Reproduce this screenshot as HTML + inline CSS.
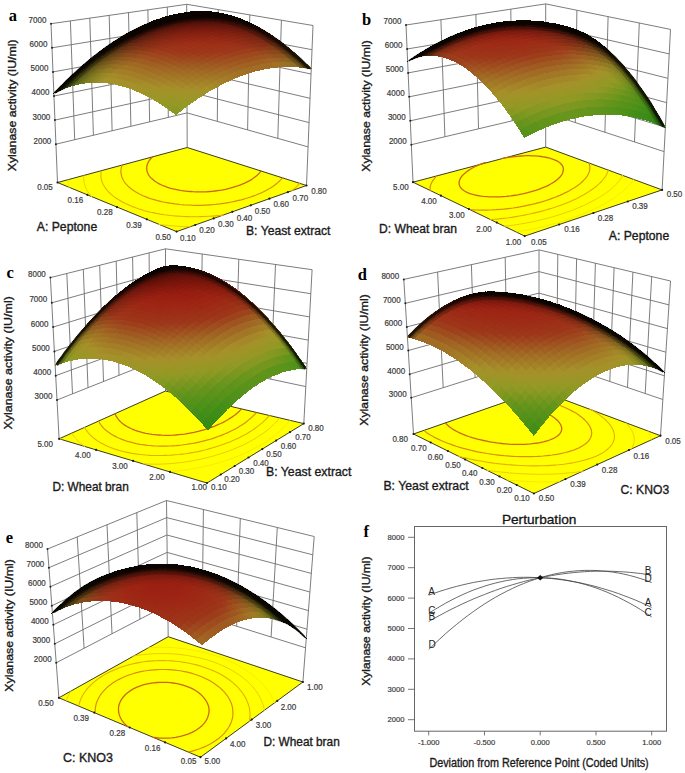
<!DOCTYPE html><html><head><meta charset="utf-8"><style>*{margin:0;padding:0}html,body{width:685px;height:773px;background:#fff;overflow:hidden}
svg{display:block}
text{font-family:"Liberation Sans",sans-serif}
.t{font-size:9.2px;fill:#3a3a3a;stroke:#3a3a3a;stroke-width:.22px}
.yt{font-size:11.2px;fill:#1a1a1a;stroke:#1a1a1a;stroke-width:.35px}
.at{font-size:12.2px;fill:#1a1a1a;stroke:#1a1a1a;stroke-width:.35px}
.pl{font-family:"Liberation Serif",serif;font-weight:bold;font-size:16.5px;fill:#000}
.tf{font-size:7.6px;fill:#3a3a3a;stroke:#3a3a3a;stroke-width:.18px}
.tl{font-size:10px;fill:#222}
.ti{font-size:12.6px;fill:#151515;stroke:#151515;stroke-width:.3px}</style></head><body><svg width="685" height="773" viewBox="0 0 685 773">
<line x1="187.2" y1="147.5" x2="186.7" y2="4.3" stroke="#6e6e6e" stroke-width="0.9"/>
<line x1="168.3" y1="117.4" x2="167.3" y2="7.1" stroke="#6e6e6e" stroke-width="0.9"/>
<line x1="149.6" y1="121.9" x2="147.9" y2="9.8" stroke="#6e6e6e" stroke-width="0.9"/>
<line x1="130.9" y1="126.3" x2="128.5" y2="12.6" stroke="#6e6e6e" stroke-width="0.9"/>
<line x1="112.1" y1="130.8" x2="109.2" y2="15.4" stroke="#6e6e6e" stroke-width="0.9"/>
<line x1="93.4" y1="135.2" x2="89.8" y2="18.2" stroke="#6e6e6e" stroke-width="0.9"/>
<line x1="74.7" y1="139.7" x2="70.4" y2="20.9" stroke="#6e6e6e" stroke-width="0.9"/>
<line x1="57.5" y1="182.5" x2="51" y2="23.7" stroke="#6e6e6e" stroke-width="0.9"/>
<line x1="217.3" y1="121.4" x2="218.3" y2="9.6" stroke="#6e6e6e" stroke-width="0.9"/>
<line x1="247.6" y1="129.9" x2="249.8" y2="14.9" stroke="#6e6e6e" stroke-width="0.9"/>
<line x1="277.8" y1="138.4" x2="281.4" y2="20.2" stroke="#6e6e6e" stroke-width="0.9"/>
<line x1="306.5" y1="185.5" x2="313" y2="25.5" stroke="#6e6e6e" stroke-width="0.9"/>
<line x1="55.9" y1="144.2" x2="187.1" y2="112.9" stroke="#6e6e6e" stroke-width="0.9"/>
<line x1="187.1" y1="112.9" x2="308.1" y2="146.9" stroke="#6e6e6e" stroke-width="0.9"/>
<line x1="54.9" y1="120.1" x2="187" y2="91.2" stroke="#6e6e6e" stroke-width="0.9"/>
<line x1="187" y1="91.2" x2="309.1" y2="122.6" stroke="#6e6e6e" stroke-width="0.9"/>
<line x1="54" y1="96" x2="186.9" y2="69.5" stroke="#6e6e6e" stroke-width="0.9"/>
<line x1="186.9" y1="69.5" x2="310" y2="98.3" stroke="#6e6e6e" stroke-width="0.9"/>
<line x1="53" y1="71.9" x2="186.9" y2="47.7" stroke="#6e6e6e" stroke-width="0.9"/>
<line x1="186.9" y1="47.7" x2="311" y2="74" stroke="#6e6e6e" stroke-width="0.9"/>
<line x1="52" y1="47.8" x2="186.8" y2="26" stroke="#6e6e6e" stroke-width="0.9"/>
<line x1="186.8" y1="26" x2="312" y2="49.7" stroke="#6e6e6e" stroke-width="0.9"/>
<line x1="51" y1="23.7" x2="186.7" y2="4.3" stroke="#6e6e6e" stroke-width="0.9"/>
<line x1="186.7" y1="4.3" x2="313" y2="25.5" stroke="#6e6e6e" stroke-width="0.9"/>
<path d="M187.2 147.5 L57.5 182.5 L176.6 231.6 L306.5 185.5 Z" fill="#ffff00" stroke="#3c3c1e" stroke-width="1"/>
<path d="M68.4 180l-0 1 0 1.2 .1 1.3 .1 .9 .1 .9 .2 .9 .3 1.4" fill="none" stroke="#f6e400" stroke-width="0.8" stroke-linecap="round"/>
<path d="M83.8 175.8l-.1 .9-0 .9 0 1.1 .1 1.2 .1 1.2 .1 .9 .2 .9 .2 .9 .4 1.4 .4 1.1 .3 .8 .4 1 .7 1.5 .5 .8 .5 .8 1.1 1.6 .6 .8 .9 1.1 1 1.3 .6 .7M159 224.4l3.3 .4 2.7 .3 3.6 .4 4.4 .4 3.8 .3 3.2 .2 3.3 .1 3.4 .1 3.5 .1" fill="none" stroke="#eecc00" stroke-width="1.0" stroke-linecap="round"/>
<path d="M291.8 190.7l1.1-.9 1.4-1.2 1.2-1 .9-.8 1.4-1.4 .7-.8 1.1-1.3 .2-.3M101.2 171l-.1 .9-.1 .9-.1 .9-0 1.1 0 1.2 .1 1.2 .1 .9 .2 .9 .2 .9 .3 1.2 .5 1.3 .3 .8 .4 .8 .7 1.3 .7 1.2 .5 .8 .9 1.3 .9 1.1 .7 .8 1.4 1.6 .8 .8 1.6 1.5 .9 .7 1.8 1.5 1 .7 2.1 1.4 2.2 1.4 1.2 .7 2.4 1.4 2.6 1.3 2.8 1.3 2.9 1.3 3.1 1.2 3.3 1.2 3.5 1.1 3.7 1.1 1.9 .5 4 1 3.4 .7 3.1 .6 3.2 .6 3.9 .6 2.5 .3 3.9 .5 4.1 .4 2.9 .2 2.9 .2 3.1 .2 3.5 .1 3.6 .1 3.4 0 3.3-0 3.4-.1 4-.1 4.2-.2 3.4-.2 2.7-.2 3.2-.3 4.6-.5 .7-.1" fill="none" stroke="#e4b000" stroke-width="1.1" stroke-linecap="round"/>
<path d="M122.1 165.2l-.3 .9-.3 .9-.2 .9-.2 .9-.1 .9-.1 .9-0 .9 0 .9 .1 .9 .2 1.2 .3 1.2 .3 1 .3 .8 .3 .8 .6 1.3 .6 1.1 .5 .8 .8 1.1 1 1.2 .7 .8 1.4 1.5 .8 .7 1.6 1.4 1 .8 2 1.4 1 .7 2.2 1.4 2.4 1.3 1.4 .7 2.6 1.2 2.9 1.2 3.1 1.2 3.3 1.1 1.7 .5 3.6 1 3.9 .9 2 .4 4.3 .8 2.3 .4 4.8 .7 2.5 .3 2.6 .3 3.7 .3 3.9 .2 3.7 .2 3.5 .1 3.3 0 3.1-0 3-.1 2.9-.1 3-.2 4.6-.4 3-.3 2.5-.3 4.7-.7 2.2-.4 4.3-.8 2.1-.4 4-.9 3.8-.9 2.3-.6 3-.9 3.3-1.1 3.2-1.1 3-1.1 2.9-1.2 1.4-.6 2.7-1.2 2.5-1.3 1.7-.9 1.8-1 2.2-1.3 1-.7 2-1.4 .9-.7 1.8-1.4 .8-.7 1.5-1.4 .8-.8 .8-.8 1.3-1.4 .6-.8" fill="none" stroke="#d8900a" stroke-width="1.2" stroke-linecap="round"/>
<path d="M152.6 156.8l-.8 .8-.7 .7-.6 .7-.8 1-.7 1-.6 1-.5 1-.4 .9-.3 .9-.2 .9-.2 1-.1 1 0 .9 .1 .9 .1 .9 .2 .8 .3 1 .5 1.3 .5 1 .5 .8 .7 1 1.1 1.3 .7 .7 1.5 1.3 1 .8 1.9 1.4 1.1 .7 2.3 1.3 2.5 1.2 2 .9 2.2 .8 1.6 .6 3.2 1 3.6 .9 3.5 .7 2.6 .5 3 .4 4 .5 2.6 .2 2.8 .2 2.9 .1 3.2 .1 3.4-0 3.7-.1 4-.3 2.5-.2 2.5-.3 4.4-.6 2.1-.3 4-.8 3.7-.9 1.8-.5 3.4-1 3.2-1 3-1.1 1.6-.6 2.5-1.1 2.5-1.2 2-1 1.4-.8 2-1.3 1-.7 1.7-1.3 1-.8 .9-.8 1.3-1.3 .7-.7 .7-.8 .9-1.3 .1-.2" fill="none" stroke="#c86a14" stroke-width="1.3" stroke-linecap="round"/>
<circle cx="57.5" cy="182.5" r="1.1" fill="#1a1a1a"/>
<circle cx="87.3" cy="194.8" r="1.1" fill="#1a1a1a"/>
<circle cx="117" cy="207.1" r="1.1" fill="#1a1a1a"/>
<circle cx="146.8" cy="219.3" r="1.1" fill="#1a1a1a"/>
<circle cx="176.6" cy="231.6" r="1.1" fill="#1a1a1a"/>
<circle cx="306.5" cy="185.5" r="1.1" fill="#1a1a1a"/>
<circle cx="287.9" cy="192.1" r="1.1" fill="#1a1a1a"/>
<circle cx="269.4" cy="198.7" r="1.1" fill="#1a1a1a"/>
<circle cx="250.8" cy="205.3" r="1.1" fill="#1a1a1a"/>
<circle cx="232.3" cy="211.8" r="1.1" fill="#1a1a1a"/>
<circle cx="213.7" cy="218.4" r="1.1" fill="#1a1a1a"/>
<circle cx="195.2" cy="225" r="1.1" fill="#1a1a1a"/>
<g shape-rendering="crispEdges">
<path d="M186.8 13l-5.4 .3 5-1.2 5.4-.2z" fill="#0f0302"/>
<path d="M190.4 11.5l-5.3 1.1 5.1-.1 5.3-1.1z" fill="#0f0302"/>
<path d="M182.7 12.6l-4.4 1.2 4.1-1.2 4.1-.6z" fill="#0f0302"/>
<path d="M194.2 11.1l-5.3 1 5.2 0 5.3-1z" fill="#0e0302"/>
<path d="M186.4 12l-5.3 1.3 5.1-.2 5.3-1.2z" fill="#0f0302"/>
<path d="M178.6 13.3l-5.3 1.5 5.1-.5 5.3-1.5z" fill="#0f0302"/>
<path d="M198 10.9l-5.3 1 5.2 .2 5.3-.9z" fill="#0e0302"/>
<path d="M190.2 11.6l-5.3 1.2 5.2-0 5.3-1.1z" fill="#0e0302"/>
<path d="M182.3 12.7l-5.3 1.4 5.2-.3 5.3-1.4z" fill="#0f0302"/>
<path d="M174.5 14.1l-5.3 1.7 5.1-.6 5.3-1.6z" fill="#0f0302"/>
<path d="M201.8 10.8l-5.4 .9 5.2 .4 5.4-.8z" fill="#0e0302"/>
<path d="M194 11.3l-5.4 1.1 5.2 .2 5.4-1.1z" fill="#0e0302"/>
<path d="M186.1 12.2l-5.4 1.4 5.2-.1 5.4-1.3z" fill="#0e0302"/>
<path d="M178.3 13.5l-5.4 1.6 5.2-.4 5.4-1.5z" fill="#0f0302"/>
<path d="M170.4 15.1l-5.3 1.9 5.1-.6 5.4-1.8z" fill="#0f0402"/>
<path d="M205.7 10.9l-5.4 .8 5.2 .6 5.4-.7z" fill="#0e0302"/>
<path d="M197.8 11.2l-5.4 1 5.2 .3 5.4-1z" fill="#0e0302"/>
<path d="M189.9 11.9l-5.4 1.3 5.2 .1 5.4-1.2z" fill="#0e0302"/>
<path d="M182 12.9l-5.4 1.5 5.2-.2 5.4-1.5z" fill="#0e0302"/>
<path d="M174.1 14.4l-5.4 1.8 5.2-.5 5.4-1.7z" fill="#0f0302"/>
<path d="M166.3 16.2l-5.4 2 5.1-.7 5.4-2z" fill="#0f0402"/>
<path d="M209.6 11.1l-5.4 .7 5.3 .8 5.4-.6z" fill="#0e0302"/>
<path d="M201.7 11.2l-5.4 1 5.2 .5 5.4-.9z" fill="#0e0302"/>
<path d="M193.7 11.7l-5.4 1.2 5.2 .3 5.4-1.1z" fill="#0e0302"/>
<path d="M185.8 12.5l-5.4 1.4 5.2-0 5.4-1.4z" fill="#0e0302"/>
<path d="M177.9 13.8l-5.4 1.7 5.2-.3 5.4-1.6z" fill="#0e0302"/>
<path d="M170 15.4l-5.4 1.9 5.1-.5 5.4-1.9z" fill="#0f0302"/>
<path d="M162.1 17.5l-5.4 2.2 5.1-.8 5.4-2.1z" fill="#0f0402"/>
<path d="M213.5 11.5l-5.4 .6 5.3 1 5.4-.6z" fill="#0e0302"/>
<path d="M205.5 11.4l-5.4 .9 5.3 .7 5.4-.8z" fill="#0e0302"/>
<path d="M197.6 11.7l-5.4 1.1 5.2 .5 5.4-1.1z" fill="#0e0302"/>
<path d="M189.6 12.3l-5.4 1.4 5.2 .2 5.4-1.3z" fill="#0e0302"/>
<path d="M181.7 13.4l-5.4 1.6 5.2-.1 5.4-1.6z" fill="#0e0302"/>
<path d="M173.7 14.8l-5.4 1.9 5.2-.3 5.4-1.8z" fill="#0f0302"/>
<path d="M165.8 16.6l-5.4 2.1 5.1-.6 5.4-2z" fill="#0f0302"/>
<path d="M157.9 18.8l-5.4 2.4 5.1-.9 5.4-2.3z" fill="#0f0402"/>
<path d="M217.5 12.1l-5.4 .5 5.3 1.2 5.4-.5z" fill="#0e0302"/>
<path d="M209.5 11.7l-5.4 .8 5.3 .9 5.4-.7z" fill="#0e0302"/>
<path d="M201.5 11.8l-5.4 1 5.3 .7 5.4-1z" fill="#0e0302"/>
<path d="M193.5 12.2l-5.4 1.3 5.3 .4 5.4-1.2z" fill="#0e0302"/>
<path d="M185.5 13.1l-5.4 1.5 5.2 .1 5.4-1.5z" fill="#0e0302"/>
<path d="M177.5 14.3l-5.4 1.8 5.2-.2 5.4-1.7z" fill="#0e0302"/>
<path d="M169.6 16l-5.4 2 5.2-.4 5.4-2z" fill="#0f0302"/>
<path d="M161.6 18l-5.4 2.3 5.1-.7 5.4-2.2z" fill="#0f0402"/>
<path d="M153.7 20.4l-5.4 2.5 5.1-.9 5.4-2.5z" fill="#0f0402"/>
<path d="M221.4 12.8l-5.4 .5 5.3 1.4 5.4-.4z" fill="#0e0302"/>
<path d="M213.4 12.2l-5.4 .7 5.3 1.1 5.4-.6z" fill="#0e0302"/>
<path d="M205.4 12.1l-5.4 1 5.3 .9 5.4-.9z" fill="#0e0301"/>
<path d="M197.4 12.3l-5.4 1.2 5.3 .6 5.5-1.1z" fill="#0e0302"/>
<path d="M189.4 13l-5.5 1.5 5.3 .3 5.5-1.4z" fill="#0e0302"/>
<path d="M181.3 14l-5.5 1.7 5.2 0 5.5-1.6z" fill="#0e0302"/>
<path d="M173.3 15.4l-5.4 2 5.2-.2 5.5-1.9z" fill="#0e0302"/>
<path d="M165.3 17.2l-5.4 2.2 5.2-.5 5.4-2.1z" fill="#0f0302"/>
<path d="M157.4 19.5l-5.4 2.4 5.1-.8 5.4-2.4z" fill="#0f0402"/>
<path d="M149.4 22.1l-5.4 2.7 5.1-1 5.4-2.6z" fill="#0f0402"/>
<path d="M225.5 13.7l-5.4 .4 5.3 1.6 5.4-.3z" fill="#0e0302"/>
<path d="M217.4 12.9l-5.4 .6 5.3 1.3 5.4-.6z" fill="#0e0302"/>
<path d="M209.4 12.5l-5.5 .9 5.3 1.1 5.5-.8z" fill="#0e0301"/>
<path d="M201.3 12.6l-5.5 1.1 5.3 .8 5.5-1.1z" fill="#0e0301"/>
<path d="M193.2 13l-5.5 1.4 5.3 .5 5.5-1.3z" fill="#0e0302"/>
<path d="M185.2 13.8l-5.5 1.6 5.3 .2 5.5-1.6z" fill="#0e0302"/>
<path d="M177.2 15.1l-5.5 1.9 5.2-0 5.5-1.8z" fill="#0e0302"/>
<path d="M169.1 16.7l-5.5 2.1 5.2-.3 5.5-2.1z" fill="#0f0302"/>
<path d="M161.1 18.7l-5.5 2.4 5.2-.6 5.5-2.3z" fill="#0f0402"/>
<path d="M153.1 21.1l-5.4 2.6 5.1-.8 5.5-2.6z" fill="#0f0402"/>
<path d="M145.1 23.9l-5.4 2.9 5.1-1.1 5.4-2.8z" fill="#0f0402"/>
<path d="M229.5 14.7l-5.4 .3 5.3 1.8 5.4-.2z" fill="#0e0302"/>
<path d="M221.4 13.7l-5.4 .6 5.3 1.5 5.4-.5z" fill="#0e0302"/>
<path d="M213.3 13.2l-5.5 .8 5.3 1.3 5.5-.7z" fill="#0e0301"/>
<path d="M205.3 13l-5.5 1 5.3 1 5.5-1z" fill="#0e0301"/>
<path d="M197.2 13.2l-5.5 1.3 5.3 .7 5.5-1.2z" fill="#0e0301"/>
<path d="M189.1 13.8l-5.5 1.6 5.3 .4 5.5-1.5z" fill="#0e0302"/>
<path d="M181 14.9l-5.5 1.8 5.3 .2 5.5-1.7z" fill="#0e0302"/>
<path d="M172.9 16.3l-5.5 2 5.2-.1 5.5-2z" fill="#0e0302"/>
<path d="M164.9 18.1l-5.5 2.3 5.2-.4 5.5-2.2z" fill="#0f0302"/>
<path d="M156.8 20.3l-5.5 2.5 5.2-.6 5.5-2.5z" fill="#0f0402"/>
<path d="M148.8 22.9l-5.5 2.8 5.1-.9 5.5-2.7z" fill="#0f0402"/>
<path d="M140.8 25.8l-5.4 3 5.1-1.2 5.4-3z" fill="#0f0502"/>
<path d="M233.6 15.9l-5.4 .2 5.4 2 5.4-.2z" fill="#0e0302"/>
<path d="M225.5 14.7l-5.5 .5 5.4 1.7 5.5-.4z" fill="#0e0302"/>
<path d="M217.4 13.9l-5.5 .7 5.3 1.5 5.5-.7z" fill="#0e0301"/>
<path d="M209.2 13.6l-5.5 1 5.3 1.2 5.5-.9z" fill="#0e0301"/>
<path d="M201.1 13.6l-5.5 1.2 5.3 .9 5.5-1.2z" fill="#0e0301"/>
<path d="M193 14l-5.5 1.5 5.3 .6 5.5-1.4z" fill="#0e0302"/>
<path d="M184.9 14.8l-5.5 1.7 5.3 .4 5.5-1.7z" fill="#0e0302"/>
<path d="M176.8 16l-5.5 2 5.3 .1 5.5-1.9z" fill="#0e0302"/>
<path d="M168.7 17.6l-5.5 2.2 5.2-.2 5.5-2.2z" fill="#0f0302"/>
<path d="M160.6 19.6l-5.5 2.5 5.2-.5 5.5-2.4z" fill="#0f0302"/>
<path d="M152.5 22l-5.5 2.7 5.2-.7 5.5-2.7z" fill="#0f0402"/>
<path d="M144.5 24.8l-5.5 3 5.1-1 5.5-2.9z" fill="#0f0402"/>
<path d="M136.4 28l-5.4 3.2 5.1-1.2 5.5-3.1z" fill="#0f0502"/>
<path d="M237.7 17.3l-5.4 .1 5.4 2.2 5.4-.1z" fill="#0e0302"/>
<path d="M229.5 15.9l-5.5 .4 5.4 1.9 5.5-.3z" fill="#0e0302"/>
<path d="M221.4 14.9l-5.5 .6 5.4 1.7 5.5-.6z" fill="#0e0302"/>
<path d="M213.3 14.3l-5.5 .9 5.4 1.4 5.5-.8z" fill="#0e0301"/>
<path d="M205.1 14.1l-5.5 1.1 5.4 1.1 5.5-1.1z" fill="#0e0301"/>
<path d="M196.9 14.3l-5.5 1.4 5.3 .8 5.5-1.3z" fill="#0e0301"/>
<path d="M188.8 14.9l-5.5 1.6 5.3 .6 5.5-1.6z" fill="#0e0302"/>
<path d="M180.6 15.9l-5.5 1.9 5.3 .3 5.5-1.8z" fill="#0e0302"/>
<path d="M172.5 17.3l-5.5 2.1 5.3 0 5.5-2.1z" fill="#0e0302"/>
<path d="M164.4 19.1l-5.5 2.4 5.2-.3 5.5-2.3z" fill="#0f0302"/>
<path d="M156.3 21.3l-5.5 2.6 5.2-.5 5.5-2.6z" fill="#0f0402"/>
<path d="M148.2 23.9l-5.5 2.9 5.2-.8 5.5-2.8z" fill="#0f0402"/>
<path d="M140.1 26.9l-5.5 3.1 5.1-1 5.5-3.1z" fill="#0f0502"/>
<path d="M132.1 30.2l-5.5 3.4 5.1-1.3 5.5-3.3z" fill="#0f0502"/>
<path d="M241.8 18.9l-5.4 .1 5.4 2.4 5.4-0z" fill="#0e0302"/>
<path d="M233.6 17.2l-5.5 .3 5.4 2.1 5.5-.3z" fill="#0e0302"/>
<path d="M225.5 16l-5.5 .6 5.4 1.9 5.5-.5z" fill="#0e0302"/>
<path d="M217.3 15.2l-5.5 .8 5.4 1.6 5.5-.8z" fill="#0e0301"/>
<path d="M209.1 14.8l-5.5 1.1 5.4 1.3 5.5-1z" fill="#0e0301"/>
<path d="M200.9 14.8l-5.5 1.3 5.4 1 5.5-1.3z" fill="#0e0301"/>
<path d="M192.7 15.2l-5.5 1.6 5.3 .8 5.5-1.5z" fill="#0e0302"/>
<path d="M184.6 16l-5.5 1.8 5.3 .5 5.6-1.8z" fill="#0e0302"/>
<path d="M176.4 17.2l-5.5 2.1 5.3 .2 5.6-2z" fill="#0e0302"/>
<path d="M168.2 18.8l-5.5 2.3 5.3-.1 5.5-2.3z" fill="#0e0302"/>
<path d="M160.1 20.7l-5.5 2.6 5.2-.3 5.5-2.5z" fill="#0f0302"/>
<path d="M151.9 23.1l-5.5 2.8 5.2-.6 5.5-2.8z" fill="#0f0402"/>
<path d="M143.8 25.9l-5.5 3.1 5.1-.9 5.5-3z" fill="#0f0402"/>
<path d="M135.7 29.1l-5.5 3.3 5.1-1.1 5.5-3.2z" fill="#0f0502"/>
<path d="M127.7 32.7l-5.5 3.5 5-1.4 5.5-3.5z" fill="#0f0603"/>
<path d="M246 20.6l-5.4-0 5.4 2.6 5.4 .1z" fill="#0f0302"/>
<path d="M237.8 18.7l-5.5 .2 5.4 2.3 5.5-.2z" fill="#0e0302"/>
<path d="M229.6 17.3l-5.5 .5 5.4 2.1 5.5-.4z" fill="#0e0302"/>
<path d="M221.4 16.3l-5.5 .7 5.4 1.8 5.5-.7z" fill="#0e0302"/>
<path d="M213.2 15.7l-5.5 1 5.4 1.5 5.5-.9z" fill="#0e0301"/>
<path d="M204.9 15.4l-5.6 1.2 5.4 1.2 5.6-1.2z" fill="#0e0301"/>
<path d="M196.7 15.6l-5.6 1.5 5.4 1 5.6-1.4z" fill="#0e0301"/>
<path d="M188.5 16.2l-5.6 1.7 5.3 .7 5.6-1.7z" fill="#0e0302"/>
<path d="M180.3 17.2l-5.6 2 5.3 .4 5.6-1.9z" fill="#0e0302"/>
<path d="M172.1 18.6l-5.6 2.2 5.3 .1 5.6-2.2z" fill="#0e0302"/>
<path d="M163.9 20.4l-5.6 2.5 5.3-.1 5.6-2.4z" fill="#0f0302"/>
<path d="M155.7 22.5l-5.5 2.7 5.2-.4 5.6-2.7z" fill="#0f0402"/>
<path d="M147.6 25.1l-5.5 3 5.2-.7 5.5-2.9z" fill="#0f0402"/>
<path d="M139.4 28.1l-5.5 3.2 5.1-.9 5.5-3.2z" fill="#0f0502"/>
<path d="M131.3 31.5l-5.5 3.5 5.1-1.2 5.5-3.4z" fill="#0f0502"/>
<path d="M123.2 35.2l-5.5 3.7 5-1.4 5.5-3.7z" fill="#0f0703"/>
<path d="M250.2 22.5l-5.4-.1 5.4 2.8 5.4 .1z" fill="#160503"/>
<path d="M241.9 20.4l-5.5 .2 5.4 2.5 5.5-.1z" fill="#160503"/>
<path d="M233.7 18.8l-5.5 .4 5.4 2.3 5.5-.4z" fill="#160502"/>
<path d="M225.5 17.5l-5.5 .7 5.4 2 5.5-.6z" fill="#140402"/>
<path d="M217.2 16.7l-5.5 .9 5.4 1.7 5.5-.8z" fill="#120302"/>
<path d="M209 16.3l-5.6 1.2 5.4 1.4 5.6-1.1z" fill="#0e0302"/>
<path d="M200.7 16.2l-5.6 1.4 5.4 1.2 5.6-1.4z" fill="#0e0301"/>
<path d="M192.5 16.6l-5.6 1.7 5.4 .9 5.6-1.6z" fill="#0e0302"/>
<path d="M184.2 17.4l-5.6 1.9 5.4 .6 5.6-1.9z" fill="#0e0302"/>
<path d="M176 18.5l-5.6 2.2 5.3 .3 5.6-2.1z" fill="#0e0302"/>
<path d="M167.8 20.1l-5.6 2.4 5.3 .1 5.6-2.4z" fill="#0e0302"/>
<path d="M159.6 22.1l-5.6 2.7 5.3-.2 5.6-2.6z" fill="#0f0302"/>
<path d="M151.4 24.5l-5.6 2.9 5.2-.5 5.6-2.9z" fill="#0f0402"/>
<path d="M143.2 27.3l-5.5 3.2 5.2-.7 5.6-3.1z" fill="#0f0402"/>
<path d="M135 30.4l-5.5 3.4 5.1-1 5.5-3.4z" fill="#0f0502"/>
<path d="M126.9 34l-5.5 3.6 5.1-1.2 5.5-3.6z" fill="#0f0603"/>
<path d="M118.8 38l-5.5 3.9 5-1.5 5.5-3.8z" fill="#0f0803"/>
<path d="M254.4 24.6l-5.4-.1 5.4 3 5.4 .2z" fill="#230905"/>
<path d="M246.1 22.3l-5.5 .1 5.4 2.7 5.5-0z" fill="#250804"/>
<path d="M237.9 20.4l-5.5 .3 5.4 2.5 5.5-.3z" fill="#240804"/>
<path d="M229.6 19l-5.5 .6 5.4 2.2 5.5-.5z" fill="#230704"/>
<path d="M221.3 17.9l-5.6 .8 5.4 1.9 5.5-.8z" fill="#210704"/>
<path d="M213.1 17.2l-5.6 1.1 5.4 1.6 5.6-1z" fill="#1f0603"/>
<path d="M204.8 17l-5.6 1.3 5.4 1.4 5.6-1.3z" fill="#1b0503"/>
<path d="M196.5 17.1l-5.6 1.6 5.4 1.1 5.6-1.5z" fill="#170402"/>
<path d="M188.2 17.7l-5.6 1.8 5.4 .8 5.6-1.8z" fill="#110302"/>
<path d="M179.9 18.7l-5.6 2.1 5.4 .5 5.6-2z" fill="#0e0302"/>
<path d="M171.7 20l-5.6 2.3 5.3 .3 5.6-2.3z" fill="#0e0302"/>
<path d="M163.4 21.8l-5.6 2.6 5.3-0 5.6-2.5z" fill="#0f0302"/>
<path d="M155.2 24l-5.6 2.8 5.3-.3 5.6-2.8z" fill="#0f0402"/>
<path d="M146.9 26.6l-5.6 3.1 5.2-.5 5.6-3z" fill="#0f0402"/>
<path d="M138.7 29.6l-5.6 3.3 5.2-.8 5.6-3.3z" fill="#0f0502"/>
<path d="M130.6 32.9l-5.5 3.6 5.1-1.1 5.6-3.5z" fill="#0f0502"/>
<path d="M122.4 36.7l-5.5 3.8 5.1-1.3 5.5-3.8z" fill="#0f0703"/>
<path d="M114.3 40.8l-5.5 4.1 5-1.6 5.5-4z" fill="#0f0903"/>
<path d="M258.6 26.8l-5.4-.2 5.4 3.2 5.4 .3z" fill="#2f0d06"/>
<path d="M250.4 24.3l-5.5 0 5.4 3 5.5 0z" fill="#310c06"/>
<path d="M242.1 22.2l-5.5 .3 5.4 2.7 5.5-.2z" fill="#320b06"/>
<path d="M233.8 20.6l-5.5 .5 5.4 2.4 5.5-.5z" fill="#310a06"/>
<path d="M225.5 19.3l-5.6 .8 5.4 2.1 5.6-.7z" fill="#2f0a05"/>
<path d="M217.2 18.4l-5.6 1 5.4 1.8 5.6-.9z" fill="#2d0905"/>
<path d="M208.9 17.9l-5.6 1.3 5.4 1.6 5.6-1.2z" fill="#2a0805"/>
<path d="M200.5 17.9l-5.6 1.5 5.4 1.3 5.6-1.5z" fill="#270804"/>
<path d="M192.2 18.2l-5.6 1.8 5.4 1 5.6-1.7z" fill="#220704"/>
<path d="M183.9 19l-5.6 2 5.4 .7 5.6-2z" fill="#1d0603"/>
<path d="M175.6 20.1l-5.6 2.3 5.4 .5 5.6-2.2z" fill="#160503"/>
<path d="M167.3 21.7l-5.6 2.5 5.3 .2 5.6-2.5z" fill="#0f0302"/>
<path d="M159 23.7l-5.6 2.8 5.3-.1 5.6-2.7z" fill="#0f0302"/>
<path d="M150.8 26l-5.6 3 5.3-.3 5.6-3z" fill="#0f0402"/>
<path d="M142.5 28.8l-5.6 3.3 5.2-.6 5.6-3.2z" fill="#0f0402"/>
<path d="M134.3 32l-5.6 3.5 5.2-.9 5.6-3.5z" fill="#0f0502"/>
<path d="M126.1 35.6l-5.6 3.8 5.1-1.1 5.6-3.7z" fill="#0f0603"/>
<path d="M117.9 39.5l-5.5 4 5.1-1.4 5.5-3.9z" fill="#0f0803"/>
<path d="M109.8 43.9l-5.5 4.2 5-1.6 5.5-4.2z" fill="#0f0a03"/>
<path d="M262.9 29.3l-5.4-.3 5.4 3.4 5.4 .3z" fill="#3a1108"/>
<path d="M254.6 26.6l-5.5-0 5.4 3.2 5.5 .1z" fill="#3c0f08"/>
<path d="M246.3 24.2l-5.5 .2 5.5 2.9 5.5-.1z" fill="#3d0e08"/>
<path d="M238 22.3l-5.5 .4 5.5 2.6 5.5-.4z" fill="#3d0d07"/>
<path d="M229.7 20.8l-5.6 .7 5.5 2.3 5.6-.6z" fill="#3c0d07"/>
<path d="M221.3 19.7l-5.6 .9 5.5 2.1 5.6-.9z" fill="#3a0c06"/>
<path d="M213 19l-5.6 1.2 5.5 1.8 5.6-1.1z" fill="#380b06"/>
<path d="M204.6 18.8l-5.6 1.4 5.4 1.5 5.6-1.4z" fill="#350b06"/>
<path d="M196.3 18.9l-5.6 1.7 5.4 1.2 5.6-1.6z" fill="#320a05"/>
<path d="M187.9 19.4l-5.6 1.9 5.4 .9 5.6-1.9z" fill="#2d0905"/>
<path d="M179.6 20.4l-5.6 2.2 5.4 .7 5.7-2.1z" fill="#280805"/>
<path d="M171.2 21.7l-5.6 2.4 5.4 .4 5.7-2.4z" fill="#210704"/>
<path d="M162.9 23.5l-5.6 2.7 5.3 .1 5.6-2.6z" fill="#190603"/>
<path d="M154.6 25.7l-5.6 2.9 5.3-.1 5.6-2.9z" fill="#0f0402"/>
<path d="M146.3 28.2l-5.6 3.2 5.2-.4 5.6-3.1z" fill="#0f0402"/>
<path d="M138 31.2l-5.6 3.4 5.2-.7 5.6-3.4z" fill="#0f0502"/>
<path d="M129.8 34.6l-5.6 3.7 5.2-.9 5.6-3.6z" fill="#0f0502"/>
<path d="M121.6 38.4l-5.6 3.9 5.1-1.2 5.6-3.9z" fill="#0f0703"/>
<path d="M113.4 42.5l-5.5 4.2 5-1.4 5.6-4.1z" fill="#0f0903"/>
<path d="M105.2 47.1l-5.5 4.4 5-1.7 5.5-4.4z" fill="#0f0b03"/>
<path d="M267.2 31.9l-5.4-.4 5.4 3.6 5.4 .4z" fill="#43150a"/>
<path d="M258.9 29l-5.5-.1 5.5 3.4 5.5 .2z" fill="#45130a"/>
<path d="M250.6 26.4l-5.5 .1 5.5 3.1 5.5-.1z" fill="#471209"/>
<path d="M242.2 24.3l-5.5 .4 5.5 2.8 5.5-.3z" fill="#481009"/>
<path d="M233.9 22.6l-5.6 .6 5.5 2.5 5.6-.6z" fill="#470f08"/>
<path d="M225.5 21.2l-5.6 .9 5.5 2.3 5.6-.8z" fill="#460f08"/>
<path d="M217.1 20.3l-5.6 1.1 5.5 2 5.6-1.1z" fill="#440e08"/>
<path d="M208.7 19.8l-5.6 1.4 5.5 1.7 5.6-1.3z" fill="#420d07"/>
<path d="M200.3 19.7l-5.6 1.6 5.4 1.4 5.7-1.6z" fill="#3f0d07"/>
<path d="M192 20.1l-5.7 1.9 5.4 1.2 5.7-1.8z" fill="#3b0c07"/>
<path d="M183.6 20.8l-5.7 2.1 5.4 .9 5.7-2.1z" fill="#370b06"/>
<path d="M175.2 22l-5.7 2.4 5.4 .6 5.7-2.3z" fill="#320b06"/>
<path d="M166.8 23.5l-5.7 2.6 5.4 .3 5.7-2.6z" fill="#2c0a05"/>
<path d="M158.5 25.5l-5.7 2.9 5.3 .1 5.7-2.8z" fill="#230905"/>
<path d="M150.2 27.8l-5.6 3.1 5.3-.2 5.7-3.1z" fill="#1a0704"/>
<path d="M141.8 30.6l-5.6 3.4 5.2-.5 5.6-3.3z" fill="#0f0402"/>
<path d="M133.5 33.8l-5.6 3.6 5.2-.7 5.6-3.6z" fill="#0f0502"/>
<path d="M125.3 37.4l-5.6 3.9 5.1-1 5.6-3.8z" fill="#0f0603"/>
<path d="M117.1 41.3l-5.6 4.1 5.1-1.3 5.6-4.1z" fill="#0f0803"/>
<path d="M108.9 45.7l-5.6 4.3 5-1.5 5.6-4.3z" fill="#0f0a03"/>
<path d="M100.7 50.4l-5.5 4.6 5-1.7 5.5-4.5z" fill="#0f0c04"/>
<path d="M271.5 34.7l-5.4-.4 5.5 3.8 5.4 .5z" fill="#4c190c"/>
<path d="M263.2 31.5l-5.5-.2 5.5 3.6 5.4 .2z" fill="#4e170b"/>
<path d="M254.8 28.8l-5.5 .1 5.5 3.3 5.5 0z" fill="#50150b"/>
<path d="M246.5 26.4l-5.5 .3 5.5 3 5.5-.2z" fill="#51140a"/>
<path d="M238.1 24.5l-5.6 .5 5.5 2.8 5.6-.5z" fill="#51120a"/>
<path d="M229.7 22.9l-5.6 .8 5.5 2.5 5.6-.7z" fill="#501109"/>
<path d="M221.3 21.8l-5.6 1 5.5 2.2 5.6-1z" fill="#4f1009"/>
<path d="M212.9 21.1l-5.6 1.3 5.5 1.9 5.6-1.2z" fill="#4d1009"/>
<path d="M204.5 20.8l-5.7 1.5 5.5 1.6 5.7-1.5z" fill="#4a0f08"/>
<path d="M196 20.9l-5.7 1.8 5.5 1.4 5.7-1.7z" fill="#480f08"/>
<path d="M187.6 21.4l-5.7 2 5.4 1.1 5.7-2z" fill="#440e08"/>
<path d="M179.2 22.3l-5.7 2.3 5.4 .8 5.7-2.2z" fill="#400e07"/>
<path d="M170.8 23.7l-5.7 2.6 5.4 .5 5.7-2.5z" fill="#3b0d07"/>
<path d="M162.4 25.4l-5.7 2.8 5.4 .3 5.7-2.7z" fill="#350c07"/>
<path d="M154 27.6l-5.7 3.1 5.3-0 5.7-3z" fill="#2c0c06"/>
<path d="M145.7 30.2l-5.7 3.3 5.3-.3 5.7-3.2z" fill="#230a05"/>
<path d="M137.3 33.1l-5.6 3.6 5.2-.5 5.7-3.5z" fill="#180804"/>
<path d="M129 36.5l-5.6 3.8 5.2-.8 5.6-3.7z" fill="#0f0502"/>
<path d="M120.7 40.3l-5.6 4 5.1-1.1 5.6-4z" fill="#0f0703"/>
<path d="M112.5 44.4l-5.6 4.3 5.1-1.3 5.6-4.2z" fill="#0f0903"/>
<path d="M104.3 49l-5.6 4.5 5-1.6 5.6-4.5z" fill="#0f0b03"/>
<path d="M96.1 54l-5.5 4.8 4.9-1.8 5.6-4.7z" fill="#0f0c04"/>
<path d="M275.9 37.7l-5.4-.5 5.5 4.1 5.4 .5z" fill="#531e0e"/>
<path d="M267.5 34.3l-5.5-.3 5.5 3.8 5.4 .3z" fill="#561b0d"/>
<path d="M259.1 31.3l-5.5-0 5.5 3.5 5.5 .1z" fill="#58190d"/>
<path d="M250.8 28.7l-5.5 .2 5.5 3.2 5.5-.2z" fill="#59170c"/>
<path d="M242.4 26.6l-5.6 .5 5.5 3 5.6-.4z" fill="#5a150b"/>
<path d="M233.9 24.8l-5.6 .7 5.5 2.7 5.6-.7z" fill="#5a140b"/>
<path d="M225.5 23.4l-5.6 1 5.5 2.4 5.6-.9z" fill="#59130a"/>
<path d="M217 22.5l-5.7 1.2 5.5 2.1 5.7-1.2z" fill="#57120a"/>
<path d="M208.6 22l-5.7 1.5 5.5 1.8 5.7-1.4z" fill="#55110a"/>
<path d="M200.1 21.9l-5.7 1.7 5.5 1.6 5.7-1.7z" fill="#521109"/>
<path d="M191.7 22.2l-5.7 2 5.5 1.3 5.7-1.9z" fill="#501109"/>
<path d="M183.2 22.9l-5.7 2.2 5.4 1 5.7-2.2z" fill="#4d1009"/>
<path d="M174.8 24l-5.7 2.5 5.4 .7 5.7-2.4z" fill="#491009"/>
<path d="M166.4 25.5l-5.7 2.7 5.4 .5 5.7-2.7z" fill="#431008"/>
<path d="M157.9 27.5l-5.7 3 5.4 .2 5.7-2.9z" fill="#3d0f08"/>
<path d="M149.5 29.9l-5.7 3.2 5.3-.1 5.7-3.2z" fill="#350f07"/>
<path d="M141.2 32.6l-5.7 3.5 5.3-.3 5.7-3.4z" fill="#2c0d07"/>
<path d="M132.8 35.8l-5.7 3.7 5.2-.6 5.7-3.7z" fill="#210b05"/>
<path d="M124.5 39.4l-5.6 4 5.2-.9 5.7-3.9z" fill="#150904"/>
<path d="M116.2 43.3l-5.6 4.2 5.1-1.1 5.6-4.2z" fill="#0f0803"/>
<path d="M107.9 47.7l-5.6 4.5 5.1-1.4 5.6-4.4z" fill="#0f0a03"/>
<path d="M99.7 52.5l-5.6 4.7 5-1.6 5.6-4.6z" fill="#0f0c04"/>
<path d="M91.5 57.6l-5.5 4.9 4.9-1.9 5.6-4.9z" fill="#0f0d04"/>
<path d="M280.2 40.9l-5.4-.6 5.5 4.3 5.4 .6z" fill="#5a2710"/>
<path d="M271.9 37.3l-5.4-.3 5.5 4 5.4 .4z" fill="#5c200f"/>
<path d="M263.5 34l-5.5-.1 5.5 3.7 5.5 .1z" fill="#5f1d0e"/>
<path d="M255.1 31.2l-5.5 .2 5.5 3.4 5.5-.1z" fill="#601b0e"/>
<path d="M246.6 28.8l-5.6 .4 5.5 3.2 5.6-.3z" fill="#61190d"/>
<path d="M238.2 26.8l-5.6 .6 5.5 2.9 5.6-.6z" fill="#62170c"/>
<path d="M229.7 25.3l-5.6 .9 5.5 2.6 5.6-.8z" fill="#62150c"/>
<path d="M221.3 24.1l-5.7 1.1 5.5 2.3 5.7-1.1z" fill="#60140b"/>
<path d="M212.8 23.3l-5.7 1.4 5.5 2.1 5.7-1.3z" fill="#5e140b"/>
<path d="M204.3 23l-5.7 1.6 5.5 1.8 5.7-1.6z" fill="#5c130b"/>
<path d="M195.8 23.1l-5.7 1.9 5.5 1.5 5.7-1.8z" fill="#5a130a"/>
<path d="M187.3 23.6l-5.7 2.2 5.5 1.2 5.7-2.1z" fill="#57120a"/>
<path d="M178.8 24.5l-5.7 2.4 5.4 .9 5.7-2.3z" fill="#54120a"/>
<path d="M170.4 25.8l-5.7 2.7 5.4 .7 5.7-2.6z" fill="#50120a"/>
<path d="M161.9 27.6l-5.7 2.9 5.4 .4 5.7-2.9z" fill="#4b120a"/>
<path d="M153.4 29.7l-5.7 3.2 5.3 .1 5.7-3.1z" fill="#441209"/>
<path d="M145 32.3l-5.7 3.4 5.3-.1 5.7-3.4z" fill="#3c1209"/>
<path d="M136.6 35.3l-5.7 3.7 5.3-.4 5.7-3.6z" fill="#331108"/>
<path d="M128.2 38.6l-5.7 3.9 5.2-.7 5.7-3.9z" fill="#291007"/>
<path d="M119.9 42.4l-5.7 4.2 5.2-.9 5.7-4.1z" fill="#1d0f06"/>
<path d="M111.6 46.6l-5.6 4.4 5.1-1.2 5.7-4.3z" fill="#100a03"/>
<path d="M103.3 51.2l-5.6 4.6 5-1.4 5.6-4.6z" fill="#0f0b04"/>
<path d="M95 56.1l-5.6 4.9 5-1.7 5.6-4.8z" fill="#0f0d04"/>
<path d="M86.8 61.5l-5.6 5.1 4.9-1.9 5.6-5.1z" fill="#0f0e04"/>
<path d="M284.6 44.2l-5.4-.6 5.5 4.5 5.4 .7z" fill="#613013"/>
<path d="M276.3 40.4l-5.4-.4 5.5 4.2 5.4 .4z" fill="#632711"/>
<path d="M267.8 36.9l-5.5-.1 5.5 3.9 5.5 .2z" fill="#652110"/>
<path d="M259.4 33.9l-5.5 .1 5.5 3.7 5.5-0z" fill="#671f0f"/>
<path d="M251 31.3l-5.6 .3 5.5 3.4 5.6-.3z" fill="#681c0e"/>
<path d="M242.5 29.1l-5.6 .6 5.5 3.1 5.6-.5z" fill="#691a0e"/>
<path d="M234 27.3l-5.6 .8 5.5 2.8 5.6-.8z" fill="#69180d"/>
<path d="M225.5 25.9l-5.7 1.1 5.5 2.6 5.7-1z" fill="#69170d"/>
<path d="M217 24.9l-5.7 1.3 5.5 2.3 5.7-1.3z" fill="#67160c"/>
<path d="M208.5 24.3l-5.7 1.6 5.5 2 5.7-1.5z" fill="#65150c"/>
<path d="M199.9 24.2l-5.7 1.8 5.5 1.7 5.7-1.8z" fill="#63150b"/>
<path d="M191.4 24.5l-5.7 2.1 5.5 1.4 5.7-2z" fill="#61150b"/>
<path d="M182.9 25.2l-5.7 2.3 5.5 1.2 5.7-2.3z" fill="#5f140b"/>
<path d="M174.4 26.3l-5.7 2.6 5.4 .9 5.8-2.5z" fill="#5c140b"/>
<path d="M165.9 27.8l-5.7 2.8 5.4 .6 5.8-2.8z" fill="#57150b"/>
<path d="M157.4 29.8l-5.7 3.1 5.4 .3 5.8-3z" fill="#51150b"/>
<path d="M148.9 32.1l-5.7 3.3 5.3 .1 5.7-3.3z" fill="#4b160b"/>
<path d="M140.5 34.9l-5.7 3.6 5.3-.2 5.7-3.5z" fill="#43150a"/>
<path d="M132 38.1l-5.7 3.8 5.3-.5 5.7-3.8z" fill="#3a150a"/>
<path d="M123.7 41.6l-5.7 4.1 5.2-.7 5.7-4z" fill="#311609"/>
<path d="M115.3 45.6l-5.7 4.3 5.1-1 5.7-4.3z" fill="#251508"/>
<path d="M106.9 50l-5.6 4.6 5.1-1.2 5.7-4.5z" fill="#181005"/>
<path d="M98.7 54.8l-5.6 4.8 5-1.5 5.6-4.8z" fill="#0f0c04"/>
<path d="M90.4 59.9l-5.6 5.1 5-1.7 5.6-5z" fill="#0f0e04"/>
<path d="M82.2 65.5l-5.6 5.3 4.9-2 5.6-5.2z" fill="#0e0e04"/>
<path d="M289.1 47.8l-5.4-.7 5.5 4.7 5.4 .7z" fill="#673b16"/>
<path d="M280.7 43.7l-5.4-.4 5.5 4.4 5.4 .5z" fill="#693114"/>
<path d="M272.2 40l-5.5-.2 5.5 4.1 5.5 .3z" fill="#6b2712"/>
<path d="M263.8 36.8l-5.5 0 5.5 3.9 5.5 0z" fill="#6d2311"/>
<path d="M255.3 33.9l-5.6 .3 5.5 3.6 5.6-.2z" fill="#6e2010"/>
<path d="M246.8 31.5l-5.6 .5 5.6 3.3 5.6-.5z" fill="#6f1e0f"/>
<path d="M238.3 29.4l-5.6 .8 5.6 3 5.6-.7z" fill="#701b0e"/>
<path d="M229.8 27.8l-5.7 1 5.6 2.8 5.7-.9z" fill="#701a0e"/>
<path d="M221.2 26.6l-5.7 1.3 5.6 2.5 5.7-1.2z" fill="#6f180d"/>
<path d="M212.7 25.9l-5.7 1.5 5.5 2.2 5.7-1.4z" fill="#6e180d"/>
<path d="M204.1 25.5l-5.7 1.8 5.5 1.9 5.7-1.7z" fill="#6c170d"/>
<path d="M195.5 25.6l-5.8 2 5.5 1.6 5.8-2z" fill="#6a170c"/>
<path d="M187 26l-5.8 2.3 5.5 1.4 5.8-2.2z" fill="#68170c"/>
<path d="M178.4 26.9l-5.8 2.5 5.5 1.1 5.8-2.5z" fill="#66170c"/>
<path d="M169.9 28.2l-5.8 2.8 5.4 .8 5.8-2.7z" fill="#62170c"/>
<path d="M161.4 30l-5.8 3 5.4 .5 5.8-3z" fill="#5d180c"/>
<path d="M152.9 32.1l-5.8 3.3 5.4 .3 5.8-3.2z" fill="#57180c"/>
<path d="M144.4 34.7l-5.8 3.5 5.3-0 5.8-3.5z" fill="#51190c"/>
<path d="M135.9 37.6l-5.7 3.8 5.3-.3 5.8-3.7z" fill="#49190c"/>
<path d="M127.4 41l-5.7 4 5.2-.5 5.7-4z" fill="#411b0c"/>
<path d="M119 44.8l-5.7 4.3 5.2-.8 5.7-4.2z" fill="#371d0b"/>
<path d="M110.6 49l-5.7 4.5 5.1-1.1 5.7-4.5z" fill="#2c1d0a"/>
<path d="M102.3 53.5l-5.7 4.8 5.1-1.3 5.7-4.7z" fill="#201807"/>
<path d="M94 58.5l-5.6 5 5-1.6 5.7-4.9z" fill="#100e04"/>
<path d="M85.7 63.9l-5.6 5.2 4.9-1.8 5.6-5.2z" fill="#0f0e04"/>
<path d="M77.5 69.6l-5.6 5.5 4.9-2 5.6-5.4z" fill="#0e0e03"/>
<path d="M293.5 51.5l-5.4-.7 5.5 4.9 5.4 .8z" fill="#6d4719"/>
<path d="M285.1 47.2l-5.4-.5 5.5 4.6 5.4 .6z" fill="#6f3c16"/>
<path d="M276.7 43.3l-5.5-.3 5.5 4.4 5.5 .3z" fill="#713114"/>
<path d="M268.2 39.8l-5.5-0 5.6 4.1 5.5 .1z" fill="#722713"/>
<path d="M259.7 36.8l-5.6 .2 5.6 3.8 5.6-.1z" fill="#742412"/>
<path d="M251.2 34.1l-5.6 .4 5.6 3.5 5.6-.4z" fill="#752111"/>
<path d="M242.6 31.8l-5.6 .7 5.6 3.3 5.6-.6z" fill="#761f10"/>
<path d="M234.1 30l-5.7 .9 5.6 3 5.7-.9z" fill="#761d0f"/>
<path d="M225.5 28.6l-5.7 1.2 5.6 2.7 5.7-1.1z" fill="#761b0f"/>
<path d="M216.9 27.6l-5.7 1.4 5.6 2.4 5.7-1.4z" fill="#761a0e"/>
<path d="M208.3 27l-5.7 1.7 5.6 2.1 5.7-1.6z" fill="#74190e"/>
<path d="M199.7 26.8l-5.8 1.9 5.5 1.9 5.8-1.9z" fill="#72190e"/>
<path d="M191.1 27.1l-5.8 2.2 5.5 1.6 5.8-2.1z" fill="#71180d"/>
<path d="M182.5 27.7l-5.8 2.4 5.5 1.3 5.8-2.4z" fill="#6e190d"/>
<path d="M174 28.8l-5.8 2.7 5.5 1 5.8-2.6z" fill="#6b190d"/>
<path d="M165.4 30.3l-5.8 3 5.4 .7 5.8-2.9z" fill="#671a0e"/>
<path d="M156.8 32.3l-5.8 3.2 5.4 .5 5.8-3.2z" fill="#621b0e"/>
<path d="M148.3 34.6l-5.8 3.5 5.4 .2 5.8-3.4z" fill="#5d1c0e"/>
<path d="M139.8 37.4l-5.8 3.7 5.3-.1 5.8-3.7z" fill="#561c0e"/>
<path d="M131.3 40.5l-5.8 4 5.3-.3 5.8-3.9z" fill="#4f1f0e"/>
<path d="M122.8 44.1l-5.7 4.2 5.2-.6 5.8-4.2z" fill="#47230e"/>
<path d="M114.4 48.1l-5.7 4.5 5.2-.9 5.7-4.4z" fill="#3e250d"/>
<path d="M106 52.5l-5.7 4.7 5.1-1.1 5.7-4.6z" fill="#33240c"/>
<path d="M97.6 57.3l-5.7 4.9 5.1-1.4 5.7-4.9z" fill="#271f09"/>
<path d="M89.3 62.4l-5.6 5.2 5-1.6 5.7-5.1z" fill="#181506"/>
<path d="M81 68l-5.6 5.4 4.9-1.8 5.6-5.4z" fill="#0e0e03"/>
<path d="M72.8 74l-5.6 5.6 4.9-2.1 5.6-5.6z" fill="#0c0e03"/>
<path d="M298 55.5l-5.4-.8 5.5 5.1 5.3 .8z" fill="#72521b"/>
<path d="M289.6 50.9l-5.4-.6 5.5 4.8 5.4 .6z" fill="#744819"/>
<path d="M281.1 46.8l-5.5-.3 5.5 4.6 5.5 .4z" fill="#763c17"/>
<path d="M272.6 43.1l-5.5-.1 5.6 4.3 5.5 .2z" fill="#773015"/>
<path d="M264.1 39.8l-5.6 .1 5.6 4 5.6-.1z" fill="#792913"/>
<path d="M255.5 36.9l-5.6 .4 5.6 3.7 5.6-.3z" fill="#7a2612"/>
<path d="M247 34.4l-5.6 .6 5.6 3.5 5.6-.6z" fill="#7b2311"/>
<path d="M238.4 32.3l-5.7 .9 5.6 3.2 5.7-.8z" fill="#7c2011"/>
<path d="M229.8 30.7l-5.7 1.1 5.6 2.9 5.7-1.1z" fill="#7c1e10"/>
<path d="M221.2 29.4l-5.7 1.4 5.6 2.6 5.7-1.3z" fill="#7c1d0f"/>
<path d="M212.6 28.6l-5.8 1.6 5.6 2.4 5.8-1.6z" fill="#7b1b0f"/>
<path d="M203.9 28.2l-5.8 1.9 5.6 2.1 5.8-1.8z" fill="#7a1b0f"/>
<path d="M195.3 28.3l-5.8 2.1 5.5 1.8 5.8-2.1z" fill="#781a0f"/>
<path d="M186.7 28.7l-5.8 2.4 5.5 1.5 5.8-2.3z" fill="#761b0f"/>
<path d="M178.1 29.6l-5.8 2.6 5.5 1.2 5.8-2.6z" fill="#731b0f"/>
<path d="M169.4 30.9l-5.8 2.9 5.5 1 5.8-2.8z" fill="#701c0f"/>
<path d="M160.8 32.6l-5.8 3.1 5.4 .7 5.8-3.1z" fill="#6c1d0f"/>
<path d="M152.3 34.7l-5.8 3.4 5.4 .4 5.8-3.3z" fill="#671e0f"/>
<path d="M143.7 37.3l-5.8 3.6 5.4 .1 5.8-3.6z" fill="#621f0f"/>
<path d="M135.2 40.2l-5.8 3.9 5.3-.1 5.8-3.8z" fill="#5b200f"/>
<path d="M126.6 43.6l-5.8 4.1 5.3-.4 5.8-4.1z" fill="#552610"/>
<path d="M118.2 47.4l-5.8 4.4 5.2-.7 5.8-4.3z" fill="#4d2b10"/>
<path d="M109.7 51.6l-5.7 4.6 5.2-.9 5.7-4.6z" fill="#442e0f"/>
<path d="M101.3 56.2l-5.7 4.9 5.1-1.2 5.7-4.8z" fill="#3a2c0e"/>
<path d="M92.9 61.2l-5.7 5.1 5-1.4 5.7-5.1z" fill="#2e270b"/>
<path d="M84.6 66.5l-5.7 5.4 5-1.7 5.7-5.3z" fill="#1d1c07"/>
<path d="M76.3 72.3l-5.6 5.6 4.9-1.9 5.6-5.5z" fill="#0d0e03"/>
<path d="M68 78.5l-5.6 5.8 4.8-2.1 5.6-5.8z" fill="#0b0e03"/>
<path d="M302.5 59.6l-5.3-.8 5.5 5.3 5.3 .9z" fill="#785e1d"/>
<path d="M294 54.9l-5.4-.6 5.5 5 5.4 .7z" fill="#79541c"/>
<path d="M285.6 50.5l-5.5-.4 5.6 4.8 5.4 .4z" fill="#7b481a"/>
<path d="M277.1 46.5l-5.5-.2 5.6 4.5 5.5 .2z" fill="#7c3c18"/>
<path d="M268.5 43l-5.6 .1 5.6 4.2 5.5-0z" fill="#7e3015"/>
<path d="M259.9 39.9l-5.6 .3 5.6 4 5.6-.3z" fill="#7f2a14"/>
<path d="M251.4 37.1l-5.6 .6 5.6 3.7 5.6-.5z" fill="#802713"/>
<path d="M242.7 34.8l-5.7 .8 5.6 3.4 5.7-.7z" fill="#812412"/>
<path d="M234.1 33l-5.7 1.1 5.6 3.1 5.7-1z" fill="#812211"/>
<path d="M225.5 31.5l-5.7 1.3 5.6 2.8 5.7-1.2z" fill="#812011"/>
<path d="M216.8 30.5l-5.7 1.5 5.6 2.6 5.7-1.5z" fill="#811e10"/>
<path d="M208.2 29.8l-5.8 1.8 5.6 2.3 5.8-1.7z" fill="#801d10"/>
<path d="M199.5 29.6l-5.8 2.1 5.6 2 5.8-2z" fill="#7f1d10"/>
<path d="M190.8 29.9l-5.8 2.3 5.6 1.7 5.8-2.3z" fill="#7d1d10"/>
<path d="M182.2 30.5l-5.8 2.6 5.5 1.5 5.8-2.5z" fill="#7b1d10"/>
<path d="M173.5 31.6l-5.8 2.8 5.5 1.2 5.8-2.8z" fill="#781e10"/>
<path d="M164.9 33.1l-5.8 3.1 5.5 .9 5.8-3z" fill="#751f10"/>
<path d="M156.3 35l-5.8 3.3 5.4 .6 5.8-3.3z" fill="#712010"/>
<path d="M147.7 37.4l-5.8 3.6 5.4 .3 5.8-3.5z" fill="#6c2210"/>
<path d="M139.1 40.1l-5.8 3.8 5.4 .1 5.8-3.8z" fill="#662311"/>
<path d="M130.5 43.3l-5.8 4.1 5.3-.2 5.8-4z" fill="#612911"/>
<path d="M122 46.9l-5.8 4.3 5.3-.5 5.8-4.3z" fill="#5a2f12"/>
<path d="M113.5 50.8l-5.8 4.6 5.2-.7 5.8-4.5z" fill="#523412"/>
<path d="M105 55.2l-5.7 4.8 5.1-1 5.8-4.8z" fill="#4a3611"/>
<path d="M96.6 60l-5.7 5.1 5.1-1.2 5.7-5z" fill="#403510"/>
<path d="M88.2 65.2l-5.7 5.3 5-1.5 5.7-5.3z" fill="#322e0c"/>
<path d="M79.8 70.8l-5.7 5.5 5-1.7 5.7-5.5z" fill="#212208"/>
<path d="M71.5 76.8l-5.6 5.8 4.9-1.9 5.7-5.7z" fill="#101304"/>
<path d="M63.3 83.1l-5.6 6 4.8-2.2 5.6-6z" fill="#0a0e03"/>
<path d="M307 63.9l-5.3-.9 5.5 5.5 5.3 .9z" fill="#7d6a1f"/>
<path d="M298.5 58.9l-5.4-.7 5.6 5.3 5.4 .7z" fill="#7e601e"/>
<path d="M290.1 54.4l-5.4-.5 5.6 5 5.4 .5z" fill="#80551d"/>
<path d="M281.5 50.2l-5.5-.2 5.6 4.7 5.5 .3z" fill="#81481b"/>
<path d="M273 46.4l-5.5 0 5.6 4.5 5.5 0z" fill="#823b18"/>
<path d="M264.4 43l-5.6 .3 5.6 4.2 5.6-.2z" fill="#833016"/>
<path d="M255.8 40.1l-5.6 .5 5.6 3.9 5.6-.4z" fill="#852b15"/>
<path d="M247.1 37.5l-5.6 .7 5.6 3.6 5.6-.7z" fill="#862814"/>
<path d="M238.5 35.4l-5.7 1 5.6 3.3 5.6-.9z" fill="#862513"/>
<path d="M229.8 33.7l-5.7 1.2 5.6 3.1 5.7-1.2z" fill="#862312"/>
<path d="M221.1 32.5l-5.7 1.5 5.5 2.8 5.7-1.4z" fill="#862111"/>
<path d="M212.4 31.6l-5.7 1.7 5.5 2.5 5.7-1.7z" fill="#862011"/>
<path d="M203.7 31.2l-5.8 2 5.5 2.2 5.8-1.9z" fill="#851f11"/>
<path d="M195 31.2l-5.8 2.2 5.5 1.9 5.8-2.2z" fill="#831f11"/>
<path d="M186.4 31.7l-5.8 2.5 5.5 1.7 5.8-2.4z" fill="#821f11"/>
<path d="M177.7 32.5l-5.8 2.7 5.5 1.4 5.8-2.7z" fill="#7f2011"/>
<path d="M169 33.8l-5.9 3 5.5 1.1 5.9-2.9z" fill="#7c2111"/>
<path d="M160.3 35.5l-5.9 3.3 5.5 .8 5.9-3.2z" fill="#792211"/>
<path d="M151.7 37.6l-5.8 3.5 5.4 .6 5.9-3.5z" fill="#752412"/>
<path d="M143 40.2l-5.8 3.8 5.4 .3 5.9-3.7z" fill="#702612"/>
<path d="M134.4 43.1l-5.8 4 5.4 0 5.8-4z" fill="#6b2a12"/>
<path d="M125.8 46.5l-5.8 4.3 5.3-.3 5.8-4.2z" fill="#653113"/>
<path d="M117.3 50.3l-5.8 4.5 5.3-.5 5.8-4.5z" fill="#5f3814"/>
<path d="M108.8 54.5l-5.8 4.8 5.2-.8 5.8-4.7z" fill="#583d14"/>
<path d="M100.3 59.1l-5.8 5 5.1-1 5.8-5z" fill="#4f3f13"/>
<path d="M91.8 64.1l-5.7 5.2 5.1-1.3 5.7-5.2z" fill="#453d11"/>
<path d="M83.4 69.4l-5.7 5.5 5-1.5 5.7-5.4z" fill="#35340d"/>
<path d="M75.1 75.2l-5.7 5.7 4.9-1.8 5.7-5.7z" fill="#242809"/>
<path d="M66.8 81.4l-5.6 5.9 4.9-2 5.7-5.9z" fill="#121805"/>
<path d="M58.5 88l-5.6 6.2 4.8-2.2 5.6-6.1z" fill="#090e02"/>
<path d="M303.1 63.2l-5.4-.7 5.6 5.5 5.4 .8z" fill="#836c20"/>
<path d="M294.6 58.4l-5.4-.5 5.6 5.2 5.4 .6z" fill="#85611f"/>
<path d="M286 54l-5.5-.3 5.6 4.9 5.5 .3z" fill="#86551e"/>
<path d="M277.5 50l-5.5-0 5.6 4.7 5.5 .1z" fill="#87471b"/>
<path d="M268.8 46.4l-5.6 .2 5.6 4.4 5.5-.2z" fill="#883b19"/>
<path d="M260.2 43.2l-5.6 .4 5.6 4.1 5.6-.4z" fill="#893016"/>
<path d="M251.6 40.4l-5.6 .7 5.6 3.8 5.6-.6z" fill="#8a2c15"/>
<path d="M242.9 38.1l-5.6 .9 5.6 3.5 5.6-.9z" fill="#8b2914"/>
<path d="M234.2 36.2l-5.6 1.2 5.5 3.3 5.6-1.1z" fill="#8b2713"/>
<path d="M225.5 34.7l-5.7 1.4 5.5 3 5.7-1.4z" fill="#8b2413"/>
<path d="M216.7 33.6l-5.7 1.7 5.5 2.7 5.7-1.6z" fill="#8b2312"/>
<path d="M208 33l-5.7 1.9 5.5 2.4 5.7-1.9z" fill="#8a2212"/>
<path d="M199.3 32.8l-5.7 2.2 5.5 2.2 5.7-2.1z" fill="#892112"/>
<path d="M190.6 33l-5.8 2.4 5.5 1.9 5.8-2.4z" fill="#882112"/>
<path d="M181.8 33.6l-5.8 2.7 5.5 1.6 5.8-2.6z" fill="#862212"/>
<path d="M173.1 34.6l-5.8 2.9 5.5 1.3 5.8-2.9z" fill="#832312"/>
<path d="M164.4 36.1l-5.9 3.2 5.5 1 5.9-3.1z" fill="#802412"/>
<path d="M155.7 38l-5.9 3.4 5.5 .8 5.9-3.4z" fill="#7d2613"/>
<path d="M147 40.4l-5.9 3.7 5.4 .5 5.9-3.6z" fill="#792813"/>
<path d="M138.4 43.1l-5.9 3.9 5.4 .2 5.9-3.9z" fill="#742b14"/>
<path d="M129.7 46.3l-5.8 4.2 5.3-0 5.9-4.1z" fill="#6f3315"/>
<path d="M121.1 49.9l-5.8 4.4 5.3-.3 5.8-4.4z" fill="#6a3b16"/>
<path d="M112.6 53.8l-5.8 4.7 5.2-.6 5.8-4.6z" fill="#644217"/>
<path d="M104 58.2l-5.8 4.9 5.2-.8 5.8-4.9z" fill="#5d4616"/>
<path d="M95.5 63l-5.8 5.2 5.1-1.1 5.8-5.1z" fill="#554815"/>
<path d="M87.1 68.2l-5.7 5.4 5.1-1.3 5.8-5.4z" fill="#474212"/>
<path d="M78.6 73.8l-5.7 5.7 5-1.6 5.7-5.6z" fill="#37390e"/>
<path d="M70.3 79.8l-5.7 5.9 4.9-1.8 5.7-5.9z" fill="#242c09"/>
<path d="M62 86.2l-5.6 6.1 4.8-2 5.7-6.1z" fill="#131d05"/>
<path d="M299.1 62.7l-5.4-.6 5.6 5.4 5.4 .6z" fill="#896d21"/>
<path d="M290.6 58l-5.5-.3 5.6 5.1 5.5 .4z" fill="#8a6220"/>
<path d="M282 53.8l-5.5-.1 5.6 4.9 5.5 .1z" fill="#8b551e"/>
<path d="M273.3 49.9l-5.5 .2 5.6 4.6 5.5-.1z" fill="#8c471b"/>
<path d="M264.7 46.5l-5.5 .4 5.6 4.3 5.5-.3z" fill="#8d3b19"/>
<path d="M256 43.5l-5.6 .6 5.5 4 5.6-.6z" fill="#8e3117"/>
<path d="M247.3 41l-5.6 .9 5.5 3.8 5.6-.8z" fill="#8f2d16"/>
<path d="M238.6 38.8l-5.6 1.1 5.5 3.5 5.6-1.1z" fill="#8f2a15"/>
<path d="M229.8 37.1l-5.6 1.4 5.5 3.2 5.6-1.3z" fill="#8f2814"/>
<path d="M221.1 35.8l-5.7 1.6 5.5 2.9 5.7-1.6z" fill="#8f2614"/>
<path d="M212.3 34.9l-5.7 1.9 5.5 2.7 5.7-1.8z" fill="#8f2513"/>
<path d="M203.6 34.5l-5.7 2.1 5.5 2.4 5.7-2.1z" fill="#8e2413"/>
<path d="M194.8 34.4l-5.7 2.4 5.5 2.1 5.7-2.3z" fill="#8d2413"/>
<path d="M186 34.9l-5.8 2.6 5.5 1.8 5.8-2.6z" fill="#8b2413"/>
<path d="M177.3 35.7l-5.8 2.9 5.5 1.5 5.8-2.8z" fill="#892513"/>
<path d="M168.5 36.9l-5.8 3.1 5.5 1.3 5.8-3.1z" fill="#872613"/>
<path d="M159.8 38.6l-5.9 3.4 5.5 1 5.9-3.3z" fill="#842814"/>
<path d="M151.1 40.7l-5.9 3.6 5.5 .7 5.9-3.6z" fill="#802a14"/>
<path d="M142.3 43.3l-5.9 3.9 5.4 .4 5.9-3.8z" fill="#7c2c14"/>
<path d="M133.7 46.2l-5.9 4.1 5.4 .2 5.9-4.1z" fill="#783416"/>
<path d="M125 49.6l-5.9 4.4 5.3-.1 5.9-4.3z" fill="#743d17"/>
<path d="M116.4 53.4l-5.8 4.6 5.3-.4 5.9-4.6z" fill="#6e4618"/>
<path d="M107.8 57.6l-5.8 4.9 5.2-.6 5.8-4.8z" fill="#684c18"/>
<path d="M99.3 62.2l-5.8 5.1 5.2-.9 5.8-5.1z" fill="#625018"/>
<path d="M90.7 67.2l-5.8 5.4 5.1-1.1 5.8-5.3z" fill="#574f16"/>
<path d="M82.3 72.6l-5.8 5.6 5-1.4 5.8-5.6z" fill="#484812"/>
<path d="M73.8 78.4l-5.7 5.8 5-1.6 5.7-5.8z" fill="#353d0e"/>
<path d="M65.5 84.6l-5.7 6.1 4.9-1.9 5.7-6z" fill="#233009"/>
<path d="M295.1 62.2l-5.4-.4 5.6 5.4 5.4 .4z" fill="#8f6e22"/>
<path d="M286.5 57.8l-5.5-.1 5.6 5.1 5.5 .2z" fill="#906221"/>
<path d="M277.9 53.7l-5.5 .1 5.6 4.8 5.5-.1z" fill="#90551f"/>
<path d="M269.2 50.1l-5.5 .3 5.6 4.5 5.5-.3z" fill="#91471c"/>
<path d="M260.5 46.8l-5.5 .6 5.5 4.2 5.5-.5z" fill="#923b19"/>
<path d="M251.7 44l-5.6 .8 5.5 4 5.6-.8z" fill="#923218"/>
<path d="M243 41.6l-5.6 1.1 5.5 3.7 5.6-1z" fill="#932f17"/>
<path d="M234.2 39.7l-5.6 1.3 5.5 3.4 5.6-1.3z" fill="#932c16"/>
<path d="M225.5 38.1l-5.6 1.6 5.5 3.1 5.6-1.5z" fill="#932a15"/>
<path d="M216.7 37l-5.7 1.8 5.5 2.9 5.7-1.7z" fill="#932814"/>
<path d="M207.9 36.4l-5.7 2 5.5 2.6 5.7-2z" fill="#932714"/>
<path d="M199.1 36.1l-5.7 2.3 5.5 2.3 5.7-2.2z" fill="#922614"/>
<path d="M190.3 36.3l-5.7 2.5 5.5 2 5.7-2.5z" fill="#902614"/>
<path d="M181.5 36.9l-5.8 2.8 5.5 1.8 5.8-2.7z" fill="#8f2714"/>
<path d="M172.7 37.9l-5.8 3 5.4 1.5 5.8-3z" fill="#8d2814"/>
<path d="M163.9 39.4l-5.8 3.3 5.4 1.2 5.8-3.2z" fill="#8a2a14"/>
<path d="M155.1 41.3l-5.9 3.5 5.4 .9 5.9-3.5z" fill="#872b15"/>
<path d="M146.4 43.6l-5.9 3.8 5.4 .7 5.9-3.8z" fill="#842e15"/>
<path d="M137.6 46.4l-5.9 4.1 5.4 .4 5.9-4z" fill="#803517"/>
<path d="M128.9 49.5l-5.9 4.3 5.4 .1 5.9-4.3z" fill="#7c3f18"/>
<path d="M120.3 53.1l-5.9 4.6 5.3-.2 5.9-4.5z" fill="#78481a"/>
<path d="M111.6 57.1l-5.9 4.8 5.3-.4 5.9-4.8z" fill="#73501a"/>
<path d="M103 61.5l-5.8 5.1 5.2-.7 5.9-5z" fill="#6d561a"/>
<path d="M94.5 66.3l-5.8 5.3 5.2-.9 5.8-5.3z" fill="#665a19"/>
<path d="M85.9 71.5l-5.8 5.5 5.1-1.2 5.8-5.5z" fill="#575416"/>
<path d="M77.4 77.1l-5.8 5.8 5-1.4 5.8-5.7z" fill="#474c12"/>
<path d="M69 83.1l-5.7 6 4.9-1.7 5.8-6z" fill="#32400d"/>
<path d="M291.1 62l-5.4-.2 5.6 5.3 5.4 .2z" fill="#946f23"/>
<path d="M282.4 57.7l-5.5 .1 5.6 5 5.5-0z" fill="#946322"/>
<path d="M273.7 53.8l-5.5 .3 5.5 4.7 5.5-.2z" fill="#95541f"/>
<path d="M265 50.3l-5.5 .5 5.5 4.4 5.5-.5z" fill="#96471c"/>
<path d="M256.2 47.3l-5.5 .8 5.5 4.2 5.5-.7z" fill="#963b1a"/>
<path d="M247.5 44.6l-5.6 1 5.5 3.9 5.6-1z" fill="#963318"/>
<path d="M238.7 42.5l-5.6 1.3 5.5 3.6 5.6-1.2z" fill="#973017"/>
<path d="M229.9 40.7l-5.6 1.5 5.5 3.4 5.6-1.4z" fill="#972e16"/>
<path d="M221 39.4l-5.6 1.7 5.5 3.1 5.6-1.7z" fill="#972b16"/>
<path d="M212.2 38.4l-5.7 2 5.5 2.8 5.7-1.9z" fill="#972a15"/>
<path d="M203.4 38l-5.7 2.2 5.5 2.5 5.7-2.2z" fill="#962915"/>
<path d="M194.5 37.9l-5.7 2.5 5.4 2.3 5.7-2.4z" fill="#952915"/>
<path d="M185.7 38.3l-5.7 2.7 5.4 2 5.7-2.7z" fill="#942915"/>
<path d="M176.9 39.1l-5.8 3 5.4 1.7 5.8-2.9z" fill="#922a15"/>
<path d="M168 40.4l-5.8 3.2 5.4 1.4 5.8-3.2z" fill="#902c15"/>
<path d="M159.2 42l-5.8 3.5 5.4 1.2 5.8-3.4z" fill="#8d2d16"/>
<path d="M150.4 44.1l-5.9 3.7 5.4 .9 5.9-3.7z" fill="#8a2f16"/>
<path d="M141.7 46.7l-5.9 4 5.4 .6 5.9-3.9z" fill="#873618"/>
<path d="M132.9 49.6l-5.9 4.3 5.4 .3 5.9-4.2z" fill="#844019"/>
<path d="M124.2 53l-5.9 4.5 5.4 0 5.9-4.5z" fill="#804a1b"/>
<path d="M115.5 56.8l-5.9 4.8 5.3-.2 5.9-4.7z" fill="#7c531c"/>
<path d="M106.8 61l-5.9 5 5.3-.5 5.9-5z" fill="#775a1c"/>
<path d="M98.2 65.6l-5.9 5.3 5.2-.7 5.9-5.2z" fill="#71601c"/>
<path d="M89.6 70.6l-5.8 5.5 5.1-1 5.8-5.4z" fill="#655f19"/>
<path d="M81.1 76l-5.8 5.7 5.1-1.2 5.8-5.7z" fill="#565915"/>
<path d="M72.6 81.8l-5.8 6 5-1.5 5.8-5.9z" fill="#424f11"/>
<path d="M287 61.8l-5.4 0 5.6 5.2 5.4 0z" fill="#996f24"/>
<path d="M278.3 57.7l-5.5 .2 5.5 4.9 5.5-.2z" fill="#996322"/>
<path d="M269.5 54l-5.5 .5 5.5 4.7 5.5-.4z" fill="#99541f"/>
<path d="M260.7 50.7l-5.5 .7 5.5 4.4 5.5-.7z" fill="#9a471d"/>
<path d="M251.9 47.9l-5.5 1 5.5 4.1 5.5-.9z" fill="#9a3c1b"/>
<path d="M243.1 45.4l-5.6 1.2 5.5 3.8 5.6-1.2z" fill="#9a3519"/>
<path d="M234.3 43.4l-5.6 1.4 5.5 3.6 5.6-1.4z" fill="#9b3218"/>
<path d="M225.4 41.9l-5.6 1.7 5.5 3.3 5.6-1.6z" fill="#9b2f17"/>
<path d="M216.6 40.7l-5.6 1.9 5.5 3 5.6-1.9z" fill="#9b2d17"/>
<path d="M207.7 40l-5.7 2.2 5.4 2.7 5.7-2.1z" fill="#9a2c16"/>
<path d="M198.8 39.7l-5.7 2.4 5.4 2.5 5.7-2.4z" fill="#992c16"/>
<path d="M190 39.9l-5.7 2.7 5.4 2.2 5.7-2.6z" fill="#982c16"/>
<path d="M181.1 40.5l-5.7 2.9 5.4 1.9 5.7-2.9z" fill="#972c16"/>
<path d="M172.2 41.5l-5.8 3.2 5.4 1.7 5.8-3.1z" fill="#952e16"/>
<path d="M163.4 43l-5.8 3.4 5.4 1.4 5.8-3.4z" fill="#932f17"/>
<path d="M154.5 44.8l-5.8 3.7 5.4 1.1 5.8-3.6z" fill="#903117"/>
<path d="M145.7 47.1l-5.9 3.9 5.4 .8 5.9-3.9z" fill="#8e3718"/>
<path d="M136.9 49.9l-5.9 4.2 5.4 .5 5.9-4.1z" fill="#8b411a"/>
<path d="M128.1 53l-5.9 4.4 5.4 .3 5.9-4.4z" fill="#874b1c"/>
<path d="M119.4 56.6l-5.9 4.7 5.4-0 5.9-4.6z" fill="#84561e"/>
<path d="M110.7 60.6l-5.9 4.9 5.3-.3 5.9-4.9z" fill="#805d1e"/>
<path d="M102 65l-5.9 5.2 5.2-.5 5.9-5.1z" fill="#7b651e"/>
<path d="M93.4 69.8l-5.9 5.4 5.2-.8 5.9-5.4z" fill="#72681d"/>
<path d="M84.8 75.1l-5.8 5.7 5.1-1 5.9-5.6z" fill="#646319"/>
<path d="M76.2 80.7l-5.8 5.9 5.1-1.3 5.8-5.9z" fill="#515c15"/>
<path d="M282.8 61.8l-5.4 .2 5.5 5.1 5.4-.2z" fill="#9d7024"/>
<path d="M274.1 57.9l-5.5 .4 5.5 4.9 5.5-.4z" fill="#9d6323"/>
<path d="M265.3 54.4l-5.5 .7 5.5 4.6 5.5-.6z" fill="#9d5520"/>
<path d="M256.5 51.3l-5.5 .9 5.5 4.3 5.5-.9z" fill="#9e481d"/>
<path d="M247.6 48.6l-5.5 1.2 5.5 4.1 5.5-1.1z" fill="#9d3d1b"/>
<path d="M238.8 46.4l-5.6 1.4 5.5 3.8 5.6-1.3z" fill="#9d3619"/>
<path d="M229.9 44.6l-5.6 1.6 5.5 3.5 5.6-1.6z" fill="#9d3318"/>
<path d="M221 43.2l-5.6 1.9 5.5 3.2 5.6-1.8z" fill="#9d3118"/>
<path d="M212.1 42.3l-5.6 2.1 5.4 3 5.6-2.1z" fill="#9d2f17"/>
<path d="M203.2 41.7l-5.7 2.4 5.4 2.7 5.7-2.3z" fill="#9d2f17"/>
<path d="M194.3 41.7l-5.7 2.6 5.4 2.4 5.7-2.6z" fill="#9c2f17"/>
<path d="M185.4 42l-5.7 2.8 5.4 2.1 5.7-2.8z" fill="#9b2f17"/>
<path d="M176.4 42.8l-5.7 3.1 5.4 1.9 5.7-3z" fill="#9a3017"/>
<path d="M167.6 44.1l-5.8 3.3 5.4 1.6 5.8-3.3z" fill="#983118"/>
<path d="M158.7 45.7l-5.8 3.6 5.4 1.3 5.8-3.5z" fill="#963318"/>
<path d="M149.8 47.8l-5.8 3.8 5.4 1.1 5.8-3.8z" fill="#933919"/>
<path d="M141 50.3l-5.9 4.1 5.4 .8 5.9-4.1z" fill="#91421b"/>
<path d="M132.1 53.3l-5.9 4.4 5.4 .5 5.9-4.3z" fill="#8e4c1d"/>
<path d="M123.3 56.6l-5.9 4.6 5.4 .2 5.9-4.6z" fill="#8b571f"/>
<path d="M114.6 60.4l-5.9 4.9 5.3-.1 6-4.8z" fill="#87601f"/>
<path d="M105.9 64.6l-5.9 5.1 5.3-.3 5.9-5.1z" fill="#846820"/>
<path d="M97.2 69.2l-5.9 5.4 5.2-.6 5.9-5.3z" fill="#7e6f20"/>
<path d="M88.5 74.3l-5.9 5.6 5.2-.8 5.9-5.6z" fill="#706c1c"/>
<path d="M79.9 79.7l-5.9 5.9 5.1-1.1 5.9-5.8z" fill="#606718"/>
<path d="M278.7 62l-5.4 .4 5.5 5.1 5.4-.3z" fill="#a17025"/>
<path d="M269.8 58.2l-5.5 .6 5.5 4.8 5.5-.6z" fill="#a06323"/>
<path d="M261 54.9l-5.5 .9 5.5 4.5 5.5-.8z" fill="#9f5420"/>
<path d="M252.1 52l-5.5 1.1 5.5 4.3 5.5-1.1z" fill="#9e481d"/>
<path d="M243.3 49.5l-5.5 1.3 5.5 4 5.5-1.3z" fill="#9d3d1b"/>
<path d="M234.3 47.5l-5.6 1.6 5.5 3.7 5.6-1.5z" fill="#9d361a"/>
<path d="M225.4 45.9l-5.6 1.8 5.5 3.4 5.6-1.8z" fill="#9d3419"/>
<path d="M216.5 44.7l-5.6 2.1 5.4 3.2 5.6-2z" fill="#9d3218"/>
<path d="M207.5 43.9l-5.6 2.3 5.4 2.9 5.6-2.3z" fill="#9d3118"/>
<path d="M198.6 43.6l-5.7 2.5 5.4 2.6 5.7-2.5z" fill="#9d3118"/>
<path d="M189.7 43.8l-5.7 2.8 5.4 2.4 5.7-2.7z" fill="#9d3118"/>
<path d="M180.7 44.3l-5.7 3 5.4 2.1 5.7-3z" fill="#9d3218"/>
<path d="M171.8 45.3l-5.7 3.3 5.4 1.8 5.8-3.2z" fill="#9c3319"/>
<path d="M162.9 46.8l-5.8 3.5 5.4 1.5 5.8-3.5z" fill="#9a3519"/>
<path d="M153.9 48.6l-5.8 3.8 5.4 1.3 5.8-3.7z" fill="#983b1a"/>
<path d="M145.1 50.9l-5.8 4 5.4 1 5.8-4z" fill="#96441c"/>
<path d="M136.2 53.7l-5.9 4.3 5.3 .7 5.9-4.2z" fill="#944e1e"/>
<path d="M127.3 56.8l-5.9 4.5 5.3 .4 5.9-4.5z" fill="#91581f"/>
<path d="M118.5 60.4l-5.9 4.8 5.3 .2 5.9-4.8z" fill="#8e6321"/>
<path d="M109.7 64.4l-6 5.1 5.3-.1 6-5z" fill="#8b6b21"/>
<path d="M101 68.8l-5.9 5.3 5.3-.4 6-5.3z" fill="#877422"/>
<path d="M92.3 73.6l-5.9 5.6 5.2-.6 5.9-5.5z" fill="#7c741f"/>
<path d="M83.6 78.9l-5.9 5.8 5.2-.9 5.9-5.8z" fill="#6e711b"/>
<path d="M274.4 62.2l-5.4 .6 5.5 5 5.4-.5z" fill="#a16f25"/>
<path d="M265.6 58.7l-5.5 .8 5.5 4.7 5.5-.8z" fill="#a06123"/>
<path d="M256.7 55.5l-5.5 1.1 5.5 4.5 5.5-1z" fill="#9f5420"/>
<path d="M247.8 52.8l-5.5 1.3 5.5 4.2 5.5-1.2z" fill="#9e481d"/>
<path d="M238.8 50.6l-5.6 1.5 5.5 3.9 5.6-1.5z" fill="#9d3f1b"/>
<path d="M229.9 48.7l-5.6 1.8 5.4 3.7 5.6-1.7z" fill="#9d371a"/>
<path d="M220.9 47.3l-5.6 2 5.4 3.4 5.6-2z" fill="#9d3519"/>
<path d="M212 46.3l-5.6 2.2 5.4 3.1 5.6-2.2z" fill="#9d3319"/>
<path d="M203 45.8l-5.7 2.5 5.4 2.9 5.7-2.4z" fill="#9d3318"/>
<path d="M194 45.7l-5.7 2.7 5.4 2.6 5.7-2.7z" fill="#9d3318"/>
<path d="M185 46l-5.7 3 5.4 2.3 5.7-2.9z" fill="#9d3319"/>
<path d="M176 46.8l-5.7 3.2 5.4 2 5.7-3.2z" fill="#9d3519"/>
<path d="M167.1 48l-5.8 3.5 5.4 1.8 5.8-3.4z" fill="#9d371a"/>
<path d="M158.1 49.7l-5.8 3.7 5.4 1.5 5.8-3.7z" fill="#9d3d1b"/>
<path d="M149.2 51.7l-5.8 4 5.3 1.2 5.8-3.9z" fill="#9c461d"/>
<path d="M140.3 54.2l-5.8 4.2 5.3 1 5.8-4.2z" fill="#994f1e"/>
<path d="M131.4 57.2l-5.9 4.5 5.3 .7 5.9-4.4z" fill="#975a20"/>
<path d="M122.5 60.5l-5.9 4.7 5.3 .4 5.9-4.7z" fill="#956522"/>
<path d="M113.7 64.3l-5.9 5 5.3 .1 5.9-4.9z" fill="#926e23"/>
<path d="M104.9 68.5l-6 5.3 5.3-.2 6-5.2z" fill="#8f7723"/>
<path d="M96.1 73.2l-6 5.5 5.3-.4 6-5.5z" fill="#867b21"/>
<path d="M87.4 78.2l-5.9 5.8 5.2-.7 6-5.7z" fill="#79791e"/>
<path d="M270.2 62.7l-5.5 .8 5.5 5 5.5-.7z" fill="#a16d25"/>
<path d="M261.3 59.3l-5.5 1 5.5 4.7 5.5-1z" fill="#a06022"/>
<path d="M252.3 56.4l-5.5 1.2 5.5 4.4 5.5-1.2z" fill="#9f5420"/>
<path d="M243.4 53.9l-5.5 1.5 5.5 4.1 5.5-1.4z" fill="#9e491e"/>
<path d="M234.4 51.8l-5.6 1.7 5.5 3.9 5.6-1.7z" fill="#9e401c"/>
<path d="M225.4 50.1l-5.6 2 5.4 3.6 5.6-1.9z" fill="#9d391a"/>
<path d="M216.4 48.9l-5.6 2.2 5.4 3.3 5.6-2.1z" fill="#9d361a"/>
<path d="M207.4 48.2l-5.6 2.4 5.4 3.1 5.6-2.4z" fill="#9d3519"/>
<path d="M198.4 47.8l-5.7 2.7 5.4 2.8 5.7-2.6z" fill="#9d3519"/>
<path d="M189.3 47.9l-5.7 2.9 5.4 2.5 5.7-2.9z" fill="#9d3519"/>
<path d="M180.3 48.5l-5.7 3.2 5.4 2.3 5.7-3.1z" fill="#9d3619"/>
<path d="M171.3 49.5l-5.7 3.4 5.4 2 5.7-3.4z" fill="#9d381a"/>
<path d="M162.3 50.9l-5.8 3.6 5.3 1.7 5.8-3.6z" fill="#9d3f1b"/>
<path d="M153.3 52.7l-5.8 3.9 5.3 1.4 5.8-3.9z" fill="#9e471d"/>
<path d="M144.4 55l-5.8 4.1 5.3 1.2 5.8-4.1z" fill="#9e511f"/>
<path d="M135.4 57.7l-5.8 4.4 5.3 .9 5.8-4.4z" fill="#9c5c21"/>
<path d="M126.5 60.9l-5.9 4.7 5.3 .6 5.9-4.6z" fill="#9a6723"/>
<path d="M117.6 64.4l-5.9 4.9 5.3 .4 5.9-4.9z" fill="#987024"/>
<path d="M108.8 68.4l-5.9 5.2 5.3 .1 5.9-5.1z" fill="#967a24"/>
<path d="M100 72.9l-6 5.4 5.3-.2 6-5.4z" fill="#908124"/>
<path d="M91.2 77.7l-6 5.7 5.2-.5 6-5.7z" fill="#837f20"/>
<path d="M265.9 63.3l-5.5 1 5.5 4.9 5.5-.9z" fill="#a16d25"/>
<path d="M256.9 60.1l-5.5 1.2 5.5 4.6 5.5-1.2z" fill="#a06022"/>
<path d="M247.9 57.4l-5.5 1.4 5.5 4.4 5.5-1.4z" fill="#9f5420"/>
<path d="M238.9 55l-5.5 1.7 5.5 4.1 5.5-1.6z" fill="#9e4b1e"/>
<path d="M229.9 53.2l-5.6 1.9 5.4 3.8 5.6-1.9z" fill="#9e431c"/>
<path d="M220.9 51.7l-5.6 2.1 5.4 3.6 5.6-2.1z" fill="#9d3d1b"/>
<path d="M211.8 50.7l-5.6 2.4 5.4 3.3 5.6-2.3z" fill="#9d391a"/>
<path d="M202.8 50.1l-5.7 2.6 5.4 3 5.7-2.6z" fill="#9d371a"/>
<path d="M193.7 50l-5.7 2.9 5.4 2.7 5.7-2.8z" fill="#9d371a"/>
<path d="M184.7 50.3l-5.7 3.1 5.4 2.5 5.7-3.1z" fill="#9d381a"/>
<path d="M175.6 51.1l-5.7 3.3 5.4 2.2 5.7-3.3z" fill="#9d3b1b"/>
<path d="M166.6 52.3l-5.7 3.6 5.3 1.9 5.8-3.5z" fill="#9e411c"/>
<path d="M157.5 53.9l-5.8 3.8 5.3 1.7 5.8-3.8z" fill="#9e481d"/>
<path d="M148.5 56l-5.8 4.1 5.3 1.4 5.8-4z" fill="#9f511f"/>
<path d="M139.5 58.5l-5.8 4.3 5.3 1.1 5.8-4.3z" fill="#9f5d22"/>
<path d="M130.6 61.4l-5.8 4.6 5.3 .9 5.9-4.5z" fill="#9f6924"/>
<path d="M121.6 64.7l-5.9 4.8 5.3 .6 5.9-4.8z" fill="#9e7225"/>
<path d="M112.7 68.5l-5.9 5.1 5.3 .3 5.9-5.1z" fill="#9b7c26"/>
<path d="M103.9 72.7l-5.9 5.4 5.3 0 5.9-5.3z" fill="#998626"/>
<path d="M95 77.4l-6 5.6 5.2-.3 6-5.6z" fill="#8c8523"/>
<path d="M261.5 64l-5.5 1.1 5.5 4.9 5.5-1.1z" fill="#a16c25"/>
<path d="M252.5 61.1l-5.5 1.4 5.5 4.6 5.5-1.3z" fill="#a06022"/>
<path d="M243.5 58.5l-5.5 1.6 5.5 4.3 5.5-1.6z" fill="#9f5620"/>
<path d="M234.4 56.4l-5.6 1.9 5.4 4 5.6-1.8z" fill="#9e4d1e"/>
<path d="M225.4 54.7l-5.6 2.1 5.4 3.8 5.6-2z" fill="#9e461d"/>
<path d="M216.3 53.5l-5.6 2.3 5.4 3.5 5.6-2.3z" fill="#9e411c"/>
<path d="M207.2 52.6l-5.6 2.6 5.4 3.2 5.6-2.5z" fill="#9d3e1b"/>
<path d="M198.1 52.3l-5.7 2.8 5.4 3 5.7-2.8z" fill="#9d3c1b"/>
<path d="M189 52.4l-5.7 3 5.4 2.7 5.7-3z" fill="#9d3d1b"/>
<path d="M179.9 52.9l-5.7 3.3 5.4 2.4 5.7-3.2z" fill="#9d3f1c"/>
<path d="M170.9 53.8l-5.7 3.5 5.3 2.2 5.7-3.5z" fill="#9e441c"/>
<path d="M161.8 55.2l-5.8 3.8 5.3 1.9 5.8-3.7z" fill="#9e4a1e"/>
<path d="M152.7 57.1l-5.8 4 5.3 1.6 5.8-4z" fill="#9f5220"/>
<path d="M143.7 59.4l-5.8 4.3 5.3 1.4 5.8-4.2z" fill="#9f5d22"/>
<path d="M134.7 62.1l-5.8 4.5 5.3 1.1 5.8-4.5z" fill="#a06924"/>
<path d="M125.7 65.2l-5.9 4.8 5.3 .8 5.9-4.7z" fill="#a27426"/>
<path d="M116.7 68.8l-5.9 5 5.3 .5 5.9-5z" fill="#a17e27"/>
<path d="M107.8 72.8l-5.9 5.3 5.2 .3 5.9-5.2z" fill="#9f8927"/>
<path d="M98.9 77.2l-5.9 5.5 5.2-0 5.9-5.5z" fill="#948a25"/>
<path d="M257.1 65l-5.5 1.3 5.5 4.8 5.5-1.3z" fill="#a16c25"/>
<path d="M248.1 62.2l-5.5 1.6 5.5 4.5 5.5-1.5z" fill="#a06123"/>
<path d="M239 59.8l-5.5 1.8 5.4 4.3 5.5-1.8z" fill="#9f5721"/>
<path d="M229.9 57.9l-5.6 2 5.4 4 5.6-2z" fill="#9f501f"/>
<path d="M220.8 56.4l-5.6 2.3 5.4 3.7 5.6-2.2z" fill="#9e491e"/>
<path d="M211.7 55.4l-5.6 2.5 5.4 3.5 5.6-2.5z" fill="#9e451d"/>
<path d="M202.6 54.8l-5.7 2.8 5.4 3.2 5.7-2.7z" fill="#9e431c"/>
<path d="M193.4 54.6l-5.7 3 5.4 2.9 5.7-3z" fill="#9e431c"/>
<path d="M184.3 54.9l-5.7 3.2 5.4 2.7 5.7-3.2z" fill="#9e441d"/>
<path d="M175.2 55.6l-5.7 3.5 5.3 2.4 5.7-3.4z" fill="#9e481d"/>
<path d="M166.1 56.8l-5.7 3.7 5.3 2.1 5.7-3.7z" fill="#9e4d1e"/>
<path d="M157 58.4l-5.8 4 5.3 1.8 5.8-3.9z" fill="#9f5420"/>
<path d="M147.9 60.5l-5.8 4.2 5.3 1.6 5.8-4.2z" fill="#a05d22"/>
<path d="M138.8 62.9l-5.8 4.5 5.3 1.3 5.8-4.4z" fill="#a06824"/>
<path d="M129.8 65.9l-5.8 4.7 5.3 1 5.8-4.7z" fill="#a27325"/>
<path d="M120.8 69.2l-5.9 5 5.2 .8 5.9-4.9z" fill="#a37e27"/>
<path d="M111.8 73l-5.9 5.2 5.2 .5 5.9-5.2z" fill="#a48b29"/>
<path d="M102.9 77.2l-5.9 5.5 5.2 .2 5.9-5.4z" fill="#9c8f27"/>
<path d="M252.7 66l-5.5 1.5 5.5 4.7 5.5-1.5z" fill="#a16d25"/>
<path d="M243.6 63.4l-5.5 1.8 5.5 4.5 5.5-1.7z" fill="#a06323"/>
<path d="M234.5 61.3l-5.6 2 5.4 4.2 5.6-2z" fill="#9f5a21"/>
<path d="M225.3 59.5l-5.6 2.2 5.4 3.9 5.6-2.2z" fill="#9f5320"/>
<path d="M216.2 58.3l-5.6 2.5 5.4 3.7 5.6-2.4z" fill="#9e4e1f"/>
<path d="M207 57.4l-5.6 2.7 5.4 3.4 5.6-2.7z" fill="#9e4b1e"/>
<path d="M197.9 57l-5.7 2.9 5.4 3.1 5.7-2.9z" fill="#9e491e"/>
<path d="M188.7 57.1l-5.7 3.2 5.4 2.9 5.7-3.1z" fill="#9e4a1e"/>
<path d="M179.5 57.6l-5.7 3.4 5.4 2.6 5.7-3.4z" fill="#9e4c1e"/>
<path d="M170.4 58.5l-5.7 3.7 5.3 2.3 5.7-3.6z" fill="#9f501f"/>
<path d="M161.2 59.9l-5.8 3.9 5.3 2.1 5.8-3.9z" fill="#9f5720"/>
<path d="M152.1 61.7l-5.8 4.2 5.3 1.8 5.8-4.1z" fill="#a05f22"/>
<path d="M143 64l-5.8 4.4 5.3 1.5 5.8-4.4z" fill="#a06924"/>
<path d="M133.9 66.7l-5.8 4.6 5.3 1.3 5.8-4.6z" fill="#a27225"/>
<path d="M124.9 69.8l-5.8 4.9 5.2 1 5.9-4.9z" fill="#a37d27"/>
<path d="M115.8 73.4l-5.9 5.2 5.2 .7 5.9-5.1z" fill="#a58a28"/>
<path d="M106.8 77.4l-5.9 5.4 5.2 .4 5.9-5.4z" fill="#a29228"/>
<path d="M248.2 67.3l-5.5 1.7 5.5 4.7 5.5-1.7z" fill="#a16e25"/>
<path d="M239.1 64.9l-5.5 2 5.4 4.4 5.5-1.9z" fill="#a06523"/>
<path d="M229.9 62.9l-5.6 2.2 5.4 4.2 5.6-2.1z" fill="#a05d22"/>
<path d="M220.7 61.4l-5.6 2.4 5.4 3.9 5.6-2.4z" fill="#9f5720"/>
<path d="M211.5 60.3l-5.6 2.7 5.4 3.6 5.6-2.6z" fill="#9f5320"/>
<path d="M202.3 59.7l-5.7 2.9 5.4 3.4 5.7-2.9z" fill="#9f501f"/>
<path d="M193.1 59.5l-5.7 3.1 5.4 3.1 5.7-3.1z" fill="#9f501f"/>
<path d="M183.9 59.8l-5.7 3.4 5.4 2.8 5.7-3.3z" fill="#9f511f"/>
<path d="M174.7 60.5l-5.7 3.6 5.3 2.6 5.7-3.6z" fill="#9f5520"/>
<path d="M165.6 61.6l-5.7 3.9 5.3 2.3 5.8-3.8z" fill="#9f5a21"/>
<path d="M156.4 63.2l-5.8 4.1 5.3 2 5.8-4.1z" fill="#a06123"/>
<path d="M147.2 65.2l-5.8 4.3 5.3 1.8 5.8-4.3z" fill="#a06a24"/>
<path d="M138.1 67.7l-5.8 4.6 5.3 1.5 5.8-4.5z" fill="#a27225"/>
<path d="M129 70.6l-5.8 4.8 5.2 1.2 5.8-4.8z" fill="#a37d27"/>
<path d="M119.9 74l-5.9 5.1 5.2 .9 5.9-5z" fill="#a48828"/>
<path d="M110.9 77.8l-5.9 5.3 5.2 .7 5.9-5.3z" fill="#a39229"/>
<path d="M243.7 68.7l-5.5 1.9 5.5 4.7 5.5-1.9z" fill="#a17025"/>
<path d="M234.5 66.5l-5.6 2.1 5.4 4.4 5.6-2.1z" fill="#a06824"/>
<path d="M225.3 64.7l-5.6 2.4 5.4 4.1 5.6-2.3z" fill="#a06123"/>
<path d="M216.1 63.4l-5.6 2.6 5.4 3.8 5.6-2.6z" fill="#9f5c21"/>
<path d="M206.9 62.5l-5.6 2.9 5.4 3.6 5.6-2.8z" fill="#9f5921"/>
<path d="M197.6 62.1l-5.7 3.1 5.4 3.3 5.7-3z" fill="#9f5720"/>
<path d="M188.4 62.1l-5.7 3.3 5.4 3 5.7-3.3z" fill="#9f5721"/>
<path d="M179.1 62.6l-5.7 3.6 5.3 2.8 5.7-3.5z" fill="#9f5a21"/>
<path d="M169.9 63.5l-5.7 3.8 5.3 2.5 5.7-3.8z" fill="#a05e22"/>
<path d="M160.7 64.9l-5.8 4.1 5.3 2.2 5.8-4z" fill="#a06423"/>
<path d="M151.5 66.7l-5.8 4.3 5.3 2 5.8-4.3z" fill="#a16b24"/>
<path d="M142.3 68.9l-5.8 4.5 5.3 1.7 5.8-4.5z" fill="#a27326"/>
<path d="M133.2 71.6l-5.8 4.8 5.2 1.4 5.8-4.7z" fill="#a37d27"/>
<path d="M124 74.7l-5.8 5 5.2 1.2 5.9-5z" fill="#a48728"/>
<path d="M114.9 78.3l-5.9 5.3 5.2 .9 5.9-5.2z" fill="#a49229"/>
<path d="M239.2 70.2l-5.6 2.1 5.5 4.6 5.6-2.1z" fill="#a17225"/>
<path d="M229.9 68.2l-5.6 2.3 5.4 4.3 5.6-2.3z" fill="#a16b24"/>
<path d="M220.7 66.7l-5.6 2.6 5.4 4.1 5.6-2.5z" fill="#a06623"/>
<path d="M211.4 65.6l-5.6 2.8 5.4 3.8 5.6-2.8z" fill="#a06123"/>
<path d="M202.1 64.9l-5.7 3 5.4 3.5 5.7-3z" fill="#a05f22"/>
<path d="M192.9 64.7l-5.7 3.3 5.4 3.3 5.7-3.2z" fill="#a05e22"/>
<path d="M183.6 64.9l-5.7 3.5 5.4 3 5.7-3.5z" fill="#a06022"/>
<path d="M174.3 65.6l-5.7 3.8 5.3 2.7 5.7-3.7z" fill="#a06323"/>
<path d="M165 66.7l-5.8 4 5.3 2.5 5.8-4z" fill="#a06824"/>
<path d="M155.8 68.3l-5.8 4.2 5.3 2.2 5.8-4.2z" fill="#a16e25"/>
<path d="M146.6 70.3l-5.8 4.5 5.3 1.9 5.8-4.4z" fill="#a27526"/>
<path d="M137.4 72.8l-5.8 4.7 5.3 1.7 5.8-4.7z" fill="#a37d27"/>
<path d="M128.2 75.7l-5.8 5 5.2 1.4 5.8-4.9z" fill="#a48728"/>
<path d="M119 79l-5.9 5.2 5.2 1.1 5.9-5.2z" fill="#a49129"/>
<path d="M234.6 72l-5.6 2.3 5.5 4.6 5.6-2.3z" fill="#a27526"/>
<path d="M225.3 70.2l-5.6 2.5 5.4 4.3 5.6-2.5z" fill="#a16f25"/>
<path d="M216 68.8l-5.6 2.8 5.4 4 5.6-2.7z" fill="#a16b24"/>
<path d="M206.7 67.9l-5.7 3 5.4 3.8 5.7-3z" fill="#a06724"/>
<path d="M197.4 67.5l-5.7 3.2 5.4 3.5 5.7-3.2z" fill="#a06624"/>
<path d="M188 67.4l-5.7 3.5 5.4 3.2 5.7-3.4z" fill="#a06624"/>
<path d="M178.7 67.9l-5.7 3.7 5.3 3 5.7-3.7z" fill="#a06824"/>
<path d="M169.4 68.8l-5.7 4 5.3 2.7 5.8-3.9z" fill="#a16c25"/>
<path d="M160.1 70.1l-5.8 4.2 5.3 2.4 5.8-4.2z" fill="#a17025"/>
<path d="M150.9 71.9l-5.8 4.4 5.3 2.2 5.8-4.4z" fill="#a27726"/>
<path d="M141.6 74.2l-5.8 4.7 5.3 1.9 5.8-4.6z" fill="#a37e27"/>
<path d="M132.4 76.8l-5.8 4.9 5.2 1.6 5.8-4.9z" fill="#a48828"/>
<path d="M123.2 80l-5.9 5.2 5.2 1.4 5.9-5.1z" fill="#a59129"/>
<path d="M229.9 73.9l-5.6 2.5 5.4 4.5 5.6-2.4z" fill="#a27826"/>
<path d="M220.6 72.3l-5.6 2.7 5.4 4.2 5.6-2.7z" fill="#a27325"/>
<path d="M211.3 71.1l-5.6 3 5.4 4 5.6-2.9z" fill="#a16f25"/>
<path d="M201.9 70.4l-5.7 3.2 5.4 3.7 5.7-3.2z" fill="#a16d25"/>
<path d="M192.6 70.2l-5.7 3.4 5.4 3.4 5.7-3.4z" fill="#a16d25"/>
<path d="M183.2 70.4l-5.7 3.7 5.4 3.2 5.7-3.6z" fill="#a16d25"/>
<path d="M173.9 71l-5.7 3.9 5.3 2.9 5.7-3.9z" fill="#a17025"/>
<path d="M164.5 72.2l-5.8 4.1 5.3 2.6 5.8-4.1z" fill="#a27426"/>
<path d="M155.2 73.7l-5.8 4.4 5.3 2.4 5.8-4.3z" fill="#a27926"/>
<path d="M145.9 75.7l-5.8 4.6 5.3 2.1 5.8-4.6z" fill="#a38027"/>
<path d="M136.6 78.2l-5.8 4.9 5.2 1.8 5.8-4.8z" fill="#a48928"/>
<path d="M127.4 81.1l-5.8 5.1 5.2 1.6 5.9-5.1z" fill="#a59129"/>
<path d="M225.3 75.9l-5.6 2.7 5.4 4.5 5.6-2.6z" fill="#a37c27"/>
<path d="M215.9 74.5l-5.6 2.9 5.4 4.2 5.6-2.9z" fill="#a27726"/>
<path d="M206.5 73.6l-5.7 3.1 5.4 3.9 5.7-3.1z" fill="#a27426"/>
<path d="M197.1 73.1l-5.7 3.4 5.4 3.7 5.7-3.3z" fill="#a27325"/>
<path d="M187.7 73.1l-5.7 3.6 5.4 3.4 5.7-3.6z" fill="#a27325"/>
<path d="M178.3 73.5l-5.7 3.9 5.4 3.1 5.7-3.8z" fill="#a27526"/>
<path d="M168.9 74.4l-5.8 4.1 5.3 2.9 5.8-4.1z" fill="#a27826"/>
<path d="M159.6 75.7l-5.8 4.3 5.3 2.6 5.8-4.3z" fill="#a37d27"/>
<path d="M150.2 77.5l-5.8 4.6 5.3 2.3 5.8-4.5z" fill="#a48328"/>
<path d="M140.9 79.7l-5.8 4.8 5.3 2.1 5.8-4.8z" fill="#a58a29"/>
<path d="M131.6 82.4l-5.8 5.1 5.2 1.8 5.9-5z" fill="#a49129"/>
<path d="M220.5 78.2l-5.6 2.9 5.4 4.4 5.6-2.8z" fill="#a38027"/>
<path d="M211.1 77l-5.7 3.1 5.4 4.2 5.7-3.1z" fill="#a37c27"/>
<path d="M201.7 76.3l-5.7 3.3 5.4 3.9 5.7-3.3z" fill="#a37a26"/>
<path d="M192.3 76l-5.7 3.6 5.4 3.6 5.7-3.5z" fill="#a27926"/>
<path d="M182.8 76.2l-5.7 3.8 5.4 3.4 5.7-3.8z" fill="#a37a26"/>
<path d="M173.4 76.8l-5.8 4.1 5.3 3.1 5.8-4z" fill="#a37c27"/>
<path d="M164 77.9l-5.8 4.3 5.3 2.8 5.8-4.3z" fill="#a38027"/>
<path d="M154.6 79.4l-5.8 4.5 5.3 2.6 5.8-4.5z" fill="#a48628"/>
<path d="M145.2 81.4l-5.8 4.8 5.3 2.3 5.8-4.7z" fill="#a58d29"/>
<path d="M135.9 83.9l-5.8 5 5.2 2 5.8-5z" fill="#a39229"/>
<path d="M215.8 80.6l-5.7 3.1 5.4 4.4 5.7-3z" fill="#a48528"/>
<path d="M206.3 79.6l-5.7 3.3 5.4 4.1 5.7-3.3z" fill="#a48227"/>
<path d="M196.8 79.1l-5.7 3.5 5.4 3.9 5.7-3.5z" fill="#a38027"/>
<path d="M187.4 79l-5.7 3.8 5.4 3.6 5.7-3.7z" fill="#a38027"/>
<path d="M177.9 79.4l-5.8 4 5.4 3.3 5.8-4z" fill="#a48227"/>
<path d="M168.5 80.3l-5.8 4.2 5.3 3.1 5.8-4.2z" fill="#a48528"/>
<path d="M159 81.6l-5.8 4.5 5.3 2.8 5.8-4.5z" fill="#a58928"/>
<path d="M149.6 83.4l-5.8 4.7 5.3 2.5 5.8-4.7z" fill="#a58f29"/>
<path d="M140.2 85.6l-5.8 5 5.3 2.3 5.8-4.9z" fill="#a29228"/>
<path d="M211 83.2l-5.7 3.3 5.4 4.4 5.7-3.2z" fill="#a58a28"/>
<path d="M201.5 82.4l-5.7 3.5 5.4 4.1 5.7-3.5z" fill="#a48828"/>
<path d="M191.9 82.1l-5.7 3.7 5.4 3.8 5.7-3.7z" fill="#a48728"/>
<path d="M182.4 82.3l-5.8 4 5.4 3.6 5.8-3.9z" fill="#a48828"/>
<path d="M172.9 82.9l-5.8 4.2 5.4 3.3 5.8-4.2z" fill="#a58a28"/>
<path d="M163.5 84l-5.8 4.4 5.3 3 5.8-4.4z" fill="#a58e29"/>
<path d="M154 85.5l-5.8 4.7 5.3 2.8 5.8-4.6z" fill="#a49129"/>
<path d="M144.5 87.4l-5.8 4.9 5.3 2.5 5.8-4.9z" fill="#a19328"/>
<path d="M206.1 85.9l-5.7 3.5 5.4 4.3 5.7-3.4z" fill="#a59029"/>
<path d="M196.6 85.4l-5.7 3.7 5.4 4 5.7-3.7z" fill="#a58e29"/>
<path d="M187 85.3l-5.8 3.9 5.4 3.8 5.8-3.9z" fill="#a58e29"/>
<path d="M177.5 85.7l-5.8 4.2 5.4 3.5 5.8-4.1z" fill="#a58f29"/>
<path d="M168 86.5l-5.8 4.4 5.3 3.2 5.8-4.4z" fill="#a59129"/>
<path d="M158.4 87.8l-5.8 4.6 5.3 3 5.8-4.6z" fill="#a29228"/>
<path d="M148.9 89.5l-5.8 4.9 5.3 2.7 5.8-4.8z" fill="#9f9428"/>
<path d="M201.2 88.9l-5.7 3.7 5.4 4.3 5.7-3.6z" fill="#a39229"/>
<path d="M191.6 88.6l-5.8 3.9 5.4 4 5.8-3.9z" fill="#a39229"/>
<path d="M182.1 88.7l-5.8 4.1 5.4 3.7 5.8-4.1z" fill="#a39229"/>
<path d="M172.5 89.3l-5.8 4.4 5.4 3.5 5.8-4.3z" fill="#a29328"/>
<path d="M162.9 90.3l-5.8 4.6 5.3 3.2 5.8-4.6z" fill="#a09328"/>
<path d="M153.4 91.8l-5.8 4.8 5.3 2.9 5.8-4.8z" fill="#9d9527"/>
<path d="M196.3 92l-5.8 3.9 5.4 4.2 5.8-3.8z" fill="#9f9428"/>
<path d="M186.7 91.9l-5.8 4.1 5.4 4 5.8-4.1z" fill="#9f9428"/>
<path d="M177.1 92.3l-5.8 4.3 5.4 3.7 5.8-4.3z" fill="#9e9427"/>
<path d="M167.4 93.1l-5.8 4.6 5.4 3.4 5.8-4.5z" fill="#9d9527"/>
<path d="M157.8 94.3l-5.8 4.8 5.3 3.2 5.8-4.8z" fill="#9b9626"/>
<path d="M191.3 95.4l-5.8 4.1 5.4 4.2 5.8-4z" fill="#9b9627"/>
<path d="M181.7 95.5l-5.8 4.3 5.4 3.9 5.8-4.3z" fill="#9b9626"/>
<path d="M172 96l-5.8 4.5 5.4 3.7 5.8-4.5z" fill="#9a9626"/>
<path d="M162.4 97l-5.8 4.8 5.3 3.4 5.8-4.7z" fill="#989726"/>
<path d="M186.3 98.9l-5.8 4.3 5.4 4.2 5.8-4.2z" fill="#979725"/>
<path d="M176.6 99.2l-5.8 4.5 5.4 3.9 5.8-4.5z" fill="#969825"/>
<path d="M166.9 100l-5.8 4.7 5.4 3.6 5.8-4.7z" fill="#959825"/>
<path d="M181.3 102.6l-5.8 4.5 5.4 4.1 5.8-4.4z" fill="#929924"/>
<path d="M171.5 103.1l-5.8 4.7 5.4 3.9 5.9-4.7z" fill="#909924"/>
<path d="M176.2 106.4l-5.8 4.7 5.4 4.1 5.9-4.6z" fill="#899822"/>
</g>
<clipPath id="cla"><path d="M54 92.1l2-2.3 2-1.7 2-2.3 2-1.9 2-2 2-2.2 2-1.8 2-1.9 2-2.1 2-1.7 2-1.8 2-2 2-1.6 2-1.7 2-1.9 2-1.6 2-1.6 2-1.8 2-1.7 2-1.5 2-1.5 2-1.6 2-1.6 2-1.4 2-1.4 2-1.5 2-1.5 2-1.4 2-1.2 2-1.4 2-1.2 2-1.3 2-1.3 2-1.3 2-1.2 2-1.2 2-1 2-1.1 2-1.1 2-.9 2-1 2-1 2-1 2-.9 2-.9 2-.9 2-.8 2-.8 2-.9 2-.7 2-.8 2-.7 2-.6 2-.6 2-.6 2-.6 2-.6 2-.6 2-.5 2-.4 2-.4 2-.4 2-.3 2-.3 2-.3 2-.3 2-.3 2-.2 2-.2 2-.2 2-.1 2-.1 2-.1 2-0 2 0 2 .1 2 .1 2 .1 2 .2 2 .2 2 .3 2 .3 2 .3 2 .4 2 .4 2 .4 2 .6 2 .5 2 .5 2 .6 2 .8 2 .7 2 .7 2 .7 2 .8 2 1 2 .9 2 .9 2 .9 2 1 2 1 2 1 2 1.1 2 1.1 2 1.2 2 1.2 2 1.5 2 1.3 2 1.3 2 1.1 2 1.4 2 1.4 2 1.5 2 1.5 2 1.6 2 1.6 2 1.6 2 1.7 2 1.7 2 1.8 2 1.8 2 1.4 2 1.9 2 1.9 2 2 2 2 2 2 2 1.6 1 3-2-.4-2-.3-2-.4-2-.3-2-.2-2-.2-2-.2-2-.1-2-.1-2-.1-2-0-2 0-2 .1-2 .1-2 .1-2 .2-2 .2-2 .2-2 .2-2 .3-2 .3-2 .3-2 .4-2 .4-2 .4-2 .5-2 .5-2 .6-2 .6-2 .5-2 .7-2 .7-2 .7-2 .8-2 .6-2 .8-2 .9-2 .9-2 .7-2 1-2 1-2 .8-2 1.1-2 1.1-2 .8-2 1.2-2 .9-2 1.2-2 .9-2 1.3-2 1.3-2 1-2 1.4-2 1.1-2 1.5-2 1.1-2 1.5-2 1.2-2 1.6-2 1.2-2 1.3-2 1.7-2 1.3-2 1.8-2 1.4-2 1.4-2 1.9-2 .5-2-1.7-2-1.6-2-1.2-2-1.5-2-1.5-2-1.4-2-1.1-2-1.4-2-1.3-2-1.3-2-1.2-2-1.2-2-.9-2-1.1-2-1.1-2-1-2-1-2-.9-2-.9-2-.8-2-.8-2-.8-2-.7-2-.7-2-.6-2-.6-2-.6-2-.6-2-.5-2-.4-2-.4-2-.3-2-.4-2-.3-2-.2-2-.2-2-.2-2-.1-2-0-2 0-2 .1-2 .1-2 .2-2 .2-2 .3-2 .3-2 .3-2 .4-2 .4-2 .5-2 .6-2 .6-2 .6-2 .7-2 .8-2 .8-2 .9-2 .9-2 1-2 1z"/></clipPath><g clip-path="url(#cla)">
<path d="M54 98.6l2-2.3 2-1.7 2-2.3 2-1.9 2-2 2-2.2 2-1.8 2-1.9 2-2.1 2-1.7 2-1.8 2-2 2-1.6 2-1.7 2-1.9 2-1.6 2-1.6 2-1.8 2-1.7 2-1.5 2-1.5 2-1.6 2-1.6 2-1.4 2-1.4 2-1.5 2-1.5 2-1.4 2-1.2 2-1.4 2-1.2 2-1.3 2-1.3 2-1.3 2-1.2 2-1.2 2-1 2-1.1 2-1.1 2-.9 2-1 2-1 2-1 2-.9 2-.9 2-.9 2-.8 2-.8 2-.9 2-.7 2-.8 2-.7 2-.6 2-.6 2-.6 2-.6 2-.6 2-.6 2-.5 2-.4 2-.4 2-.4 2-.3 2-.3 2-.3 2-.3 2-.3 2-.2 2-.2 2-.2 2-.1 2-.1 2-.1 2-0 2 0 2 .1 2 .1 2 .1 2 .2 2 .2 2 .3 2 .3 2 .3 2 .4 2 .4 2 .4 2 .6 2 .5 2 .5 2 .6 2 .8 2 .7 2 .7 2 .7 2 .8 2 1 2 .9 2 .9 2 .9 2 1 2 1 2 1 2 1.1 2 1.1 2 1.2 2 1.2 2 1.5 2 1.3 2 1.3 2 1.1 2 1.4 2 1.4 2 1.5 2 1.5 2 1.6 2 1.6 2 1.6 2 1.7 2 1.7 2 1.8 2 1.8 2 1.4 2 1.9 2 1.9 2 2 2 2 2 2 2 1.6" fill="none" stroke="#0a0602" stroke-opacity="0.22" stroke-width="7" stroke-linejoin="round"/>
<path d="M54 96.4l2-2.3 2-1.7 2-2.3 2-1.9 2-2 2-2.2 2-1.8 2-1.9 2-2.1 2-1.7 2-1.8 2-2 2-1.6 2-1.7 2-1.9 2-1.6 2-1.6 2-1.8 2-1.7 2-1.5 2-1.5 2-1.6 2-1.6 2-1.4 2-1.4 2-1.5 2-1.5 2-1.4 2-1.2 2-1.4 2-1.2 2-1.3 2-1.3 2-1.3 2-1.2 2-1.2 2-1 2-1.1 2-1.1 2-.9 2-1 2-1 2-1 2-.9 2-.9 2-.9 2-.8 2-.8 2-.9 2-.7 2-.8 2-.7 2-.6 2-.6 2-.6 2-.6 2-.6 2-.6 2-.5 2-.4 2-.4 2-.4 2-.3 2-.3 2-.3 2-.3 2-.3 2-.2 2-.2 2-.2 2-.1 2-.1 2-.1 2-0 2 0 2 .1 2 .1 2 .1 2 .2 2 .2 2 .3 2 .3 2 .3 2 .4 2 .4 2 .4 2 .6 2 .5 2 .5 2 .6 2 .8 2 .7 2 .7 2 .7 2 .8 2 1 2 .9 2 .9 2 .9 2 1 2 1 2 1 2 1.1 2 1.1 2 1.2 2 1.2 2 1.5 2 1.3 2 1.3 2 1.1 2 1.4 2 1.4 2 1.5 2 1.5 2 1.6 2 1.6 2 1.6 2 1.7 2 1.7 2 1.8 2 1.8 2 1.4 2 1.9 2 1.9 2 2 2 2 2 2 2 1.6" fill="none" stroke="#0a0602" stroke-opacity="0.35" stroke-width="4.5" stroke-linejoin="round"/>
<path d="M54 94.6l2-2.3 2-1.7 2-2.3 2-1.9 2-2 2-2.2 2-1.8 2-1.9 2-2.1 2-1.7 2-1.8 2-2 2-1.6 2-1.7 2-1.9 2-1.6 2-1.6 2-1.8 2-1.7 2-1.5 2-1.5 2-1.6 2-1.6 2-1.4 2-1.4 2-1.5 2-1.5 2-1.4 2-1.2 2-1.4 2-1.2 2-1.3 2-1.3 2-1.3 2-1.2 2-1.2 2-1 2-1.1 2-1.1 2-.9 2-1 2-1 2-1 2-.9 2-.9 2-.9 2-.8 2-.8 2-.9 2-.7 2-.8 2-.7 2-.6 2-.6 2-.6 2-.6 2-.6 2-.6 2-.5 2-.4 2-.4 2-.4 2-.3 2-.3 2-.3 2-.3 2-.3 2-.2 2-.2 2-.2 2-.1 2-.1 2-.1 2-0 2 0 2 .1 2 .1 2 .1 2 .2 2 .2 2 .3 2 .3 2 .3 2 .4 2 .4 2 .4 2 .6 2 .5 2 .5 2 .6 2 .8 2 .7 2 .7 2 .7 2 .8 2 1 2 .9 2 .9 2 .9 2 1 2 1 2 1 2 1.1 2 1.1 2 1.2 2 1.2 2 1.5 2 1.3 2 1.3 2 1.1 2 1.4 2 1.4 2 1.5 2 1.5 2 1.6 2 1.6 2 1.6 2 1.7 2 1.7 2 1.8 2 1.8 2 1.4 2 1.9 2 1.9 2 2 2 2 2 2 2 1.6" fill="none" stroke="#0a0602" stroke-opacity="0.7" stroke-width="3.6" stroke-linejoin="round"/>
</g>
<circle cx="55.9" cy="144.2" r="1" fill="#222"/>
<text x="51.3" y="143.6" class="t" text-anchor="end" textLength="17.8" lengthAdjust="spacingAndGlyphs">2000</text>
<circle cx="54.9" cy="120.1" r="1" fill="#222"/>
<text x="50.3" y="119.5" class="t" text-anchor="end" textLength="17.8" lengthAdjust="spacingAndGlyphs">3000</text>
<circle cx="54" cy="96" r="1" fill="#222"/>
<text x="49.4" y="95.4" class="t" text-anchor="end" textLength="17.8" lengthAdjust="spacingAndGlyphs">4000</text>
<circle cx="53" cy="71.9" r="1" fill="#222"/>
<text x="48.4" y="71.3" class="t" text-anchor="end" textLength="17.8" lengthAdjust="spacingAndGlyphs">5000</text>
<circle cx="52" cy="47.8" r="1" fill="#222"/>
<text x="47.4" y="47.2" class="t" text-anchor="end" textLength="17.8" lengthAdjust="spacingAndGlyphs">6000</text>
<circle cx="51" cy="23.7" r="1" fill="#222"/>
<text x="46.4" y="23.1" class="t" text-anchor="end" textLength="17.8" lengthAdjust="spacingAndGlyphs">7000</text>
<line x1="545.7" y1="147.1" x2="545.7" y2="3.9" stroke="#6e6e6e" stroke-width="0.9"/>
<line x1="512.1" y1="120.9" x2="510.8" y2="9.2" stroke="#6e6e6e" stroke-width="0.9"/>
<line x1="478.5" y1="128.8" x2="475.9" y2="14.4" stroke="#6e6e6e" stroke-width="0.9"/>
<line x1="444.9" y1="136.8" x2="440.9" y2="19.7" stroke="#6e6e6e" stroke-width="0.9"/>
<line x1="413" y1="182.2" x2="406" y2="25" stroke="#6e6e6e" stroke-width="0.9"/>
<line x1="575.3" y1="122.6" x2="576.9" y2="10.3" stroke="#6e6e6e" stroke-width="0.9"/>
<line x1="604.9" y1="132.3" x2="608.1" y2="16.7" stroke="#6e6e6e" stroke-width="0.9"/>
<line x1="634.5" y1="142" x2="639.3" y2="23" stroke="#6e6e6e" stroke-width="0.9"/>
<line x1="662.1" y1="189.9" x2="670.5" y2="29.4" stroke="#6e6e6e" stroke-width="0.9"/>
<line x1="411.3" y1="144.7" x2="545.7" y2="112.9" stroke="#6e6e6e" stroke-width="0.9"/>
<line x1="545.7" y1="112.9" x2="664.1" y2="151.6" stroke="#6e6e6e" stroke-width="0.9"/>
<line x1="410.3" y1="120.8" x2="545.7" y2="91.1" stroke="#6e6e6e" stroke-width="0.9"/>
<line x1="545.7" y1="91.1" x2="665.4" y2="127.2" stroke="#6e6e6e" stroke-width="0.9"/>
<line x1="409.2" y1="96.8" x2="545.7" y2="69.3" stroke="#6e6e6e" stroke-width="0.9"/>
<line x1="545.7" y1="69.3" x2="666.7" y2="102.7" stroke="#6e6e6e" stroke-width="0.9"/>
<line x1="408.1" y1="72.9" x2="545.7" y2="47.5" stroke="#6e6e6e" stroke-width="0.9"/>
<line x1="545.7" y1="47.5" x2="667.9" y2="78.3" stroke="#6e6e6e" stroke-width="0.9"/>
<line x1="407.1" y1="49" x2="545.7" y2="25.7" stroke="#6e6e6e" stroke-width="0.9"/>
<line x1="545.7" y1="25.7" x2="669.2" y2="53.9" stroke="#6e6e6e" stroke-width="0.9"/>
<line x1="406" y1="25" x2="545.7" y2="3.9" stroke="#6e6e6e" stroke-width="0.9"/>
<line x1="545.7" y1="3.9" x2="670.5" y2="29.4" stroke="#6e6e6e" stroke-width="0.9"/>
<path d="M545.7 147.1 L413 182.2 L524.7 236.1 L662.1 189.9 Z" fill="#ffff00" stroke="#3c3c1e" stroke-width="1"/>
<path d="M516.2 231.9l2.4-.4 4.8-.8 3.8-.7 3.2-.6 4.5-.9 3-.7 3.5-.8 4.2-1 4.1-1.1 4-1.1 2-.6 3.9-1.1 3.8-1.2 3.7-1.2 3.6-1.2 3.5-1.2 3.4-1.3 2.6-1 2.3-.9 3.2-1.3 3.1-1.3 3-1.3 1.5-.7 2.8-1.4 2.8-1.4 1.9-1 2.2-1.2 2.6-1.4 1.3-.7 2.5-1.5 1.5-.9 2.1-1.3 1.6-1.1 1.7-1.2 1.4-1 1.7-1.3 1-.8 1.9-1.6 .9-.8 1.6-1.4 1.1-1 .8-.8 1.6-1.6 .8-.8 .7-.8 1.2-1.5 .8-1 .6-.8 .7-1 .5-.7" fill="none" stroke="#f6e400" stroke-width="0.8" stroke-linecap="round"/>
<path d="M504.6 226.3l4.6-.6 3-.4 4.2-.6 3-.5 4.7-.8 2.3-.4 4.5-.9 4.4-.9 2.1-.5 4.2-1 4.1-1 4-1.1 3.9-1.1 1.9-.6 3.7-1.1 3.6-1.2 3.5-1.2 1.7-.6 3.4-1.2 3.3-1.3 3.2-1.3 3.1-1.3 2.6-1.2 1.8-.8 2.8-1.4 2.8-1.4 1.3-.7 2.6-1.4 1.6-.9 2.2-1.3 2.1-1.2 1.5-.9 2-1.3 1.3-.9 1.6-1.2 1.5-1.1 1.1-.8 1.8-1.5 .9-.8 1.4-1.3 1.1-1.1 .8-.8 1.2-1.3 1-1.2 .7-.8 .8-1 1-1.4 .7-1 .5-.9 .5-.9 .5-.9" fill="none" stroke="#eecc00" stroke-width="1.0" stroke-linecap="round"/>
<path d="M490.5 219.5l4.7-.3 3.5-.3 2.6-.3 5.1-.6 2.5-.3 4.1-.6 3.1-.5 4.6-.8 2.3-.4 4.4-.9 3.3-.7 3.1-.7 4.1-1 4-1 3.9-1.1 3.7-1.1 2.4-.7 3-1 1.7-.6 3.4-1.2 3.3-1.2 3.2-1.2 3.1-1.3 3-1.3 1.5-.7 2.8-1.3 2.7-1.4 1.3-.7 2.6-1.4 1.5-.9 2.1-1.3 1.7-1.1 1.7-1.1 1.5-1 1.7-1.2 1-.8 1.9-1.5 .9-.8 1.3-1.1 1.3-1.3 .8-.8 1-1.1 1.2-1.4 .7-.8 .6-.8 .8-1.1 .8-1.3 .6-1.1 .4-.9 .4-.9 .4-.9 .3-1 .2-.9" fill="none" stroke="#e4b000" stroke-width="1.1" stroke-linecap="round"/>
<path d="M469.7 209.5l3.5 .3 3.1 .2 3.3 .1 3.6 0 3.2-0 3-.1 2.9-.1 3.4-.2 4.8-.4 2.6-.2 3-.3 4.4-.5 2.4-.3 4.6-.7 2.5-.4 4-.8 4.2-.9 2.6-.6 3.4-.8 3.8-1 3.7-1 3.6-1.1 3.4-1.1 3.3-1.2 3.2-1.2 1.6-.6 2.9-1.2 2.9-1.3 2.4-1.2 1.7-.8 2.6-1.4 1.2-.7 2.4-1.4 1.2-.7 2.2-1.5 1.1-.7 2-1.5 1-.8 1-.9 1.6-1.5 .8-.8 .8-.8 1.1-1.3 .9-1.2 .6-.9 .5-.9 .5-.9 .6-1.2 .4-1.1 .3-1.1 .2-1.1 .1-1 0-1-0-1-.1-.9-.2-.9-.3-.9-.4-1.1M436.6 176l-1.1 1.2-1 1.2-.9 1.2-.8 1.1-.6 1-.6 1.1-.5 1.1-.4 1-.3 1-.2 1-.1 1-0 1 .1 1.5" fill="none" stroke="#d8900a" stroke-width="1.2" stroke-linecap="round"/>
<path d="M502.5 158.4l2.6-.5 3.8-.6 2-.3 4.1-.5 2.1-.2 3.7-.3 3.2-.2 2.5-.1 2.6-0 2.8 .1 3 .1 3.4 .3 2.8 .3 2.1 .3 3.8 .7 1.7 .4 3.1 .9 2.7 1 2.4 1.1 1.1 .6 1.8 1.3 .8 .7 1.3 1.5 .5 .8 .4 .8 .3 1 .2 1.1 0 1.1-.1 1-.2 1-.3 1-.4 .9-.5 .9-.9 1.3-1.1 1.3-.8 .8-.8 .8-1.8 1.5-1.1 .8-1.3 .9-2 1.2-1.3 .8-2.4 1.3-2.7 1.3-1.5 .6-2.9 1.2-3.1 1.2-3.3 1.1-3.5 1-3.6 1-3.8 .9-4 .8-2.1 .4-4.4 .7-2.7 .4-4.4 .5-2.5 .2-3.3 .2-4.1 .1-3.6 0-3.3-.1-3-.2-2.8-.2-2.6-.3-3.6-.6-3-.6-3.5-1-1.7-.6-2.8-1.2-2.4-1.3-1-.7-1.7-1.5-.7-.8-1-1.7-.3-.9-.2-.9-.1-1.3 .1-1.3 .3-1.2 .4-1.1 .5-1 .6-1 .7-1 .8-.9 .8-.9 1.3-1.2 1.5-1.2 1-.8 1.1-.8 2.2-1.4 1.2-.7 2.2-1.2 1.5-.8 2.6-1.2 1.4-.6 2.8-1.1 2.9-1.1" fill="none" stroke="#c86a14" stroke-width="1.3" stroke-linecap="round"/>
<circle cx="413" cy="182.2" r="1.1" fill="#1a1a1a"/>
<circle cx="440.9" cy="195.7" r="1.1" fill="#1a1a1a"/>
<circle cx="468.9" cy="209.1" r="1.1" fill="#1a1a1a"/>
<circle cx="496.8" cy="222.6" r="1.1" fill="#1a1a1a"/>
<circle cx="524.7" cy="236.1" r="1.1" fill="#1a1a1a"/>
<circle cx="662.1" cy="189.9" r="1.1" fill="#1a1a1a"/>
<circle cx="627.8" cy="201.5" r="1.1" fill="#1a1a1a"/>
<circle cx="593.4" cy="213" r="1.1" fill="#1a1a1a"/>
<circle cx="559.1" cy="224.5" r="1.1" fill="#1a1a1a"/>
<g shape-rendering="crispEdges">
<path d="M545.9 26.8l-5.5-1.5 5-.9 5.5 1.5z" fill="#0f0703"/>
<path d="M549.5 26.3l-5.5-1.6 5-.6 5.5 1.6z" fill="#0f0603"/>
<path d="M541.8 25.9l-5.5-1.3 5-1 5.5 1.4z" fill="#0f0603"/>
<path d="M553.1 26.1l-5.5-1.6 5.1-.3 5.5 1.7z" fill="#0f0603"/>
<path d="M545.4 25.3l-5.5-1.4 5-.7 5.5 1.5z" fill="#0f0502"/>
<path d="M537.6 25l-5.6-1.1 5-1.1 5.6 1.2z" fill="#0f0502"/>
<path d="M556.8 26.1l-5.4-1.7 5.1-0 5.4 1.8z" fill="#0f0502"/>
<path d="M549 25l-5.5-1.5 5.1-.4 5.5 1.5z" fill="#0f0502"/>
<path d="M541.2 24.5l-5.6-1.2 5-.8 5.6 1.3z" fill="#0f0502"/>
<path d="M533.3 24.4l-5.6-1 4.9-1.2 5.6 1z" fill="#0f0502"/>
<path d="M560.5 26.3l-5.4-1.8 5.2 .3 5.4 1.9z" fill="#0f0502"/>
<path d="M552.6 25l-5.5-1.6 5.1-.1 5.5 1.6z" fill="#0f0502"/>
<path d="M544.8 24.1l-5.6-1.3 5.1-.5 5.6 1.4z" fill="#0f0502"/>
<path d="M536.9 23.7l-5.6-1.1 5-.9 5.6 1.1z" fill="#0f0502"/>
<path d="M529.1 23.8l-5.7-.8 4.9-1.2 5.7 .9z" fill="#0f0502"/>
<path d="M564.2 26.8l-5.4-1.9 5.2 .6 5.4 2z" fill="#0f0502"/>
<path d="M556.3 25.2l-5.5-1.7 5.1 .2 5.5 1.7z" fill="#0f0502"/>
<path d="M548.4 24.1l-5.5-1.4 5.1-.2 5.5 1.5z" fill="#0f0502"/>
<path d="M540.5 23.4l-5.6-1.2 5-.6 5.6 1.2z" fill="#0f0502"/>
<path d="M532.7 23.1l-5.7-.9 5-.9 5.7 1z" fill="#0f0502"/>
<path d="M524.8 23.4l-5.7-.6 4.9-1.3 5.7 .7z" fill="#0f0502"/>
<path d="M568 27.6l-5.4-2 5.2 .9 5.4 2.1z" fill="#0f0502"/>
<path d="M560.1 25.7l-5.4-1.8 5.2 .5 5.4 1.8z" fill="#0f0502"/>
<path d="M552.1 24.2l-5.5-1.5 5.1 .1 5.5 1.6z" fill="#0f0502"/>
<path d="M544.2 23.2l-5.6-1.3 5.1-.2 5.6 1.3z" fill="#0f0402"/>
<path d="M536.3 22.7l-5.6-1 5-.6 5.7 1.1z" fill="#0f0402"/>
<path d="M528.4 22.7l-5.7-.7 5-1 5.7 .8z" fill="#0f0402"/>
<path d="M520.5 23.1l-5.8-.5 4.9-1.4 5.8 .5z" fill="#0f0402"/>
<path d="M572.1 27.7l-5.6-1.2 5 2.1 5.6 1.3z" fill="#0f0502"/>
<path d="M564.4 26.1l-6-1.5 5.2 .8 5.4 1.9z" fill="#0f0502"/>
<path d="M555.9 24.6l-5.5-1.6 5.2 .4 5.5 1.7z" fill="#0f0502"/>
<path d="M547.9 23.4l-5.6-1.3 5.1 .1 5.6 1.4z" fill="#0f0402"/>
<path d="M539.9 22.5l-5.6-1.1 5.1-.3 5.6 1.1z" fill="#0f0402"/>
<path d="M532 22.2l-5.7-.8 5-.7 5.7 .9z" fill="#0f0402"/>
<path d="M524 22.4l-5.7-.6 4.9-1.1 5.8 .6z" fill="#0f0402"/>
<path d="M516.1 23l-5.8-.3 4.9-1.4 5.8 .3z" fill="#0f0402"/>
<path d="M575.9 29l-5.6-1.3 5 2.4 5.6 1.4z" fill="#0f0502"/>
<path d="M567.9 26.5l-5.6-1.1 5 2 5.6 1.1z" fill="#0f0502"/>
<path d="M559.8 24.4l-5.7-.8 5 1.6 5.7 .9z" fill="#0f0502"/>
<path d="M551.6 23.7l-5.5-1.4 5.2 .4 5.5 1.5z" fill="#0f0402"/>
<path d="M543.6 22.6l-5.6-1.2 5.1-0 5.6 1.2z" fill="#0f0402"/>
<path d="M535.6 22l-5.7-.9 5.1-.4 5.7 1z" fill="#0f0402"/>
<path d="M527.6 21.9l-5.7-.7 5-.8 5.7 .7z" fill="#0f0402"/>
<path d="M519.7 22.2l-5.8-.4 4.9-1.1 5.8 .4z" fill="#0f0402"/>
<path d="M511.7 23l-5.8-.1 4.8-1.5 5.8 .2z" fill="#0f0402"/>
<path d="M579.8 30.6l-5.6-1.4 5 2.7 5.6 1.5z" fill="#0f0603"/>
<path d="M571.7 27.7l-5.7-1.2 5 2.3 5.6 1.2z" fill="#0f0502"/>
<path d="M563.6 25.4l-5.7-.9 5 1.9 5.7 1z" fill="#0f0502"/>
<path d="M555.5 23.5l-5.7-.6 5 1.6 5.7 .7z" fill="#0f0402"/>
<path d="M547.5 22.1l-4.8-.3 4.3 .2 4.3 .7z" fill="#0f0402"/>
<path d="M539.3 22l-5.7-1 5.1-.1 5.7 1.1z" fill="#0f0402"/>
<path d="M531.3 21.6l-5.7-.7 5-.5 5.7 .8z" fill="#0f0402"/>
<path d="M523.3 21.6l-5.8-.5 5-.8 5.8 .5z" fill="#0f0402"/>
<path d="M515.3 22.1l-5.8-.2 4.9-1.2 5.8 .3z" fill="#0f0402"/>
<path d="M507.3 23.1l-5.9 .1 4.8-1.6 5.9-0z" fill="#0f0402"/>
<path d="M583.7 32.4l-5.6-1.5 5 3 5.6 1.5z" fill="#0f0603"/>
<path d="M575.6 29.2l-5.7-1.2 5 2.6 5.6 1.3z" fill="#0f0502"/>
<path d="M567.5 26.6l-5.7-1 5 2.2 5.7 1z" fill="#0f0502"/>
<path d="M559.4 24.4l-5.7-.7 5 1.9 5.7 .8z" fill="#0f0402"/>
<path d="M551.2 22.7l-5.7-.5 5 1.5 5.7 .5z" fill="#0f0402"/>
<path d="M543.1 21.4l-5.8-.2 5 1.1 5.8 .3z" fill="#0f0402"/>
<path d="M534.9 21.6l-5.7-.8 5.1-.2 5.7 .9z" fill="#0f0402"/>
<path d="M526.9 21.3l-5.8-.6 5-.5 5.8 .6z" fill="#0f0402"/>
<path d="M518.9 21.5l-5.8-.3 5-.9 5.8 .4z" fill="#0f0402"/>
<path d="M510.8 22.2l-5.9-0 4.9-1.3 5.9 .1z" fill="#0f0402"/>
<path d="M502.8 23.4l-5.9 .2 4.8-1.7 5.9-.2z" fill="#0f0402"/>
<path d="M587.6 34.4l-5.6-1.6 5 3.3 5.6 1.6z" fill="#0f0703"/>
<path d="M579.5 31l-5.6-1.3 5 2.9 5.6 1.4z" fill="#0f0502"/>
<path d="M571.3 28l-5.7-1.1 5 2.5 5.7 1.1z" fill="#0f0502"/>
<path d="M563.2 25.5l-5.7-.8 5 2.2 5.7 .9z" fill="#0f0402"/>
<path d="M555 23.5l-5.8-.6 5 1.8 5.8 .6z" fill="#0f0402"/>
<path d="M546.9 22l-5.8-.3 5 1.4 5.8 .4z" fill="#0f0402"/>
<path d="M538.7 20.9l-5.8-0 5 1 5.8 .1z" fill="#0f0402"/>
<path d="M530.6 20.4l-5.8 .2 5 .7 5.8-.2z" fill="#0f0402"/>
<path d="M522.5 21.2l-5.8-.4 5-.6 5.8 .5z" fill="#0f0402"/>
<path d="M514.4 21.6l-5.9-.1 4.9-1 5.9 .2z" fill="#0f0402"/>
<path d="M506.4 22.5l-5.9 .1 4.9-1.4 5.9-.1z" fill="#0f0402"/>
<path d="M498.4 23.9l-5.9 .4 4.8-1.7 5.9-.4z" fill="#0f0402"/>
<path d="M591.5 36.8l-5.6-1.6 5 3.6 5.6 1.7z" fill="#0f0803"/>
<path d="M583.4 33l-5.6-1.4 5 3.2 5.6 1.4z" fill="#0f0603"/>
<path d="M575.2 29.7l-5.7-1.2 5 2.9 5.7 1.2z" fill="#0f0502"/>
<path d="M567.1 26.9l-5.7-.9 5 2.5 5.7 1z" fill="#0f0402"/>
<path d="M558.9 24.6l-5.8-.7 5 2.1 5.8 .7z" fill="#0f0402"/>
<path d="M550.7 22.8l-5.8-.4 5.1 1.7 5.8 .4z" fill="#0f0402"/>
<path d="M542.5 21.4l-5.8-.1 5.1 1.4 5.8 .2z" fill="#0f0402"/>
<path d="M534.3 20.6l-5.8 .1 5.1 1 5.8-.1z" fill="#0f0302"/>
<path d="M526.2 20.2l-5.8 .4 5 .6 5.8-.3z" fill="#0f0302"/>
<path d="M518 21.2l-5.9-.2 5-.7 5.9 .3z" fill="#0f0302"/>
<path d="M509.9 21.8l-5.9 0 4.9-1.1 5.9 0z" fill="#0f0402"/>
<path d="M501.9 22.9l-5.9 .3 4.8-1.4 6-.3z" fill="#0f0402"/>
<path d="M493.8 24.4l-6 .6 4.7-1.8 6-.5z" fill="#0f0402"/>
<path d="M595.5 39.4l-5.6-1.7 5 3.9 5.6 1.8z" fill="#0f0803"/>
<path d="M587.3 35.3l-5.6-1.5 5 3.5 5.6 1.5z" fill="#0f0703"/>
<path d="M579.2 31.7l-5.7-1.2 5 3.2 5.7 1.3z" fill="#0f0502"/>
<path d="M571 28.6l-5.7-1 5 2.8 5.7 1z" fill="#0f0502"/>
<path d="M562.8 26l-5.8-.7 5 2.4 5.8 .8z" fill="#0f0402"/>
<path d="M554.5 23.9l-5.8-.5 5.1 2.1 5.8 .5z" fill="#0f0402"/>
<path d="M546.3 22.2l-5.8-.2 5.1 1.7 5.8 .3z" fill="#0f0402"/>
<path d="M538.1 21.1l-5.8 0 5.1 1.3 5.8 0z" fill="#0f0302"/>
<path d="M529.9 20.4l-5.8 .3 5.1 .9 5.8-.3z" fill="#0f0302"/>
<path d="M521.7 20.2l-5.8 .6 5 .5 5.9-.5z" fill="#0f0302"/>
<path d="M513.5 20.5l-5.8 .9 5 .1 5.9-.8z" fill="#0f0302"/>
<path d="M505.4 22.2l-5.9 .2 4.9-1.1 5.9-.2z" fill="#0f0302"/>
<path d="M497.4 23.4l-6 .5 4.8-1.5 6-.4z" fill="#0f0402"/>
<path d="M489.3 25.2l-6 .8 4.7-1.9 6-.7z" fill="#0f0402"/>
<path d="M599.5 42.3l-5.6-1.8 5 4.2 5.6 1.8z" fill="#0f0903"/>
<path d="M591.3 37.9l-5.6-1.5 5 3.8 5.6 1.6z" fill="#0f0703"/>
<path d="M583.1 34l-5.7-1.3 5 3.5 5.7 1.4z" fill="#0f0603"/>
<path d="M574.9 30.6l-5.7-1.1 5 3.1 5.7 1.1z" fill="#0f0502"/>
<path d="M566.7 27.7l-5.8-.8 5.1 2.7 5.8 .9z" fill="#0f0402"/>
<path d="M558.4 25.2l-5.8-.6 5.1 2.4 5.8 .6z" fill="#0f0402"/>
<path d="M550.2 23.3l-5.8-.3 5.1 2 5.8 .4z" fill="#0f0402"/>
<path d="M541.9 21.8l-5.8-.1 5.1 1.6 5.9 .1z" fill="#0f0302"/>
<path d="M533.7 20.8l-5.9 .2 5.1 1.2 5.9-.2z" fill="#0f0302"/>
<path d="M525.4 20.3l-5.9 .5 5.1 .8 5.9-.4z" fill="#0f0302"/>
<path d="M517.2 20.3l-5.9 .8 5 .5 5.9-.7z" fill="#0f0302"/>
<path d="M509 20.8l-5.9 1 5 .1 5.9-1z" fill="#0f0302"/>
<path d="M500.9 22.7l-6 .4 4.9-1.2 6-.4z" fill="#0f0302"/>
<path d="M492.8 24.1l-6 .7 4.8-1.6 6-.6z" fill="#0f0402"/>
<path d="M484.7 26.1l-6 1 4.7-1.9 6.1-.9z" fill="#0f0402"/>
<path d="M603.5 45.5l-5.6-1.8 5 4.5 5.6 1.9z" fill="#0f0a03"/>
<path d="M595.3 40.8l-5.6-1.6 5 4.1 5.6 1.7z" fill="#0f0803"/>
<path d="M587.1 36.6l-5.7-1.4 5 3.8 5.7 1.4z" fill="#0f0603"/>
<path d="M578.8 32.8l-5.7-1.1 5 3.4 5.7 1.2z" fill="#0f0502"/>
<path d="M570.6 29.6l-5.8-.9 5.1 3 5.8 1z" fill="#0f0402"/>
<path d="M562.3 26.8l-5.8-.7 5.1 2.7 5.8 .7z" fill="#0f0402"/>
<path d="M554 24.6l-5.8-.4 5.1 2.3 5.8 .4z" fill="#0f0402"/>
<path d="M545.7 22.8l-5.9-.1 5.1 1.9 5.9 .2z" fill="#0f0302"/>
<path d="M537.4 21.5l-5.9 .1 5.1 1.5 5.9-.1z" fill="#0f0302"/>
<path d="M529.2 20.7l-5.9 .4 5.1 1.2 5.9-.3z" fill="#0e0302"/>
<path d="M520.9 20.4l-5.9 .7 5.1 .8 5.9-.6z" fill="#0e0302"/>
<path d="M512.6 20.6l-5.9 .9 5.1 .4 5.9-.9z" fill="#0f0302"/>
<path d="M504.4 21.3l-5.9 1.2 5 0 5.9-1.2z" fill="#0f0302"/>
<path d="M496.2 22.4l-5.9 1.5 5-.4 5.9-1.4z" fill="#0f0302"/>
<path d="M488.2 25l-6 .9 4.8-1.6 6.1-.8z" fill="#0f0402"/>
<path d="M480.1 27.1l-6.1 1.1 4.7-2 6.1-1.1z" fill="#0f0402"/>
<path d="M607.5 48.9l-5.6-1.9 5 4.8 5.5 1.9z" fill="#261c09"/>
<path d="M599.3 43.9l-5.6-1.7 5 4.4 5.6 1.7z" fill="#1f1307"/>
<path d="M591.1 39.4l-5.7-1.5 5 4.1 5.7 1.5z" fill="#160b04"/>
<path d="M582.8 35.3l-5.7-1.2 5 3.7 5.7 1.3z" fill="#0f0602"/>
<path d="M574.5 31.8l-5.8-1 5.1 3.4 5.8 1z" fill="#0f0502"/>
<path d="M566.2 28.7l-5.8-.7 5.1 3 5.8 .8z" fill="#0f0402"/>
<path d="M557.9 26.1l-5.8-.5 5.1 2.6 5.8 .5z" fill="#0f0402"/>
<path d="M549.6 24l-5.9-.2 5.1 2.2 5.9 .3z" fill="#0f0402"/>
<path d="M541.3 22.4l-5.9 0 5.1 1.9 5.9 0z" fill="#0f0302"/>
<path d="M533 21.3l-5.9 .3 5.1 1.5 5.9-.3z" fill="#0e0302"/>
<path d="M524.6 20.7l-5.9 .6 5.1 1.1 5.9-.5z" fill="#0e0302"/>
<path d="M516.4 20.6l-5.9 .8 5.1 .7 5.9-.8z" fill="#0e0302"/>
<path d="M508.1 21l-5.9 1.1 5.1 .3 5.9-1.1z" fill="#0e0302"/>
<path d="M499.8 21.9l-5.9 1.4 5-.1 5.9-1.3z" fill="#0f0302"/>
<path d="M491.6 23.3l-5.9 1.7 5-.4 5.9-1.6z" fill="#0f0302"/>
<path d="M483.6 26l-6.1 1.1 4.7-1.7 6.1-1z" fill="#0f0402"/>
<path d="M475.5 28.3l-6.1 1.3 4.6-2 6.1-1.3z" fill="#0f0402"/>
<path d="M611.6 52.7l-5.5-2 5 5.1 5.5 2z" fill="#3b2e0e"/>
<path d="M603.4 47.3l-5.6-1.7 5 4.7 5.6 1.8z" fill="#35240c"/>
<path d="M595.1 42.5l-5.7-1.5 5 4.4 5.7 1.6z" fill="#2e1a09"/>
<path d="M586.8 38.1l-5.7-1.3 5 4 5.7 1.3z" fill="#261007"/>
<path d="M578.5 34.3l-5.8-1.1 5.1 3.7 5.8 1.1z" fill="#1b0904"/>
<path d="M570.2 30.9l-5.8-.8 5.1 3.3 5.8 .9z" fill="#0f0502"/>
<path d="M561.8 28l-5.8-.6 5.1 2.9 5.8 .6z" fill="#0f0402"/>
<path d="M553.5 25.6l-5.9-.3 5.1 2.6 5.9 .4z" fill="#0f0402"/>
<path d="M545.1 23.7l-5.9-0 5.1 2.2 5.9 .1z" fill="#0f0302"/>
<path d="M536.8 22.3l-5.9 .2 5.1 1.8 5.9-.2z" fill="#0f0302"/>
<path d="M528.4 21.4l-5.9 .5 5.1 1.4 5.9-.4z" fill="#0e0302"/>
<path d="M520.1 20.9l-5.9 .8 5.1 1 6-.7z" fill="#0e0302"/>
<path d="M511.8 21l-5.9 1 5.1 .6 6-1z" fill="#0e0302"/>
<path d="M503.5 21.6l-5.9 1.3 5 .3 5.9-1.2z" fill="#0e0302"/>
<path d="M495.2 22.7l-5.9 1.6 5-.1 5.9-1.5z" fill="#0f0302"/>
<path d="M486.9 24.2l-5.9 1.8 5-.5 5.9-1.8z" fill="#0f0402"/>
<path d="M478.7 26.3l-5.9 2.1 4.9-.9 5.9-2.1z" fill="#0f0402"/>
<path d="M470.8 29.6l-6.1 1.5 4.6-2.1 6.1-1.5z" fill="#0f0402"/>
<path d="M615.7 56.7l-5.5-2 5 5.4 5.5 2z" fill="#4c4113"/>
<path d="M607.4 51l-5.6-1.8 5 5.1 5.6 1.8z" fill="#473511"/>
<path d="M599.2 45.9l-5.7-1.6 5 4.7 5.6 1.6z" fill="#41290e"/>
<path d="M590.8 41.2l-5.7-1.4 5 4.3 5.7 1.4z" fill="#3b1e0c"/>
<path d="M582.5 37l-5.8-1.1 5.1 4 5.8 1.2z" fill="#341409"/>
<path d="M574.2 33.3l-5.8-.9 5.1 3.6 5.8 .9z" fill="#2a0e07"/>
<path d="M565.8 30.1l-5.8-.6 5.1 3.2 5.8 .7z" fill="#1f0904"/>
<path d="M557.4 27.4l-5.9-.4 5.1 2.9 5.9 .4z" fill="#110402"/>
<path d="M549 25.2l-5.9-.1 5.1 2.5 5.9 .2z" fill="#0f0302"/>
<path d="M540.6 23.5l-5.9 .1 5.1 2.1 5.9-.1z" fill="#0f0302"/>
<path d="M532.3 22.2l-6 .4 5.1 1.7 6-.3z" fill="#0e0302"/>
<path d="M523.9 21.5l-6 .7 5.1 1.3 6-.6z" fill="#0e0302"/>
<path d="M515.5 21.3l-6 .9 5.1 1 6-.9z" fill="#0e0302"/>
<path d="M507.2 21.6l-6 1.2 5.1 .6 6-1.2z" fill="#0e0302"/>
<path d="M498.8 22.3l-6 1.5 5 .2 6-1.4z" fill="#0e0302"/>
<path d="M490.5 23.6l-5.9 1.8 5-.2 5.9-1.7z" fill="#0f0302"/>
<path d="M482.2 25.3l-5.9 2 5-.6 5.9-2z" fill="#0f0402"/>
<path d="M474 27.6l-5.9 2.3 4.9-1 5.9-2.2z" fill="#0f0402"/>
<path d="M466.1 31.2l-6.1 1.7 4.6-2.2 6.2-1.7z" fill="#0f0402"/>
<path d="M619.8 61l-5.5-2.1 5 5.7 5.5 2.1z" fill="#574f16"/>
<path d="M611.5 55l-5.6-1.9 5 5.4 5.6 1.9z" fill="#564515"/>
<path d="M603.2 49.5l-5.6-1.6 5 5 5.6 1.7z" fill="#523913"/>
<path d="M594.9 44.6l-5.7-1.4 5 4.7 5.7 1.5z" fill="#4d2c10"/>
<path d="M586.5 40.1l-5.8-1.2 5.1 4.3 5.7 1.2z" fill="#47200d"/>
<path d="M578.2 36l-5.8-1 5.1 3.9 5.8 1z" fill="#40160a"/>
<path d="M569.8 32.5l-5.8-.7 5.1 3.6 5.8 .8z" fill="#381108"/>
<path d="M561.4 29.5l-5.9-.5 5.1 3.2 5.9 .5z" fill="#2e0d06"/>
<path d="M553 26.9l-5.9-.2 5.1 2.8 5.9 .3z" fill="#210804"/>
<path d="M544.5 24.9l-5.9 0 5.1 2.4 5.9-0z" fill="#100402"/>
<path d="M536.1 23.4l-6 .3 5.1 2.1 6-.3z" fill="#0e0302"/>
<path d="M527.7 22.3l-6 .6 5.1 1.7 6-.5z" fill="#0e0302"/>
<path d="M519.3 21.8l-6 .8 5.1 1.3 6-.8z" fill="#0e0302"/>
<path d="M510.9 21.8l-6 1.1 5.1 .9 6-1.1z" fill="#0e0302"/>
<path d="M502.5 22.2l-6 1.4 5.1 .5 6-1.3z" fill="#0e0302"/>
<path d="M494.2 23.2l-6 1.7 5 .1 6-1.6z" fill="#0e0302"/>
<path d="M485.8 24.7l-6 1.9 5-.3 6-1.9z" fill="#0f0302"/>
<path d="M477.5 26.6l-5.9 2.2 5-.6 5.9-2.2z" fill="#0f0402"/>
<path d="M469.3 29l-5.9 2.5 4.9-1 5.9-2.4z" fill="#0f0402"/>
<path d="M461.1 32l-4.8 1.8 3.4-1.3 4.8-1.8z" fill="#0f0502"/>
<path d="M623.9 65.6l-5.5-2.1 4.9 6 5.5 2.1z" fill="#5e5c17"/>
<path d="M615.6 59.3l-5.6-1.9 5 5.7 5.6 1.9z" fill="#645719"/>
<path d="M607.3 53.5l-5.6-1.7 5 5.3 5.6 1.7z" fill="#604917"/>
<path d="M599 48.2l-5.7-1.5 5 5 5.7 1.5z" fill="#5c3b15"/>
<path d="M590.6 43.4l-5.7-1.2 5.1 4.6 5.7 1.3z" fill="#572d11"/>
<path d="M582.2 39l-5.8-1 5.1 4.2 5.8 1.1z" fill="#52200e"/>
<path d="M573.8 35.2l-5.8-.8 5.1 3.9 5.8 .8z" fill="#4b190c"/>
<path d="M565.4 31.8l-5.9-.5 5.1 3.5 5.9 .6z" fill="#44140a"/>
<path d="M556.9 29l-5.9-.3 5.1 3.1 5.9 .3z" fill="#3a0f08"/>
<path d="M548.5 26.6l-6-0 5.1 2.8 6 .1z" fill="#2f0b06"/>
<path d="M540 24.8l-6 .2 5.1 2.4 6-.2z" fill="#1f0704"/>
<path d="M531.5 23.5l-6 .5 5.1 2 6-.4z" fill="#0e0302"/>
<path d="M523.1 22.6l-6 .8 5.1 1.6 6-.7z" fill="#0e0302"/>
<path d="M514.7 22.3l-6 1 5.1 1.2 6-1z" fill="#0e0302"/>
<path d="M506.2 22.4l-6 1.3 5.1 .8 6-1.3z" fill="#0e0302"/>
<path d="M497.8 23.1l-6 1.6 5.1 .4 6-1.5z" fill="#0e0302"/>
<path d="M489.5 24.2l-6 1.8 5 .1 6-1.8z" fill="#0f0302"/>
<path d="M481.1 25.9l-6 2.1 5-.3 6-2.1z" fill="#0f0302"/>
<path d="M472.8 28l-5.9 2.4 4.9-.7 6-2.3z" fill="#0f0402"/>
<path d="M464.5 30.7l-5.9 2.7 4.9-1.1 5.9-2.6z" fill="#0f0402"/>
<path d="M456.3 33.8l-5.9 2.9 4.8-1.4 5.9-2.9z" fill="#0f0502"/>
<path d="M628 70.4l-5.5-2.2 4.9 6.3 5.5 2.2z" fill="#616718"/>
<path d="M619.7 63.9l-5.6-2 5 6 5.5 2z" fill="#6a621a"/>
<path d="M611.4 57.7l-5.6-1.7 5 5.6 5.6 1.8z" fill="#6c591a"/>
<path d="M603.1 52.1l-5.7-1.5 5 5.3 5.7 1.6z" fill="#684a18"/>
<path d="M594.7 47l-5.7-1.3 5.1 4.9 5.7 1.3z" fill="#643c15"/>
<path d="M586.3 42.3l-5.8-1.1 5.1 4.6 5.8 1.1z" fill="#602d12"/>
<path d="M577.8 38.2l-5.8-.8 5.1 4.2 5.8 .9z" fill="#5b200f"/>
<path d="M569.4 34.5l-5.9-.6 5.1 3.8 5.9 .6z" fill="#551b0d"/>
<path d="M560.9 31.3l-5.9-.4 5.1 3.5 5.9 .4z" fill="#4f160b"/>
<path d="M552.4 28.7l-6-.1 5.1 3.1 6 .2z" fill="#461209"/>
<path d="M543.9 26.5l-6 .1 5.1 2.7 6-.1z" fill="#3b0d07"/>
<path d="M535.4 24.8l-6 .4 5.1 2.3 6-.4z" fill="#2d0a05"/>
<path d="M526.9 23.7l-6 .7 5.1 1.9 6-.6z" fill="#1b0603"/>
<path d="M518.5 23l-6 .9 5.1 1.5 6-.9z" fill="#0e0302"/>
<path d="M510 22.9l-6 1.2 5.1 1.2 6.1-1.2z" fill="#0e0302"/>
<path d="M501.5 23.2l-6 1.5 5.1 .8 6-1.4z" fill="#0e0302"/>
<path d="M493.1 24.1l-6 1.8 5.1 .4 6-1.7z" fill="#0e0302"/>
<path d="M484.7 25.4l-6 2 5-0 6-2z" fill="#0f0302"/>
<path d="M476.4 27.3l-6 2.3 5-.4 6-2.3z" fill="#0f0402"/>
<path d="M468 29.6l-6 2.6 4.9-.8 6-2.5z" fill="#0f0402"/>
<path d="M459.8 32.5l-5.9 2.8 4.9-1.1 5.9-2.8z" fill="#0f0402"/>
<path d="M451.5 35.8l-5.9 3.1 4.8-1.5 5.9-3z" fill="#0f0502"/>
<path d="M632.1 75.6l-5.5-2.2 4.9 6.6 5.5 2.2z" fill="#5d6d18"/>
<path d="M623.9 68.7l-5.5-2 5 6.3 5.5 2z" fill="#6d6d1b"/>
<path d="M615.5 62.3l-5.6-1.8 5 5.9 5.6 1.8z" fill="#75681d"/>
<path d="M607.2 56.3l-5.7-1.6 5 5.6 5.7 1.6z" fill="#745a1c"/>
<path d="M598.8 50.9l-5.7-1.4 5.1 5.2 5.7 1.4z" fill="#704b19"/>
<path d="M590.3 45.9l-5.8-1.1 5.1 4.9 5.8 1.2z" fill="#6c3b16"/>
<path d="M581.9 41.4l-5.8-.9 5.1 4.5 5.8 .9z" fill="#682c13"/>
<path d="M573.4 37.4l-5.9-.7 5.1 4.1 5.9 .7z" fill="#642110"/>
<path d="M564.9 34l-5.9-.4 5.1 3.8 5.9 .5z" fill="#5f1c0e"/>
<path d="M556.4 31l-6-.2 5.1 3.4 6 .2z" fill="#58180c"/>
<path d="M547.9 28.5l-6 .1 5.1 3 6-0z" fill="#50130a"/>
<path d="M539.3 26.5l-6 .3 5.2 2.6 6-.3z" fill="#460f08"/>
<path d="M530.8 25l-6 .6 5.1 2.3 6-.5z" fill="#390c07"/>
<path d="M522.3 24.1l-6.1 .9 5.1 1.9 6.1-.8z" fill="#280805"/>
<path d="M513.8 23.6l-6.1 1.1 5.1 1.5 6.1-1.1z" fill="#140402"/>
<path d="M505.3 23.6l-6.1 1.4 5.1 1.1 6.1-1.4z" fill="#0e0302"/>
<path d="M496.8 24.2l-6.1 1.7 5.1 .7 6.1-1.6z" fill="#0e0302"/>
<path d="M488.4 25.2l-6 1.9 5.1 .3 6.1-1.9z" fill="#0e0302"/>
<path d="M480 26.8l-6 2.2 5-.1 6-2.2z" fill="#0f0302"/>
<path d="M471.6 28.8l-6 2.5 5-.5 6-2.4z" fill="#0f0402"/>
<path d="M463.2 31.4l-6 2.8 4.9-.8 6-2.7z" fill="#0f0402"/>
<path d="M454.9 34.4l-5.9 3 4.9-1.2 5.9-3z" fill="#0f0502"/>
<path d="M446.7 37.9l-5.9 3.3 4.8-1.6 5.9-3.2z" fill="#0f0502"/>
<path d="M636.3 81l-5.5-2.2 4.9 6.9 5.5 2.3z" fill="#557317"/>
<path d="M628 73.8l-5.5-2 5 6.6 5.5 2.1z" fill="#6b751b"/>
<path d="M619.7 67.1l-5.6-1.8 5 6.2 5.6 1.9z" fill="#77721e"/>
<path d="M611.3 60.8l-5.7-1.6 5 5.9 5.7 1.7z" fill="#7e6b1f"/>
<path d="M602.9 55.1l-5.7-1.4 5.1 5.5 5.7 1.4z" fill="#7a5a1d"/>
<path d="M594.4 49.8l-5.8-1.2 5.1 5.2 5.8 1.2z" fill="#774a1a"/>
<path d="M586 45l-5.8-1 5.1 4.8 5.8 1z" fill="#743916"/>
<path d="M577.5 40.7l-5.9-.7 5.1 4.5 5.9 .8z" fill="#702a13"/>
<path d="M568.9 36.9l-5.9-.5 5.1 4.1 5.9 .5z" fill="#6c2311"/>
<path d="M560.4 33.5l-6-.2 5.1 3.7 6 .3z" fill="#671d0f"/>
<path d="M551.8 30.7l-6 0 5.2 3.3 6 0z" fill="#61190d"/>
<path d="M543.3 28.4l-6 .3 5.2 3 6-.2z" fill="#59150b"/>
<path d="M534.7 26.7l-6.1 .5 5.2 2.6 6.1-.5z" fill="#50110a"/>
<path d="M526.2 25.4l-6.1 .8 5.2 2.2 6.1-.7z" fill="#430e08"/>
<path d="M517.6 24.6l-6.1 1 5.1 1.8 6.1-1z" fill="#340b06"/>
<path d="M509.1 24.3l-6.1 1.3 5.1 1.4 6.1-1.3z" fill="#210704"/>
<path d="M500.6 24.6l-6.1 1.6 5.1 1 6.1-1.5z" fill="#0e0302"/>
<path d="M492.1 25.3l-6.1 1.9 5.1 .6 6.1-1.8z" fill="#0e0302"/>
<path d="M483.6 26.6l-6.1 2.1 5.1 .3 6.1-2.1z" fill="#0f0302"/>
<path d="M475.2 28.3l-6 2.4 5-.1 6.1-2.4z" fill="#0f0302"/>
<path d="M466.8 30.6l-6 2.7 5-.5 6-2.6z" fill="#0f0402"/>
<path d="M458.4 33.3l-6 2.9 4.9-.9 6-2.9z" fill="#0f0402"/>
<path d="M450.1 36.5l-5.9 3.2 4.8-1.3 6-3.2z" fill="#0f0502"/>
<path d="M441.9 40.3l-5.9 3.5 4.8-1.6 5.9-3.4z" fill="#0f0603"/>
<path d="M640.5 86.8l-5.4-2.3 4.9 7.2 5.4 2.3z" fill="#4c7716"/>
<path d="M632.2 79.3l-5.5-2.1 5 6.9 5.5 2.1z" fill="#627a1a"/>
<path d="M623.8 72.2l-5.6-1.9 5 6.6 5.6 1.9z" fill="#787c1e"/>
<path d="M615.5 65.6l-5.6-1.7 5 6.2 5.6 1.7z" fill="#827720"/>
<path d="M607 59.5l-5.7-1.5 5.1 5.9 5.7 1.5z" fill="#846b20"/>
<path d="M598.6 53.9l-5.8-1.2 5.1 5.5 5.8 1.3z" fill="#815a1e"/>
<path d="M590.1 48.8l-5.8-1 5.1 5.1 5.8 1.1z" fill="#7e481a"/>
<path d="M581.5 44.2l-5.9-.8 5.1 4.8 5.9 .8z" fill="#7a3717"/>
<path d="M573 40.1l-5.9-.6 5.1 4.4 5.9 .6z" fill="#772913"/>
<path d="M564.4 36.4l-6-.3 5.1 4 6 .4z" fill="#732311"/>
<path d="M555.8 33.3l-6-.1 5.2 3.7 6 .1z" fill="#6e1e0f"/>
<path d="M547.3 30.7l-6 .2 5.2 3.3 6-.1z" fill="#691a0e"/>
<path d="M538.7 28.6l-6.1 .4 5.2 2.9 6.1-.4z" fill="#62160c"/>
<path d="M530.1 27l-6.1 .7 5.2 2.5 6.1-.7z" fill="#58130a"/>
<path d="M521.5 25.9l-6.1 1 5.2 2.1 6.1-.9z" fill="#4c1009"/>
<path d="M512.9 25.3l-6.1 1.2 5.2 1.8 6.1-1.2z" fill="#3e0d07"/>
<path d="M504.3 25.2l-6.1 1.5 5.1 1.4 6.1-1.5z" fill="#2d0905"/>
<path d="M495.8 25.7l-6.1 1.8 5.1 1 6.1-1.7z" fill="#170503"/>
<path d="M487.3 26.6l-6.1 2 5.1 .6 6.1-2z" fill="#0e0302"/>
<path d="M478.8 28l-6.1 2.3 5 .2 6.1-2.3z" fill="#0f0302"/>
<path d="M470.4 30l-6.1 2.6 5-.2 6.1-2.5z" fill="#0f0402"/>
<path d="M461.9 32.4l-6 2.9 5-.6 6-2.8z" fill="#0f0402"/>
<path d="M453.6 35.4l-6 3.1 4.9-1 6-3.1z" fill="#0f0502"/>
<path d="M445.3 38.8l-5.9 3.4 4.8-1.3 6-3.3z" fill="#0f0502"/>
<path d="M437 42.7l-5.9 3.6 4.8-1.7 5.9-3.6z" fill="#0f0703"/>
<path d="M644.7 92.8l-5.4-2.3 4.9 7.5 5.4 2.3z" fill="#467a16"/>
<path d="M636.4 85l-5.5-2.1 5 7.2 5.5 2.1z" fill="#577e18"/>
<path d="M628 77.6l-5.6-1.9 5 6.9 5.6 2z" fill="#6f811c"/>
<path d="M619.6 70.7l-5.6-1.7 5 6.5 5.6 1.7z" fill="#818020"/>
<path d="M611.2 64.3l-5.7-1.5 5.1 6.2 5.7 1.5z" fill="#8b7b23"/>
<path d="M602.7 58.4l-5.8-1.3 5.1 5.8 5.8 1.3z" fill="#896a21"/>
<path d="M594.2 52.9l-5.8-1.1 5.1 5.5 5.8 1.1z" fill="#86591e"/>
<path d="M585.6 48l-5.9-.8 5.1 5.1 5.9 .9z" fill="#83461a"/>
<path d="M577.1 43.5l-5.9-.6 5.1 4.7 5.9 .7z" fill="#803517"/>
<path d="M568.5 39.6l-6-.4 5.2 4.4 6 .4z" fill="#7d2a14"/>
<path d="M559.9 36.1l-6-.1 5.2 4 6 .2z" fill="#7a2412"/>
<path d="M551.3 33.2l-6 .1 5.2 3.6 6-.1z" fill="#751f10"/>
<path d="M542.6 30.8l-6.1 .4 5.2 3.2 6.1-.3z" fill="#701b0e"/>
<path d="M534 28.8l-6.1 .6 5.2 2.9 6.1-.6z" fill="#69170d"/>
<path d="M525.4 27.4l-6.1 .9 5.2 2.5 6.1-.8z" fill="#60150b"/>
<path d="M516.8 26.5l-6.1 1.2 5.2 2.1 6.1-1.1z" fill="#55120a"/>
<path d="M508.2 26.1l-6.1 1.4 5.2 1.7 6.1-1.4z" fill="#480f08"/>
<path d="M499.6 26.3l-6.1 1.7 5.1 1.3 6.1-1.6z" fill="#380c06"/>
<path d="M491 26.9l-6.1 2 5.1 .9 6.1-1.9z" fill="#240804"/>
<path d="M482.5 28l-6.1 2.2 5.1 .5 6.1-2.2z" fill="#0f0302"/>
<path d="M474 29.7l-6.1 2.5 5 .1 6.1-2.5z" fill="#0f0302"/>
<path d="M465.5 31.8l-6.1 2.8 5-.3 6.1-2.7z" fill="#0f0402"/>
<path d="M457.1 34.5l-6 3 4.9-.6 6.1-3z" fill="#0f0402"/>
<path d="M448.7 37.6l-6 3.3 4.9-1 6-3.3z" fill="#0f0502"/>
<path d="M440.4 41.3l-6 3.6 4.8-1.4 6-3.5z" fill="#0f0603"/>
<path d="M432.1 45.4l-5.9 3.8 4.7-1.7 5.9-3.8z" fill="#0f0703"/>
<path d="M648.9 99.2l-5.4-2.3 4.9 7.8 5.4 2.4z" fill="#3d7d16"/>
<path d="M640.6 91l-5.5-2.2 5 7.5 5.5 2.2z" fill="#4f8117"/>
<path d="M632.2 83.3l-5.6-2 5 7.2 5.5 2z" fill="#64841b"/>
<path d="M623.8 76.1l-5.6-1.8 5 6.8 5.6 1.8z" fill="#7d871f"/>
<path d="M615.4 69.4l-5.7-1.6 5.1 6.5 5.7 1.6z" fill="#8b8422"/>
<path d="M606.9 63.1l-5.8-1.3 5.1 6.1 5.7 1.4z" fill="#927b24"/>
<path d="M598.3 57.4l-5.8-1.1 5.1 5.8 5.8 1.2z" fill="#8f6821"/>
<path d="M589.8 52.1l-5.9-.9 5.1 5.4 5.9 .9z" fill="#8c561e"/>
<path d="M581.2 47.3l-5.9-.7 5.1 5.1 5.9 .7z" fill="#89431a"/>
<path d="M572.6 43l-6-.4 5.2 4.7 6 .5z" fill="#863217"/>
<path d="M563.9 39.3l-6-.2 5.2 4.3 6 .2z" fill="#832a14"/>
<path d="M555.3 36l-6 0 5.2 3.9 6-0z" fill="#802512"/>
<path d="M546.6 33.2l-6.1 .3 5.2 3.6 6.1-.3z" fill="#7c2011"/>
<path d="M538 31l-6.1 .6 5.2 3.2 6.1-.5z" fill="#761c0f"/>
<path d="M529.3 29.3l-6.1 .8 5.2 2.8 6.1-.8z" fill="#70190d"/>
<path d="M520.7 28l-6.2 1.1 5.2 2.4 6.2-1z" fill="#67160c"/>
<path d="M512 27.3l-6.2 1.3 5.2 2 6.2-1.3z" fill="#5d140b"/>
<path d="M503.4 27.2l-6.2 1.6 5.2 1.6 6.2-1.6z" fill="#501109"/>
<path d="M494.8 27.5l-6.2 1.9 5.1 1.2 6.2-1.8z" fill="#420e08"/>
<path d="M486.2 28.3l-6.2 2.2 5.1 .8 6.2-2.1z" fill="#2f0a06"/>
<path d="M477.6 29.7l-6.1 2.4 5.1 .5 6.2-2.4z" fill="#160503"/>
<path d="M469.1 31.5l-6.1 2.7 5 .1 6.1-2.7z" fill="#0f0402"/>
<path d="M460.6 33.9l-6.1 3 5-.3 6.1-2.9z" fill="#0f0402"/>
<path d="M452.2 36.7l-6 3.2 4.9-.7 6.1-3.2z" fill="#0f0402"/>
<path d="M443.8 40l-6 3.5 4.9-1.1 6-3.5z" fill="#0f0502"/>
<path d="M435.5 43.9l-6 3.8 4.8-1.4 6-3.7z" fill="#0f0603"/>
<path d="M427.2 48.2l-5.9 4 4.7-1.8 5.9-4z" fill="#0f0803"/>
<path d="M653.1 105.8l-5.4-2.4 4.9 8.1 5.4 2.4z" fill="#377e15"/>
<path d="M644.8 97.3l-5.5-2.2 5 7.8 5.5 2.2z" fill="#468317"/>
<path d="M636.4 89.3l-5.5-2 5 7.5 5.5 2z" fill="#578719"/>
<path d="M628 81.8l-5.6-1.8 5 7.1 5.6 1.8z" fill="#708a1d"/>
<path d="M619.6 74.8l-5.7-1.6 5.1 6.8 5.7 1.6z" fill="#888c22"/>
<path d="M611.1 68.2l-5.7-1.4 5.1 6.4 5.7 1.4z" fill="#948725"/>
<path d="M602.5 62.1l-5.8-1.2 5.1 6.1 5.8 1.2z" fill="#967924"/>
<path d="M593.9 56.5l-5.9-1 5.1 5.7 5.8 1z" fill="#936722"/>
<path d="M585.3 51.4l-5.9-.7 5.1 5.4 5.9 .8z" fill="#91531e"/>
<path d="M576.7 46.8l-5.9-.5 5.1 5 5.9 .5z" fill="#8e401a"/>
<path d="M568 42.7l-6-.2 5.2 4.6 6 .3z" fill="#8b3017"/>
<path d="M559.4 39.1l-6-0 5.2 4.3 6 0z" fill="#882a15"/>
<path d="M550.7 36l-6.1 .2 5.2 3.9 6.1-.2z" fill="#852513"/>
<path d="M542 33.5l-6.1 .5 5.2 3.5 6.1-.4z" fill="#812111"/>
<path d="M533.3 31.4l-6.1 .7 5.2 3.1 6.1-.7z" fill="#7c1d10"/>
<path d="M524.6 29.9l-6.2 1 5.2 2.7 6.2-1z" fill="#761a0e"/>
<path d="M515.9 28.8l-6.2 1.3 5.2 2.4 6.2-1.2z" fill="#6d170d"/>
<path d="M507.2 28.3l-6.2 1.5 5.2 2 6.2-1.5z" fill="#64150c"/>
<path d="M498.6 28.3l-6.2 1.8 5.2 1.6 6.2-1.8z" fill="#58130a"/>
<path d="M489.9 28.9l-6.2 2.1 5.1 1.2 6.2-2z" fill="#4b1009"/>
<path d="M481.3 29.9l-6.2 2.3 5.1 .8 6.2-2.3z" fill="#390d07"/>
<path d="M472.8 31.4l-6.2 2.6 5.1 .4 6.2-2.6z" fill="#220804"/>
<path d="M464.2 33.5l-6.1 2.9 5 0 6.1-2.8z" fill="#0f0402"/>
<path d="M455.7 36l-6.1 3.2 5-.4 6.1-3.1z" fill="#0f0402"/>
<path d="M447.3 39.1l-6.1 3.4 4.9-.8 6.1-3.4z" fill="#0f0502"/>
<path d="M438.9 42.6l-6 3.7 4.8-1.1 6-3.6z" fill="#0f0602"/>
<path d="M430.5 46.7l-6 3.9 4.8-1.5 6-3.9z" fill="#0f0703"/>
<path d="M422.2 51.2l-5.9 4.2 4.7-1.9 5.9-4.2z" fill="#0f0903"/>
<path d="M657.3 112.7l-5.4-2.4 4.9 8.4 5.4 2.4z" fill="#327e13"/>
<path d="M649 103.9l-5.5-2.2 5 8.1 5.4 2.2z" fill="#3c8416"/>
<path d="M640.6 95.6l-5.5-2 5 7.8 5.5 2.1z" fill="#4e8818"/>
<path d="M632.2 87.8l-5.6-1.8 5 7.5 5.6 1.9z" fill="#628c1b"/>
<path d="M623.8 80.4l-5.7-1.6 5.1 7.1 5.7 1.7z" fill="#7d9020"/>
<path d="M615.3 73.5l-5.7-1.4 5.1 6.8 5.7 1.5z" fill="#908f24"/>
<path d="M606.7 67.1l-5.8-1.2 5.1 6.4 5.8 1.2z" fill="#9c8a27"/>
<path d="M598.1 61.2l-5.8-1 5.1 6 5.8 1z" fill="#9a7725"/>
<path d="M589.5 55.8l-5.9-.8 5.1 5.7 5.9 .8z" fill="#976522"/>
<path d="M580.8 50.8l-5.9-.5 5.1 5.3 5.9 .6z" fill="#95501e"/>
<path d="M572.2 46.4l-5.9-.3 5.1 4.9 5.9 .3z" fill="#923e1a"/>
<path d="M563.5 42.5l-6-0 5.1 4.6 6 .1z" fill="#903117"/>
<path d="M554.7 39.1l-6 .2 5.1 4.2 6-.2z" fill="#8d2b15"/>
<path d="M546 36.2l-6.1 .4 5.2 3.8 6.1-.4z" fill="#8a2613"/>
<path d="M537.3 33.8l-6.1 .7 5.2 3.5 6.1-.6z" fill="#862112"/>
<path d="M528.6 31.9l-6.2 .9 5.2 3.1 6.2-.9z" fill="#821e10"/>
<path d="M519.8 30.6l-6.2 1.2 5.2 2.7 6.2-1.1z" fill="#7c1b0f"/>
<path d="M511.1 29.8l-6.2 1.5 5.2 2.3 6.2-1.4z" fill="#74190e"/>
<path d="M502.4 29.5l-6.2 1.7 5.2 1.9 6.2-1.7z" fill="#6a170d"/>
<path d="M493.7 29.7l-6.2 2 5.2 1.5 6.2-1.9z" fill="#60150b"/>
<path d="M485.1 30.4l-6.2 2.3 5.1 1.1 6.2-2.2z" fill="#53120a"/>
<path d="M476.4 31.6l-6.2 2.5 5.1 .7 6.2-2.5z" fill="#420f08"/>
<path d="M467.8 33.4l-6.2 2.8 5.1 .3 6.2-2.8z" fill="#2c0b06"/>
<path d="M459.3 35.6l-6.1 3.1 5-0 6.2-3z" fill="#100402"/>
<path d="M450.8 38.4l-6.1 3.3 5-.4 6.1-3.3z" fill="#0f0402"/>
<path d="M442.3 41.6l-6.1 3.6 4.9-.8 6.1-3.6z" fill="#0f0502"/>
<path d="M433.9 45.4l-6 3.9 4.8-1.2 6-3.8z" fill="#0f0603"/>
<path d="M425.6 49.6l-6 4.1 4.7-1.5 6-4.1z" fill="#0f0803"/>
<path d="M417.3 54.3l-5.9 4.4 4.7-1.9 5.9-4.3z" fill="#0f0a03"/>
<path d="M661.5 119.9l-5.4-2.4 4.9 8.7 5.3 2.4z" fill="#2d7d12"/>
<path d="M653.2 110.8l-5.4-2.2 4.9 8.4 5.4 2.3z" fill="#378415"/>
<path d="M644.9 102.2l-5.5-2.1 5 8.1 5.5 2.1z" fill="#448a18"/>
<path d="M636.4 94.1l-5.6-1.9 5 7.8 5.6 1.9z" fill="#578e1a"/>
<path d="M628 86.4l-5.6-1.7 5 7.4 5.6 1.7z" fill="#6e921d"/>
<path d="M619.5 79.2l-5.7-1.4 5 7.1 5.7 1.5z" fill="#899522"/>
<path d="M610.9 72.4l-5.7-1.2 5.1 6.7 5.7 1.3z" fill="#999226"/>
<path d="M602.3 66.2l-5.8-1 5.1 6.3 5.8 1z" fill="#a18928"/>
<path d="M593.7 60.4l-5.8-.8 5.1 6 5.8 .8z" fill="#9e7525"/>
<path d="M585 55.2l-5.9-.6 5.1 5.6 5.9 .6z" fill="#9c6222"/>
<path d="M576.3 50.4l-5.9-.3 5.1 5.2 5.9 .4z" fill="#994d1e"/>
<path d="M567.6 46.2l-5.9-.1 5.1 4.9 5.9 .1z" fill="#973b1a"/>
<path d="M558.8 42.5l-6 .2 5.1 4.5 6-.1z" fill="#943117"/>
<path d="M550.1 39.2l-6 .4 5.1 4.1 6-.4z" fill="#922b15"/>
<path d="M541.3 36.5l-6.1 .6 5.1 3.8 6.1-.6z" fill="#8f2614"/>
<path d="M532.5 34.3l-6.1 .9 5.1 3.4 6.1-.8z" fill="#8b2212"/>
<path d="M523.8 32.7l-6.2 1.1 5.2 3 6.2-1.1z" fill="#871f11"/>
<path d="M515 31.5l-6.2 1.4 5.2 2.6 6.2-1.3z" fill="#811c10"/>
<path d="M506.3 30.9l-6.2 1.6 5.2 2.2 6.2-1.6z" fill="#791a0e"/>
<path d="M497.6 30.8l-6.2 1.9 5.2 1.9 6.2-1.9z" fill="#71180d"/>
<path d="M488.8 31.2l-6.2 2.2 5.2 1.5 6.2-2.1z" fill="#67170c"/>
<path d="M480.2 32.1l-6.2 2.5 5.1 1.1 6.2-2.4z" fill="#5a150b"/>
<path d="M471.5 33.5l-6.2 2.7 5.1 .7 6.2-2.7z" fill="#4a120a"/>
<path d="M462.9 35.5l-6.2 3 5 .3 6.2-3z" fill="#350e07"/>
<path d="M454.3 37.9l-6.2 3.3 5-.1 6.2-3.2z" fill="#1a0804"/>
<path d="M445.8 40.9l-6.1 3.5 4.9-.5 6.1-3.5z" fill="#0f0502"/>
<path d="M437.3 44.3l-6.1 3.8 4.9-.9 6.1-3.8z" fill="#0f0602"/>
<path d="M428.9 48.3l-6 4.1 4.8-1.2 6.1-4z" fill="#0f0703"/>
<path d="M420.6 52.7l-6 4.3 4.7-1.6 6-4.3z" fill="#0f0903"/>
<path d="M412.3 57.6l-5.9 4.6 4.6-2 6-4.5z" fill="#0f0b04"/>
<path d="M657.4 118l-5.4-2.3 4.9 8.7 5.4 2.3z" fill="#328313"/>
<path d="M649.1 109.1l-5.5-2.1 5 8.4 5.5 2.1z" fill="#3c8a17"/>
<path d="M640.7 100.6l-5.6-1.9 5 8.1 5.5 1.9z" fill="#4c8f19"/>
<path d="M632.2 92.6l-5.6-1.7 5 7.7 5.6 1.7z" fill="#5f931b"/>
<path d="M623.7 85.1l-5.6-1.5 5 7.4 5.6 1.5z" fill="#799720"/>
<path d="M615.1 78.1l-5.7-1.2 5 7 5.7 1.3z" fill="#939924"/>
<path d="M606.5 71.5l-5.7-1 5 6.6 5.7 1.1z" fill="#a09328"/>
<path d="M597.9 65.4l-5.8-.8 5 6.3 5.8 .8z" fill="#a48628"/>
<path d="M589.2 59.8l-5.8-.6 5 5.9 5.8 .6z" fill="#a27325"/>
<path d="M580.5 54.8l-5.9-.4 5.1 5.5 5.9 .4z" fill="#9f5f22"/>
<path d="M571.7 50.2l-5.9-.1 5.1 5.2 5.9 .2z" fill="#9d4b1e"/>
<path d="M562.9 46.1l-5.9 .1 5.1 4.8 5.9-.1z" fill="#9b391a"/>
<path d="M554.2 42.6l-6 .3 5.1 4.4 6-.3z" fill="#993118"/>
<path d="M545.4 39.5l-6 .6 5.1 4.1 6-.6z" fill="#962c16"/>
<path d="M536.6 37l-6.1 .8 5.1 3.7 6.1-.8z" fill="#932714"/>
<path d="M527.8 35l-6.1 1.1 5.1 3.3 6.1-1z" fill="#902313"/>
<path d="M519 33.5l-6.1 1.3 5.1 3 6.1-1.3z" fill="#8b2011"/>
<path d="M510.2 32.6l-6.2 1.6 5.2 2.6 6.2-1.5z" fill="#861e10"/>
<path d="M501.4 32.1l-6.3 1.8 5.2 2.2 6.3-1.8z" fill="#7f1c0f"/>
<path d="M492.7 32.2l-6.3 2.1 5.2 1.8 6.3-2.1z" fill="#771a0e"/>
<path d="M483.9 32.8l-6.3 2.4 5.2 1.4 6.3-2.3z" fill="#6d190d"/>
<path d="M475.2 34l-6.2 2.6 5.1 1 6.3-2.6z" fill="#60170c"/>
<path d="M466.6 35.6l-6.2 2.9 5.1 .6 6.2-2.9z" fill="#51150b"/>
<path d="M457.9 37.7l-6.2 3.2 5 .2 6.2-3.1z" fill="#3d1109"/>
<path d="M449.4 40.4l-6.2 3.5 5-.2 6.2-3.4z" fill="#240b05"/>
<path d="M440.8 43.6l-6.1 3.7 4.9-.5 6.2-3.7z" fill="#0f0502"/>
<path d="M432.4 47.2l-6.1 4 4.9-.9 6.1-3.9z" fill="#0f0603"/>
<path d="M423.9 51.4l-6 4.2 4.8-1.3 6.1-4.2z" fill="#0f0803"/>
<path d="M415.6 56l-6 4.5 4.7-1.6 6-4.5z" fill="#0f0a03"/>
<path d="M653.3 116.3l-5.5-2.1 5 8.7 5.5 2.1z" fill="#368815"/>
<path d="M644.9 107.5l-5.5-1.9 5 8.4 5.5 1.9z" fill="#408e18"/>
<path d="M636.5 99.2l-5.6-1.7 5 8 5.6 1.7z" fill="#52911a"/>
<path d="M627.9 91.4l-5.6-1.5 5 7.7 5.6 1.5z" fill="#66951c"/>
<path d="M619.4 84l-5.7-1.3 5 7.3 5.6 1.3z" fill="#819821"/>
<path d="M610.8 77.1l-5.7-1.1 5 6.9 5.7 1.1z" fill="#979725"/>
<path d="M602.1 70.7l-5.7-.8 5 6.6 5.7 .9z" fill="#a39229"/>
<path d="M593.4 64.8l-5.8-.6 5 6.2 5.8 .6z" fill="#a38127"/>
<path d="M584.6 59.4l-5.8-.4 5 5.9 5.8 .4z" fill="#a16e25"/>
<path d="M575.9 54.5l-5.9-.2 5 5.5 5.9 .2z" fill="#9f5a21"/>
<path d="M567.1 50.1l-5.9 .1 5 5.1 5.9-0z" fill="#9e471d"/>
<path d="M558.3 46.2l-5.9 .3 5 4.8 5.9-.3z" fill="#9d371a"/>
<path d="M549.5 42.8l-6 .5 5 4.4 6-.5z" fill="#9c3118"/>
<path d="M540.6 40l-6 .8 5.1 4 6-.7z" fill="#9a2c16"/>
<path d="M531.8 37.7l-6.1 1 5.1 3.7 6.1-1z" fill="#972815"/>
<path d="M523 35.9l-6.1 1.3 5.1 3.3 6.1-1.2z" fill="#942413"/>
<path d="M514.1 34.6l-6.1 1.5 5.1 2.9 6.1-1.5z" fill="#8f2212"/>
<path d="M505.3 33.8l-6.2 1.8 5.1 2.5 6.2-1.7z" fill="#8a1f11"/>
<path d="M496.5 33.6l-6.2 2 5.1 2.1 6.2-2z" fill="#841e10"/>
<path d="M487.7 33.9l-6.3 2.3 5.2 1.7 6.3-2.3z" fill="#7c1c0f"/>
<path d="M479 34.7l-6.3 2.6 5.1 1.4 6.3-2.5z" fill="#721b0f"/>
<path d="M470.3 36l-6.3 2.8 5.1 1 6.3-2.8z" fill="#661a0e"/>
<path d="M461.6 37.8l-6.2 3.1 5.1 .6 6.3-3.1z" fill="#57180c"/>
<path d="M453 40.2l-6.2 3.4 5 .2 6.2-3.3z" fill="#45150a"/>
<path d="M444.4 43.1l-6.2 3.7 5-.2 6.2-3.6z" fill="#2d0f07"/>
<path d="M435.8 46.4l-6.1 3.9 4.9-.6 6.2-3.9z" fill="#0f0603"/>
<path d="M427.3 50.3l-6.1 4.2 4.8-1 6.1-4.1z" fill="#0f0703"/>
<path d="M418.9 54.6l-6 4.4 4.8-1.3 6.1-4.4z" fill="#0f0903"/>
<path d="M649.2 114.7l-5.5-1.9 5 8.6 5.5 1.9z" fill="#398a16"/>
<path d="M640.7 106.1l-5.5-1.7 5 8.3 5.5 1.7z" fill="#458f19"/>
<path d="M632.2 97.9l-5.6-1.5 5 7.9 5.6 1.5z" fill="#58921a"/>
<path d="M623.6 90.2l-5.6-1.3 5 7.6 5.6 1.3z" fill="#6e951e"/>
<path d="M615 83l-5.7-1.1 5 7.2 5.7 1.1z" fill="#899822"/>
<path d="M606.3 76.3l-5.7-.9 5 6.9 5.7 .9z" fill="#9a9626"/>
<path d="M597.6 70l-5.8-.6 5 6.5 5.7 .7z" fill="#a59029"/>
<path d="M588.9 64.3l-5.8-.4 5 6.2 5.8 .4z" fill="#a37c27"/>
<path d="M580.1 59.1l-5.8-.2 5 5.8 5.8 .2z" fill="#a06a24"/>
<path d="M571.3 54.3l-5.9 0 5 5.4 5.9-0z" fill="#9f5620"/>
<path d="M562.4 50.1l-5.9 .3 5 5.1 5.9-.2z" fill="#9e441c"/>
<path d="M553.6 46.4l-5.9 .5 5 4.7 5.9-.5z" fill="#9d3619"/>
<path d="M544.7 43.3l-6 .7 5 4.3 6-.7z" fill="#9d3118"/>
<path d="M535.9 40.6l-6 1 5 4 6-.9z" fill="#9d2d16"/>
<path d="M527 38.5l-6 1.2 5 3.6 6.1-1.2z" fill="#9b2915"/>
<path d="M518.1 36.9l-6.1 1.5 5 3.2 6.1-1.4z" fill="#972614"/>
<path d="M509.3 35.8l-6.1 1.7 5.1 2.9 6.1-1.7z" fill="#932313"/>
<path d="M500.4 35.2l-6.2 2 5.1 2.5 6.2-1.9z" fill="#8e2112"/>
<path d="M491.6 35.2l-6.2 2.2 5.1 2.1 6.2-2.2z" fill="#882011"/>
<path d="M482.8 35.7l-6.3 2.5 5.1 1.7 6.3-2.5z" fill="#801f10"/>
<path d="M474 36.7l-6.3 2.8 5.1 1.3 6.3-2.7z" fill="#771e10"/>
<path d="M465.3 38.2l-6.3 3 5.1 .9 6.3-3z" fill="#6b1d0f"/>
<path d="M456.6 40.3l-6.3 3.3 5.1 .5 6.3-3.3z" fill="#5d1b0d"/>
<path d="M447.9 42.8l-6.2 3.6 5 .1 6.2-3.5z" fill="#4c180c"/>
<path d="M439.3 45.9l-6.2 3.8 4.9-.3 6.2-3.8z" fill="#351309"/>
<path d="M430.8 49.4l-6.2 4.1 4.9-.6 6.2-4.1z" fill="#180b04"/>
<path d="M422.3 53.5l-6.1 4.4 4.8-1 6.1-4.3z" fill="#0f0803"/>
<path d="M645 113.2l-5.5-1.7 4.9 8.6 5.5 1.7z" fill="#3c8c17"/>
<path d="M636.5 104.7l-5.5-1.5 5 8.2 5.5 1.5z" fill="#4b9019"/>
<path d="M627.9 96.7l-5.6-1.3 5 7.9 5.6 1.3z" fill="#5d931b"/>
<path d="M619.3 89.2l-5.6-1.1 5 7.5 5.6 1.1z" fill="#75961f"/>
<path d="M610.6 82.2l-5.7-.9 5 7.2 5.7 .9z" fill="#909924"/>
<path d="M601.9 75.6l-5.7-.7 5 6.8 5.7 .7z" fill="#9d9427"/>
<path d="M593.1 69.5l-5.8-.4 5 6.5 5.8 .5z" fill="#a58b29"/>
<path d="M584.3 64l-5.8-.2 5 6.1 5.8 .2z" fill="#a27826"/>
<path d="M575.5 58.9l-5.8 0 5 5.8 5.8 0z" fill="#a06624"/>
<path d="M566.6 54.4l-5.9 .2 5 5.4 5.9-.2z" fill="#9f521f"/>
<path d="M557.7 50.3l-5.9 .5 5 5 5.9-.4z" fill="#9e411c"/>
<path d="M548.8 46.8l-5.9 .7 5 4.7 5.9-.7z" fill="#9d3519"/>
<path d="M539.9 43.9l-6 .9 5 4.3 6-.9z" fill="#9d3118"/>
<path d="M531 41.4l-6 1.2 5 3.9 6-1.1z" fill="#9d2d16"/>
<path d="M522.1 39.4l-6 1.4 5 3.6 6.1-1.4z" fill="#9d2a15"/>
<path d="M513.2 38l-6.1 1.7 5 3.2 6.1-1.6z" fill="#9b2714"/>
<path d="M504.4 37.2l-6.1 1.9 5 2.8 6.1-1.9z" fill="#972513"/>
<path d="M495.5 36.8l-6.2 2.2 5 2.4 6.2-2.1z" fill="#922313"/>
<path d="M486.6 37l-6.2 2.4 5.1 2 6.2-2.4z" fill="#8c2212"/>
<path d="M477.8 37.6l-6.3 2.7 5.1 1.6 6.3-2.6z" fill="#842111"/>
<path d="M469 38.9l-6.3 3 5.1 1.3 6.3-2.9z" fill="#7b2111"/>
<path d="M460.3 40.6l-6.3 3.2 5.1 .9 6.3-3.2z" fill="#702010"/>
<path d="M451.6 42.8l-6.3 3.5 5 .5 6.3-3.5z" fill="#631f0f"/>
<path d="M442.9 45.6l-6.2 3.8 5 .1 6.3-3.7z" fill="#521c0d"/>
<path d="M434.3 48.9l-6.2 4 4.9-.3 6.2-4z" fill="#3d190b"/>
<path d="M425.7 52.6l-6.2 4.3 4.9-.7 6.2-4.3z" fill="#211107"/>
<path d="M640.8 111.9l-5.5-1.5 4.9 8.5 5.5 1.5z" fill="#3f8d18"/>
<path d="M632.2 103.6l-5.6-1.3 5 8.2 5.6 1.3z" fill="#50911a"/>
<path d="M623.5 95.7l-5.6-1.1 5 7.8 5.6 1.1z" fill="#62941b"/>
<path d="M614.9 88.3l-5.7-.9 5 7.5 5.6 .9z" fill="#7c9720"/>
<path d="M606.1 81.5l-5.7-.7 5 7.1 5.7 .7z" fill="#949925"/>
<path d="M597.3 75.1l-5.7-.5 5 6.8 5.7 .5z" fill="#a09328"/>
<path d="M588.5 69.2l-5.8-.2 5 6.4 5.8 .3z" fill="#a48728"/>
<path d="M579.7 63.8l-5.8-0 5 6.1 5.8 0z" fill="#a27426"/>
<path d="M570.8 58.9l-5.9 .2 5 5.7 5.8-.2z" fill="#a06223"/>
<path d="M561.9 54.6l-5.9 .4 5 5.3 5.9-.4z" fill="#9f4f1f"/>
<path d="M553 50.7l-5.9 .7 5 5 5.9-.6z" fill="#9d3f1c"/>
<path d="M544.1 47.4l-6 .9 5 4.6 6-.9z" fill="#9d3519"/>
<path d="M535.1 44.6l-6 1.1 5 4.2 6-1.1z" fill="#9d3118"/>
<path d="M526.2 42.3l-6 1.4 5 3.9 6-1.3z" fill="#9d2d16"/>
<path d="M517.2 40.6l-6.1 1.6 5 3.5 6.1-1.6z" fill="#9d2a16"/>
<path d="M508.3 39.4l-6.1 1.9 5 3.1 6.1-1.8z" fill="#9d2915"/>
<path d="M499.4 38.7l-6.1 2.1 5 2.8 6.1-2.1z" fill="#9a2714"/>
<path d="M490.5 38.5l-6.2 2.4 5 2.4 6.2-2.3z" fill="#952614"/>
<path d="M481.6 38.9l-6.2 2.6 5 2 6.2-2.6z" fill="#8f2513"/>
<path d="M472.8 39.8l-6.3 2.9 5.1 1.6 6.3-2.8z" fill="#882413"/>
<path d="M464 41.2l-6.3 3.2 5.1 1.2 6.3-3.1z" fill="#7f2412"/>
<path d="M455.2 43.1l-6.3 3.4 5.1 .8 6.3-3.4z" fill="#752311"/>
<path d="M446.5 45.6l-6.3 3.7 5 .4 6.3-3.7z" fill="#682210"/>
<path d="M437.8 48.6l-6.3 4 5 0 6.3-3.9z" fill="#57210f"/>
<path d="M429.2 52l-6.2 4.2 4.9-.4 6.2-4.2z" fill="#43200d"/>
<path d="M636.5 110.7l-5.5-1.3 4.9 8.5 5.5 1.3z" fill="#428e18"/>
<path d="M627.8 102.5l-5.6-1.1 4.9 8.2 5.6 1.1z" fill="#55921a"/>
<path d="M619.1 94.8l-5.6-.9 5 7.8 5.6 .9z" fill="#68951c"/>
<path d="M610.4 87.6l-5.7-.7 5 7.4 5.7 .7z" fill="#839821"/>
<path d="M601.6 80.9l-5.7-.5 5 7.1 5.7 .5z" fill="#979725"/>
<path d="M592.8 74.7l-5.8-.3 5 6.7 5.7 .3z" fill="#a39229"/>
<path d="M583.9 69l-5.8-0 5 6.4 5.8 .1z" fill="#a48328"/>
<path d="M575 63.8l-5.8 .2 5 6 5.8-.2z" fill="#a17125"/>
<path d="M566.1 59.1l-5.9 .4 5 5.7 5.9-.4z" fill="#a05f22"/>
<path d="M557.2 54.9l-5.9 .6 5 5.3 5.9-.6z" fill="#9e4d1e"/>
<path d="M548.2 51.3l-5.9 .9 5 4.9 5.9-.8z" fill="#9d3e1b"/>
<path d="M539.2 48.1l-6 1.1 5 4.6 6-1.1z" fill="#9d3519"/>
<path d="M530.3 45.5l-6 1.3 5 4.2 6-1.3z" fill="#9d3118"/>
<path d="M521.3 43.4l-6 1.6 5 3.8 6-1.5z" fill="#9d2d17"/>
<path d="M512.3 41.9l-6.1 1.8 5 3.5 6.1-1.8z" fill="#9d2b16"/>
<path d="M503.4 40.9l-6.1 2.1 5 3.1 6.1-2z" fill="#9d2a15"/>
<path d="M494.4 40.4l-6.1 2.3 5 2.7 6.1-2.3z" fill="#9d2915"/>
<path d="M485.5 40.4l-6.2 2.6 5 2.3 6.2-2.5z" fill="#982815"/>
<path d="M476.6 41l-6.2 2.8 5 1.9 6.2-2.8z" fill="#932814"/>
<path d="M467.8 42.1l-6.2 3.1 5 1.6 6.3-3z" fill="#8c2714"/>
<path d="M458.9 43.7l-6.3 3.3 5.1 1.2 6.3-3.3z" fill="#832713"/>
<path d="M450.1 45.9l-6.3 3.6 5.1 .8 6.4-3.6z" fill="#792713"/>
<path d="M441.4 48.5l-6.3 3.9 5 .4 6.3-3.9z" fill="#6c2612"/>
<path d="M432.7 51.7l-6.3 4.2 5-0 6.3-4.1z" fill="#5d2911"/>
<path d="M632.1 109.7l-5.6-1.1 4.9 8.5 5.5 1.2z" fill="#478f19"/>
<path d="M623.4 101.6l-5.6-.9 4.9 8.1 5.6 .9z" fill="#59921b"/>
<path d="M614.7 94.1l-5.6-.7 4.9 7.8 5.6 .7z" fill="#6f961e"/>
<path d="M605.9 87.1l-5.7-.5 4.9 7.4 5.7 .5z" fill="#899822"/>
<path d="M597.1 80.5l-5.7-.3 5 7 5.7 .3z" fill="#9a9626"/>
<path d="M588.2 74.5l-5.8-.1 5 6.7 5.8 .1z" fill="#a59129"/>
<path d="M579.3 68.9l-5.8 .2 5 6.3 5.8-.1z" fill="#a37f27"/>
<path d="M570.3 63.9l-5.8 .4 5 6 5.8-.3z" fill="#a16e25"/>
<path d="M561.4 59.4l-5.9 .6 5 5.6 5.9-.6z" fill="#9f5c22"/>
<path d="M552.4 55.4l-5.9 .8 4.9 5.2 5.9-.8z" fill="#9e4c1e"/>
<path d="M543.4 52l-5.9 1.1 4.9 4.9 5.9-1z" fill="#9d3d1b"/>
<path d="M534.4 49l-6 1.3 4.9 4.5 6-1.3z" fill="#9d3519"/>
<path d="M525.4 46.6l-6 1.5 4.9 4.1 6-1.5z" fill="#9d3118"/>
<path d="M516.4 44.7l-6 1.8 4.9 3.8 6-1.7z" fill="#9d2e17"/>
<path d="M507.4 43.4l-6.1 2 4.9 3.4 6.1-2z" fill="#9d2c16"/>
<path d="M498.4 42.6l-6.1 2.3 4.9 3 6.1-2.2z" fill="#9d2b16"/>
<path d="M489.4 42.3l-6.1 2.5 4.9 2.7 6.1-2.5z" fill="#9d2b16"/>
<path d="M480.5 42.5l-6.2 2.7 5 2.3 6.2-2.7z" fill="#9b2b16"/>
<path d="M471.6 43.3l-6.2 3 5 1.9 6.2-3z" fill="#962b15"/>
<path d="M462.7 44.6l-6.2 3.3 5 1.5 6.2-3.2z" fill="#8f2b15"/>
<path d="M453.8 46.4l-6.3 3.5 5 1.1 6.3-3.5z" fill="#862b15"/>
<path d="M445 48.8l-6.4 3.8 5.1 .7 6.4-3.8z" fill="#7c2b14"/>
<path d="M436.3 51.6l-6.3 4.1 5 .3 6.3-4z" fill="#712f14"/>
<path d="M627.8 108.8l-5.6-.9 4.9 8.4 5.6 1z" fill="#4b9019"/>
<path d="M619 100.9l-5.6-.7 4.9 8.1 5.6 .8z" fill="#5d931b"/>
<path d="M610.2 93.5l-5.7-.5 4.9 7.7 5.7 .5z" fill="#75961f"/>
<path d="M601.4 86.7l-5.7-.3 4.9 7.4 5.7 .3z" fill="#8e9923"/>
<path d="M592.5 80.3l-5.7-.1 4.9 7 5.7 .1z" fill="#9c9527"/>
<path d="M583.5 74.4l-5.8 .1 4.9 6.7 5.8-.1z" fill="#a58f29"/>
<path d="M574.6 69.1l-5.8 .3 4.9 6.3 5.8-.3z" fill="#a37d27"/>
<path d="M565.6 64.2l-5.9 .6 4.9 5.9 5.9-.5z" fill="#a16c25"/>
<path d="M556.6 59.9l-5.9 .8 4.9 5.6 5.9-.8z" fill="#9f5b21"/>
<path d="M547.6 56.1l-5.9 1 4.9 5.2 5.9-1z" fill="#9e4b1e"/>
<path d="M538.5 52.8l-6 1.3 4.9 4.8 6-1.2z" fill="#9d3d1b"/>
<path d="M529.5 50.1l-6 1.5 4.9 4.5 6-1.5z" fill="#9d3519"/>
<path d="M520.4 47.9l-6 1.7 4.9 4.1 6-1.7z" fill="#9d3218"/>
<path d="M511.4 46.2l-6 2 4.9 3.7 6-1.9z" fill="#9d2f17"/>
<path d="M502.4 45l-6.1 2.2 4.9 3.4 6.1-2.2z" fill="#9d2e17"/>
<path d="M493.4 44.4l-6.1 2.4 4.9 3 6.1-2.4z" fill="#9d2d16"/>
<path d="M484.4 44.3l-6.1 2.7 4.9 2.6 6.1-2.7z" fill="#9d2d16"/>
<path d="M475.4 44.8l-6.2 2.9 4.9 2.2 6.2-2.9z" fill="#9d2e17"/>
<path d="M466.5 45.8l-6.2 3.2 4.9 1.9 6.2-3.2z" fill="#982e17"/>
<path d="M457.6 47.3l-6.2 3.5 5 1.5 6.2-3.4z" fill="#922e16"/>
<path d="M448.7 49.3l-6.3 3.7 5 1.1 6.3-3.7z" fill="#8a2f16"/>
<path d="M439.9 51.9l-6.3 4 5 .7 6.4-4z" fill="#803316"/>
<path d="M623.3 108l-5.6-.8 4.9 8.4 5.6 .8z" fill="#50911a"/>
<path d="M614.5 100.3l-5.6-.5 4.9 8 5.6 .6z" fill="#61941b"/>
<path d="M605.7 93.1l-5.7-.3 4.9 7.7 5.7 .4z" fill="#7a9720"/>
<path d="M596.8 86.4l-5.7-.1 4.9 7.3 5.7 .1z" fill="#939924"/>
<path d="M587.8 80.2l-5.8 .1 4.9 7 5.8-.1z" fill="#9e9427"/>
<path d="M578.8 74.5l-5.8 .3 4.9 6.6 5.8-.3z" fill="#a58c29"/>
<path d="M569.8 69.3l-5.8 .5 4.9 6.3 5.8-.5z" fill="#a37a26"/>
<path d="M560.8 64.7l-5.9 .8 4.9 5.9 5.9-.7z" fill="#a16b24"/>
<path d="M551.8 60.5l-5.9 1 4.9 5.5 5.9-1z" fill="#9f5a21"/>
<path d="M542.7 56.9l-5.9 1.2 4.9 5.2 5.9-1.2z" fill="#9e4b1e"/>
<path d="M533.6 53.8l-6 1.5 4.9 4.8 6-1.4z" fill="#9d3e1b"/>
<path d="M524.5 51.3l-6 1.7 4.9 4.4 6-1.7z" fill="#9d3619"/>
<path d="M515.5 49.3l-6 1.9 4.9 4.1 6-1.9z" fill="#9d3318"/>
<path d="M506.4 47.8l-6 2.2 4.9 3.7 6-2.1z" fill="#9d3018"/>
<path d="M497.3 46.9l-6.1 2.4 4.9 3.3 6.1-2.4z" fill="#9d2f17"/>
<path d="M488.3 46.4l-6.1 2.6 4.9 3 6.1-2.6z" fill="#9d2f17"/>
<path d="M479.3 46.6l-6.1 2.9 4.9 2.6 6.1-2.9z" fill="#9d2f17"/>
<path d="M470.3 47.2l-6.2 3.1 4.9 2.2 6.2-3.1z" fill="#9d3018"/>
<path d="M461.4 48.4l-6.2 3.4 4.9 1.8 6.2-3.4z" fill="#9b3218"/>
<path d="M452.4 50.1l-6.2 3.7 4.9 1.4 6.2-3.6z" fill="#943218"/>
<path d="M443.6 52.4l-6.3 3.9 4.9 1 6.3-3.9z" fill="#8d3618"/>
<path d="M618.9 107.4l-5.6-.6 4.9 8.3 5.6 .6z" fill="#53921a"/>
<path d="M610 99.9l-5.7-.4 4.9 8 5.7 .4z" fill="#65941c"/>
<path d="M601.1 92.8l-5.7-.1 4.9 7.6 5.7 .2z" fill="#7f9721"/>
<path d="M592.1 86.3l-5.7 .1 4.9 7.3 5.7-.1z" fill="#959825"/>
<path d="M583.1 80.3l-5.8 .3 4.9 6.9 5.8-.3z" fill="#a09428"/>
<path d="M574.1 74.8l-5.8 .5 4.9 6.6 5.8-.5z" fill="#a58928"/>
<path d="M565.1 69.8l-5.9 .7 4.9 6.2 5.9-.7z" fill="#a27926"/>
<path d="M556 65.3l-5.9 1 4.9 5.9 5.9-.9z" fill="#a06a24"/>
<path d="M546.9 61.3l-5.9 1.2 4.9 5.5 5.9-1.2z" fill="#9f5921"/>
<path d="M537.8 57.9l-5.9 1.4 4.9 5.1 6-1.4z" fill="#9e4b1e"/>
<path d="M528.7 55l-6 1.7 4.9 4.8 6-1.6z" fill="#9d3f1c"/>
<path d="M519.6 52.7l-6 1.9 4.9 4.4 6-1.9z" fill="#9d371a"/>
<path d="M510.5 50.9l-6 2.1 4.9 4 6-2.1z" fill="#9d3419"/>
<path d="M501.4 49.6l-6.1 2.4 4.9 3.7 6.1-2.3z" fill="#9d3218"/>
<path d="M492.3 48.8l-6.1 2.6 4.9 3.3 6.1-2.6z" fill="#9d3118"/>
<path d="M483.2 48.6l-6.1 2.8 4.9 2.9 6.1-2.8z" fill="#9d3118"/>
<path d="M474.2 49l-6.1 3.1 4.9 2.5 6.1-3.1z" fill="#9d3218"/>
<path d="M465.2 49.8l-6.2 3.3 4.9 2.2 6.2-3.3z" fill="#9d3318"/>
<path d="M456.2 51.2l-6.2 3.6 4.9 1.8 6.2-3.6z" fill="#9d3519"/>
<path d="M447.3 53.1l-6.2 3.8 4.9 1.4 6.2-3.8z" fill="#97391a"/>
<path d="M614.3 106.9l-5.6-.4 4.9 8.3 5.6 .4z" fill="#57921a"/>
<path d="M605.4 99.6l-5.7-.2 4.9 8 5.7 .2z" fill="#6a951d"/>
<path d="M596.5 92.7l-5.7 .1 4.9 7.6 5.7-0z" fill="#839821"/>
<path d="M587.5 86.4l-5.8 .3 4.9 7.3 5.8-.3z" fill="#969825"/>
<path d="M578.4 80.5l-5.8 .5 4.9 6.9 5.8-.5z" fill="#a19328"/>
<path d="M569.3 75.2l-5.8 .7 4.9 6.5 5.8-.7z" fill="#a48728"/>
<path d="M560.2 70.4l-5.9 .9 4.9 6.2 5.9-.9z" fill="#a27726"/>
<path d="M551.1 66.1l-5.9 1.2 4.9 5.8 5.9-1.1z" fill="#a06924"/>
<path d="M542 62.3l-5.9 1.4 4.9 5.5 5.9-1.4z" fill="#9f5a21"/>
<path d="M532.9 59.1l-6 1.6 4.9 5.1 6-1.6z" fill="#9e4c1e"/>
<path d="M523.7 56.4l-6 1.8 4.9 4.7 6-1.8z" fill="#9e411c"/>
<path d="M514.6 54.3l-6 2.1 4.9 4.4 6-2.1z" fill="#9d391a"/>
<path d="M505.4 52.6l-6 2.3 4.9 4 6-2.3z" fill="#9d3519"/>
<path d="M496.3 51.6l-6.1 2.6 4.9 3.6 6.1-2.5z" fill="#9d3419"/>
<path d="M487.2 51l-6.1 2.8 4.9 3.2 6.1-2.8z" fill="#9d3318"/>
<path d="M478.1 51l-6.1 3 4.9 2.9 6.1-3z" fill="#9d3319"/>
<path d="M469 51.6l-6.1 3.3 4.9 2.5 6.1-3.2z" fill="#9d3419"/>
<path d="M460 52.6l-6.2 3.5 4.8 2.1 6.2-3.5z" fill="#9d361a"/>
<path d="M451 54.2l-6.2 3.8 4.9 1.7 6.2-3.7z" fill="#9d3c1b"/>
<path d="M609.8 106.6l-5.7-.2 4.9 8.3 5.7 .2z" fill="#5a931b"/>
<path d="M600.8 99.4l-5.7 0 4.9 7.9 5.7-0z" fill="#6e961e"/>
<path d="M591.8 92.7l-5.8 .3 4.9 7.6 5.7-.2z" fill="#879822"/>
<path d="M582.7 86.6l-5.8 .5 4.9 7.2 5.8-.4z" fill="#989726"/>
<path d="M573.6 80.9l-5.8 .7 4.9 6.9 5.8-.7z" fill="#a29228"/>
<path d="M564.5 75.8l-5.9 .9 4.9 6.5 5.9-.9z" fill="#a48628"/>
<path d="M555.4 71.1l-5.9 1.1 4.9 6.1 5.9-1.1z" fill="#a27726"/>
<path d="M546.2 67l-5.9 1.4 4.9 5.8 5.9-1.3z" fill="#a06924"/>
<path d="M537.1 63.5l-6 1.6 4.9 5.4 6-1.6z" fill="#9f5b21"/>
<path d="M527.9 60.4l-6 1.8 4.9 5.1 6-1.8z" fill="#9e4e1f"/>
<path d="M518.7 57.9l-6 2 4.9 4.7 6-2z" fill="#9e441d"/>
<path d="M509.5 56l-6 2.3 4.9 4.3 6-2.3z" fill="#9d3c1b"/>
<path d="M500.3 54.6l-6 2.5 4.9 4 6.1-2.5z" fill="#9d371a"/>
<path d="M491.2 53.7l-6.1 2.8 4.8 3.6 6.1-2.7z" fill="#9d3619"/>
<path d="M482.1 53.4l-6.1 3 4.8 3.2 6.1-3z" fill="#9d3519"/>
<path d="M473 53.6l-6.1 3.2 4.8 2.8 6.1-3.2z" fill="#9d3619"/>
<path d="M463.9 54.3l-6.1 3.5 4.8 2.5 6.1-3.4z" fill="#9d381a"/>
<path d="M454.8 55.6l-6.2 3.7 4.8 2.1 6.2-3.7z" fill="#9d3d1b"/>
<path d="M605.2 106.5l-5.7 0 4.9 8.2 5.7-0z" fill="#5d931b"/>
<path d="M596.1 99.5l-5.7 .2 4.9 7.9 5.7-.2z" fill="#72961e"/>
<path d="M587.1 92.9l-5.8 .4 4.9 7.5 5.8-.4z" fill="#8a9823"/>
<path d="M578 86.9l-5.8 .7 4.9 7.2 5.8-.6z" fill="#999626"/>
<path d="M568.8 81.5l-5.8 .9 4.9 6.8 5.8-.9z" fill="#a39229"/>
<path d="M559.7 76.5l-5.9 1.1 4.9 6.5 5.9-1.1z" fill="#a48528"/>
<path d="M550.5 72.1l-5.9 1.3 4.9 6.1 5.9-1.3z" fill="#a27726"/>
<path d="M541.3 68.2l-5.9 1.6 4.9 5.7 5.9-1.5z" fill="#a06a24"/>
<path d="M532.1 64.8l-6 1.8 4.9 5.4 6-1.8z" fill="#9f5c22"/>
<path d="M522.9 62l-6 2 4.9 5 6-2z" fill="#9f511f"/>
<path d="M513.6 59.7l-6 2.2 4.9 4.7 6-2.2z" fill="#9e481d"/>
<path d="M504.4 57.9l-6 2.5 4.9 4.3 6-2.4z" fill="#9e411c"/>
<path d="M495.2 56.7l-6.1 2.7 4.8 3.9 6.1-2.7z" fill="#9d3c1b"/>
<path d="M486.1 56l-6.1 2.9 4.8 3.5 6.1-2.9z" fill="#9d3a1a"/>
<path d="M476.9 55.9l-6.1 3.2 4.8 3.2 6.1-3.2z" fill="#9d3a1a"/>
<path d="M467.8 56.3l-6.1 3.4 4.8 2.8 6.1-3.4z" fill="#9d3c1b"/>
<path d="M458.7 57.3l-6.1 3.7 4.8 2.4 6.2-3.6z" fill="#9e401c"/>
<path d="M600.5 106.5l-5.7 .2 4.9 8.2 5.7-.2z" fill="#5f941b"/>
<path d="M591.4 99.6l-5.8 .4 4.9 7.9 5.8-.4z" fill="#76961f"/>
<path d="M582.3 93.3l-5.8 .6 4.9 7.5 5.8-.6z" fill="#8c9923"/>
<path d="M573.2 87.5l-5.8 .9 4.9 7.2 5.8-.8z" fill="#9a9626"/>
<path d="M564 82.2l-5.9 1.1 4.9 6.8 5.9-1.1z" fill="#a39229"/>
<path d="M554.8 77.4l-5.9 1.3 4.9 6.4 5.9-1.3z" fill="#a48528"/>
<path d="M545.5 73.2l-5.9 1.5 4.9 6.1 5.9-1.5z" fill="#a27726"/>
<path d="M536.3 69.4l-6 1.8 4.9 5.7 6-1.7z" fill="#a16b24"/>
<path d="M527.1 66.3l-6 2 4.9 5.3 6-2z" fill="#a05f22"/>
<path d="M517.8 63.6l-6 2.2 4.9 5 6-2.2z" fill="#9f5420"/>
<path d="M508.6 61.5l-6 2.4 4.9 4.6 6-2.4z" fill="#9e4c1e"/>
<path d="M499.3 60l-6.1 2.7 4.8 4.3 6.1-2.6z" fill="#9e461d"/>
<path d="M490.1 59l-6.1 2.9 4.8 3.9 6.1-2.9z" fill="#9e421c"/>
<path d="M480.9 58.5l-6.1 3.1 4.8 3.5 6.1-3.1z" fill="#9e401c"/>
<path d="M471.7 58.6l-6.1 3.4 4.8 3.1 6.1-3.4z" fill="#9e411c"/>
<path d="M462.6 59.2l-6.1 3.6 4.8 2.8 6.1-3.6z" fill="#9e441d"/>
<path d="M595.8 106.7l-5.7 .4 4.9 8.2 5.7-.4z" fill="#61941b"/>
<path d="M586.7 100l-5.8 .6 4.9 7.8 5.8-.6z" fill="#78971f"/>
<path d="M577.5 93.8l-5.8 .8 4.9 7.5 5.8-.8z" fill="#8e9923"/>
<path d="M568.3 88.2l-5.9 1.1 4.9 7.1 5.9-1z" fill="#9a9626"/>
<path d="M559.1 83.1l-5.9 1.3 4.9 6.8 5.9-1.3z" fill="#a49229"/>
<path d="M549.8 78.5l-5.9 1.5 4.9 6.4 5.9-1.5z" fill="#a48628"/>
<path d="M540.6 74.4l-6 1.7 4.9 6 6-1.7z" fill="#a27826"/>
<path d="M531.3 70.9l-6 2 4.9 5.7 6-1.9z" fill="#a16d25"/>
<path d="M522 67.9l-6 2.2 4.9 5.3 6-2.2z" fill="#a06223"/>
<path d="M512.7 65.5l-6 2.4 4.9 5 6-2.4z" fill="#9f5821"/>
<path d="M503.4 63.6l-6 2.6 4.8 4.6 6.1-2.6z" fill="#9f511f"/>
<path d="M494.2 62.3l-6.1 2.9 4.8 4.2 6.1-2.8z" fill="#9e4b1e"/>
<path d="M484.9 61.5l-6.1 3.1 4.8 3.8 6.1-3.1z" fill="#9e491d"/>
<path d="M475.7 61.2l-6.1 3.3 4.8 3.5 6.1-3.3z" fill="#9e481d"/>
<path d="M466.5 61.5l-6.1 3.6 4.8 3.1 6.1-3.6z" fill="#9e4a1e"/>
<path d="M591.1 107l-5.8 .6 4.9 8.2 5.8-.6z" fill="#63941c"/>
<path d="M581.9 100.5l-5.8 .8 4.9 7.8 5.8-.8z" fill="#7a9720"/>
<path d="M572.7 94.5l-5.9 1 4.9 7.5 5.8-1z" fill="#909924"/>
<path d="M563.4 89.1l-5.9 1.3 4.9 7.1 5.9-1.2z" fill="#9b9626"/>
<path d="M554.1 84.1l-5.9 1.5 4.9 6.7 5.9-1.5z" fill="#a39229"/>
<path d="M544.8 79.7l-5.9 1.7 4.9 6.4 5.9-1.7z" fill="#a48628"/>
<path d="M535.5 75.9l-6 1.9 4.9 6 6-1.9z" fill="#a37a26"/>
<path d="M526.2 72.6l-6 2.2 4.9 5.7 6-2.1z" fill="#a16f25"/>
<path d="M516.9 69.8l-6 2.4 4.9 5.3 6-2.4z" fill="#a06623"/>
<path d="M507.6 67.6l-6 2.6 4.8 4.9 6.1-2.6z" fill="#9f5d22"/>
<path d="M498.3 65.9l-6.1 2.8 4.8 4.6 6.1-2.8z" fill="#9f5620"/>
<path d="M489 64.7l-6.1 3.1 4.8 4.2 6.1-3z" fill="#9f521f"/>
<path d="M479.7 64.1l-6.1 3.3 4.8 3.8 6.1-3.3z" fill="#9f501f"/>
<path d="M470.4 64.1l-6.1 3.5 4.8 3.4 6.1-3.5z" fill="#9f501f"/>
<path d="M586.3 107.5l-5.8 .8 4.9 8.1 5.8-.8z" fill="#65951c"/>
<path d="M577 101.2l-5.8 1 4.9 7.8 5.8-1z" fill="#7c9720"/>
<path d="M567.8 95.4l-5.9 1.2 4.9 7.4 5.9-1.2z" fill="#909924"/>
<path d="M558.5 90.1l-5.9 1.5 4.9 7.1 5.9-1.4z" fill="#9b9626"/>
<path d="M549.2 85.4l-5.9 1.7 4.9 6.7 5.9-1.7z" fill="#a39229"/>
<path d="M539.8 81.2l-6 1.9 4.9 6.3 6-1.9z" fill="#a48828"/>
<path d="M530.5 77.5l-6 2.1 4.9 6 6-2.1z" fill="#a37c27"/>
<path d="M521.1 74.4l-6 2.4 4.9 5.6 6-2.3z" fill="#a17225"/>
<path d="M511.8 71.8l-6 2.6 4.9 5.3 6-2.6z" fill="#a06a24"/>
<path d="M502.4 69.8l-6.1 2.8 4.8 4.9 6.1-2.8z" fill="#a06223"/>
<path d="M493.1 68.3l-6.1 3 4.8 4.5 6.1-3z" fill="#9f5c22"/>
<path d="M483.8 67.4l-6.1 3.3 4.8 4.2 6.1-3.2z" fill="#9f5921"/>
<path d="M474.5 67l-6.1 3.5 4.8 3.8 6.1-3.5z" fill="#9f5821"/>
<path d="M581.4 108.1l-5.8 1 4.9 8.1 5.8-1z" fill="#67951c"/>
<path d="M572.2 102l-5.9 1.2 4.9 7.8 5.9-1.2z" fill="#7d9720"/>
<path d="M562.8 96.4l-5.9 1.4 4.9 7.4 5.9-1.4z" fill="#909924"/>
<path d="M553.5 91.3l-5.9 1.7 4.9 7 5.9-1.6z" fill="#9a9626"/>
<path d="M544.1 86.8l-6 1.9 4.9 6.7 6-1.9z" fill="#a29229"/>
<path d="M534.8 82.8l-6 2.1 4.9 6.3 6-2.1z" fill="#a58a28"/>
<path d="M525.4 79.3l-6 2.3 4.9 6 6-2.3z" fill="#a37f27"/>
<path d="M516 76.4l-6 2.6 4.9 5.6 6-2.5z" fill="#a27526"/>
<path d="M506.6 74l-6.1 2.8 4.8 5.2 6.1-2.8z" fill="#a16e25"/>
<path d="M497.2 72.2l-6.1 3 4.8 4.9 6.1-3z" fill="#a06824"/>
<path d="M487.9 70.9l-6.1 3.2 4.8 4.5 6.1-3.2z" fill="#a06323"/>
<path d="M478.5 70.2l-6.1 3.5 4.8 4.1 6.1-3.5z" fill="#a06122"/>
<path d="M576.6 109l-5.9 1.2 4.9 8.1 5.8-1.2z" fill="#68951c"/>
<path d="M567.2 103l-5.9 1.4 4.9 7.7 5.9-1.4z" fill="#7d9720"/>
<path d="M557.9 97.6l-5.9 1.6 4.9 7.4 5.9-1.6z" fill="#909924"/>
<path d="M548.5 92.7l-6 1.9 4.9 7 6-1.8z" fill="#9a9626"/>
<path d="M539.1 88.4l-6 2.1 4.9 6.7 6-2.1z" fill="#a19328"/>
<path d="M529.7 84.5l-6 2.3 4.9 6.3 6-2.3z" fill="#a58c29"/>
<path d="M520.2 81.3l-6 2.5 4.9 5.9 6-2.5z" fill="#a48227"/>
<path d="M510.8 78.6l-6.1 2.8 4.9 5.6 6.1-2.7z" fill="#a27926"/>
<path d="M501.4 76.4l-6.1 3 4.8 5.2 6.1-3z" fill="#a27325"/>
<path d="M492 74.8l-6.1 3.2 4.8 4.8 6.1-3.2z" fill="#a16e25"/>
<path d="M482.6 73.7l-6.1 3.4 4.8 4.5 6.1-3.4z" fill="#a16b24"/>
<path d="M571.6 110l-5.9 1.4 4.9 8.1 5.9-1.4z" fill="#68951d"/>
<path d="M562.3 104.2l-5.9 1.6 4.9 7.7 5.9-1.6z" fill="#7d9720"/>
<path d="M552.8 99l-6 1.8 4.9 7.4 5.9-1.8z" fill="#8f9924"/>
<path d="M543.4 94.3l-6 2.1 4.9 7 6-2z" fill="#999726"/>
<path d="M534 90.1l-6 2.3 4.9 6.6 6-2.3z" fill="#a09328"/>
<path d="M524.5 86.5l-6 2.5 4.9 6.3 6-2.5z" fill="#a58f29"/>
<path d="M515.1 83.4l-6.1 2.7 4.9 5.9 6.1-2.7z" fill="#a48628"/>
<path d="M505.6 80.9l-6.1 3 4.8 5.5 6.1-2.9z" fill="#a37e27"/>
<path d="M496.2 78.9l-6.1 3.2 4.8 5.2 6.1-3.2z" fill="#a27826"/>
<path d="M486.7 77.5l-6.1 3.4 4.8 4.8 6.1-3.4z" fill="#a27426"/>
<path d="M566.7 111.1l-5.9 1.6 4.9 8 5.9-1.6z" fill="#68951d"/>
<path d="M557.2 105.5l-5.9 1.8 4.9 7.7 5.9-1.8z" fill="#7c9720"/>
<path d="M547.8 100.5l-6 2 4.9 7.3 6-2z" fill="#8d9923"/>
<path d="M538.3 96l-6 2.3 4.9 7 6-2.2z" fill="#989726"/>
<path d="M528.8 92l-6 2.5 4.9 6.6 6-2.5z" fill="#9f9427"/>
<path d="M519.3 88.6l-6.1 2.7 4.9 6.2 6.1-2.7z" fill="#a49129"/>
<path d="M509.8 85.8l-6.1 2.9 4.9 5.9 6.1-2.9z" fill="#a58a28"/>
<path d="M500.4 83.5l-6.1 3.2 4.8 5.5 6.1-3.1z" fill="#a48328"/>
<path d="M490.9 81.7l-6.1 3.4 4.8 5.1 6.1-3.4z" fill="#a37e27"/>
<path d="M561.7 112.5l-5.9 1.8 4.9 8 5.9-1.8z" fill="#68951c"/>
<path d="M552.2 107.1l-6 2 4.9 7.7 6-2z" fill="#7a9720"/>
<path d="M542.7 102.2l-6 2.2 4.9 7.3 6-2.2z" fill="#8b9923"/>
<path d="M533.2 97.9l-6 2.5 4.9 6.9 6-2.4z" fill="#969825"/>
<path d="M523.7 94.2l-6.1 2.7 4.9 6.6 6.1-2.7z" fill="#9d9527"/>
<path d="M514.1 91l-6.1 2.9 4.9 6.2 6.1-2.9z" fill="#a29228"/>
<path d="M504.6 88.3l-6.1 3.1 4.8 5.9 6.1-3.1z" fill="#a58f29"/>
<path d="M495.1 86.2l-6.1 3.4 4.8 5.5 6.1-3.3z" fill="#a48828"/>
<path d="M556.6 114l-6 2 4.9 8 6-2z" fill="#66951c"/>
<path d="M547.1 108.8l-6 2.2 4.9 7.6 6-2.2z" fill="#78971f"/>
<path d="M537.5 104.1l-6 2.4 4.9 7.3 6-2.4z" fill="#889822"/>
<path d="M528 100l-6.1 2.7 4.9 6.9 6.1-2.6z" fill="#949925"/>
<path d="M518.4 96.5l-6.1 2.9 4.9 6.6 6.1-2.9z" fill="#9a9626"/>
<path d="M508.9 93.5l-6.1 3.1 4.9 6.2 6.1-3.1z" fill="#a09428"/>
<path d="M499.3 91l-6.1 3.3 4.8 5.8 6.1-3.3z" fill="#a49229"/>
<path d="M551.5 115.7l-6 2.2 4.9 8 6-2.2z" fill="#64941c"/>
<path d="M541.9 110.7l-6 2.4 4.9 7.6 6-2.4z" fill="#76961f"/>
<path d="M532.4 106.2l-6.1 2.6 4.9 7.3 6.1-2.6z" fill="#859822"/>
<path d="M522.8 102.3l-6.1 2.9 4.9 6.9 6.1-2.8z" fill="#929924"/>
<path d="M513.2 98.9l-6.1 3.1 4.9 6.5 6.1-3.1z" fill="#989726"/>
<path d="M503.6 96.1l-6.1 3.3 4.9 6.2 6.1-3.3z" fill="#9d9527"/>
<path d="M546.4 117.5l-6 2.4 4.9 8 6-2.4z" fill="#62941c"/>
<path d="M536.8 112.7l-6.1 2.6 4.9 7.6 6.1-2.6z" fill="#72961e"/>
<path d="M527.1 108.5l-6.1 2.8 4.9 7.3 6.1-2.8z" fill="#819821"/>
<path d="M517.5 104.8l-6.1 3.1 4.9 6.9 6.1-3.1z" fill="#8d9923"/>
<path d="M507.9 101.6l-6.1 3.3 4.9 6.5 6.1-3.3z" fill="#959825"/>
<path d="M541.2 119.6l-6.1 2.6 4.9 8 6-2.6z" fill="#61941b"/>
<path d="M531.5 115l-6.1 2.8 4.9 7.6 6.1-2.8z" fill="#6f961e"/>
<path d="M521.9 110.9l-6.1 3 4.9 7.2 6.1-3z" fill="#7c9720"/>
<path d="M512.2 107.4l-6.1 3.3 4.9 6.9 6.1-3.3z" fill="#889822"/>
<path d="M536 121.8l-6.1 2.8 4.9 7.9 6.1-2.8z" fill="#5e931b"/>
<path d="M526.3 117.4l-6.1 3 4.9 7.6 6.1-3z" fill="#6a951d"/>
<path d="M516.6 113.6l-6.1 3.3 4.9 7.2 6.1-3.2z" fill="#77961f"/>
<path d="M530.7 124.3l-6.1 3 4.9 7.9 6.1-3z" fill="#5c931b"/>
<path d="M521 120l-6.1 3.2 4.9 7.6 6.1-3.2z" fill="#65941c"/>
<path d="M525.4 126.9l-6.1 3.2 4.9 7.9 6.1-3.2z" fill="#59921b"/>
</g>
<clipPath id="clb"><path d="M408 60.1l2-1.4 2-1.4 2-1.2 2-1.5 2-1.1 2-1.4 2-1.1 2-1.2 2-1.2 2-1.3 2-1 2-1.2 2-1 2-1.2 2-1 2-1.1 2-1 2-.9 2-1 2-.9 2-.9 2-.8 2-.9 2-.8 2-.8 2-.8 2-.7 2-.7 2-.7 2-.6 2-.7 2-.6 2-.6 2-.6 2-.6 2-.5 2-.5 2-.5 2-.5 2-.4 2-.4 2-.4 2-.4 2-.3 2-.3 2-.3 2-.2 2-.2 2-.2 2-.2 2-.2 2-.1 2-.1 2-.1 2-.1 2-0 2-0 2-0 2 0 2 0 2 .1 2 .1 2 .1 2 .1 2 .2 2 .2 2 .2 2 .2 2 .3 2 .3 2 .3 2 .3 2 .4 2 .4 2 .4 2 .4 2 .5 2 .5 2 .6 2 .5 2 .6 2 .6 2 .7 2 .6 2 .8 2 .7 2 1 2 .9 2 1.2 2 1 2 1.1 2 1.4 2 1.2 2 1.6 2 1.3 2 1.4 2 1.8 2 1.5 2 1.6 2 1.6 2 2.1 2 1.8 2 1.8 2 1.9 2 2.4 2 2 2 2.1 2 2.1 2 2.8 2 2.3 2 2.3 2 2.4 2 2.5 2 2.5 2 3.3 2 2.7 2 2.7 2 2.8 2 2.9 2 2.9 2 3 2 3.1 2 3.9 2 3.2 2 3.3 2 3.3 2 3.4 2 3.4 1 4.4-2-.9-2-.9-2-.8-2-1-2-.8-2-.7-2-.7-2-.7-2-.6-2-.8-2-.6-2-.5-2-.5-2-.5-2-.5-2-.4-2-.4-2-.3-2-.3-2-.3-2-.3-2-.2-2-.2-2-.2-2-.1-2-.1-2-.1-2-.1-2-0-2 0-2 .1-2 .1-2 .1-2 .2-2 .1-2 .2-2 .2-2 .2-2 .3-2 .3-2 .4-2 .4-2 .3-2 .5-2 .4-2 .5-2 .4-2 .4-2 .6-2 .5-2 .7-2 .5-2 .8-2 .6-2 .6-2 .9-2 .7-2 .7-2 1-2 .7-2 .8-2 1.1-2 .8-2 .8-2 1.2-2 .9-2 .9-2 .9-2 1.3-2 1-2-1.7-2-2.5-2-3.3-2-3.2-2-3.1-2-3-2-3-2-2.9-2-2.8-2-2.8-2-2.7-2-2.6-2-2.5-2-2.5-2-2.4-2-2.3-2-2.3-2-2.2-2-2.1-2-2.5-2-2-2-1.9-2-1.8-2-1.7-2-2.1-2-1.6-2-1.5-2-1.5-2-1.7-2-1.3-2-1.2-2-1.5-2-1.1-2-1.3-2-.9-2-1.1-2-.8-2-.9-2-.7-2-.7-2-.5-2-.6-2-.5-2-.3-2-.3-2-.2-2-.1-2 0-2 .1-2 .2-2 .3-2 .5-2 .5-2 .6-2 .7-2 .8-2 .9-2 1.1z"/></clipPath><g clip-path="url(#clb)">
<path d="M408 66.1l2-1.4 2-1.4 2-1.2 2-1.5 2-1.1 2-1.4 2-1.1 2-1.2 2-1.2 2-1.3 2-1 2-1.2 2-1 2-1.2 2-1 2-1.1 2-1 2-.9 2-1 2-.9 2-.9 2-.8 2-.9 2-.8 2-.8 2-.8 2-.7 2-.7 2-.7 2-.6 2-.7 2-.6 2-.6 2-.6 2-.6 2-.5 2-.5 2-.5 2-.5 2-.4 2-.4 2-.4 2-.4 2-.3 2-.3 2-.3 2-.2 2-.2 2-.2 2-.2 2-.2 2-.1 2-.1 2-.1 2-.1 2-0 2-0 2-0 2 0 2 0 2 .1 2 .1 2 .1 2 .1 2 .2 2 .2 2 .2 2 .2 2 .3 2 .3 2 .3 2 .3 2 .4 2 .4 2 .4 2 .4 2 .5 2 .5 2 .6 2 .5 2 .6 2 .6 2 .7 2 .6 2 .8 2 .7 2 1 2 .9 2 1.2 2 1 2 1.1 2 1.4 2 1.2 2 1.6 2 1.3 2 1.4 2 1.8 2 1.5 2 1.6 2 1.6 2 2.1 2 1.8 2 1.8 2 1.9 2 2.4 2 2 2 2.1 2 2.1 2 2.8 2 2.3 2 2.3 2 2.4 2 2.5 2 2.5 2 3.3 2 2.7 2 2.7 2 2.8 2 2.9 2 2.9 2 3 2 3.1 2 3.9 2 3.2 2 3.3 2 3.3 2 3.4 2 3.4" fill="none" stroke="#0a0602" stroke-opacity="0.22" stroke-width="6.5" stroke-linejoin="round"/>
<path d="M408 64.1l2-1.4 2-1.4 2-1.2 2-1.5 2-1.1 2-1.4 2-1.1 2-1.2 2-1.2 2-1.3 2-1 2-1.2 2-1 2-1.2 2-1 2-1.1 2-1 2-.9 2-1 2-.9 2-.9 2-.8 2-.9 2-.8 2-.8 2-.8 2-.7 2-.7 2-.7 2-.6 2-.7 2-.6 2-.6 2-.6 2-.6 2-.5 2-.5 2-.5 2-.5 2-.4 2-.4 2-.4 2-.4 2-.3 2-.3 2-.3 2-.2 2-.2 2-.2 2-.2 2-.2 2-.1 2-.1 2-.1 2-.1 2-0 2-0 2-0 2 0 2 0 2 .1 2 .1 2 .1 2 .1 2 .2 2 .2 2 .2 2 .2 2 .3 2 .3 2 .3 2 .3 2 .4 2 .4 2 .4 2 .4 2 .5 2 .5 2 .6 2 .5 2 .6 2 .6 2 .7 2 .6 2 .8 2 .7 2 1 2 .9 2 1.2 2 1 2 1.1 2 1.4 2 1.2 2 1.6 2 1.3 2 1.4 2 1.8 2 1.5 2 1.6 2 1.6 2 2.1 2 1.8 2 1.8 2 1.9 2 2.4 2 2 2 2.1 2 2.1 2 2.8 2 2.3 2 2.3 2 2.4 2 2.5 2 2.5 2 3.3 2 2.7 2 2.7 2 2.8 2 2.9 2 2.9 2 3 2 3.1 2 3.9 2 3.2 2 3.3 2 3.3 2 3.4 2 3.4" fill="none" stroke="#0a0602" stroke-opacity="0.35" stroke-width="4.2" stroke-linejoin="round"/>
<path d="M408 62.4l2-1.4 2-1.4 2-1.2 2-1.5 2-1.1 2-1.4 2-1.1 2-1.2 2-1.2 2-1.3 2-1 2-1.2 2-1 2-1.2 2-1 2-1.1 2-1 2-.9 2-1 2-.9 2-.9 2-.8 2-.9 2-.8 2-.8 2-.8 2-.7 2-.7 2-.7 2-.6 2-.7 2-.6 2-.6 2-.6 2-.6 2-.5 2-.5 2-.5 2-.5 2-.4 2-.4 2-.4 2-.4 2-.3 2-.3 2-.3 2-.2 2-.2 2-.2 2-.2 2-.2 2-.1 2-.1 2-.1 2-.1 2-0 2-0 2-0 2 0 2 0 2 .1 2 .1 2 .1 2 .1 2 .2 2 .2 2 .2 2 .2 2 .3 2 .3 2 .3 2 .3 2 .4 2 .4 2 .4 2 .4 2 .5 2 .5 2 .6 2 .5 2 .6 2 .6 2 .7 2 .6 2 .8 2 .7 2 1 2 .9 2 1.2 2 1 2 1.1 2 1.4 2 1.2 2 1.6 2 1.3 2 1.4 2 1.8 2 1.5 2 1.6 2 1.6 2 2.1 2 1.8 2 1.8 2 1.9 2 2.4 2 2 2 2.1 2 2.1 2 2.8 2 2.3 2 2.3 2 2.4 2 2.5 2 2.5 2 3.3 2 2.7 2 2.7 2 2.8 2 2.9 2 2.9 2 3 2 3.1 2 3.9 2 3.2 2 3.3 2 3.3 2 3.4 2 3.4" fill="none" stroke="#0a0602" stroke-opacity="0.7" stroke-width="3.4" stroke-linejoin="round"/>
</g>
<circle cx="411.3" cy="144.7" r="1" fill="#222"/>
<text x="406.7" y="144.1" class="t" text-anchor="end" textLength="17.8" lengthAdjust="spacingAndGlyphs">2000</text>
<circle cx="410.3" cy="120.8" r="1" fill="#222"/>
<text x="405.7" y="120.2" class="t" text-anchor="end" textLength="17.8" lengthAdjust="spacingAndGlyphs">3000</text>
<circle cx="409.2" cy="96.8" r="1" fill="#222"/>
<text x="404.6" y="96.2" class="t" text-anchor="end" textLength="17.8" lengthAdjust="spacingAndGlyphs">4000</text>
<circle cx="408.1" cy="72.9" r="1" fill="#222"/>
<text x="403.5" y="72.3" class="t" text-anchor="end" textLength="17.8" lengthAdjust="spacingAndGlyphs">5000</text>
<circle cx="407.1" cy="49" r="1" fill="#222"/>
<text x="402.5" y="48.4" class="t" text-anchor="end" textLength="17.8" lengthAdjust="spacingAndGlyphs">6000</text>
<circle cx="406" cy="25" r="1" fill="#222"/>
<text x="401.4" y="24.4" class="t" text-anchor="end" textLength="17.8" lengthAdjust="spacingAndGlyphs">7000</text>
<line x1="165.5" y1="391" x2="165.5" y2="248.8" stroke="#6e6e6e" stroke-width="0.9"/>
<line x1="150" y1="363" x2="149.1" y2="252.9" stroke="#6e6e6e" stroke-width="0.9"/>
<line x1="134.5" y1="369.1" x2="132.6" y2="257" stroke="#6e6e6e" stroke-width="0.9"/>
<line x1="119" y1="375.3" x2="116.2" y2="261.1" stroke="#6e6e6e" stroke-width="0.9"/>
<line x1="103.5" y1="381.5" x2="99.7" y2="265.3" stroke="#6e6e6e" stroke-width="0.9"/>
<line x1="88" y1="387.7" x2="83.3" y2="269.4" stroke="#6e6e6e" stroke-width="0.9"/>
<line x1="72.5" y1="393.8" x2="66.8" y2="273.5" stroke="#6e6e6e" stroke-width="0.9"/>
<line x1="59.1" y1="438.8" x2="50.4" y2="277.6" stroke="#6e6e6e" stroke-width="0.9"/>
<line x1="200.6" y1="364.2" x2="202.2" y2="254" stroke="#6e6e6e" stroke-width="0.9"/>
<line x1="235.6" y1="371.7" x2="238.8" y2="259.2" stroke="#6e6e6e" stroke-width="0.9"/>
<line x1="270.7" y1="379.1" x2="275.5" y2="264.5" stroke="#6e6e6e" stroke-width="0.9"/>
<line x1="303.8" y1="423.6" x2="312.1" y2="269.7" stroke="#6e6e6e" stroke-width="0.9"/>
<line x1="57" y1="400" x2="165.5" y2="356.8" stroke="#6e6e6e" stroke-width="0.9"/>
<line x1="165.5" y1="356.8" x2="305.8" y2="386.6" stroke="#6e6e6e" stroke-width="0.9"/>
<line x1="55.7" y1="375.7" x2="165.5" y2="335.3" stroke="#6e6e6e" stroke-width="0.9"/>
<line x1="165.5" y1="335.3" x2="307" y2="363.4" stroke="#6e6e6e" stroke-width="0.9"/>
<line x1="54.4" y1="351.4" x2="165.5" y2="313.9" stroke="#6e6e6e" stroke-width="0.9"/>
<line x1="165.5" y1="313.9" x2="308.3" y2="340.1" stroke="#6e6e6e" stroke-width="0.9"/>
<line x1="53.1" y1="327.1" x2="165.5" y2="292.4" stroke="#6e6e6e" stroke-width="0.9"/>
<line x1="165.5" y1="292.4" x2="309.6" y2="316.9" stroke="#6e6e6e" stroke-width="0.9"/>
<line x1="51.8" y1="302.8" x2="165.5" y2="271" stroke="#6e6e6e" stroke-width="0.9"/>
<line x1="165.5" y1="271" x2="310.8" y2="293.7" stroke="#6e6e6e" stroke-width="0.9"/>
<line x1="50.4" y1="277.6" x2="165.5" y2="248.8" stroke="#6e6e6e" stroke-width="0.9"/>
<line x1="165.5" y1="248.8" x2="312.1" y2="269.7" stroke="#6e6e6e" stroke-width="0.9"/>
<path d="M165.5 391 L59.1 438.8 L207 483 L303.8 423.6 Z" fill="#ffff00" stroke="#3c3c1e" stroke-width="1"/>
<path d="M169.6 471.7l3.3-.3 3.2-.3 3.1-.3 3.3-.4 4-.6 4.1-.6 2.6-.5 2.6-.5 3.7-.7 3.7-.8 2.3-.5 3.7-.9 3-.8 2.4-.6 3.9-1.1 2-.6 3.9-1.2 2.4-.8 3.2-1.1 3.5-1.3 1.7-.6 3.3-1.3 3.2-1.3 1.6-.7 3-1.4 2.9-1.4 2.8-1.4 2.7-1.4 2.6-1.4 2.5-1.4 2.4-1.4 2.3-1.4 2.2-1.4 2.1-1.4 2.1-1.5 2-1.5 1.9-1.5 1.8-1.5 .9-.7 1.7-1.5 1.6-1.5 1.6-1.5 .8-.7 1.5-1.5 1.4-1.5 .7-.7 1.3-1.5 1-1.3 .7-1M60.2 438.2l.6 1 .2 .3" fill="none" stroke="#f6e400" stroke-width="0.8" stroke-linecap="round"/>
<path d="M143 463.8l3 .2 2.8 .1 3.7 .1 4.2 0 3.9-.1 3.2-.1 3.3-.2 3.4-.2 3.5-.3 3.6-.4 3-.3 2.9-.4 2.8-.4 3-.5 4.2-.7 3.1-.6 2.4-.5 3.6-.8 3.3-.8 2.2-.5 4.2-1.1 2-.6 3.9-1.2 1.9-.6 3.7-1.2 1.8-.6 3.4-1.2 3.3-1.3 1.6-.6 3.1-1.3 3-1.3 2.9-1.3 2.8-1.3 1.3-.7 2.6-1.4 2.5-1.4 2.4-1.4 2.3-1.4 2.2-1.4 2.1-1.4 1-.7 2-1.4 1.9-1.4 1.8-1.4 1.7-1.4 .8-.7 1.6-1.5 1.5-1.5 1.1-1 1.1-1.1 1.4-1.5 .7-.8 1.2-1.4 .6-.7M71.9 433l.6 1 .7 1.1 1 1.4 1 1.3 .8 .9 .8 .9 1.4 1.5 1.2 1.2 1 .9 1.7 1.4 1.5 1.1 1.1 .8" fill="none" stroke="#eecc00" stroke-width="1.0" stroke-linecap="round"/>
<path d="M84.5 427.3l.6 1 .6 1 .6 .9 .9 1.2 1.1 1.4 1 1.1 .8 .9 1.1 1.1 1.7 1.5 1 .8 1.4 1.1 1.9 1.3 1.2 .8 2.5 1.5 1.3 .7 2.7 1.4 2.7 1.3 1.7 .7 3.2 1.2 3.4 1.2 3.6 1.1 3.8 1 4 .9 4.2 .8 2.2 .4 4.5 .6 2.4 .3 4.9 .5 2.6 .2 2.8 .2 4.6 .1 3.6 0 3-0 3.1-.1 3.2-.1 3.3-.2 3.4-.3 3.5-.3 3.7-.4 3.3-.4 2.6-.4 2.6-.4 3.5-.6 3.7-.7 2.3-.5 3.3-.8 3.1-.8 2.1-.6 3.9-1.1 1.9-.6 3.6-1.1 3.1-1.1 2.1-.7 3.3-1.2 3.1-1.2 1.5-.6 2.9-1.3 2.8-1.3 2.7-1.3 2.6-1.3 2.5-1.3 2.4-1.4 2.3-1.4 2.2-1.4 2.1-1.4 2-1.4 1.9-1.4 1-.8 1.7-1.4 1.7-1.4 1.6-1.4 .8-.7 1.4-1.4 1.4-1.4 .7-.7 1.2-1.5" fill="none" stroke="#e4b000" stroke-width="1.1" stroke-linecap="round"/>
<path d="M98.6 421l.5 1 .7 1.2 .8 1.3 .9 1.2 .7 .9 .8 .9 1.1 1.1 1.5 1.4 1 .8 1.2 .9 2 1.4 1.2 .8 2.5 1.5 1.3 .7 2.7 1.4 1.8 .8 2.7 1.1 3.2 1.2 3.5 1.1 3.7 1 3.9 .9 3.6 .7 2.7 .4 4.5 .6 2.4 .2 3.7 .3 3.9 .2 2.7 .1 2.8 0 3.5-0 3.5-.1 3.3-.2 3.1-.2 3-.3 2.8-.3 3.7-.5 3.9-.6 2.6-.4 2.3-.4 3.8-.8 2.7-.6 2.3-.5 3.7-1 1.9-.5 3.6-1.1 2.9-1 2.2-.8 3.2-1.2 3-1.2 1.5-.6 2.8-1.2 2.7-1.3 2.6-1.3 2.4-1.3 2.3-1.3 2.2-1.3 2.1-1.3 2-1.4 1.4-1 1.4-1.1 1.7-1.4 1.7-1.4 .8-.7 1.5-1.4 1.4-1.4 .7-.7 1.3-1.4" fill="none" stroke="#d8900a" stroke-width="1.2" stroke-linecap="round"/>
<path d="M115 413.6l.4 1 .5 1 .6 1.1 .8 1.2 .9 1.2 .8 1 .8 .9 .9 .9 1.7 1.5 1.2 .9 1.1 .8 2.3 1.4 1.2 .7 2.7 1.3 1.9 .8 2.5 1 3.2 1.1 3.5 1 3.8 .9 3.5 .6 2.7 .4 4.5 .5 2.4 .2 2.7 .2 4.3 .1 3.6-0 2.9-.1 3.1-.2 3.3-.3 3.2-.3 2.6-.3 2.5-.4 2.8-.5 4.1-.8 2.1-.5 3-.7 2.9-.8 2.7-.8 2.6-.8 3.3-1.1 1.6-.6 3-1.2 2.8-1.2 2.7-1.2 2.5-1.2 2.4-1.3 2.2-1.3 2.1-1.3 2-1.3 1.9-1.3 1.2-.9 1.4-1.1 1.6-1.4 1.2-1.1 .9-.9 1.3-1.4" fill="none" stroke="#c86a14" stroke-width="1.3" stroke-linecap="round"/>
<circle cx="59.1" cy="438.8" r="1.1" fill="#1a1a1a"/>
<circle cx="96.1" cy="449.9" r="1.1" fill="#1a1a1a"/>
<circle cx="133.1" cy="460.9" r="1.1" fill="#1a1a1a"/>
<circle cx="170" cy="471.9" r="1.1" fill="#1a1a1a"/>
<circle cx="207" cy="483" r="1.1" fill="#1a1a1a"/>
<circle cx="303.8" cy="423.6" r="1.1" fill="#1a1a1a"/>
<circle cx="290" cy="432.1" r="1.1" fill="#1a1a1a"/>
<circle cx="276.1" cy="440.6" r="1.1" fill="#1a1a1a"/>
<circle cx="262.3" cy="449.1" r="1.1" fill="#1a1a1a"/>
<circle cx="248.5" cy="457.5" r="1.1" fill="#1a1a1a"/>
<circle cx="234.7" cy="466" r="1.1" fill="#1a1a1a"/>
<circle cx="220.8" cy="474.5" r="1.1" fill="#1a1a1a"/>
<g shape-rendering="crispEdges">
<path d="M165.3 265.5l-4.5 1.9 5.8-.1 4.5-1.8z" fill="#0d0201"/>
<path d="M169.7 265.2l-4.5 1.8 5.9 .2 4.5-1.7z" fill="#0d0201"/>
<path d="M162 266.6l-4.5 2 5.9-.2 4.5-2z" fill="#0d0201"/>
<path d="M174.2 265.2l-4.6 1.7 5.9 .4 4.5-1.6z" fill="#0d0201"/>
<path d="M166.4 266.3l-4.6 1.9 5.9 .1 4.5-1.9z" fill="#0d0201"/>
<path d="M158.6 267.9l-4.5 2.2 5.9-.3 4.5-2.1z" fill="#0d0201"/>
<path d="M178.7 265.5l-4.6 1.6 5.9 .7 4.6-1.5z" fill="#0d0201"/>
<path d="M170.9 266.3l-4.6 1.8 5.9 .4 4.6-1.8z" fill="#0d0201"/>
<path d="M163.1 267.6l-4.6 2.1 5.9-0 4.6-2z" fill="#0d0201"/>
<path d="M155.3 269.3l-4.6 2.4 5.9-.4 4.6-2.3z" fill="#0d0201"/>
<path d="M183.2 265.9l-4.6 1.5 5.9 1 4.6-1.4z" fill="#0d0201"/>
<path d="M175.4 266.4l-4.6 1.7 5.9 .7 4.6-1.7z" fill="#0d0201"/>
<path d="M167.6 267.4l-4.6 2 5.9 .3 4.6-1.9z" fill="#0d0201"/>
<path d="M159.7 268.9l-4.6 2.3 5.9-.1 4.6-2.2z" fill="#0d0201"/>
<path d="M151.9 270.9l-4.6 2.5 5.9-.5 4.6-2.5z" fill="#0d0201"/>
<path d="M187.7 266.6l-4.6 1.4 5.9 1.3 4.6-1.3z" fill="#180402"/>
<path d="M179.9 266.8l-4.6 1.6 5.9 1 4.6-1.6z" fill="#140302"/>
<path d="M172.1 267.5l-4.6 1.9 5.9 .6 4.6-1.8z" fill="#0e0201"/>
<path d="M164.2 268.7l-4.6 2.2 5.9 .2 4.6-2.1z" fill="#0d0201"/>
<path d="M156.4 270.4l-4.6 2.4 5.9-.2 4.6-2.4z" fill="#0d0201"/>
<path d="M148.5 272.6l-4.6 2.7 5.9-.6 4.6-2.6z" fill="#0d0201"/>
<path d="M192.3 267.6l-4.6 1.3 6 1.6 4.6-1.2z" fill="#270704"/>
<path d="M184.5 267.5l-4.6 1.5 6 1.2 4.6-1.5z" fill="#250603"/>
<path d="M176.6 267.9l-4.6 1.8 6 .9 4.6-1.7z" fill="#210603"/>
<path d="M168.7 268.8l-4.6 2.1 6 .5 4.6-2z" fill="#1b0502"/>
<path d="M160.9 270.2l-4.6 2.3 5.9 .1 4.6-2.3z" fill="#140302"/>
<path d="M152.9 272.1l-4.6 2.6 5.9-.3 4.6-2.5z" fill="#0d0201"/>
<path d="M145 274.5l-4.6 2.9 5.9-.6 4.6-2.8z" fill="#0d0201"/>
<path d="M196.9 268.8l-4.6 1.2 6 1.9 4.6-1.1z" fill="#350905"/>
<path d="M189.1 268.4l-4.6 1.5 6 1.5 4.6-1.4z" fill="#330905"/>
<path d="M181.2 268.5l-4.6 1.7 6 1.2 4.6-1.6z" fill="#300804"/>
<path d="M173.3 269.1l-4.6 2 6 .8 4.6-1.9z" fill="#2c0704"/>
<path d="M165.4 270.2l-4.6 2.2 6 .4 4.6-2.2z" fill="#270704"/>
<path d="M157.5 271.8l-4.6 2.5 6 0 4.6-2.4z" fill="#200503"/>
<path d="M149.5 273.9l-4.6 2.8 5.9-.4 4.6-2.7z" fill="#180402"/>
<path d="M141.6 276.5l-4.6 3 5.9-.7 4.6-3z" fill="#0e0201"/>
<path d="M201.6 270.3l-4.6 1.1 6 2.2 4.6-1z" fill="#400b06"/>
<path d="M193.7 269.6l-4.6 1.4 6 1.8 4.6-1.3z" fill="#3f0b06"/>
<path d="M185.8 269.4l-4.6 1.6 6 1.5 4.6-1.6z" fill="#3d0a06"/>
<path d="M177.9 269.7l-4.6 1.9 6 1.1 4.6-1.8z" fill="#3a0a05"/>
<path d="M169.9 270.4l-4.6 2.2 6 .7 4.6-2.1z" fill="#360905"/>
<path d="M162 271.7l-4.6 2.4 6 .3 4.6-2.3z" fill="#310804"/>
<path d="M154 273.5l-4.6 2.7 6-.1 4.6-2.6z" fill="#2a0704"/>
<path d="M146 275.8l-4.6 2.9 5.9-.4 4.6-2.9z" fill="#220603"/>
<path d="M138.1 278.6l-4.6 3.2 5.9-.8 4.6-3.1z" fill="#190503"/>
<path d="M206.2 272l-4.6 1 6 2.5 4.6-.9z" fill="#490c07"/>
<path d="M198.3 271l-4.6 1.3 6 2.1 4.6-1.2z" fill="#490c07"/>
<path d="M190.4 270.5l-4.6 1.5 6 1.8 4.6-1.5z" fill="#480c07"/>
<path d="M182.5 270.5l-4.6 1.8 6 1.4 4.6-1.7z" fill="#460c06"/>
<path d="M174.5 270.9l-4.6 2.1 6 1 4.6-2z" fill="#430b06"/>
<path d="M166.6 271.9l-4.7 2.3 6 .6 4.6-2.3z" fill="#3f0b06"/>
<path d="M158.6 273.4l-4.6 2.6 6 .2 4.6-2.5z" fill="#3a0a05"/>
<path d="M150.6 275.4l-4.6 2.9 6-.1 4.6-2.8z" fill="#340905"/>
<path d="M142.6 277.9l-4.6 3.1 5.9-.5 4.6-3z" fill="#2d0804"/>
<path d="M134.5 280.9l-4.6 3.4 5.9-.9 4.6-3.3z" fill="#240704"/>
<path d="M210.9 274l-4.6 .9 6 2.8 4.6-.9z" fill="#510e07"/>
<path d="M203 272.7l-4.6 1.2 6 2.4 4.6-1.1z" fill="#520e07"/>
<path d="M195.1 271.9l-4.6 1.4 6 2.1 4.6-1.4z" fill="#520e07"/>
<path d="M187.1 271.5l-4.6 1.7 6 1.7 4.6-1.6z" fill="#500e07"/>
<path d="M179.2 271.7l-4.7 2 6 1.3 4.6-1.9z" fill="#4e0d07"/>
<path d="M171.2 272.4l-4.7 2.2 6 .9 4.7-2.2z" fill="#4b0d07"/>
<path d="M163.2 273.6l-4.7 2.5 6 .5 4.7-2.4z" fill="#470c06"/>
<path d="M155.1 275.2l-4.7 2.8 6 .2 4.7-2.7z" fill="#420b06"/>
<path d="M147.1 277.4l-4.7 3 6-.2 4.7-3z" fill="#3c0a06"/>
<path d="M139 280.1l-4.6 3.3 5.9-.6 4.6-3.2z" fill="#360a05"/>
<path d="M131 283.3l-4.6 3.5 5.9-1 4.6-3.5z" fill="#2e0905"/>
<path d="M215.6 276.2l-4.6 .8 6 3.1 4.6-.8z" fill="#591008"/>
<path d="M207.7 274.6l-4.6 1.1 6 2.7 4.6-1z" fill="#590f08"/>
<path d="M199.8 273.5l-4.6 1.4 6 2.4 4.6-1.3z" fill="#5a0f08"/>
<path d="M191.8 272.8l-4.6 1.6 6 2 4.6-1.5z" fill="#590f08"/>
<path d="M183.8 272.7l-4.7 1.9 6.1 1.6 4.7-1.8z" fill="#580f08"/>
<path d="M175.8 273.1l-4.7 2.1 6.1 1.2 4.7-2.1z" fill="#560f08"/>
<path d="M167.8 273.9l-4.7 2.4 6 .8 4.7-2.3z" fill="#530e08"/>
<path d="M159.7 275.3l-4.7 2.7 6 .5 4.7-2.6z" fill="#4f0d07"/>
<path d="M151.6 277.2l-4.7 2.9 6 .1 4.7-2.9z" fill="#4a0c07"/>
<path d="M143.6 279.6l-4.7 3.2 6-.3 4.7-3.1z" fill="#450c07"/>
<path d="M135.5 282.5l-4.7 3.5 5.9-.7 4.7-3.4z" fill="#3f0c07"/>
<path d="M127.4 285.9l-4.6 3.7 5.9-1.1 4.6-3.6z" fill="#370c06"/>
<path d="M220.3 278.7l-4.6 .8 6 3.4 4.5-.7z" fill="#61120a"/>
<path d="M212.4 276.8l-4.6 1 6 3 4.6-.9z" fill="#601109"/>
<path d="M204.5 275.4l-4.6 1.3 6 2.7 4.6-1.2z" fill="#611009"/>
<path d="M196.5 274.4l-4.6 1.5 6.1 2.3 4.6-1.5z" fill="#611009"/>
<path d="M188.5 274l-4.7 1.8 6.1 1.9 4.7-1.7z" fill="#601009"/>
<path d="M180.5 274l-4.7 2.1 6.1 1.5 4.7-2z" fill="#5e1009"/>
<path d="M172.4 274.6l-4.7 2.3 6.1 1.1 4.7-2.2z" fill="#5c1008"/>
<path d="M164.3 275.7l-4.7 2.6 6.1 .8 4.7-2.5z" fill="#590f08"/>
<path d="M156.2 277.2l-4.7 2.8 6 .4 4.7-2.8z" fill="#550e08"/>
<path d="M148.1 279.3l-4.7 3.1 6-0 4.7-3z" fill="#510e07"/>
<path d="M140 281.9l-4.7 3.4 6-.4 4.7-3.3z" fill="#4d0e08"/>
<path d="M131.9 285l-4.7 3.6 6-.8 4.7-3.6z" fill="#470e08"/>
<path d="M123.8 288.6l-4.6 3.9 5.9-1.1 4.6-3.8z" fill="#400e08"/>
<path d="M225 281.5l-4.5 .7 5.9 3.7 4.5-.6z" fill="#69150b"/>
<path d="M217.1 279.2l-4.5 .9 6 3.3 4.5-.9z" fill="#68130a"/>
<path d="M209.2 277.5l-4.6 1.2 6 3 4.5-1.1z" fill="#671209"/>
<path d="M201.2 276.2l-4.6 1.4 6 2.6 4.6-1.4z" fill="#671109"/>
<path d="M193.2 275.5l-4.6 1.7 6 2.2 4.6-1.6z" fill="#671109"/>
<path d="M185.2 275.2l-4.7 2 6.1 1.8 4.7-1.9z" fill="#661109"/>
<path d="M177.1 275.5l-4.7 2.2 6.1 1.4 4.7-2.2z" fill="#651109"/>
<path d="M169 276.2l-4.7 2.5 6.1 1.1 4.7-2.4z" fill="#621109"/>
<path d="M160.9 277.5l-4.7 2.8 6.1 .7 4.7-2.7z" fill="#5f1009"/>
<path d="M152.7 279.3l-4.7 3 6.1 .3 4.7-2.9z" fill="#5b0f08"/>
<path d="M144.6 281.6l-4.7 3.3 6-.1 4.7-3.2z" fill="#581009"/>
<path d="M136.5 284.4l-4.7 3.5 6-.5 4.7-3.5z" fill="#541009"/>
<path d="M128.3 287.7l-4.7 3.8 6-.8 4.7-3.7z" fill="#4f1109"/>
<path d="M120.2 291.5l-4.7 4.1 5.9-1.2 4.7-4z" fill="#481109"/>
<path d="M229.8 284.5l-4.4 .6 5.9 4 4.4-.5z" fill="#71180d"/>
<path d="M221.9 282l-4.5 .9 5.9 3.6 4.5-.8z" fill="#70160c"/>
<path d="M214 279.9l-4.5 1.1 5.9 3.3 4.5-1z" fill="#6e140b"/>
<path d="M206 278.3l-4.5 1.4 6 2.9 4.5-1.3z" fill="#6d130a"/>
<path d="M197.9 277.3l-4.6 1.6 6 2.5 4.6-1.6z" fill="#6d120a"/>
<path d="M189.9 276.7l-4.6 1.9 6 2.1 4.6-1.8z" fill="#6d120a"/>
<path d="M181.8 276.6l-4.6 2.1 6 1.8 4.6-2.1z" fill="#6c120a"/>
<path d="M173.7 277.1l-4.7 2.4 6.1 1.4 4.7-2.3z" fill="#6a120a"/>
<path d="M165.5 278.1l-4.7 2.7 6.1 1 4.7-2.6z" fill="#681209"/>
<path d="M157.4 279.5l-4.7 2.9 6.1 .6 4.7-2.9z" fill="#651109"/>
<path d="M149.2 281.5l-4.7 3.2 6.1 .2 4.7-3.1z" fill="#621109"/>
<path d="M141 284l-4.7 3.5 6-.2 4.7-3.4z" fill="#5f120a"/>
<path d="M132.9 287l-4.7 3.7 6-.5 4.7-3.6z" fill="#5c130a"/>
<path d="M124.7 290.5l-4.7 4 6-.9 4.7-3.9z" fill="#57130a"/>
<path d="M116.5 294.6l-4.7 4.2 5.9-1.3 4.7-4.2z" fill="#4f140b"/>
<path d="M234.5 287.8l-4.4 .5 5.8 4.3 4.4-.5z" fill="#781b0f"/>
<path d="M226.7 284.9l-4.4 .8 5.9 3.9 4.4-.7z" fill="#77190d"/>
<path d="M218.7 282.6l-4.5 1 5.9 3.5 4.4-1z" fill="#76170c"/>
<path d="M210.7 280.7l-4.5 1.3 5.9 3.2 4.5-1.2z" fill="#74150b"/>
<path d="M202.7 279.3l-4.5 1.5 5.9 2.8 4.5-1.5z" fill="#72140a"/>
<path d="M194.6 278.4l-4.6 1.8 6 2.4 4.5-1.7z" fill="#72130a"/>
<path d="M186.5 278.1l-4.6 2 6 2.1 4.6-2z" fill="#72130a"/>
<path d="M178.4 278.2l-4.6 2.3 6 1.7 4.6-2.2z" fill="#71130a"/>
<path d="M170.2 278.9l-4.7 2.6 6.1 1.3 4.7-2.5z" fill="#6f130a"/>
<path d="M162 280l-4.7 2.8 6.1 .9 4.7-2.8z" fill="#6d120a"/>
<path d="M153.8 281.7l-4.7 3.1 6.1 .5 4.7-3z" fill="#6a120a"/>
<path d="M145.6 283.9l-4.7 3.4 6.1 .1 4.7-3.3z" fill="#68130a"/>
<path d="M137.4 286.6l-4.7 3.6 6-.2 4.7-3.6z" fill="#66140b"/>
<path d="M129.2 289.8l-4.7 3.9 6-.6 4.7-3.8z" fill="#63150b"/>
<path d="M121 293.5l-4.7 4.1 6-1 4.7-4.1z" fill="#5d160c"/>
<path d="M112.8 297.8l-4.7 4.4 5.9-1.4 4.7-4.3z" fill="#55180c"/>
<path d="M239.3 291.3l-4.4 .5 5.8 4.6 4.3-.4z" fill="#7c2011"/>
<path d="M231.4 288.2l-4.4 .7 5.8 4.2 4.4-.7z" fill="#7e1c0f"/>
<path d="M223.5 285.5l-4.4 1 5.9 3.8 4.4-.9z" fill="#7d1a0e"/>
<path d="M215.5 283.3l-4.4 1.2 5.9 3.5 4.4-1.2z" fill="#7b180d"/>
<path d="M207.5 281.6l-4.5 1.5 5.9 3.1 4.5-1.4z" fill="#79160c"/>
<path d="M199.4 280.4l-4.5 1.7 5.9 2.7 4.5-1.6z" fill="#78150b"/>
<path d="M191.3 279.7l-4.5 2 6 2.4 4.5-1.9z" fill="#77140b"/>
<path d="M183.1 279.6l-4.6 2.2 6 2 4.6-2.2z" fill="#77140b"/>
<path d="M174.9 279.9l-4.6 2.5 6 1.6 4.6-2.4z" fill="#75140b"/>
<path d="M166.7 280.8l-4.7 2.7 6.1 1.2 4.7-2.7z" fill="#74140b"/>
<path d="M158.5 282.1l-4.7 3 6.1 .8 4.7-2.9z" fill="#72130a"/>
<path d="M150.3 284l-4.8 3.3 6.1 .4 4.7-3.2z" fill="#70140b"/>
<path d="M142.1 286.4l-4.7 3.5 6.1 .1 4.7-3.5z" fill="#6f150c"/>
<path d="M133.8 289.3l-4.7 3.8 6-.3 4.7-3.7z" fill="#6d160c"/>
<path d="M125.6 292.7l-4.7 4.1 6-.7 4.7-4z" fill="#6a170d"/>
<path d="M117.4 296.7l-4.7 4.3 6-1.1 4.7-4.3z" fill="#621a0d"/>
<path d="M109.1 301.1l-4.7 4.6 5.9-1.4 4.7-4.5z" fill="#5a1c0e"/>
<path d="M244.1 295.1l-4.3 .4 5.8 4.8 4.3-.4z" fill="#7f2613"/>
<path d="M236.2 291.7l-4.3 .7 5.8 4.5 4.3-.6z" fill="#822111"/>
<path d="M228.3 288.7l-4.4 .9 5.8 4.1 4.4-.8z" fill="#841d10"/>
<path d="M220.3 286.2l-4.4 1.1 5.9 3.8 4.4-1.1z" fill="#821a0e"/>
<path d="M212.3 284.2l-4.4 1.4 5.9 3.4 4.4-1.3z" fill="#80180d"/>
<path d="M204.2 282.7l-4.5 1.6 5.9 3 4.4-1.6z" fill="#7e170c"/>
<path d="M196.1 281.7l-4.5 1.9 5.9 2.7 4.5-1.8z" fill="#7d160c"/>
<path d="M187.9 281.2l-4.5 2.1 6 2.3 4.5-2.1z" fill="#7c150b"/>
<path d="M179.7 281.2l-4.6 2.4 6 1.9 4.6-2.3z" fill="#7b150b"/>
<path d="M171.5 281.8l-4.6 2.6 6 1.5 4.6-2.6z" fill="#7a150b"/>
<path d="M163.2 282.8l-4.7 2.9 6 1.2 4.6-2.8z" fill="#78150b"/>
<path d="M155 284.4l-4.7 3.2 6.1 .8 4.7-3.1z" fill="#77150b"/>
<path d="M146.7 286.5l-4.8 3.5 6.1 .4 4.7-3.4z" fill="#76160c"/>
<path d="M138.4 289.1l-4.8 3.7 6.1-0 4.8-3.7z" fill="#75170d"/>
<path d="M130.2 292.2l-4.7 4 6-.4 4.7-3.9z" fill="#73190e"/>
<path d="M121.9 295.8l-4.7 4.2 6-.8 4.7-4.2z" fill="#6e1b0e"/>
<path d="M113.6 300l-4.7 4.5 6-1.1 4.7-4.4z" fill="#671e0f"/>
<path d="M105.4 304.6l-4.7 4.7 5.9-1.5 4.7-4.7z" fill="#5f200f"/>
<path d="M248.9 299.2l-4.3 .4 5.7 5.1 4.3-.3z" fill="#822c15"/>
<path d="M241 295.4l-4.3 .6 5.8 4.8 4.3-.5z" fill="#852613"/>
<path d="M233.1 292.1l-4.3 .8 5.8 4.4 4.3-.8z" fill="#882112"/>
<path d="M225.1 289.3l-4.4 1.1 5.8 4 4.3-1z" fill="#891e10"/>
<path d="M217.1 287l-4.4 1.3 5.8 3.7 4.4-1.3z" fill="#871b0f"/>
<path d="M209 285.2l-4.4 1.6 5.9 3.3 4.4-1.5z" fill="#85190e"/>
<path d="M200.9 283.9l-4.5 1.8 5.9 3 4.4-1.7z" fill="#83180d"/>
<path d="M192.7 283.1l-4.5 2.1 5.9 2.6 4.5-2z" fill="#82170c"/>
<path d="M184.5 282.8l-4.5 2.3 5.9 2.2 4.5-2.2z" fill="#80160c"/>
<path d="M176.2 283l-4.6 2.6 6 1.8 4.6-2.5z" fill="#7f160c"/>
<path d="M168 283.8l-4.6 2.8 6 1.5 4.6-2.8z" fill="#7e160c"/>
<path d="M159.7 285l-4.6 3.1 6 1.1 4.6-3z" fill="#7e160c"/>
<path d="M151.4 286.8l-4.7 3.3 6.1 .7 4.7-3.3z" fill="#7d170d"/>
<path d="M143.1 289.1l-4.7 3.6 6.1 .3 4.7-3.6z" fill="#7c180d"/>
<path d="M134.8 291.9l-4.8 3.9 6.1-.1 4.8-3.8z" fill="#7b1a0e"/>
<path d="M126.5 295.2l-4.8 4.2 6-.5 4.8-4.1z" fill="#791c0f"/>
<path d="M118.2 299.1l-4.7 4.4 6-.8 4.7-4.4z" fill="#731f10"/>
<path d="M109.9 303.4l-4.7 4.7 5.9-1.2 4.7-4.6z" fill="#6c2210"/>
<path d="M101.7 308.3l-4.7 4.9 5.9-1.6 4.7-4.9z" fill="#642711"/>
<path d="M253.7 303.5l-4.2 .3 5.7 5.4 4.2-.3z" fill="#853818"/>
<path d="M245.9 299.4l-4.3 .5 5.7 5 4.2-.5z" fill="#882c15"/>
<path d="M238 295.8l-4.3 .8 5.8 4.7 4.3-.7z" fill="#8b2714"/>
<path d="M230 292.7l-4.3 1 5.8 4.3 4.3-1z" fill="#8d2212"/>
<path d="M221.9 290.1l-4.4 1.3 5.8 4 4.3-1.2z" fill="#8e1e11"/>
<path d="M213.8 288l-4.4 1.5 5.8 3.6 4.4-1.4z" fill="#8b1c0f"/>
<path d="M205.7 286.4l-4.4 1.7 5.9 3.3 4.4-1.7z" fill="#891a0e"/>
<path d="M197.5 285.2l-4.4 2 5.9 2.9 4.4-1.9z" fill="#88190d"/>
<path d="M189.3 284.6l-4.5 2.2 5.9 2.5 4.5-2.2z" fill="#86180d"/>
<path d="M181 284.5l-4.5 2.5 5.9 2.2 4.5-2.4z" fill="#85170d"/>
<path d="M172.8 285l-4.6 2.7 6 1.8 4.5-2.7z" fill="#84170d"/>
<path d="M164.5 285.9l-4.6 3 6 1.4 4.6-2.9z" fill="#84180d"/>
<path d="M156.1 287.4l-4.6 3.3 6 1 4.6-3.2z" fill="#83180d"/>
<path d="M147.8 289.4l-4.7 3.5 6 .6 4.7-3.5z" fill="#83190e"/>
<path d="M139.5 291.9l-4.7 3.8 6.1 .2 4.7-3.7z" fill="#821b0f"/>
<path d="M131.1 294.9l-4.8 4.1 6.1-.2 4.8-4z" fill="#811c10"/>
<path d="M122.8 298.4l-4.8 4.3 6-.5 4.8-4.3z" fill="#7d2010"/>
<path d="M114.5 302.5l-4.8 4.6 6-.9 4.8-4.5z" fill="#772311"/>
<path d="M106.2 307.1l-4.7 4.8 5.9-1.3 4.7-4.8z" fill="#702612"/>
<path d="M97.9 312.1l-4.7 5.1 5.9-1.6 4.7-5z" fill="#693114"/>
<path d="M258.5 308.1l-4.2 .3 5.7 5.7 4.2-.2z" fill="#89491c"/>
<path d="M250.7 303.7l-4.2 .5 5.7 5.3 4.2-.4z" fill="#8b3618"/>
<path d="M242.8 299.8l-4.3 .7 5.7 5 4.2-.7z" fill="#8d2d16"/>
<path d="M234.8 296.4l-4.3 1 5.8 4.6 4.3-.9z" fill="#902814"/>
<path d="M226.8 293.5l-4.3 1.2 5.8 4.3 4.3-1.1z" fill="#922313"/>
<path d="M218.7 291l-4.3 1.4 5.8 3.9 4.3-1.4z" fill="#921f11"/>
<path d="M210.5 289.1l-4.4 1.7 5.8 3.6 4.4-1.6z" fill="#901d10"/>
<path d="M202.4 287.7l-4.4 1.9 5.9 3.2 4.4-1.9z" fill="#8e1b0f"/>
<path d="M194.1 286.7l-4.4 2.2 5.9 2.8 4.4-2.1z" fill="#8c1a0e"/>
<path d="M185.9 286.3l-4.5 2.4 5.9 2.5 4.5-2.3z" fill="#8b190e"/>
<path d="M177.6 286.4l-4.5 2.7 5.9 2.1 4.5-2.6z" fill="#8a190d"/>
<path d="M169.2 287.1l-4.6 2.9 6 1.7 4.5-2.8z" fill="#89190e"/>
<path d="M160.9 288.2l-4.6 3.2 6 1.3 4.6-3.1z" fill="#891a0e"/>
<path d="M152.5 289.9l-4.6 3.4 6 .9 4.6-3.4z" fill="#891a0e"/>
<path d="M144.2 292.1l-4.7 3.7 6 .6 4.7-3.6z" fill="#881c0f"/>
<path d="M135.8 294.8l-4.7 4 6.1 .2 4.7-3.9z" fill="#881d10"/>
<path d="M127.4 298l-4.8 4.2 6.1-.2 4.8-4.2z" fill="#852011"/>
<path d="M119.1 301.8l-4.8 4.5 6.1-.6 4.8-4.4z" fill="#802412"/>
<path d="M110.7 306.1l-4.8 4.8 6-1 4.8-4.7z" fill="#7a2713"/>
<path d="M102.4 310.8l-4.7 5 5.9-1.4 4.7-5z" fill="#742f14"/>
<path d="M94.1 316.1l-4.7 5.3 5.9-1.7 4.7-5.2z" fill="#6e3c16"/>
<path d="M263.4 313l-4.2 .2 5.7 5.9 4.1-.2z" fill="#8c5b20"/>
<path d="M255.5 308.3l-4.2 .4 5.7 5.6 4.2-.4z" fill="#8e481c"/>
<path d="M247.6 304.1l-4.2 .7 5.7 5.3 4.2-.6z" fill="#903518"/>
<path d="M239.7 300.3l-4.2 .9 5.7 4.9 4.2-.9z" fill="#922e16"/>
<path d="M231.7 297.1l-4.3 1.1 5.8 4.6 4.3-1.1z" fill="#952815"/>
<path d="M223.6 294.4l-4.3 1.4 5.8 4.2 4.3-1.3z" fill="#972413"/>
<path d="M215.4 292.1l-4.3 1.6 5.8 3.8 4.3-1.6z" fill="#962012"/>
<path d="M207.2 290.4l-4.4 1.8 5.8 3.5 4.4-1.8z" fill="#941e10"/>
<path d="M199 289.1l-4.4 2.1 5.9 3.1 4.4-2z" fill="#921d10"/>
<path d="M190.7 288.4l-4.4 2.3 5.9 2.8 4.4-2.3z" fill="#911b0f"/>
<path d="M182.4 288.2l-4.5 2.6 5.9 2.4 4.5-2.5z" fill="#901b0e"/>
<path d="M174.1 288.5l-4.5 2.8 5.9 2 4.5-2.8z" fill="#8f1b0e"/>
<path d="M165.7 289.3l-4.6 3.1 6 1.6 4.5-3z" fill="#8e1b0f"/>
<path d="M157.3 290.7l-4.6 3.3 6 1.3 4.6-3.3z" fill="#8e1c0f"/>
<path d="M148.9 292.6l-4.6 3.6 6 .9 4.6-3.5z" fill="#8e1d10"/>
<path d="M140.5 295l-4.7 3.9 6 .5 4.7-3.8z" fill="#8e1e11"/>
<path d="M132.1 297.9l-4.7 4.1 6 .1 4.7-4.1z" fill="#8d2112"/>
<path d="M123.7 301.3l-4.8 4.4 6.1-.3 4.8-4.4z" fill="#892413"/>
<path d="M115.3 305.3l-4.8 4.7 6.1-.7 4.8-4.6z" fill="#842814"/>
<path d="M106.9 309.8l-4.8 4.9 6-1.1 4.8-4.9z" fill="#7e2c15"/>
<path d="M98.6 314.8l-4.8 5.2 5.9-1.4 4.8-5.1z" fill="#783a17"/>
<path d="M90.2 320.3l-4.7 5.5 5.9-1.8 4.7-5.4z" fill="#724819"/>
<path d="M268.2 318.1l-4.1 .2 5.6 6.2 4.1-.1z" fill="#906c22"/>
<path d="M260.4 313.1l-4.2 .4 5.7 5.9 4.1-.3z" fill="#915b20"/>
<path d="M252.5 308.6l-4.2 .6 5.7 5.5 4.2-.6z" fill="#93471c"/>
<path d="M244.6 304.6l-4.2 .8 5.7 5.2 4.2-.8z" fill="#953418"/>
<path d="M236.5 301l-4.2 1.1 5.7 4.8 4.2-1z" fill="#972e17"/>
<path d="M228.4 297.9l-4.3 1.3 5.8 4.5 4.3-1.3z" fill="#992915"/>
<path d="M220.3 295.4l-4.3 1.5 5.8 4.1 4.3-1.5z" fill="#9b2414"/>
<path d="M212.1 293.3l-4.3 1.8 5.8 3.8 4.3-1.7z" fill="#9a2112"/>
<path d="M203.9 291.8l-4.4 2 5.9 3.4 4.4-2z" fill="#981f11"/>
<path d="M195.6 290.7l-4.4 2.3 5.9 3.1 4.4-2.2z" fill="#961e10"/>
<path d="M187.3 290.2l-4.4 2.5 5.9 2.7 4.4-2.4z" fill="#951d10"/>
<path d="M178.9 290.2l-4.5 2.7 5.9 2.3 4.5-2.7z" fill="#941c0f"/>
<path d="M170.5 290.7l-4.5 3 5.9 2 4.5-2.9z" fill="#941c0f"/>
<path d="M162.1 291.7l-4.6 3.2 6 1.6 4.5-3.2z" fill="#931d10"/>
<path d="M153.7 293.3l-4.6 3.5 6 1.2 4.6-3.4z" fill="#931e10"/>
<path d="M145.3 295.4l-4.6 3.8 6 .8 4.6-3.7z" fill="#941f11"/>
<path d="M136.8 298l-4.7 4 6 .4 4.7-4z" fill="#932112"/>
<path d="M128.4 301.1l-4.7 4.3 6 0 4.7-4.2z" fill="#902513"/>
<path d="M119.9 304.8l-4.8 4.6 6.1-.4 4.8-4.5z" fill="#8c2914"/>
<path d="M111.5 309l-4.8 4.9 6-.8 4.8-4.8z" fill="#872d15"/>
<path d="M103.1 313.7l-4.8 5.1 6-1.1 4.8-5.1z" fill="#823817"/>
<path d="M94.7 318.9l-4.8 5.4 5.9-1.5 4.8-5.3z" fill="#7c471a"/>
<path d="M86.4 324.6l-4.7 5.6 5.9-1.8 4.7-5.6z" fill="#77531b"/>
<path d="M273 323.5l-4.1 .1 5.6 6.5 4.1-.1z" fill="#947d24"/>
<path d="M265.3 318.2l-4.1 .3 5.6 6.2 4.1-.3z" fill="#956c23"/>
<path d="M257.4 313.4l-4.1 .6 5.7 5.8 4.1-.5z" fill="#965a20"/>
<path d="M249.4 309l-4.2 .8 5.7 5.5 4.2-.7z" fill="#98461c"/>
<path d="M241.4 305.2l-4.2 1 5.7 5.1 4.2-1z" fill="#993519"/>
<path d="M233.4 301.8l-4.2 1.3 5.8 4.8 4.2-1.2z" fill="#9b2f17"/>
<path d="M225.2 298.9l-4.3 1.5 5.8 4.4 4.3-1.4z" fill="#9d2a15"/>
<path d="M217 296.6l-4.3 1.7 5.8 4.1 4.3-1.7z" fill="#9d2514"/>
<path d="M208.8 294.7l-4.3 2 5.8 3.7 4.3-1.9z" fill="#9c2212"/>
<path d="M200.5 293.3l-4.4 2.2 5.9 3.4 4.4-2.1z" fill="#992011"/>
<path d="M192.1 292.5l-4.4 2.4 5.9 3 4.4-2.4z" fill="#971e11"/>
<path d="M183.8 292.1l-4.4 2.7 5.9 2.6 4.4-2.6z" fill="#961e10"/>
<path d="M175.4 292.3l-4.5 2.9 5.9 2.3 4.5-2.9z" fill="#961e10"/>
<path d="M166.9 293.1l-4.5 3.2 5.9 1.9 4.5-3.1z" fill="#961e10"/>
<path d="M158.5 294.3l-4.6 3.4 6 1.5 4.5-3.4z" fill="#981f11"/>
<path d="M150 296.1l-4.6 3.7 6 1.1 4.6-3.6z" fill="#992012"/>
<path d="M141.6 298.4l-4.6 3.9 6 .7 4.6-3.9z" fill="#992213"/>
<path d="M133.1 301.2l-4.7 4.2 6 .4 4.7-4.1z" fill="#962514"/>
<path d="M124.6 304.6l-4.7 4.5 6-0 4.7-4.4z" fill="#932915"/>
<path d="M116.2 308.4l-4.8 4.8 6-.4 4.8-4.7z" fill="#8e2d16"/>
<path d="M107.7 312.8l-4.8 5.1 6-.8 4.8-5z" fill="#8a3518"/>
<path d="M99.3 317.7l-4.8 5.3 6-1.2 4.8-5.2z" fill="#86441a"/>
<path d="M90.9 323.2l-4.8 5.6 5.9-1.6 4.8-5.5z" fill="#80541d"/>
<path d="M82.5 329.1l-4.7 5.8 5.9-1.9 4.8-5.7z" fill="#7b5f1d"/>
<path d="M277.9 329.1l-4 .1 5.6 6.8 4-0z" fill="#908624"/>
<path d="M270.1 323.5l-4.1 .3 5.6 6.4 4.1-.3z" fill="#997d25"/>
<path d="M262.3 318.4l-4.1 .5 5.7 6.1 4.1-.5z" fill="#9a6c24"/>
<path d="M254.3 313.8l-4.1 .7 5.7 5.8 4.1-.7z" fill="#9b5920"/>
<path d="M246.3 309.6l-4.2 1 5.7 5.4 4.2-.9z" fill="#9c451d"/>
<path d="M238.3 305.9l-4.2 1.2 5.7 5.1 4.2-1.2z" fill="#9d3619"/>
<path d="M230.1 302.7l-4.3 1.4 5.8 4.7 4.2-1.4z" fill="#9d2f17"/>
<path d="M221.9 300.1l-4.3 1.7 5.8 4.4 4.3-1.6z" fill="#9d2a15"/>
<path d="M213.7 297.9l-4.3 1.9 5.8 4 4.3-1.8z" fill="#9d2514"/>
<path d="M205.4 296.2l-4.4 2.1 5.8 3.7 4.3-2.1z" fill="#9c2213"/>
<path d="M197.1 295l-4.4 2.4 5.9 3.3 4.4-2.3z" fill="#9a2012"/>
<path d="M188.7 294.4l-4.4 2.6 5.9 2.9 4.4-2.5z" fill="#981f11"/>
<path d="M180.3 294.3l-4.5 2.8 5.9 2.6 4.4-2.8z" fill="#981f11"/>
<path d="M171.8 294.7l-4.5 3.1 5.9 2.2 4.5-3z" fill="#981f11"/>
<path d="M163.3 295.6l-4.5 3.3 5.9 1.8 4.5-3.3z" fill="#992011"/>
<path d="M154.9 297l-4.6 3.6 6 1.5 4.6-3.5z" fill="#9a2112"/>
<path d="M146.4 299l-4.6 3.9 6 1.1 4.6-3.8z" fill="#9d2213"/>
<path d="M137.9 301.5l-4.6 4.1 6 .7 4.6-4.1z" fill="#9c2614"/>
<path d="M129.3 304.6l-4.7 4.4 6 .3 4.7-4.3z" fill="#992a15"/>
<path d="M120.8 308.1l-4.7 4.7 6-.1 4.7-4.6z" fill="#952e16"/>
<path d="M112.4 312.2l-4.8 4.9 6-.5 4.8-4.9z" fill="#913218"/>
<path d="M103.9 316.8l-4.8 5.2 6-.9 4.8-5.2z" fill="#8d411a"/>
<path d="M95.4 322l-4.8 5.5 6-1.3 4.8-5.4z" fill="#89521d"/>
<path d="M87 327.6l-4.8 5.7 5.9-1.6 4.8-5.7z" fill="#855f1f"/>
<path d="M78.6 333.8l-4.8 6 5.8-2 4.8-5.9z" fill="#7f6b1f"/>
<path d="M282.7 335l-4 0 5.6 7 4 0z" fill="#878c21"/>
<path d="M275 329.1l-4 .3 5.6 6.7 4-.2z" fill="#978a26"/>
<path d="M267.1 323.7l-4.1 .5 5.6 6.4 4.1-.4z" fill="#9d7e26"/>
<path d="M259.2 318.8l-4.1 .7 5.7 6 4.1-.7z" fill="#9e6d24"/>
<path d="M251.3 314.3l-4.2 .9 5.7 5.7 4.1-.9z" fill="#9f5921"/>
<path d="M243.2 310.3l-4.2 1.1 5.7 5.4 4.2-1.1z" fill="#9e441d"/>
<path d="M235.1 306.8l-4.2 1.4 5.7 5 4.2-1.3z" fill="#9d3519"/>
<path d="M226.9 303.8l-4.3 1.6 5.8 4.7 4.2-1.6z" fill="#9d2f17"/>
<path d="M218.6 301.3l-4.3 1.8 5.8 4.3 4.3-1.8z" fill="#9d2a16"/>
<path d="M210.3 299.3l-4.3 2.1 5.8 4 4.3-2z" fill="#9d2614"/>
<path d="M202 297.8l-4.4 2.3 5.8 3.6 4.3-2.2z" fill="#9d2313"/>
<path d="M193.6 296.9l-4.4 2.5 5.9 3.2 4.4-2.5z" fill="#9b2112"/>
<path d="M185.2 296.4l-4.4 2.8 5.9 2.9 4.4-2.7z" fill="#9a2012"/>
<path d="M176.7 296.5l-4.5 3 5.9 2.5 4.4-3z" fill="#9a2012"/>
<path d="M168.2 297.1l-4.5 3.3 5.9 2.1 4.5-3.2z" fill="#9a2012"/>
<path d="M159.7 298.3l-4.5 3.5 5.9 1.8 4.5-3.5z" fill="#9b2112"/>
<path d="M151.2 299.9l-4.6 3.8 6 1.4 4.6-3.7z" fill="#9d2313"/>
<path d="M142.7 302.1l-4.6 4 6 1 4.6-4z" fill="#9d2614"/>
<path d="M134.1 304.8l-4.6 4.3 6 .6 4.6-4.2z" fill="#9d2a15"/>
<path d="M125.6 308.1l-4.7 4.6 6 .2 4.7-4.5z" fill="#9b2e17"/>
<path d="M117 311.9l-4.7 4.8 6-.2 4.7-4.8z" fill="#983318"/>
<path d="M108.5 316.2l-4.8 5.1 6-.6 4.8-5.1z" fill="#943e1a"/>
<path d="M100 321l-4.8 5.4 6-1 4.8-5.3z" fill="#914f1d"/>
<path d="M91.5 326.4l-4.8 5.7 6-1.3 4.8-5.6z" fill="#8d5f20"/>
<path d="M83.1 332.2l-4.8 5.9 5.9-1.7 4.8-5.9z" fill="#896c21"/>
<path d="M74.7 338.6l-4.8 6.2 5.8-2 4.8-6.1z" fill="#807420"/>
<path d="M287.6 341.2l-4-0 5.5 7.3 4 0z" fill="#758b1e"/>
<path d="M279.8 335l-4 .2 5.6 7 4-.2z" fill="#8e8f23"/>
<path d="M272 329.3l-4 .4 5.6 6.6 4-.4z" fill="#9e8d27"/>
<path d="M264.1 324.1l-4.1 .7 5.6 6.3 4.1-.6z" fill="#a27e27"/>
<path d="M256.2 319.3l-4.1 .9 5.7 6 4.1-.8z" fill="#a16c25"/>
<path d="M248.1 315l-4.2 1.1 5.7 5.6 4.1-1.1z" fill="#9f5720"/>
<path d="M240 311.2l-4.2 1.3 5.7 5.3 4.2-1.3z" fill="#9e431c"/>
<path d="M231.8 307.9l-4.2 1.6 5.8 5 4.2-1.5z" fill="#9d3519"/>
<path d="M223.6 305.1l-4.3 1.8 5.8 4.6 4.2-1.7z" fill="#9d2f17"/>
<path d="M215.3 302.7l-4.3 2 5.8 4.3 4.3-2z" fill="#9d2b16"/>
<path d="M206.9 300.9l-4.3 2.2 5.8 3.9 4.3-2.2z" fill="#9d2714"/>
<path d="M198.5 299.7l-4.4 2.5 5.9 3.5 4.3-2.4z" fill="#9d2413"/>
<path d="M190.1 298.9l-4.4 2.7 5.9 3.2 4.4-2.7z" fill="#9d2213"/>
<path d="M181.6 298.7l-4.4 3 5.9 2.8 4.4-2.9z" fill="#9c2212"/>
<path d="M173.1 298.9l-4.5 3.2 5.9 2.5 4.5-3.1z" fill="#9c2212"/>
<path d="M164.6 299.8l-4.5 3.4 5.9 2.1 4.5-3.4z" fill="#9c2213"/>
<path d="M156 301.1l-4.5 3.7 5.9 1.7 4.5-3.6z" fill="#9d2313"/>
<path d="M147.5 303l-4.6 3.9 6 1.3 4.6-3.9z" fill="#9d2614"/>
<path d="M138.9 305.4l-4.6 4.2 6 .9 4.6-4.1z" fill="#9d2915"/>
<path d="M130.3 308.3l-4.7 4.5 6 .6 4.6-4.4z" fill="#9d2e17"/>
<path d="M121.8 311.8l-4.7 4.7 6 .2 4.7-4.7z" fill="#9d3318"/>
<path d="M113.2 315.8l-4.7 5 6-.2 4.7-4.9z" fill="#9a3c1b"/>
<path d="M104.7 320.3l-4.8 5.3 6-.6 4.8-5.2z" fill="#984c1e"/>
<path d="M96.1 325.4l-4.8 5.6 6-1 4.8-5.5z" fill="#945e21"/>
<path d="M87.6 330.9l-4.8 5.8 6-1.4 4.8-5.8z" fill="#916c22"/>
<path d="M79.2 337l-4.8 6.1 5.9-1.8 4.8-6z" fill="#8d7923"/>
<path d="M70.7 343.6l-4.8 6.3 5.8-2.1 4.8-6.3z" fill="#7d791f"/>
<path d="M292.4 347.6l-3.9-0 5.5 7.6 3.9 .1z" fill="#608a1a"/>
<path d="M284.7 341.2l-4 .2 5.5 7.2 4-.1z" fill="#7e9120"/>
<path d="M276.9 335.2l-4 .4 5.6 6.9 4-.4z" fill="#959325"/>
<path d="M269.1 329.6l-4.1 .6 5.6 6.6 4-.6z" fill="#a59129"/>
<path d="M261.1 324.6l-4.1 .8 5.7 6.3 4.1-.8z" fill="#a37d27"/>
<path d="M253.1 319.9l-4.1 1.1 5.7 5.9 4.1-1z" fill="#a06a24"/>
<path d="M245 315.8l-4.2 1.3 5.7 5.6 4.1-1.2z" fill="#9f5520"/>
<path d="M236.8 312.2l-4.2 1.5 5.7 5.2 4.2-1.5z" fill="#9e421c"/>
<path d="M228.6 309.1l-4.2 1.7 5.8 4.9 4.2-1.7z" fill="#9d3519"/>
<path d="M220.3 306.4l-4.3 2 5.8 4.6 4.3-1.9z" fill="#9d3017"/>
<path d="M211.9 304.3l-4.3 2.2 5.8 4.2 4.3-2.1z" fill="#9d2b16"/>
<path d="M203.5 302.7l-4.3 2.4 5.8 3.8 4.3-2.4z" fill="#9d2815"/>
<path d="M195.1 301.6l-4.4 2.7 5.9 3.5 4.4-2.6z" fill="#9d2614"/>
<path d="M186.6 301.1l-4.4 2.9 5.9 3.1 4.4-2.8z" fill="#9d2413"/>
<path d="M178.1 301l-4.4 3.1 5.9 2.8 4.4-3.1z" fill="#9d2313"/>
<path d="M169.5 301.5l-4.5 3.4 5.9 2.4 4.5-3.3z" fill="#9d2313"/>
<path d="M160.9 302.5l-4.5 3.6 5.9 2 4.5-3.6z" fill="#9d2414"/>
<path d="M152.4 304.1l-4.5 3.9 5.9 1.6 4.5-3.8z" fill="#9d2614"/>
<path d="M143.8 306.2l-4.6 4.1 6 1.3 4.6-4.1z" fill="#9d2915"/>
<path d="M135.1 308.8l-4.6 4.4 6 .9 4.6-4.3z" fill="#9d2d17"/>
<path d="M126.5 312l-4.7 4.6 6 .5 4.7-4.6z" fill="#9d3218"/>
<path d="M117.9 315.7l-4.7 4.9 6 .1 4.7-4.9z" fill="#9d381a"/>
<path d="M109.4 319.9l-4.7 5.2 6-.3 4.7-5.1z" fill="#9d491e"/>
<path d="M100.8 324.6l-4.8 5.5 6-.7 4.8-5.4z" fill="#9b5b21"/>
<path d="M92.2 329.9l-4.8 5.8 6-1.1 4.8-5.7z" fill="#986b23"/>
<path d="M83.7 335.7l-4.8 6 6-1.5 4.8-6z" fill="#957924"/>
<path d="M75.2 342l-4.8 6.3 5.9-1.8 4.8-6.2z" fill="#8b8023"/>
<path d="M66.8 348.8l-4.8 6.5 5.8-2.2 4.8-6.5z" fill="#797e1e"/>
<path d="M297.2 354.3l-3.9-.1 5.5 7.8 3.9 .1z" fill="#518819"/>
<path d="M289.6 347.6l-3.9 .1 5.5 7.5 3.9-.1z" fill="#698f1c"/>
<path d="M281.8 341.3l-4 .4 5.6 7.2 4-.3z" fill="#879622"/>
<path d="M274 335.4l-4 .6 5.6 6.9 4-.5z" fill="#9b9626"/>
<path d="M266 330.1l-4.1 .8 5.6 6.5 4-.7z" fill="#a58f29"/>
<path d="M258 325.2l-4.1 1 5.7 6.2 4.1-1z" fill="#a37a26"/>
<path d="M249.9 320.7l-4.1 1.2 5.7 5.9 4.1-1.2z" fill="#a06824"/>
<path d="M241.8 316.8l-4.2 1.4 5.7 5.5 4.2-1.4z" fill="#9f5420"/>
<path d="M233.6 313.4l-4.2 1.7 5.8 5.2 4.2-1.6z" fill="#9e421c"/>
<path d="M225.3 310.4l-4.2 1.9 5.8 4.8 4.2-1.9z" fill="#9d3519"/>
<path d="M216.9 308l-4.3 2.1 5.8 4.5 4.3-2.1z" fill="#9d3018"/>
<path d="M208.5 306l-4.3 2.4 5.8 4.1 4.3-2.3z" fill="#9d2c16"/>
<path d="M200.1 304.6l-4.3 2.6 5.9 3.8 4.3-2.5z" fill="#9d2915"/>
<path d="M191.6 303.7l-4.4 2.8 5.9 3.4 4.4-2.8z" fill="#9d2715"/>
<path d="M183 303.4l-4.4 3.1 5.9 3.1 4.4-3z" fill="#9d2614"/>
<path d="M174.5 303.6l-4.5 3.3 5.9 2.7 4.4-3.3z" fill="#9d2614"/>
<path d="M165.9 304.3l-4.5 3.6 5.9 2.3 4.5-3.5z" fill="#9d2614"/>
<path d="M157.3 305.5l-4.5 3.8 5.9 2 4.5-3.7z" fill="#9d2815"/>
<path d="M148.6 307.3l-4.6 4 5.9 1.6 4.5-4z" fill="#9d2a15"/>
<path d="M140 309.6l-4.6 4.3 6 1.2 4.6-4.2z" fill="#9d2d17"/>
<path d="M131.4 312.4l-4.6 4.6 6 .8 4.6-4.5z" fill="#9d3118"/>
<path d="M122.7 315.8l-4.7 4.8 6 .4 4.7-4.8z" fill="#9d361a"/>
<path d="M114.1 319.7l-4.7 5.1 6 0 4.7-5z" fill="#9e451d"/>
<path d="M105.5 324.1l-4.7 5.4 6-.3 4.7-5.3z" fill="#9f5721"/>
<path d="M96.9 329.1l-4.8 5.6 6-.7 4.8-5.6z" fill="#9e6a24"/>
<path d="M88.3 334.6l-4.8 5.9 6-1.1 4.8-5.9z" fill="#9b7825"/>
<path d="M79.8 340.6l-4.8 6.2 6-1.5 4.9-6.2z" fill="#978626"/>
<path d="M71.2 347.1l-4.8 6.5 5.9-1.9 4.8-6.4z" fill="#868521"/>
<path d="M62.8 354.1l-4.8 6.7 5.8-2.2 4.8-6.7z" fill="#6f7f1c"/>
<path d="M302.1 361.2l-3.9-.1 5.5 8.1 3.8 .1z" fill="#448617"/>
<path d="M294.4 354.2l-3.9 .1 5.5 7.8 3.9-.1z" fill="#588d1a"/>
<path d="M286.7 347.6l-4 .3 5.5 7.5 3.9-.3z" fill="#71941e"/>
<path d="M278.9 341.5l-4 .5 5.6 7.1 4-.5z" fill="#8e9923"/>
<path d="M271 335.8l-4 .7 5.6 6.8 4-.7z" fill="#9d9527"/>
<path d="M263 330.6l-4.1 1 5.6 6.5 4-.9z" fill="#a58c29"/>
<path d="M254.9 325.9l-4.1 1.2 5.7 6.2 4.1-1.1z" fill="#a27926"/>
<path d="M246.8 321.7l-4.1 1.4 5.7 5.8 4.1-1.4z" fill="#a06724"/>
<path d="M238.6 317.9l-4.2 1.6 5.7 5.5 4.2-1.6z" fill="#9f5320"/>
<path d="M230.3 314.6l-4.2 1.8 5.8 5.1 4.2-1.8z" fill="#9e421c"/>
<path d="M221.9 311.9l-4.3 2.1 5.8 4.8 4.2-2z" fill="#9d3619"/>
<path d="M213.5 309.6l-4.3 2.3 5.8 4.4 4.3-2.3z" fill="#9d3118"/>
<path d="M205.1 307.9l-4.3 2.5 5.8 4.1 4.3-2.5z" fill="#9d2e17"/>
<path d="M196.6 306.7l-4.4 2.8 5.9 3.7 4.3-2.7z" fill="#9d2b16"/>
<path d="M188 306l-4.4 3 5.9 3.4 4.4-3z" fill="#9d2915"/>
<path d="M179.4 305.9l-4.4 3.2 5.9 3 4.4-3.2z" fill="#9d2815"/>
<path d="M170.8 306.2l-4.5 3.5 5.9 2.6 4.4-3.4z" fill="#9d2815"/>
<path d="M162.2 307.2l-4.5 3.7 5.9 2.3 4.5-3.7z" fill="#9d2915"/>
<path d="M153.5 308.6l-4.5 4 5.9 1.9 4.5-3.9z" fill="#9d2b16"/>
<path d="M144.9 310.6l-4.6 4.2 6 1.5 4.6-4.2z" fill="#9d2e17"/>
<path d="M136.2 313.1l-4.6 4.5 6 1.1 4.6-4.4z" fill="#9d3118"/>
<path d="M127.5 316.2l-4.6 4.7 6 .8 4.6-4.7z" fill="#9d3619"/>
<path d="M118.9 319.8l-4.7 5 6 .4 4.7-4.9z" fill="#9e421c"/>
<path d="M110.2 323.9l-4.7 5.3 6-0 4.7-5.2z" fill="#9f5320"/>
<path d="M101.6 328.5l-4.8 5.5 6-.4 4.7-5.5z" fill="#a06624"/>
<path d="M92.9 333.7l-4.8 5.8 6-.8 4.8-5.8z" fill="#a17726"/>
<path d="M84.3 339.4l-4.8 6.1 6-1.2 4.8-6.1z" fill="#9f8627"/>
<path d="M75.8 345.6l-4.9 6.4 6-1.6 4.9-6.3z" fill="#938b24"/>
<path d="M67.3 352.4l-4.8 6.6 5.9-1.9 4.8-6.6z" fill="#808920"/>
<path d="M58.8 359.6l-4.8 6.9 5.8-2.3 4.8-6.8z" fill="#63801a"/>
<path d="M299.3 361.1l-3.9 .1 5.5 8 3.8-0z" fill="#498b18"/>
<path d="M291.6 354.3l-3.9 .3 5.5 7.7 3.9-.2z" fill="#5d921b"/>
<path d="M283.8 347.9l-4 .5 5.6 7.4 3.9-.5z" fill="#77961f"/>
<path d="M275.9 341.9l-4 .7 5.6 7.1 4-.7z" fill="#929924"/>
<path d="M268 336.4l-4 .9 5.6 6.8 4-.9z" fill="#9e9427"/>
<path d="M259.9 331.4l-4.1 1.1 5.7 6.4 4.1-1.1z" fill="#a58a28"/>
<path d="M251.8 326.8l-4.1 1.4 5.7 6.1 4.1-1.3z" fill="#a27726"/>
<path d="M243.6 322.7l-4.2 1.6 5.7 5.8 4.1-1.5z" fill="#a06624"/>
<path d="M235.3 319.2l-4.2 1.8 5.8 5.4 4.2-1.8z" fill="#9f5320"/>
<path d="M227 316.1l-4.2 2 5.8 5.1 4.2-2z" fill="#9e431c"/>
<path d="M218.6 313.5l-4.3 2.3 5.8 4.7 4.2-2.2z" fill="#9d371a"/>
<path d="M210.1 311.5l-4.3 2.5 5.8 4.4 4.3-2.4z" fill="#9d3218"/>
<path d="M201.6 309.9l-4.3 2.7 5.9 4 4.3-2.7z" fill="#9d2f17"/>
<path d="M193 308.9l-4.4 2.9 5.9 3.7 4.4-2.9z" fill="#9d2d16"/>
<path d="M184.4 308.5l-4.4 3.2 5.9 3.3 4.4-3.1z" fill="#9d2b16"/>
<path d="M175.8 308.5l-4.4 3.4 5.9 3 4.4-3.4z" fill="#9d2b16"/>
<path d="M167.2 309.1l-4.5 3.7 5.9 2.6 4.5-3.6z" fill="#9d2b16"/>
<path d="M158.5 310.2l-4.5 3.9 5.9 2.2 4.5-3.9z" fill="#9d2c16"/>
<path d="M149.8 311.9l-4.5 4.2 5.9 1.8 4.5-4.1z" fill="#9d2e17"/>
<path d="M141.1 314.1l-4.6 4.4 6 1.5 4.6-4.3z" fill="#9d3118"/>
<path d="M132.4 316.8l-4.6 4.7 6 1.1 4.6-4.6z" fill="#9d3519"/>
<path d="M123.7 320.1l-4.6 4.9 6 .7 4.6-4.9z" fill="#9d3f1c"/>
<path d="M115 323.9l-4.7 5.2 6 .3 4.7-5.1z" fill="#9f4f1f"/>
<path d="M106.3 328.3l-4.7 5.5 6-.1 4.7-5.4z" fill="#a06122"/>
<path d="M97.6 333.1l-4.8 5.7 6-.5 4.8-5.7z" fill="#a27225"/>
<path d="M89 338.5l-4.8 6 6-.9 4.8-5.9z" fill="#a48528"/>
<path d="M80.4 344.5l-4.8 6.3 6-1.3 4.8-6.2z" fill="#9e8f27"/>
<path d="M71.8 350.9l-4.9 6.6 5.9-1.6 4.9-6.5z" fill="#8d9023"/>
<path d="M63.2 357.8l-4.8 6.8 5.9-2 4.8-6.8z" fill="#73891e"/>
<path d="M296.5 361.2l-3.9 .2 5.5 8 3.9-.2z" fill="#4f9019"/>
<path d="M288.7 354.5l-3.9 .5 5.5 7.7 3.9-.4z" fill="#61941b"/>
<path d="M280.9 348.2l-4 .7 5.6 7.4 3.9-.6z" fill="#7c9720"/>
<path d="M272.9 342.4l-4 .9 5.6 7 4-.8z" fill="#949925"/>
<path d="M264.9 337.1l-4.1 1.1 5.6 6.7 4-1.1z" fill="#9f9428"/>
<path d="M256.8 332.2l-4.1 1.3 5.7 6.4 4.1-1.3z" fill="#a48828"/>
<path d="M248.6 327.8l-4.1 1.5 5.7 6.1 4.1-1.5z" fill="#a27726"/>
<path d="M240.3 324l-4.2 1.8 5.7 5.7 4.1-1.7z" fill="#a06624"/>
<path d="M232 320.6l-4.2 2 5.8 5.4 4.2-1.9z" fill="#9f5420"/>
<path d="M223.6 317.7l-4.2 2.2 5.8 5 4.2-2.2z" fill="#9e451d"/>
<path d="M215.1 315.3l-4.3 2.4 5.8 4.7 4.3-2.4z" fill="#9d381a"/>
<path d="M206.6 313.5l-4.3 2.7 5.8 4.3 4.3-2.6z" fill="#9d3419"/>
<path d="M198.1 312.1l-4.3 2.9 5.9 4 4.3-2.8z" fill="#9d3118"/>
<path d="M189.5 311.3l-4.4 3.1 5.9 3.6 4.4-3.1z" fill="#9d2f17"/>
<path d="M180.8 311.1l-4.4 3.4 5.9 3.3 4.4-3.3z" fill="#9d2e17"/>
<path d="M172.2 311.3l-4.5 3.6 5.9 2.9 4.4-3.5z" fill="#9d2d17"/>
<path d="M163.5 312.1l-4.5 3.8 5.9 2.5 4.5-3.8z" fill="#9d2e17"/>
<path d="M154.8 313.5l-4.5 4.1 5.9 2.2 4.5-4z" fill="#9d3017"/>
<path d="M146 315.3l-4.6 4.3 5.9 1.8 4.5-4.3z" fill="#9d3218"/>
<path d="M137.3 317.8l-4.6 4.6 6 1.4 4.6-4.5z" fill="#9d3519"/>
<path d="M128.5 320.7l-4.6 4.8 6 1 4.6-4.8z" fill="#9d3e1b"/>
<path d="M119.8 324.2l-4.7 5.1 6 .6 4.6-5z" fill="#9e4c1e"/>
<path d="M111.1 328.2l-4.7 5.4 6 .3 4.7-5.3z" fill="#9f5d22"/>
<path d="M102.4 332.8l-4.7 5.6 6-.1 4.7-5.6z" fill="#a16e25"/>
<path d="M93.7 337.9l-4.8 5.9 6-.5 4.8-5.8z" fill="#a37f27"/>
<path d="M85 343.5l-4.8 6.2 6-.9 4.8-6.1z" fill="#a59129"/>
<path d="M76.4 349.7l-4.8 6.5 6-1.3 4.8-6.4z" fill="#989426"/>
<path d="M67.8 356.3l-4.9 6.8 5.9-1.7 4.9-6.7z" fill="#839221"/>
<path d="M293.6 361.3l-3.9 .4 5.5 7.9 3.9-.4z" fill="#52911a"/>
<path d="M285.8 354.8l-3.9 .6 5.6 7.6 3.9-.6z" fill="#64941c"/>
<path d="M277.9 348.7l-4 .8 5.6 7.3 4-.8z" fill="#7f9721"/>
<path d="M269.9 343.1l-4 1.1 5.6 7 4-1z" fill="#959825"/>
<path d="M261.8 337.9l-4.1 1.3 5.7 6.7 4-1.2z" fill="#a09328"/>
<path d="M253.6 333.2l-4.1 1.5 5.7 6.3 4.1-1.4z" fill="#a48728"/>
<path d="M245.4 329l-4.1 1.7 5.7 6 4.1-1.7z" fill="#a27626"/>
<path d="M237 325.3l-4.2 1.9 5.8 5.7 4.2-1.9z" fill="#a06624"/>
<path d="M228.7 322.1l-4.2 2.2 5.8 5.3 4.2-2.1z" fill="#9f5620"/>
<path d="M220.2 319.4l-4.3 2.4 5.8 5 4.2-2.3z" fill="#9e471d"/>
<path d="M211.7 317.3l-4.3 2.6 5.8 4.6 4.3-2.6z" fill="#9d3c1b"/>
<path d="M203.1 315.6l-4.3 2.8 5.9 4.3 4.3-2.8z" fill="#9d3519"/>
<path d="M194.5 314.5l-4.4 3.1 5.9 3.9 4.3-3z" fill="#9d3318"/>
<path d="M185.9 313.9l-4.4 3.3 5.9 3.6 4.4-3.3z" fill="#9d3118"/>
<path d="M177.2 313.8l-4.4 3.5 5.9 3.2 4.4-3.5z" fill="#9d3018"/>
<path d="M168.5 314.3l-4.5 3.8 5.9 2.8 4.5-3.7z" fill="#9d3018"/>
<path d="M159.7 315.3l-4.5 4 5.9 2.5 4.5-4z" fill="#9d3118"/>
<path d="M151 316.9l-4.5 4.3 5.9 2.1 4.5-4.2z" fill="#9d3319"/>
<path d="M142.2 319l-4.6 4.5 6 1.7 4.6-4.5z" fill="#9d361a"/>
<path d="M133.4 321.6l-4.6 4.8 6 1.3 4.6-4.7z" fill="#9d3e1b"/>
<path d="M124.7 324.8l-4.6 5 6 1 4.6-5z" fill="#9e4b1e"/>
<path d="M115.9 328.5l-4.7 5.3 6 .6 4.7-5.2z" fill="#9f5a21"/>
<path d="M107.1 332.7l-4.7 5.5 6 .2 4.7-5.5z" fill="#a16b24"/>
<path d="M98.4 337.5l-4.7 5.8 6-.2 4.7-5.8z" fill="#a37a26"/>
<path d="M89.7 342.8l-4.8 6.1 6-.6 4.8-6z" fill="#a58c29"/>
<path d="M81 348.7l-4.8 6.4 6-1 4.8-6.3z" fill="#9e9427"/>
<path d="M72.3 355l-4.9 6.7 5.9-1.4 4.9-6.6z" fill="#929924"/>
<path d="M290.7 361.6l-3.9 .6 5.5 7.9 3.9-.6z" fill="#55921a"/>
<path d="M282.9 355.3l-3.9 .8 5.6 7.6 3.9-.8z" fill="#68951c"/>
<path d="M274.9 349.3l-4 1 5.6 7.3 4-1z" fill="#829821"/>
<path d="M266.8 343.9l-4 1.2 5.6 7 4-1.2z" fill="#969825"/>
<path d="M258.7 338.9l-4.1 1.4 5.7 6.6 4.1-1.4z" fill="#a19328"/>
<path d="M250.4 334.4l-4.1 1.7 5.7 6.3 4.1-1.6z" fill="#a48728"/>
<path d="M242.1 330.4l-4.2 1.9 5.7 6 4.1-1.8z" fill="#a27626"/>
<path d="M233.7 326.8l-4.2 2.1 5.8 5.6 4.2-2.1z" fill="#a06824"/>
<path d="M225.3 323.8l-4.2 2.3 5.8 5.3 4.2-2.3z" fill="#9f5821"/>
<path d="M216.8 321.3l-4.3 2.6 5.8 4.9 4.3-2.5z" fill="#9e4a1e"/>
<path d="M208.2 319.4l-4.3 2.8 5.9 4.6 4.3-2.7z" fill="#9d401c"/>
<path d="M199.6 317.9l-4.3 3 5.9 4.2 4.3-3z" fill="#9d371a"/>
<path d="M190.9 317l-4.4 3.2 5.9 3.9 4.4-3.2z" fill="#9d3519"/>
<path d="M182.3 316.6l-4.4 3.5 5.9 3.5 4.4-3.4z" fill="#9d3419"/>
<path d="M173.5 316.7l-4.4 3.7 5.9 3.2 4.4-3.7z" fill="#9d3318"/>
<path d="M164.8 317.4l-4.5 4 5.9 2.8 4.5-3.9z" fill="#9d3419"/>
<path d="M156 318.7l-4.5 4.2 5.9 2.4 4.5-4.1z" fill="#9d3519"/>
<path d="M147.2 320.4l-4.5 4.4 6 2 4.5-4.4z" fill="#9d371a"/>
<path d="M138.4 322.7l-4.6 4.7 6 1.7 4.6-4.6z" fill="#9d401c"/>
<path d="M129.6 325.6l-4.6 4.9 6 1.3 4.6-4.9z" fill="#9e4b1e"/>
<path d="M120.8 329l-4.6 5.2 6 .9 4.6-5.1z" fill="#9f5821"/>
<path d="M112 332.9l-4.7 5.5 6 .5 4.7-5.4z" fill="#a06824"/>
<path d="M103.2 337.4l-4.7 5.7 6 .1 4.7-5.7z" fill="#a27726"/>
<path d="M94.4 342.4l-4.7 6 6-.2 4.7-5.9z" fill="#a48728"/>
<path d="M85.7 347.9l-4.8 6.3 5.9-.6 4.8-6.2z" fill="#a19328"/>
<path d="M77 354l-4.8 6.6 5.9-1 4.8-6.5z" fill="#969825"/>
<path d="M287.8 362.1l-3.9 .8 5.5 7.9 3.9-.7z" fill="#58921a"/>
<path d="M279.9 355.9l-4 1 5.6 7.5 3.9-1z" fill="#6b951d"/>
<path d="M271.8 350.1l-4 1.2 5.6 7.2 4-1.2z" fill="#849822"/>
<path d="M263.7 344.8l-4 1.4 5.7 6.9 4-1.4z" fill="#979725"/>
<path d="M255.5 340l-4.1 1.6 5.7 6.6 4.1-1.6z" fill="#a29328"/>
<path d="M247.2 335.7l-4.1 1.8 5.7 6.3 4.1-1.8z" fill="#a48728"/>
<path d="M238.8 331.8l-4.2 2.1 5.8 5.9 4.1-2z" fill="#a27726"/>
<path d="M230.4 328.5l-4.2 2.3 5.8 5.6 4.2-2.2z" fill="#a06924"/>
<path d="M221.9 325.7l-4.2 2.5 5.8 5.2 4.2-2.5z" fill="#9f5b21"/>
<path d="M213.3 323.4l-4.3 2.7 5.8 4.9 4.3-2.7z" fill="#9e4e1f"/>
<path d="M204.7 321.6l-4.3 3 5.9 4.5 4.3-2.9z" fill="#9e441d"/>
<path d="M196 320.4l-4.4 3.2 5.9 4.2 4.3-3.1z" fill="#9d3d1b"/>
<path d="M187.3 319.7l-4.4 3.4 5.9 3.8 4.4-3.4z" fill="#9d371a"/>
<path d="M178.6 319.5l-4.4 3.7 5.9 3.5 4.4-3.6z" fill="#9d361a"/>
<path d="M169.8 319.8l-4.5 3.9 5.9 3.1 4.4-3.8z" fill="#9d361a"/>
<path d="M161 320.7l-4.5 4.1 5.9 2.7 4.5-4.1z" fill="#9d371a"/>
<path d="M152.2 322.2l-4.5 4.4 6 2.4 4.5-4.3z" fill="#9d3b1b"/>
<path d="M143.4 324.2l-4.6 4.6 6 2 4.5-4.6z" fill="#9e421c"/>
<path d="M134.5 326.7l-4.6 4.9 6 1.6 4.6-4.8z" fill="#9e4c1e"/>
<path d="M125.7 329.8l-4.6 5.1 6 1.2 4.6-5.1z" fill="#9f5721"/>
<path d="M116.8 333.4l-4.7 5.4 6 .9 4.6-5.3z" fill="#a06624"/>
<path d="M108 337.5l-4.7 5.6 6 .5 4.7-5.6z" fill="#a27426"/>
<path d="M99.2 342.2l-4.7 5.9 6 .1 4.7-5.9z" fill="#a48328"/>
<path d="M90.4 347.5l-4.8 6.2 5.9-.3 4.8-6.1z" fill="#a49229"/>
<path d="M81.6 353.2l-4.8 6.5 5.9-.7 4.8-6.4z" fill="#9a9626"/>
<path d="M284.9 362.6l-3.9 1 5.6 7.8 3.9-.9z" fill="#5a931b"/>
<path d="M276.8 356.6l-4 1.2 5.6 7.5 3.9-1.1z" fill="#6e951e"/>
<path d="M268.7 351l-4 1.4 5.7 7.2 4-1.3z" fill="#869822"/>
<path d="M260.5 345.9l-4.1 1.6 5.7 6.9 4-1.5z" fill="#989726"/>
<path d="M252.3 341.3l-4.1 1.8 5.7 6.5 4.1-1.8z" fill="#a29328"/>
<path d="M243.9 337.1l-4.1 2 5.8 6.2 4.1-2z" fill="#a48728"/>
<path d="M235.5 333.5l-4.2 2.2 5.8 5.9 4.2-2.2z" fill="#a27826"/>
<path d="M227 330.3l-4.2 2.5 5.8 5.5 4.2-2.4z" fill="#a16b24"/>
<path d="M218.4 327.7l-4.3 2.7 5.8 5.2 4.2-2.6z" fill="#a05e22"/>
<path d="M209.8 325.6l-4.3 2.9 5.9 4.8 4.3-2.9z" fill="#9f521f"/>
<path d="M201.2 324l-4.3 3.1 5.9 4.5 4.3-3.1z" fill="#9e491e"/>
<path d="M192.4 323l-4.4 3.4 5.9 4.1 4.4-3.3z" fill="#9e431c"/>
<path d="M183.7 322.5l-4.4 3.6 5.9 3.8 4.4-3.6z" fill="#9d3e1b"/>
<path d="M174.9 322.5l-4.4 3.8 5.9 3.4 4.4-3.8z" fill="#9d3d1b"/>
<path d="M166.1 323.1l-4.5 4.1 5.9 3 4.5-4z" fill="#9d3d1b"/>
<path d="M157.2 324.2l-4.5 4.3 6 2.7 4.5-4.3z" fill="#9e401c"/>
<path d="M148.4 325.9l-4.5 4.6 6 2.3 4.5-4.5z" fill="#9e461d"/>
<path d="M139.5 328.1l-4.6 4.8 6 1.9 4.6-4.8z" fill="#9e4e1f"/>
<path d="M130.6 330.8l-4.6 5.1 6 1.6 4.6-5z" fill="#9f5821"/>
<path d="M121.7 334.1l-4.6 5.3 6 1.2 4.6-5.3z" fill="#a06523"/>
<path d="M112.9 338l-4.7 5.6 6 .8 4.7-5.5z" fill="#a17225"/>
<path d="M104 342.3l-4.7 5.8 6 .4 4.7-5.8z" fill="#a38027"/>
<path d="M95.2 347.3l-4.7 6.1 5.9 0 4.7-6z" fill="#a59029"/>
<path d="M86.4 352.7l-4.8 6.4 5.9-.4 4.8-6.3z" fill="#9c9527"/>
<path d="M281.9 363.4l-3.9 1.1 5.6 7.8 3.9-1.1z" fill="#5c931b"/>
<path d="M273.8 357.5l-4 1.3 5.6 7.5 4-1.3z" fill="#70961e"/>
<path d="M265.6 352.1l-4 1.5 5.7 7.2 4-1.5z" fill="#889822"/>
<path d="M257.4 347.1l-4.1 1.8 5.7 6.8 4.1-1.7z" fill="#989726"/>
<path d="M249 342.7l-4.1 2 5.7 6.5 4.1-1.9z" fill="#a29328"/>
<path d="M240.6 338.7l-4.2 2.2 5.8 6.2 4.1-2.2z" fill="#a48828"/>
<path d="M232.1 335.3l-4.2 2.4 5.8 5.8 4.2-2.4z" fill="#a37a26"/>
<path d="M223.6 332.3l-4.2 2.6 5.8 5.5 4.2-2.6z" fill="#a16e25"/>
<path d="M215 329.9l-4.3 2.9 5.9 5.1 4.3-2.8z" fill="#a06223"/>
<path d="M206.3 328l-4.3 3.1 5.9 4.8 4.3-3z" fill="#9f5721"/>
<path d="M197.6 326.6l-4.4 3.3 5.9 4.4 4.3-3.3z" fill="#9f4f1f"/>
<path d="M188.8 325.8l-4.4 3.6 5.9 4.1 4.4-3.5z" fill="#9e491e"/>
<path d="M180 325.5l-4.4 3.8 5.9 3.7 4.4-3.7z" fill="#9e461d"/>
<path d="M171.2 325.7l-4.5 4 5.9 3.4 4.4-4z" fill="#9e451d"/>
<path d="M162.3 326.5l-4.5 4.3 6 3 4.5-4.2z" fill="#9e471d"/>
<path d="M153.4 327.9l-4.5 4.5 6 2.6 4.5-4.4z" fill="#9e4b1e"/>
<path d="M144.5 329.7l-4.6 4.7 6 2.2 4.5-4.7z" fill="#9f511f"/>
<path d="M135.6 332.2l-4.6 5 6 1.9 4.6-4.9z" fill="#9f5a21"/>
<path d="M126.7 335.1l-4.6 5.2 6 1.5 4.6-5.2z" fill="#a06523"/>
<path d="M117.8 338.7l-4.6 5.5 6 1.1 4.6-5.4z" fill="#a17125"/>
<path d="M108.9 342.7l-4.7 5.8 6 .7 4.7-5.7z" fill="#a37e27"/>
<path d="M100 347.3l-4.7 6 6 .4 4.7-6z" fill="#a58d29"/>
<path d="M91.1 352.5l-4.7 6.3 5.9-0 4.7-6.2z" fill="#9f9428"/>
<path d="M278.8 364.2l-4 1.3 5.6 7.7 3.9-1.3z" fill="#5d931b"/>
<path d="M270.7 358.5l-4 1.5 5.7 7.4 4-1.5z" fill="#72961e"/>
<path d="M262.5 353.3l-4.1 1.7 5.7 7.1 4-1.7z" fill="#899822"/>
<path d="M254.1 348.5l-4.1 1.9 5.7 6.8 4.1-1.9z" fill="#989726"/>
<path d="M245.7 344.2l-4.1 2.2 5.8 6.5 4.1-2.1z" fill="#a19328"/>
<path d="M237.3 340.5l-4.2 2.4 5.8 6.1 4.2-2.3z" fill="#a58a28"/>
<path d="M228.7 337.2l-4.2 2.6 5.8 5.8 4.2-2.6z" fill="#a37c27"/>
<path d="M220.1 334.5l-4.3 2.8 5.9 5.4 4.2-2.8z" fill="#a17125"/>
<path d="M211.4 332.2l-4.3 3 5.9 5.1 4.3-3z" fill="#a06624"/>
<path d="M202.7 330.5l-4.3 3.3 5.9 4.7 4.3-3.2z" fill="#9f5d22"/>
<path d="M194 329.4l-4.4 3.5 5.9 4.4 4.4-3.5z" fill="#9f5620"/>
<path d="M185.1 328.8l-4.4 3.7 5.9 4 4.4-3.7z" fill="#9f511f"/>
<path d="M176.3 328.7l-4.4 4 5.9 3.7 4.4-3.9z" fill="#9e4e1f"/>
<path d="M167.4 329.1l-4.5 4.2 6 3.3 4.5-4.2z" fill="#9e4f1f"/>
<path d="M158.5 330.1l-4.5 4.4 6 2.9 4.5-4.4z" fill="#9f511f"/>
<path d="M149.6 331.7l-4.5 4.7 6 2.6 4.5-4.6z" fill="#9f5620"/>
<path d="M140.6 333.8l-4.6 4.9 6 2.2 4.6-4.9z" fill="#a05d22"/>
<path d="M131.7 336.4l-4.6 5.2 6 1.8 4.6-5.1z" fill="#a06724"/>
<path d="M122.7 339.6l-4.6 5.4 6 1.4 4.6-5.4z" fill="#a17125"/>
<path d="M113.8 343.4l-4.7 5.7 6 1.1 4.7-5.6z" fill="#a37d27"/>
<path d="M104.9 347.6l-4.7 5.9 6 .7 4.7-5.9z" fill="#a58a29"/>
<path d="M96 352.5l-4.7 6.2 6 .3 4.7-6.1z" fill="#a19328"/>
<path d="M275.8 365.2l-4 1.5 5.6 7.7 4-1.5z" fill="#5e931b"/>
<path d="M267.5 359.7l-4 1.7 5.7 7.4 4-1.7z" fill="#73961e"/>
<path d="M259.3 354.6l-4.1 1.9 5.7 7.1 4-1.9z" fill="#899822"/>
<path d="M250.9 350l-4.1 2.1 5.8 6.7 4.1-2.1z" fill="#989726"/>
<path d="M242.4 346l-4.2 2.3 5.8 6.4 4.1-2.3z" fill="#a19328"/>
<path d="M233.9 342.4l-4.2 2.6 5.8 6.1 4.2-2.5z" fill="#a58b29"/>
<path d="M225.3 339.3l-4.2 2.8 5.8 5.7 4.2-2.7z" fill="#a37f27"/>
<path d="M216.6 336.8l-4.3 3 5.9 5.4 4.3-3z" fill="#a27426"/>
<path d="M207.9 334.7l-4.3 3.2 5.9 5 4.3-3.2z" fill="#a16b24"/>
<path d="M199.1 333.3l-4.4 3.5 5.9 4.7 4.3-3.4z" fill="#a06323"/>
<path d="M190.3 332.3l-4.4 3.7 5.9 4.3 4.4-3.6z" fill="#9f5d22"/>
<path d="M181.4 331.9l-4.4 3.9 5.9 4 4.4-3.9z" fill="#9f5921"/>
<path d="M172.5 332l-4.5 4.2 6 3.6 4.4-4.1z" fill="#9f5721"/>
<path d="M163.6 332.7l-4.5 4.4 6 3.3 4.5-4.3z" fill="#9f5821"/>
<path d="M154.7 333.9l-4.5 4.6 6 2.9 4.5-4.6z" fill="#9f5c21"/>
<path d="M145.7 335.7l-4.6 4.9 6 2.5 4.5-4.8z" fill="#a06223"/>
<path d="M136.7 338l-4.6 5.1 6 2.1 4.6-5.1z" fill="#a06a24"/>
<path d="M127.7 340.9l-4.6 5.4 6 1.8 4.6-5.3z" fill="#a27225"/>
<path d="M118.8 344.3l-4.6 5.6 6 1.4 4.6-5.6z" fill="#a37d27"/>
<path d="M109.8 348.2l-4.7 5.9 6 1 4.7-5.8z" fill="#a48928"/>
<path d="M100.8 352.7l-4.7 6.1 6 .6 4.7-6.1z" fill="#a29228"/>
<path d="M272.6 366.4l-4 1.7 5.7 7.7 4-1.6z" fill="#5f941b"/>
<path d="M264.4 361l-4 1.9 5.7 7.4 4-1.8z" fill="#73961f"/>
<path d="M256 356.1l-4.1 2.1 5.7 7 4.1-2z" fill="#899822"/>
<path d="M247.6 351.7l-4.1 2.3 5.8 6.7 4.1-2.3z" fill="#979725"/>
<path d="M239.1 347.8l-4.2 2.5 5.8 6.4 4.2-2.5z" fill="#a09328"/>
<path d="M230.5 344.4l-4.2 2.7 5.8 6 4.2-2.7z" fill="#a58e29"/>
<path d="M221.8 341.6l-4.3 3 5.9 5.7 4.2-2.9z" fill="#a48227"/>
<path d="M213.1 339.2l-4.3 3.2 5.9 5.4 4.3-3.1z" fill="#a27826"/>
<path d="M204.3 337.4l-4.3 3.4 5.9 5 4.3-3.4z" fill="#a17025"/>
<path d="M195.5 336.1l-4.4 3.6 5.9 4.6 4.4-3.6z" fill="#a06a24"/>
<path d="M186.6 335.4l-4.4 3.9 6 4.3 4.4-3.8z" fill="#a06423"/>
<path d="M177.7 335.2l-4.4 4.1 6 3.9 4.4-4.1z" fill="#a06123"/>
<path d="M168.8 335.5l-4.5 4.3 6 3.6 4.5-4.3z" fill="#a06123"/>
<path d="M159.8 336.4l-4.5 4.6 6 3.2 4.5-4.5z" fill="#a06323"/>
<path d="M150.8 337.8l-4.5 4.8 6 2.8 4.5-4.8z" fill="#a06724"/>
<path d="M141.8 339.8l-4.6 5.1 6 2.5 4.6-5z" fill="#a16d25"/>
<path d="M132.8 342.4l-4.6 5.3 6 2.1 4.6-5.2z" fill="#a27426"/>
<path d="M123.8 345.5l-4.6 5.5 6 1.7 4.6-5.5z" fill="#a37e27"/>
<path d="M114.8 349.1l-4.7 5.8 6 1.3 4.7-5.7z" fill="#a48928"/>
<path d="M105.8 353.3l-4.7 6.1 6 1 4.7-6z" fill="#a39229"/>
<path d="M269.5 367.6l-4 1.8 5.7 7.6 4-1.8z" fill="#5f941b"/>
<path d="M261.2 362.5l-4.1 2 5.7 7.3 4-2z" fill="#73961f"/>
<path d="M252.7 357.8l-4.1 2.3 5.8 7 4.1-2.2z" fill="#889822"/>
<path d="M244.2 353.6l-4.2 2.5 5.8 6.7 4.1-2.4z" fill="#969825"/>
<path d="M235.7 349.9l-4.2 2.7 5.8 6.3 4.2-2.7z" fill="#9e9427"/>
<path d="M227 346.7l-4.2 2.9 5.9 6 4.2-2.9z" fill="#a59129"/>
<path d="M218.3 344l-4.3 3.1 5.9 5.7 4.3-3.1z" fill="#a48628"/>
<path d="M209.5 341.9l-4.3 3.4 5.9 5.3 4.3-3.3z" fill="#a37c27"/>
<path d="M200.7 340.2l-4.4 3.6 5.9 5 4.3-3.5z" fill="#a27526"/>
<path d="M191.8 339.2l-4.4 3.8 6 4.6 4.4-3.8z" fill="#a16f25"/>
<path d="M182.9 338.6l-4.4 4.1 6 4.2 4.4-4z" fill="#a16c25"/>
<path d="M173.9 338.6l-4.5 4.3 6 3.9 4.4-4.2z" fill="#a06a24"/>
<path d="M164.9 339.2l-4.5 4.5 6 3.5 4.5-4.5z" fill="#a16b24"/>
<path d="M155.9 340.3l-4.5 4.8 6 3.2 4.5-4.7z" fill="#a16d25"/>
<path d="M146.9 342l-4.6 5 6 2.8 4.5-4.9z" fill="#a17125"/>
<path d="M137.9 344.2l-4.6 5.2 6 2.4 4.6-5.2z" fill="#a27726"/>
<path d="M128.8 346.9l-4.6 5.5 6 2 4.6-5.4z" fill="#a37f27"/>
<path d="M119.8 350.3l-4.6 5.7 6 1.7 4.6-5.7z" fill="#a58928"/>
<path d="M110.7 354.1l-4.7 6 6 1.3 4.7-5.9z" fill="#a39229"/>
<path d="M266.3 369.1l-4 2 5.7 7.6 4-2z" fill="#60941b"/>
<path d="M257.9 364.1l-4.1 2.2 5.8 7.3 4.1-2.2z" fill="#73961e"/>
<path d="M249.4 359.6l-4.1 2.4 5.8 7 4.1-2.4z" fill="#869822"/>
<path d="M240.9 355.6l-4.2 2.7 5.8 6.6 4.2-2.6z" fill="#959825"/>
<path d="M232.2 352l-4.2 2.9 5.9 6.3 4.2-2.8z" fill="#9d9527"/>
<path d="M223.5 349.1l-4.3 3.1 5.9 6 4.2-3.1z" fill="#a49229"/>
<path d="M214.7 346.6l-4.3 3.3 5.9 5.6 4.3-3.3z" fill="#a58a28"/>
<path d="M205.9 344.6l-4.3 3.5 5.9 5.3 4.3-3.5z" fill="#a38127"/>
<path d="M197 343.2l-4.4 3.8 6 4.9 4.4-3.7z" fill="#a37b26"/>
<path d="M188.1 342.4l-4.4 4 6 4.6 4.4-4z" fill="#a27626"/>
<path d="M179.1 342.1l-4.4 4.2 6 4.2 4.4-4.2z" fill="#a27325"/>
<path d="M170.1 342.3l-4.5 4.5 6 3.8 4.5-4.4z" fill="#a27225"/>
<path d="M161.1 343.1l-4.5 4.7 6 3.5 4.5-4.7z" fill="#a27326"/>
<path d="M152.1 344.4l-4.5 4.9 6 3.1 4.5-4.9z" fill="#a27626"/>
<path d="M143 346.3l-4.6 5.2 6 2.7 4.6-5.1z" fill="#a37b27"/>
<path d="M133.9 348.7l-4.6 5.4 6 2.4 4.6-5.4z" fill="#a48227"/>
<path d="M124.8 351.7l-4.6 5.7 6 2 4.6-5.6z" fill="#a58b29"/>
<path d="M115.7 355.2l-4.7 5.9 6 1.6 4.7-5.9z" fill="#a39229"/>
<path d="M263.1 370.7l-4.1 2.2 5.7 7.6 4-2.2z" fill="#5f941b"/>
<path d="M254.6 365.9l-4.1 2.4 5.8 7.3 4.1-2.4z" fill="#72961e"/>
<path d="M246.1 361.5l-4.2 2.6 5.8 6.9 4.1-2.6z" fill="#859822"/>
<path d="M237.4 357.7l-4.2 2.8 5.8 6.6 4.2-2.8z" fill="#949925"/>
<path d="M228.7 354.4l-4.2 3.1 5.9 6.3 4.2-3z" fill="#9b9527"/>
<path d="M220 351.6l-4.3 3.3 5.9 5.9 4.3-3.2z" fill="#a29328"/>
<path d="M211.2 349.3l-4.3 3.5 5.9 5.6 4.3-3.5z" fill="#a58e29"/>
<path d="M202.3 347.6l-4.4 3.7 6 5.2 4.3-3.7z" fill="#a48728"/>
<path d="M193.3 346.4l-4.4 4 6 4.9 4.4-3.9z" fill="#a38127"/>
<path d="M184.4 345.8l-4.4 4.2 6 4.5 4.4-4.1z" fill="#a37d27"/>
<path d="M175.4 345.7l-4.5 4.4 6 4.1 4.5-4.4z" fill="#a37b26"/>
<path d="M166.3 346.1l-4.5 4.7 6 3.8 4.5-4.6z" fill="#a37b26"/>
<path d="M157.2 347.1l-4.5 4.9 6 3.4 4.5-4.8z" fill="#a37c27"/>
<path d="M148.1 348.6l-4.6 5.1 6 3.1 4.6-5.1z" fill="#a38027"/>
<path d="M139 350.7l-4.6 5.4 6 2.7 4.6-5.3z" fill="#a48628"/>
<path d="M129.9 353.4l-4.6 5.6 6 2.3 4.6-5.6z" fill="#a58d29"/>
<path d="M120.8 356.6l-4.6 5.9 6 1.9 4.6-5.8z" fill="#a29228"/>
<path d="M259.8 372.4l-4.1 2.4 5.8 7.5 4.1-2.3z" fill="#5f941b"/>
<path d="M251.3 367.8l-4.1 2.6 5.8 7.2 4.1-2.5z" fill="#70961e"/>
<path d="M242.7 363.7l-4.2 2.8 5.8 6.9 4.1-2.8z" fill="#829821"/>
<path d="M234 360l-4.2 3 5.9 6.6 4.2-3z" fill="#929924"/>
<path d="M225.2 356.9l-4.3 3.2 5.9 6.2 4.2-3.2z" fill="#999626"/>
<path d="M216.4 354.3l-4.3 3.5 5.9 5.9 4.3-3.4z" fill="#9f9428"/>
<path d="M207.5 352.3l-4.3 3.7 6 5.5 4.3-3.6z" fill="#a49229"/>
<path d="M198.6 350.7l-4.4 3.9 6 5.2 4.4-3.9z" fill="#a58d29"/>
<path d="M189.6 349.8l-4.4 4.1 6 4.8 4.4-4.1z" fill="#a48728"/>
<path d="M180.6 349.3l-4.5 4.4 6 4.5 4.4-4.3z" fill="#a48428"/>
<path d="M171.5 349.4l-4.5 4.6 6 4.1 4.5-4.6z" fill="#a48328"/>
<path d="M162.4 350.1l-4.5 4.8 6 3.7 4.5-4.8z" fill="#a48328"/>
<path d="M153.3 351.3l-4.6 5.1 6 3.4 4.5-5z" fill="#a48628"/>
<path d="M144.2 353.1l-4.6 5.3 6 3 4.6-5.3z" fill="#a58a29"/>
<path d="M135 355.4l-4.6 5.6 6 2.6 4.6-5.5z" fill="#a59129"/>
<path d="M125.9 358.3l-4.6 5.8 6 2.3 4.6-5.8z" fill="#a19328"/>
<path d="M256.5 374.3l-4.1 2.5 5.8 7.5 4.1-2.5z" fill="#5e931b"/>
<path d="M247.9 369.9l-4.1 2.8 5.8 7.2 4.1-2.7z" fill="#6e951e"/>
<path d="M239.2 365.9l-4.2 3 5.9 6.9 4.2-2.9z" fill="#7f9721"/>
<path d="M230.5 362.5l-4.2 3.2 5.9 6.5 4.2-3.2z" fill="#8e9923"/>
<path d="M221.7 359.6l-4.3 3.4 5.9 6.2 4.3-3.4z" fill="#979725"/>
<path d="M212.8 357.2l-4.3 3.6 5.9 5.8 4.3-3.6z" fill="#9c9527"/>
<path d="M203.9 355.4l-4.4 3.9 6 5.5 4.3-3.8z" fill="#a19328"/>
<path d="M194.9 354l-4.4 4.1 6 5.1 4.4-4.1z" fill="#a49129"/>
<path d="M185.9 353.3l-4.4 4.3 6 4.8 4.4-4.3z" fill="#a58f29"/>
<path d="M176.8 353l-4.5 4.6 6 4.4 4.5-4.5z" fill="#a58c29"/>
<path d="M167.7 353.4l-4.5 4.8 6 4.1 4.5-4.7z" fill="#a58b29"/>
<path d="M158.5 354.3l-4.5 5 6 3.7 4.5-5z" fill="#a58d29"/>
<path d="M149.4 355.7l-4.6 5.3 6 3.3 4.6-5.2z" fill="#a59029"/>
<path d="M140.2 357.7l-4.6 5.5 6 3 4.6-5.5z" fill="#a39229"/>
<path d="M131 360.2l-4.6 5.8 6 2.6 4.6-5.7z" fill="#9f9428"/>
<path d="M253.2 376.4l-4.1 2.7 5.8 7.5 4.1-2.7z" fill="#5d931b"/>
<path d="M244.5 372.1l-4.2 2.9 5.9 7.2 4.1-2.9z" fill="#6b951d"/>
<path d="M235.8 368.4l-4.2 3.2 5.9 6.8 4.2-3.1z" fill="#7c9720"/>
<path d="M227 365.2l-4.3 3.4 5.9 6.5 4.2-3.3z" fill="#8a9923"/>
<path d="M218.1 362.4l-4.3 3.6 5.9 6.1 4.3-3.6z" fill="#949925"/>
<path d="M209.2 360.3l-4.3 3.8 6 5.8 4.3-3.8z" fill="#9a9626"/>
<path d="M200.2 358.6l-4.4 4.1 6 5.4 4.4-4z" fill="#9e9427"/>
<path d="M191.1 357.5l-4.4 4.3 6 5.1 4.4-4.2z" fill="#a19328"/>
<path d="M182.1 357l-4.5 4.5 6 4.7 4.4-4.5z" fill="#a39229"/>
<path d="M172.9 357l-4.5 4.7 6 4.4 4.5-4.7z" fill="#a49229"/>
<path d="M163.8 357.5l-4.5 5 6 4 4.5-4.9z" fill="#a39229"/>
<path d="M154.6 358.6l-4.6 5.2 6 3.6 4.5-5.2z" fill="#a29229"/>
<path d="M145.4 360.3l-4.6 5.5 6 3.3 4.6-5.4z" fill="#a09328"/>
<path d="M136.2 362.5l-4.6 5.7 6 2.9 4.6-5.7z" fill="#9d9527"/>
<path d="M249.8 378.6l-4.1 2.9 5.8 7.4 4.1-2.9z" fill="#5b931b"/>
<path d="M241.1 374.6l-4.2 3.1 5.9 7.1 4.2-3.1z" fill="#68951c"/>
<path d="M232.3 371l-4.2 3.3 5.9 6.8 4.2-3.3z" fill="#78971f"/>
<path d="M223.4 368l-4.3 3.6 5.9 6.4 4.3-3.5z" fill="#859822"/>
<path d="M214.5 365.5l-4.3 3.8 6 6.1 4.3-3.7z" fill="#919924"/>
<path d="M205.5 363.5l-4.4 4 6 5.8 4.3-4z" fill="#969825"/>
<path d="M196.5 362.1l-4.4 4.2 6 5.4 4.4-4.2z" fill="#9a9626"/>
<path d="M187.4 361.2l-4.4 4.5 6 5 4.4-4.4z" fill="#9d9527"/>
<path d="M178.2 360.8l-4.5 4.7 6 4.7 4.5-4.7z" fill="#9e9427"/>
<path d="M169.1 361l-4.5 4.9 6 4.3 4.5-4.9z" fill="#9f9428"/>
<path d="M159.9 361.8l-4.5 5.2 6.1 4 4.5-5.1z" fill="#9e9427"/>
<path d="M150.6 363.1l-4.6 5.4 6.1 3.6 4.6-5.4z" fill="#9d9527"/>
<path d="M141.4 365l-4.6 5.7 6.1 3.2 4.6-5.6z" fill="#9a9626"/>
<path d="M246.4 381l-4.2 3.1 5.9 7.4 4.1-3.1z" fill="#5a931b"/>
<path d="M237.6 377.1l-4.2 3.3 5.9 7.1 4.2-3.3z" fill="#64941c"/>
<path d="M228.7 373.8l-4.3 3.5 5.9 6.8 4.2-3.5z" fill="#73961f"/>
<path d="M219.8 370.9l-4.3 3.8 6 6.4 4.3-3.7z" fill="#809721"/>
<path d="M210.8 368.6l-4.4 4 6 6.1 4.3-3.9z" fill="#8b9923"/>
<path d="M201.8 366.9l-4.4 4.2 6 5.7 4.4-4.2z" fill="#939924"/>
<path d="M192.7 365.7l-4.4 4.4 6 5.4 4.4-4.4z" fill="#969825"/>
<path d="M183.6 365l-4.5 4.7 6 5 4.4-4.6z" fill="#989726"/>
<path d="M174.4 364.9l-4.5 4.9 6.1 4.6 4.5-4.8z" fill="#9a9626"/>
<path d="M165.2 365.3l-4.5 5.1 6.1 4.3 4.5-5.1z" fill="#9a9626"/>
<path d="M155.9 366.3l-4.6 5.4 6.1 3.9 4.6-5.3z" fill="#999726"/>
<path d="M146.7 367.9l-4.6 5.6 6.1 3.5 4.6-5.6z" fill="#979725"/>
<path d="M242.9 383.6l-4.2 3.3 5.9 7.4 4.2-3.2z" fill="#58921a"/>
<path d="M234.1 379.9l-4.2 3.5 5.9 7.1 4.2-3.5z" fill="#61941b"/>
<path d="M225.2 376.7l-4.3 3.7 6 6.7 4.3-3.7z" fill="#6e951e"/>
<path d="M216.2 374.1l-4.3 3.9 6 6.4 4.3-3.9z" fill="#7a9720"/>
<path d="M207.1 372l-4.4 4.2 6 6 4.4-4.1z" fill="#849822"/>
<path d="M198 370.5l-4.4 4.4 6 5.7 4.4-4.3z" fill="#8c9923"/>
<path d="M188.9 369.5l-4.5 4.6 6 5.3 4.4-4.6z" fill="#929924"/>
<path d="M179.7 369l-4.5 4.9 6.1 5 4.5-4.8z" fill="#949925"/>
<path d="M170.5 369.1l-4.5 5.1 6.1 4.6 4.5-5z" fill="#959825"/>
<path d="M161.2 369.8l-4.6 5.3 6.1 4.2 4.5-5.3z" fill="#949925"/>
<path d="M151.9 371l-4.6 5.6 6.1 3.9 4.6-5.5z" fill="#939924"/>
<path d="M239.4 386.3l-4.2 3.5 5.9 7.4 4.2-3.4z" fill="#55921a"/>
<path d="M230.5 382.8l-4.3 3.7 6 7 4.2-3.6z" fill="#5e931b"/>
<path d="M221.5 379.8l-4.3 3.9 6 6.7 4.3-3.9z" fill="#68951d"/>
<path d="M212.5 377.4l-4.4 4.1 6 6.3 4.3-4.1z" fill="#74961f"/>
<path d="M203.4 375.5l-4.4 4.4 6 6 4.4-4.3z" fill="#7d9720"/>
<path d="M194.3 374.2l-4.4 4.6 6.1 5.6 4.4-4.5z" fill="#849822"/>
<path d="M185.1 373.4l-4.5 4.8 6.1 5.3 4.5-4.8z" fill="#899822"/>
<path d="M175.8 373.2l-4.5 5 6.1 4.9 4.5-5z" fill="#8c9923"/>
<path d="M166.6 373.5l-4.5 5.3 6.1 4.6 4.5-5.2z" fill="#8c9923"/>
<path d="M157.2 374.4l-4.6 5.5 6.1 4.2 4.6-5.5z" fill="#8b9923"/>
<path d="M235.9 389.2l-4.2 3.6 6 7.3 4.2-3.6z" fill="#52911a"/>
<path d="M226.9 385.9l-4.3 3.9 6 7 4.3-3.8z" fill="#5b931b"/>
<path d="M217.9 383.1l-4.3 4.1 6 6.6 4.3-4.1z" fill="#63941c"/>
<path d="M208.8 380.9l-4.4 4.3 6 6.3 4.4-4.3z" fill="#6d951d"/>
<path d="M199.7 379.3l-4.4 4.5 6.1 5.9 4.4-4.5z" fill="#75961f"/>
<path d="M190.5 378.1l-4.5 4.8 6.1 5.6 4.4-4.7z" fill="#7b9720"/>
<path d="M181.2 377.6l-4.5 5 6.1 5.2 4.5-5z" fill="#7f9721"/>
<path d="M171.9 377.6l-4.5 5.2 6.1 4.9 4.5-5.2z" fill="#819821"/>
<path d="M162.6 378.1l-4.6 5.5 6.1 4.5 4.6-5.4z" fill="#829821"/>
<path d="M232.3 392.2l-4.3 3.8 6 7.3 4.2-3.8z" fill="#4f911a"/>
<path d="M223.3 389.1l-4.3 4.1 6 7 4.3-4z" fill="#57921a"/>
<path d="M214.2 386.6l-4.4 4.3 6 6.6 4.3-4.2z" fill="#5f931b"/>
<path d="M205.1 384.6l-4.4 4.5 6.1 6.3 4.4-4.5z" fill="#65941c"/>
<path d="M195.9 383.2l-4.4 4.7 6.1 5.9 4.4-4.7z" fill="#6d951d"/>
<path d="M186.6 382.2l-4.5 5 6.1 5.6 4.5-4.9z" fill="#72961e"/>
<path d="M177.3 381.9l-4.5 5.2 6.1 5.2 4.5-5.2z" fill="#76961f"/>
<path d="M168 382.1l-4.6 5.4 6.1 4.8 4.5-5.4z" fill="#77961f"/>
<path d="M228.7 395.4l-4.3 4 6 7.3 4.3-4z" fill="#4c9019"/>
<path d="M219.6 392.6l-4.3 4.2 6 6.9 4.3-4.2z" fill="#54921a"/>
<path d="M210.5 390.2l-4.4 4.5 6.1 6.6 4.4-4.4z" fill="#5a931b"/>
<path d="M201.3 388.5l-4.4 4.7 6.1 6.2 4.4-4.7z" fill="#60941b"/>
<path d="M192 387.2l-4.5 4.9 6.1 5.9 4.5-4.9z" fill="#64941c"/>
<path d="M182.7 386.5l-4.5 5.2 6.1 5.5 4.5-5.1z" fill="#69951d"/>
<path d="M173.4 386.4l-4.5 5.4 6.1 5.2 4.5-5.3z" fill="#6b951d"/>
<path d="M225.1 398.8l-4.3 4.2 6 7.2 4.3-4.2z" fill="#489019"/>
<path d="M215.9 396.2l-4.4 4.4 6.1 6.9 4.3-4.4z" fill="#4f911a"/>
<path d="M206.7 394.1l-4.4 4.7 6.1 6.5 4.4-4.6z" fill="#55921a"/>
<path d="M197.5 392.5l-4.5 4.9 6.1 6.2 4.4-4.9z" fill="#5a931b"/>
<path d="M188.1 391.5l-4.5 5.1 6.1 5.8 4.5-5.1z" fill="#5e931b"/>
<path d="M178.8 391l-4.5 5.4 6.1 5.5 4.5-5.3z" fill="#60941b"/>
<path d="M221.4 402.4l-4.4 4.4 6.1 7.2 4.3-4.4z" fill="#448f18"/>
<path d="M212.2 400l-4.4 4.6 6.1 6.8 4.4-4.6z" fill="#4b9019"/>
<path d="M202.9 398.1l-4.4 4.9 6.1 6.5 4.4-4.8z" fill="#50911a"/>
<path d="M193.6 396.7l-4.5 5.1 6.1 6.1 4.5-5z" fill="#55921a"/>
<path d="M184.2 395.9l-4.5 5.3 6.1 5.8 4.5-5.3z" fill="#58921a"/>
<path d="M217.6 406.2l-4.4 4.6 6.1 7.2 4.4-4.6z" fill="#408e18"/>
<path d="M208.4 403.9l-4.4 4.8 6.1 6.8 4.4-4.8z" fill="#468f19"/>
<path d="M199.1 402.3l-4.5 5 6.1 6.5 4.4-5z" fill="#4b9019"/>
<path d="M189.7 401.1l-4.5 5.3 6.1 6.1 4.5-5.2z" fill="#4f911a"/>
<path d="M213.9 410.1l-4.4 4.8 6.1 7.1 4.4-4.8z" fill="#3e8d17"/>
<path d="M204.6 408.1l-4.4 5 6.1 6.8 4.4-5z" fill="#418e18"/>
<path d="M195.2 406.6l-4.5 5.2 6.1 6.4 4.5-5.2z" fill="#458f19"/>
<path d="M210.1 414.2l-4.4 5 6.1 7.1 4.4-4.9z" fill="#3c8b16"/>
<path d="M200.7 412.4l-4.5 5.2 6.2 6.7 4.5-5.2z" fill="#3e8d17"/>
<path d="M206.3 418.5l-4.5 5.2 6.2 7.1 4.4-5.1z" fill="#398a16"/>
</g>
<clipPath id="clc"><path d="M56 363.1l2-3.3 2-2.6 2-2.5 2-3.1 2-2.5 2-2.4 2-3 2-2.3 2-2.3 2-2.8 2-2.2 2-2.7 2-2.1 2-2.1 2-2.6 2-2 2-2.5 2-1.9 2-2.4 2-1.9 2-2.3 2-2.2 2-1.7 2-2.1 2-1.7 2-2 2-2 2-1.5 2-1.9 2-1.8 2-1.4 2-1.7 2-1.7 2-1.6 2-1.6 2-1.2 2-1.5 2-1.4 2-1.4 2-1.3 2-1.3 2-1.2 2-1.2 2-1.1 2-1.1 2-1 2-1 2-1 2-.9 2-.9 2-.8 2-.9 2-.7 2-.7 2-.3 2-.1 2-.1 2-0 2 0 2 .1 2 .1 2 .1 2 .2 2 .3 2 .3 2 .4 2 .3 2 .5 2 .5 2 .6 2 .5 2 .7 2 .7 2 .8 2 .6 2 .9 2 .9 2 1 2 .8 2 1.1 2 1.1 2 .9 2 1.2 2 1.3 2 1 2 1.4 2 1.4 2 1.1 2 1.5 2 1.2 2 1.6 2 1.7 2 1.3 2 1.8 2 1.4 2 1.9 2 1.9 2 1.5 2 2 2 1.6 2 2.1 2 2.2 2 1.7 2 2.3 2 1.8 2 2.4 2 2.4 2 1.9 2 2.5 2 1.9 2 2.6 2 2 2 2.7 2 2.8 2 2.1 2 2.9 2 2.2 2 3 2 2.3 2 3.1 2 3.1 2 2.4 2 3.2 2 2.5 2 3.3-1 2.5-2-.1-2 .1-2 .1-2 .2-2 .3-2 .3-2 .4-2 .5-2 .4-2 .6-2 .6-2 .6-2 .8-2 .8-2 .8-2 1-2 .9-2 1.1-2 1-2 1-2 1.1-2 1.4-2 1.2-2 1.3-2 1.3-2 1.4-2 1.4-2 1.5-2 1.5-2 1.6-2 1.6-2 1.7-2 1.8-2 1.8-2 1.9-2 1.9-2 1.6-2 2-2 2.1-2 1.7-2 2.2-2 2.3-2 1.9-2 2.4-2 1.9-2 2.5-2 2-2 2.6-2-.2-2-2.2-2-2.2-2-2.2-2-2.1-2-2.1-2-2.1-2-2.7-2-2-2-1.9-2-1.9-2-1.9-2-1.8-2-1.8-2-2.3-2-1.7-2-1.7-2-1.6-2-1.6-2-1.6-2-2-2-1.5-2-1.4-2-1.4-2-1.4-2-1.8-2-1.3-2-1.2-2-1.2-2-1.6-2-1.1-2-1.1-2-1.1-2-1.4-2-1-2-.9-2-1.2-2-.9-2-.8-2-1-2-.7-2-.7-2-.9-2-.6-2-.6-2-.7-2-.5-2-.6-2-.4-2-.4-2-.5-2-.3-2-.4-2-.2-2-.3-2-.2-2-.2-2-.1-2-.1-2-0-2 .1-2 .1-2 .1-2 .2-2 .3-2 .2-2 .4-2 .4-2 .5-2 .4-2 .6-2 .6-2 .7-2 .7-2 .6-2 .8z"/></clipPath><g clip-path="url(#clc)">
<path d="M56 367.9l2-3.3 2-2.6 2-2.5 2-3.1 2-2.5 2-2.4 2-3 2-2.3 2-2.3 2-2.8 2-2.2 2-2.7 2-2.1 2-2.1 2-2.6 2-2 2-2.5 2-1.9 2-2.4 2-1.9 2-2.3 2-2.2 2-1.7 2-2.1 2-1.7 2-2 2-2 2-1.5 2-1.9 2-1.8 2-1.4 2-1.7 2-1.7 2-1.6 2-1.6 2-1.2 2-1.5 2-1.4 2-1.4 2-1.3 2-1.3 2-1.2 2-1.2 2-1.1 2-1.1 2-1 2-1 2-1 2-.9 2-.9 2-.8 2-.9 2-.7 2-.7 2-.3 2-.1 2-.1 2-0 2 0 2 .1 2 .1 2 .1 2 .2 2 .3 2 .3 2 .4 2 .3 2 .5 2 .5 2 .6 2 .5 2 .7 2 .7 2 .8 2 .6 2 .9 2 .9 2 1 2 .8 2 1.1 2 1.1 2 .9 2 1.2 2 1.3 2 1 2 1.4 2 1.4 2 1.1 2 1.5 2 1.2 2 1.6 2 1.7 2 1.3 2 1.8 2 1.4 2 1.9 2 1.9 2 1.5 2 2 2 1.6 2 2.1 2 2.2 2 1.7 2 2.3 2 1.8 2 2.4 2 2.4 2 1.9 2 2.5 2 1.9 2 2.6 2 2 2 2.7 2 2.8 2 2.1 2 2.9 2 2.2 2 3 2 2.3 2 3.1 2 3.1 2 2.4 2 3.2 2 2.5 2 3.3" fill="none" stroke="#0a0602" stroke-opacity="0.22" stroke-width="5" stroke-linejoin="round"/>
<path d="M56 366.3l2-3.3 2-2.6 2-2.5 2-3.1 2-2.5 2-2.4 2-3 2-2.3 2-2.3 2-2.8 2-2.2 2-2.7 2-2.1 2-2.1 2-2.6 2-2 2-2.5 2-1.9 2-2.4 2-1.9 2-2.3 2-2.2 2-1.7 2-2.1 2-1.7 2-2 2-2 2-1.5 2-1.9 2-1.8 2-1.4 2-1.7 2-1.7 2-1.6 2-1.6 2-1.2 2-1.5 2-1.4 2-1.4 2-1.3 2-1.3 2-1.2 2-1.2 2-1.1 2-1.1 2-1 2-1 2-1 2-.9 2-.9 2-.8 2-.9 2-.7 2-.7 2-.3 2-.1 2-.1 2-0 2 0 2 .1 2 .1 2 .1 2 .2 2 .3 2 .3 2 .4 2 .3 2 .5 2 .5 2 .6 2 .5 2 .7 2 .7 2 .8 2 .6 2 .9 2 .9 2 1 2 .8 2 1.1 2 1.1 2 .9 2 1.2 2 1.3 2 1 2 1.4 2 1.4 2 1.1 2 1.5 2 1.2 2 1.6 2 1.7 2 1.3 2 1.8 2 1.4 2 1.9 2 1.9 2 1.5 2 2 2 1.6 2 2.1 2 2.2 2 1.7 2 2.3 2 1.8 2 2.4 2 2.4 2 1.9 2 2.5 2 1.9 2 2.6 2 2 2 2.7 2 2.8 2 2.1 2 2.9 2 2.2 2 3 2 2.3 2 3.1 2 3.1 2 2.4 2 3.2 2 2.5 2 3.3" fill="none" stroke="#0a0602" stroke-opacity="0.35" stroke-width="3.2" stroke-linejoin="round"/>
<path d="M56 365l2-3.3 2-2.6 2-2.5 2-3.1 2-2.5 2-2.4 2-3 2-2.3 2-2.3 2-2.8 2-2.2 2-2.7 2-2.1 2-2.1 2-2.6 2-2 2-2.5 2-1.9 2-2.4 2-1.9 2-2.3 2-2.2 2-1.7 2-2.1 2-1.7 2-2 2-2 2-1.5 2-1.9 2-1.8 2-1.4 2-1.7 2-1.7 2-1.6 2-1.6 2-1.2 2-1.5 2-1.4 2-1.4 2-1.3 2-1.3 2-1.2 2-1.2 2-1.1 2-1.1 2-1 2-1 2-1 2-.9 2-.9 2-.8 2-.9 2-.7 2-.7 2-.3 2-.1 2-.1 2-0 2 0 2 .1 2 .1 2 .1 2 .2 2 .3 2 .3 2 .4 2 .3 2 .5 2 .5 2 .6 2 .5 2 .7 2 .7 2 .8 2 .6 2 .9 2 .9 2 1 2 .8 2 1.1 2 1.1 2 .9 2 1.2 2 1.3 2 1 2 1.4 2 1.4 2 1.1 2 1.5 2 1.2 2 1.6 2 1.7 2 1.3 2 1.8 2 1.4 2 1.9 2 1.9 2 1.5 2 2 2 1.6 2 2.1 2 2.2 2 1.7 2 2.3 2 1.8 2 2.4 2 2.4 2 1.9 2 2.5 2 1.9 2 2.6 2 2 2 2.7 2 2.8 2 2.1 2 2.9 2 2.2 2 3 2 2.3 2 3.1 2 3.1 2 2.4 2 3.2 2 2.5 2 3.3" fill="none" stroke="#0a0602" stroke-opacity="0.7" stroke-width="2.6" stroke-linejoin="round"/>
</g>
<circle cx="57" cy="400" r="1" fill="#222"/>
<text x="52.4" y="399.4" class="t" text-anchor="end" textLength="17.8" lengthAdjust="spacingAndGlyphs">3000</text>
<circle cx="55.7" cy="375.7" r="1" fill="#222"/>
<text x="51.1" y="375.1" class="t" text-anchor="end" textLength="17.8" lengthAdjust="spacingAndGlyphs">4000</text>
<circle cx="54.4" cy="351.4" r="1" fill="#222"/>
<text x="49.8" y="350.8" class="t" text-anchor="end" textLength="17.8" lengthAdjust="spacingAndGlyphs">5000</text>
<circle cx="53.1" cy="327.1" r="1" fill="#222"/>
<text x="48.5" y="326.5" class="t" text-anchor="end" textLength="17.8" lengthAdjust="spacingAndGlyphs">6000</text>
<circle cx="51.8" cy="302.8" r="1" fill="#222"/>
<text x="47.2" y="302.2" class="t" text-anchor="end" textLength="17.8" lengthAdjust="spacingAndGlyphs">7000</text>
<circle cx="50.4" cy="277.6" r="1" fill="#222"/>
<text x="45.8" y="277" class="t" text-anchor="end" textLength="17.8" lengthAdjust="spacingAndGlyphs">8000</text>
<line x1="539" y1="390.3" x2="539" y2="249.9" stroke="#6e6e6e" stroke-width="0.9"/>
<line x1="507.1" y1="367.5" x2="505.2" y2="257.3" stroke="#6e6e6e" stroke-width="0.9"/>
<line x1="475.1" y1="377.6" x2="471.4" y2="264.6" stroke="#6e6e6e" stroke-width="0.9"/>
<line x1="443.2" y1="387.7" x2="437.6" y2="272" stroke="#6e6e6e" stroke-width="0.9"/>
<line x1="413.5" y1="434" x2="403.8" y2="279.4" stroke="#6e6e6e" stroke-width="0.9"/>
<line x1="556.7" y1="363.4" x2="557.8" y2="254.3" stroke="#6e6e6e" stroke-width="0.9"/>
<line x1="574.4" y1="369.4" x2="576.6" y2="258.8" stroke="#6e6e6e" stroke-width="0.9"/>
<line x1="592.1" y1="375.4" x2="595.4" y2="263.2" stroke="#6e6e6e" stroke-width="0.9"/>
<line x1="609.8" y1="381.4" x2="614.1" y2="267.7" stroke="#6e6e6e" stroke-width="0.9"/>
<line x1="627.5" y1="387.5" x2="632.9" y2="272.1" stroke="#6e6e6e" stroke-width="0.9"/>
<line x1="645.2" y1="393.5" x2="651.7" y2="276.6" stroke="#6e6e6e" stroke-width="0.9"/>
<line x1="660.5" y1="435.7" x2="670.5" y2="281" stroke="#6e6e6e" stroke-width="0.9"/>
<line x1="411.2" y1="397.8" x2="539" y2="357.4" stroke="#6e6e6e" stroke-width="0.9"/>
<line x1="539" y1="357.4" x2="662.8" y2="399.5" stroke="#6e6e6e" stroke-width="0.9"/>
<line x1="409.7" y1="374.2" x2="539" y2="336" stroke="#6e6e6e" stroke-width="0.9"/>
<line x1="539" y1="336" x2="664.4" y2="375.8" stroke="#6e6e6e" stroke-width="0.9"/>
<line x1="408.3" y1="350.5" x2="539" y2="314.5" stroke="#6e6e6e" stroke-width="0.9"/>
<line x1="539" y1="314.5" x2="665.9" y2="352.2" stroke="#6e6e6e" stroke-width="0.9"/>
<line x1="406.8" y1="326.9" x2="539" y2="293.1" stroke="#6e6e6e" stroke-width="0.9"/>
<line x1="539" y1="293.1" x2="667.4" y2="328.6" stroke="#6e6e6e" stroke-width="0.9"/>
<line x1="405.3" y1="303.3" x2="539" y2="271.6" stroke="#6e6e6e" stroke-width="0.9"/>
<line x1="539" y1="271.6" x2="669" y2="304.9" stroke="#6e6e6e" stroke-width="0.9"/>
<line x1="403.8" y1="279.4" x2="539" y2="249.9" stroke="#6e6e6e" stroke-width="0.9"/>
<line x1="539" y1="249.9" x2="670.5" y2="281" stroke="#6e6e6e" stroke-width="0.9"/>
<path d="M539 390.3 L413.5 434 L533.9 493.5 L660.5 435.7 Z" fill="#ffff00" stroke="#3c3c1e" stroke-width="1"/>
<path d="M651.2 440.3l-.2-1.3-.3-1.3-.4-1.3-.5-1.2-.5-1.2-.6-1.2-.8-1.5M506.7 479.9l3.2 .3 2.9 .3 3 .2 3.3 .2 4 .3 3.9 .2 3.8 .2 3.7 .1 3.6 .1 3.4 .1 3.5 0 3.6-0 3.4-0 3.3-.1 3.2-.1 1.3-0" fill="none" stroke="#f6e400" stroke-width="0.8" stroke-linecap="round"/>
<path d="M631.2 449.3l.7-1.2 .6-1 .7-1.6 .5-1.7 .2-1.1 .2-1.2 .1-1.2-0-1.2-.1-1.3-.2-1.3-.3-1.3-.4-1.4-.5-1.4-.7-1.4-.8-1.5-.7-1.1-.7-1-.7-1-1.3-1.6-1.1-1.3-.4-.5M486.9 470.2l3.6 .5 2.6 .4 3.2 .4 4.5 .5 3.1 .3 2.8 .3 2.8 .3 3.9 .3 4 .3 3.9 .2 3.3 .2 3.2 .1 3.2 .1 3.3 .1 3.4 .1 3.5 0 3.5-0 3.6-.1 3.7-.1 3.4-.1 3-.2 2.9-.2 2.9-.2 4.1-.4 4.2-.4 2.6-.3 2.6-.3 5-.8 .2-0" fill="none" stroke="#eecc00" stroke-width="1.0" stroke-linecap="round"/>
<path d="M535.9 391l1.8 .4 3.5 .8 2.1 .5 3.1 .7 3.4 .9 1.6 .4M458.6 456.3l3.9 1 2.7 .6 3.6 .8 2.4 .5 4.2 .9 2.3 .4 4.4 .8 2.7 .5 2.4 .4 4.6 .7 2.9 .4 2.6 .3 3.5 .4 4.2 .4 3.1 .3 2.8 .2 2.9 .2 3 .2 3.7 .2 3.6 .2 3.5 .1 3.4 .1 3.3 0 3.3-0 3.2-.1 3.1-.1 3-.1 3.8-.2 4.1-.3 3.5-.3 2.7-.3 2.8-.3 4.8-.7 2.4-.4 3.5-.6 3.3-.7 3.3-.8 2.9-.8 3.9-1.1 3.4-1.1 2-.7 3.3-1.4 3-1.4 1.6-.9 2.5-1.5 2.4-1.7 1.4-1.1 1.7-1.6 1-1.1 1.4-1.8 .7-1 .7-1.3 .7-1.7 .4-1.3 .2-1.1 .1-1.2 0-1.2-.1-1.2-.2-1.3-.3-1.3-.4-1.4-.6-1.4-.8-1.5-.6-1.1-.7-1-.8-1.1-1.4-1.7-1-1.1-.9-.9-1.8-1.7-1-.9-1.4-1.2-1.7-1.3-1.3-1-2-1.3-1.9-1.3-1.5-.9-2.4-1.4-1.5-.8" fill="none" stroke="#e4b000" stroke-width="1.1" stroke-linecap="round"/>
<path d="M523.5 395.4l3.7 .7 1.8 .4 3.6 .8 1.8 .4 3.5 .8 3.4 .9 1.7 .5 3.3 .9 3.2 1 3.1 1 3 1.1 1.5 .5 2.9 1.1 2 .8 2.3 1 2.7 1.2 2.6 1.3 2.6 1.3 1.7 .9 1.9 1.1 2.3 1.5 1.1 .8 2.1 1.6 1 .8 1.9 1.7 .9 .9 1.3 1.3 1.2 1.4 .7 1 .8 1.1 .9 1.5 .7 1.5 .4 1.1 .3 1.2 .2 1.2 .1 1.3-.1 1.4-.3 1.4-.4 1.1-.5 1.1-.6 1.2-1.3 1.8-.8 .9-1.8 1.6-1.3 1-2.4 1.6-2.7 1.5-1.5 .7-3.2 1.3-1.7 .6-3.6 1.2-3.9 1.1-2.2 .5-4.2 .9-2.3 .4-4.8 .7-2.5 .3-2.6 .3-4 .4-4 .3-3.2 .2-3 .1-3.1 .1-3.2 0-3.3-0-3.4-.1-3.5-.1-3.7-.2-2.9-.2-2.8-.2-2.7-.2-3.5-.4-4.3-.5-2.5-.3-2.5-.3-4.4-.7-2.7-.5-2.5-.4-4.2-.8-2.1-.5-4.2-.9-2-.5-3.9-1-2.2-.6-3.5-1-3.6-1.1-1.7-.6-3.4-1.2-3.3-1.2-3.1-1.2-3-1.3-2.9-1.3-2.7-1.3-2.6-1.4-2.5-1.4-2.3-1.4-2.2-1.5-1-.8-1-.8" fill="none" stroke="#d8900a" stroke-width="1.2" stroke-linecap="round"/>
<path d="M505.4 401.8l3.9 .5 2.4 .4 2.2 .4 3.7 .7 1.9 .4 3.7 .8 2.7 .7 2.5 .7 3.3 1 3.2 1 3 1 1.6 .6 2.9 1.2 1.4 .6 2.7 1.3 2.5 1.3 2.4 1.4 1.1 .7 2.1 1.5 1.2 .9 1.7 1.5 .8 .9 1.2 1.5 .9 1.4 .5 1 .4 1.1 .3 1.1 .1 1.2-.1 1.3-.4 1.4-.8 1.6-.7 1-1 1.1-1.9 1.5-2.5 1.5-1.4 .7-3.2 1.3-1.7 .6-3.8 1.1-4.2 .9-2.2 .4-3.2 .4-4.2 .5-2.7 .2-2.8 .2-2.9 .1-3.1 0-3.2-0-3.4-.1-3.6-.2-3.8-.3-3.1-.3-2.5-.3-2.7-.3-4.5-.7-2.2-.4-3.1-.6-3.3-.7-2.6-.6-3.3-.8-3.7-1-1.8-.5-3.4-1.1-3.2-1.2-3-1.2-2.9-1.3-2.7-1.3-2.5-1.4-2.3-1.4-2-1.4-1.1-.9-1.8-1.6-.8-.8-.7-.8" fill="none" stroke="#c86a14" stroke-width="1.3" stroke-linecap="round"/>
<circle cx="413.5" cy="434" r="1.1" fill="#1a1a1a"/>
<circle cx="430.7" cy="442.5" r="1.1" fill="#1a1a1a"/>
<circle cx="447.9" cy="451" r="1.1" fill="#1a1a1a"/>
<circle cx="465.1" cy="459.5" r="1.1" fill="#1a1a1a"/>
<circle cx="482.3" cy="468" r="1.1" fill="#1a1a1a"/>
<circle cx="499.5" cy="476.5" r="1.1" fill="#1a1a1a"/>
<circle cx="516.7" cy="485" r="1.1" fill="#1a1a1a"/>
<circle cx="533.9" cy="493.5" r="1.1" fill="#1a1a1a"/>
<circle cx="660.5" cy="435.7" r="1.1" fill="#1a1a1a"/>
<circle cx="628.9" cy="450.1" r="1.1" fill="#1a1a1a"/>
<circle cx="597.2" cy="464.6" r="1.1" fill="#1a1a1a"/>
<circle cx="565.5" cy="479.1" r="1.1" fill="#1a1a1a"/>
<g shape-rendering="crispEdges">
<path d="M538.9 308.2l-5-3.4 5.2 0 5 3.4z" fill="#544414"/>
<path d="M542.7 308.3l-5-3.4 5.2 .2 5 3.4z" fill="#493a12"/>
<path d="M535 305.6l-5.1-3.2 5.2 0 5.1 3.2z" fill="#42300f"/>
<path d="M546.5 308.5l-5-3.4 5.3 .4 5 3.4z" fill="#3d2f0e"/>
<path d="M538.8 305.7l-5.1-3.2 5.2 .2 5.1 3.2z" fill="#35250c"/>
<path d="M531.1 303.3l-5.2-2.9 5.2 0 5.2 2.9z" fill="#2c1d0a"/>
<path d="M550.3 308.8l-5-3.4 5.3 .5 5 3.4z" fill="#2e230b"/>
<path d="M542.6 305.9l-5.1-3.2 5.3 .3 5.1 3.2z" fill="#251908"/>
<path d="M534.9 303.4l-5.2-3 5.2 .2 5.1 2.9z" fill="#1b1106"/>
<path d="M527.1 301.1l-5.2-2.7 5.2-0 5.2 2.7z" fill="#100903"/>
<path d="M554.1 309.3l-5-3.5 5.3 .7 5 3.4z" fill="#1e1607"/>
<path d="M546.4 306.3l-5.1-3.2 5.3 .5 5.1 3.2z" fill="#130d04"/>
<path d="M538.7 303.6l-5.1-3 5.3 .3 5.1 2.9z" fill="#0f0903"/>
<path d="M530.9 301.2l-5.2-2.7 5.2 .2 5.2 2.7z" fill="#0f0803"/>
<path d="M523.1 299.2l-5.3-2.4 5.2-0 5.3 2.4z" fill="#0f0703"/>
<path d="M558 309.9l-5-3.5 5.4 .8 4.9 3.4z" fill="#0f0b04"/>
<path d="M550.3 306.8l-5-3.2 5.3 .7 5 3.2z" fill="#0f0a03"/>
<path d="M542.5 304l-5.1-3 5.3 .5 5.1 2.9z" fill="#0f0903"/>
<path d="M534.7 301.5l-5.2-2.7 5.3 .3 5.2 2.7z" fill="#0f0703"/>
<path d="M526.9 299.3l-5.3-2.4 5.2 .1 5.3 2.4z" fill="#0f0603"/>
<path d="M519.1 297.5l-5.3-2.2 5.2-0 5.3 2.2z" fill="#0f0603"/>
<path d="M562 310.7l-4.9-3.5 5.4 1 4.9 3.4z" fill="#0f0b04"/>
<path d="M554.2 307.4l-5-3.2 5.4 .8 5 3.2z" fill="#0f0a03"/>
<path d="M546.4 304.4l-5.1-3 5.3 .6 5.1 3z" fill="#0f0803"/>
<path d="M538.5 301.8l-5.2-2.7 5.3 .5 5.2 2.7z" fill="#0f0703"/>
<path d="M530.7 299.6l-5.3-2.5 5.3 .3 5.3 2.4z" fill="#0f0603"/>
<path d="M522.8 297.6l-5.3-2.2 5.2 .1 5.3 2.2z" fill="#0f0502"/>
<path d="M515 296l-5.4-1.9 5.2-.1 5.4 1.9z" fill="#0f0502"/>
<path d="M565.9 311.5l-4.9-3.5 5.4 1.2 4.9 3.4z" fill="#0f0b03"/>
<path d="M558.1 308.1l-5-3.2 5.4 1 5 3.2z" fill="#0f0a03"/>
<path d="M550.3 305.1l-5.1-3 5.4 .8 5.1 3z" fill="#0f0803"/>
<path d="M542.4 302.3l-5.2-2.7 5.3 .6 5.2 2.7z" fill="#0f0703"/>
<path d="M534.5 299.9l-5.2-2.5 5.3 .5 5.2 2.4z" fill="#0f0603"/>
<path d="M526.7 297.9l-5.3-2.2 5.3 .3 5.3 2.2z" fill="#0f0502"/>
<path d="M518.8 296.2l-5.4-1.9 5.2 .1 5.4 1.9z" fill="#0f0502"/>
<path d="M510.9 294.8l-5.5-1.7 5.2-.1 5.5 1.6z" fill="#0f0502"/>
<path d="M569.9 312.6l-4.9-3.5 5.4 1.3 4.9 3.4z" fill="#0f0b03"/>
<path d="M562.1 309l-5-3.2 5.4 1.1 5 3.2z" fill="#0f0903"/>
<path d="M554.2 305.8l-5.1-3 5.4 1 5.1 3z" fill="#0f0803"/>
<path d="M546.3 303l-5.1-2.7 5.4 .8 5.1 2.7z" fill="#0f0703"/>
<path d="M538.4 300.5l-5.2-2.5 5.3 .6 5.2 2.4z" fill="#0f0602"/>
<path d="M530.5 298.3l-5.3-2.2 5.3 .4 5.3 2.2z" fill="#0f0502"/>
<path d="M522.6 296.4l-5.4-1.9 5.3 .3 5.4 1.9z" fill="#0f0502"/>
<path d="M514.6 294.9l-5.4-1.7 5.2 .1 5.4 1.6z" fill="#0f0402"/>
<path d="M506.7 293.8l-5.5-1.4 5.2-.1 5.5 1.4z" fill="#0f0402"/>
<path d="M573.9 313.7l-4.9-3.5 5.5 1.5 4.9 3.4z" fill="#0f0b03"/>
<path d="M566 310.1l-5-3.2 5.4 1.3 5 3.2z" fill="#0f0903"/>
<path d="M558.2 306.8l-5-3 5.4 1.1 5 3z" fill="#0f0803"/>
<path d="M550.2 303.8l-5.1-2.7 5.4 1 5.1 2.7z" fill="#0f0703"/>
<path d="M542.3 301.1l-5.2-2.5 5.4 .8 5.2 2.4z" fill="#0f0502"/>
<path d="M534.4 298.8l-5.3-2.2 5.3 .6 5.3 2.2z" fill="#0f0502"/>
<path d="M526.4 296.8l-5.4-1.9 5.3 .4 5.4 1.9z" fill="#0f0502"/>
<path d="M518.4 295.2l-5.4-1.7 5.3 .2 5.4 1.6z" fill="#0f0402"/>
<path d="M510.5 293.9l-5.5-1.4 5.2 .1 5.5 1.4z" fill="#0f0402"/>
<path d="M502.5 293l-5.6-1.1 5.2-.1 5.6 1.1z" fill="#0f0402"/>
<path d="M577.9 315l-4.9-3.5 5.5 1.7 4.8 3.4z" fill="#0f0b04"/>
<path d="M570.1 311.2l-4.9-3.2 5.5 1.5 4.9 3.2z" fill="#0f0903"/>
<path d="M562.1 307.8l-5-3 5.5 1.3 5 2.9z" fill="#0f0803"/>
<path d="M554.2 304.7l-5.1-2.7 5.4 1.1 5.1 2.7z" fill="#0f0703"/>
<path d="M546.3 301.9l-5.2-2.5 5.4 .9 5.2 2.4z" fill="#0f0502"/>
<path d="M538.3 299.5l-5.3-2.2 5.4 .8 5.3 2.2z" fill="#0f0502"/>
<path d="M530.3 297.4l-5.4-1.9 5.3 .6 5.4 1.9z" fill="#0f0402"/>
<path d="M522.3 295.6l-5.4-1.7 5.3 .4 5.4 1.6z" fill="#0f0402"/>
<path d="M514.3 294.2l-5.5-1.4 5.3 .2 5.5 1.4z" fill="#0f0402"/>
<path d="M506.2 293.2l-5.6-1.1 5.2 0 5.6 1.1z" fill="#0f0402"/>
<path d="M498.2 292.4l-5.6-.8 5.2-.1 5.6 .8z" fill="#0f0402"/>
<path d="M582 316.5l-4.8-3.4 5.5 1.8 4.8 3.4z" fill="#0f0b04"/>
<path d="M574.1 312.6l-4.9-3.2 5.5 1.6 4.9 3.2z" fill="#0f0a03"/>
<path d="M566.2 309l-5-3 5.5 1.5 5 2.9z" fill="#0f0803"/>
<path d="M558.2 305.8l-5.1-2.7 5.5 1.3 5.1 2.7z" fill="#0f0703"/>
<path d="M550.2 302.9l-5.2-2.5 5.4 1.1 5.2 2.4z" fill="#0f0502"/>
<path d="M542.2 300.3l-5.3-2.2 5.4 .9 5.3 2.2z" fill="#0f0502"/>
<path d="M534.2 298.1l-5.3-1.9 5.4 .7 5.3 1.9z" fill="#0f0402"/>
<path d="M526.2 296.2l-5.4-1.7 5.3 .6 5.4 1.6z" fill="#0f0402"/>
<path d="M518.1 294.7l-5.5-1.4 5.3 .4 5.5 1.4z" fill="#0f0402"/>
<path d="M510.2 292.6l-5.7-.2 5.1 1.1 5.7 .2z" fill="#0f0402"/>
<path d="M502.1 291.8l-5.7 .1 5.1 .9 5.7-.1z" fill="#0f0402"/>
<path d="M494 291.3l-5.7 .4 5.1 .7 5.7-.4z" fill="#0f0302"/>
<path d="M586.1 318l-4.8-3.4 5.5 2 4.8 3.4z" fill="#0f0b04"/>
<path d="M578.2 314l-4.9-3.2 5.5 1.8 4.9 3.2z" fill="#0f0a03"/>
<path d="M570.2 310.3l-5-3 5.5 1.6 5 2.9z" fill="#0f0803"/>
<path d="M562.2 307l-5.1-2.7 5.5 1.5 5.1 2.7z" fill="#0f0703"/>
<path d="M554.2 304l-5.2-2.5 5.5 1.3 5.2 2.4z" fill="#0f0502"/>
<path d="M546.2 301.3l-5.2-2.2 5.4 1.1 5.2 2.2z" fill="#0f0502"/>
<path d="M538.1 298.9l-5.3-1.9 5.4 .9 5.3 1.9z" fill="#0f0402"/>
<path d="M530.1 296.9l-4.5-1.5 4.3 1.4 4.7 .6z" fill="#0f0402"/>
<path d="M522.1 294.4l-5.6-.5 5.2 1.4 5.6 .5z" fill="#0f0402"/>
<path d="M514 293.1l-5.7-.2 5.2 1.3 5.7 .2z" fill="#0f0402"/>
<path d="M505.9 292.1l-5.7 .1 5.2 1.1 5.7-.1z" fill="#0f0302"/>
<path d="M497.8 291.5l-5.7 .4 5.1 .9 5.7-.4z" fill="#0f0302"/>
<path d="M489.6 291.2l-5.7 .7 5.1 .7 5.7-.7z" fill="#0f0302"/>
<path d="M590.2 319.8l-4.8-3.4 5.6 2.2 4.8 3.4z" fill="#0f0b04"/>
<path d="M582.3 315.6l-4.9-3.2 5.6 2 4.9 3.2z" fill="#0f0a03"/>
<path d="M574.3 311.8l-5-3 5.5 1.8 5 2.9z" fill="#0f0803"/>
<path d="M566.3 308.3l-5.1-2.7 5.5 1.6 5.1 2.7z" fill="#0f0703"/>
<path d="M558.3 305.2l-5.1-2.5 5.5 1.4 5.1 2.4z" fill="#0f0502"/>
<path d="M550.2 302.4l-5.2-2.2 5.5 1.3 5.2 2.2z" fill="#0f0502"/>
<path d="M542.4 299l-5.6-1.1 5.2 1.9 5.5 1z" fill="#0f0402"/>
<path d="M534.2 296.9l-5.6-.8 5.2 1.8 5.6 .8z" fill="#0f0402"/>
<path d="M526.1 295.1l-5.6-.5 5.2 1.6 5.6 .5z" fill="#0f0402"/>
<path d="M517.9 293.7l-5.7-.2 5.2 1.4 5.7 .2z" fill="#0f0302"/>
<path d="M509.7 292.6l-5.7 .1 5.2 1.2 5.7-.1z" fill="#0f0302"/>
<path d="M501.6 291.9l-5.7 .4 5.2 1.1 5.7-.4z" fill="#0f0302"/>
<path d="M493.4 291.5l-5.7 .7 5.1 .9 5.7-.7z" fill="#0f0302"/>
<path d="M485.3 291.4l-5.7 .9 5.1 .7 5.7-1z" fill="#0f0302"/>
<path d="M594.4 321.7l-4.8-3.4 5.6 2.3 4.8 3.4z" fill="#0f0c04"/>
<path d="M586.4 317.4l-4.9-3.2 5.6 2.1 4.9 3.2z" fill="#0f0a03"/>
<path d="M578.4 313.4l-5-2.9 5.6 2 4.9 2.9z" fill="#0f0803"/>
<path d="M570.4 309.8l-5-2.7 5.6 1.8 5 2.7z" fill="#0f0703"/>
<path d="M562.3 306.6l-5.1-2.4 5.5 1.6 5.1 2.4z" fill="#0f0502"/>
<path d="M554.5 302.8l-5.5-1.3 5.2 2.3 5.5 1.3z" fill="#0f0502"/>
<path d="M546.4 300.2l-5.5-1.1 5.2 2.1 5.5 1z" fill="#0f0402"/>
<path d="M538.2 297.9l-5.6-.8 5.2 1.9 5.6 .7z" fill="#0f0402"/>
<path d="M530 296l-5.6-.5 5.2 1.8 5.6 .5z" fill="#0f0402"/>
<path d="M521.8 294.4l-5.7-.2 5.2 1.6 5.7 .2z" fill="#0f0302"/>
<path d="M513.6 293.2l-5.7 .1 5.2 1.4 5.7-.1z" fill="#0f0302"/>
<path d="M505.4 292.4l-5.7 .4 5.2 1.2 5.7-.4z" fill="#0e0302"/>
<path d="M497.2 291.9l-5.7 .7 5.2 1.1 5.7-.7z" fill="#0e0302"/>
<path d="M489.1 291.7l-5.7 1 5.2 .9 5.7-1z" fill="#0e0302"/>
<path d="M480.9 291.9l-5.8 1.2 5.1 .7 5.8-1.3z" fill="#0e0302"/>
<path d="M598.6 323.7l-4.7-3.4 5.6 2.5 4.7 3.4z" fill="#0f0c04"/>
<path d="M590.6 319.3l-4.8-3.2 5.6 2.3 4.8 3.1z" fill="#0f0a03"/>
<path d="M582.6 315.2l-4.9-2.9 5.6 2.1 4.9 2.9z" fill="#0f0903"/>
<path d="M574.5 311.5l-4.2-2.3 4.4 2.4 4 1.7z" fill="#0f0703"/>
<path d="M566.8 307.2l-5.4-1.6 5.2 2.6 5.4 1.6z" fill="#0f0603"/>
<path d="M558.6 304.2l-5.5-1.3 5.2 2.4 5.5 1.3z" fill="#0f0502"/>
<path d="M550.4 301.4l-5.5-1.1 5.2 2.3 5.5 1z" fill="#0f0402"/>
<path d="M542.2 299l-5.6-.8 5.2 2.1 5.6 .7z" fill="#0f0402"/>
<path d="M534 297l-5.6-.5 5.2 1.9 5.6 .5z" fill="#0f0402"/>
<path d="M525.8 295.3l-5.7-.2 5.2 1.8 5.7 .2z" fill="#0f0302"/>
<path d="M517.6 294l-5.7 .1 5.2 1.6 5.7-.1z" fill="#0f0302"/>
<path d="M509.3 293l-5.7 .4 5.2 1.4 5.7-.4z" fill="#0e0302"/>
<path d="M501.1 292.4l-5.7 .7 5.2 1.2 5.7-.7z" fill="#0e0302"/>
<path d="M492.9 292.1l-5.8 1 5.2 1.1 5.8-1z" fill="#0e0302"/>
<path d="M484.6 292.2l-5.8 1.2 5.2 .9 5.8-1.3z" fill="#0e0302"/>
<path d="M476.4 292.6l-5.8 1.5 5.1 .7 5.8-1.6z" fill="#0e0302"/>
<path d="M602.8 325.9l-4.7-3.4 5.6 2.7 4.7 3.4z" fill="#0f0c04"/>
<path d="M594.8 321.3l-4.8-3.2 5.6 2.5 4.8 3.1z" fill="#0f0b03"/>
<path d="M587.1 316.3l-5.3-2.1 5.2 3.1 5.3 2.1z" fill="#0f0903"/>
<path d="M579 312.5l-5.4-1.9 5.2 2.9 5.4 1.8z" fill="#0f0703"/>
<path d="M570.9 308.9l-5.4-1.6 5.3 2.8 5.4 1.6z" fill="#0f0603"/>
<path d="M562.7 305.7l-5.5-1.3 5.3 2.6 5.5 1.3z" fill="#0f0502"/>
<path d="M554.5 302.9l-5.5-1 5.3 2.4 5.5 1z" fill="#0f0402"/>
<path d="M546.3 300.3l-5.6-.8 5.3 2.3 5.6 .7z" fill="#0f0402"/>
<path d="M538.1 298.2l-5.6-.5 5.3 2.1 5.6 .5z" fill="#0f0402"/>
<path d="M529.8 296.4l-5.7-.2 5.3 1.9 5.7 .2z" fill="#0f0302"/>
<path d="M521.5 294.9l-5.7 .1 5.3 1.7 5.7-.1z" fill="#0f0302"/>
<path d="M513.3 293.8l-5.7 .4 5.3 1.6 5.7-.4z" fill="#0e0302"/>
<path d="M505 293.1l-5.7 .7 5.2 1.4 5.7-.7z" fill="#0e0302"/>
<path d="M496.7 292.7l-5.8 1 5.2 1.2 5.8-1z" fill="#0e0302"/>
<path d="M488.5 292.6l-5.8 1.3 5.2 1 5.8-1.3z" fill="#0e0302"/>
<path d="M480.2 293l-5.8 1.5 5.2 .9 5.8-1.6z" fill="#0e0302"/>
<path d="M472 293.6l-5.8 1.8 5.1 .7 5.8-1.9z" fill="#0e0302"/>
<path d="M607 328.2l-4.7-3.4 5.7 2.8 4.7 3.4z" fill="#0f0d04"/>
<path d="M599.4 322.8l-5.2-2.4 5.2 3.4 5.2 2.3z" fill="#0f0b04"/>
<path d="M591.4 318.4l-5.3-2.1 5.2 3.3 5.3 2.1z" fill="#0f0a03"/>
<path d="M583.2 314.4l-5.4-1.8 5.3 3.1 5.4 1.8z" fill="#0f0803"/>
<path d="M575.1 310.7l-5.4-1.6 5.3 2.9 5.4 1.6z" fill="#0f0603"/>
<path d="M566.9 307.4l-5.5-1.3 5.3 2.8 5.5 1.3z" fill="#0f0502"/>
<path d="M558.6 304.4l-5.5-1 5.3 2.6 5.5 1z" fill="#0f0502"/>
<path d="M550.4 301.8l-5.6-.8 5.3 2.4 5.6 .7z" fill="#0f0402"/>
<path d="M542.1 299.5l-5.6-.5 5.3 2.3 5.6 .4z" fill="#0f0402"/>
<path d="M533.8 297.6l-5.7-.2 5.3 2.1 5.7 .2z" fill="#0f0302"/>
<path d="M525.5 296l-5.7 .1 5.3 1.9 5.7-.1z" fill="#0f0302"/>
<path d="M517.2 294.8l-5.7 .4 5.3 1.7 5.7-.4z" fill="#0e0302"/>
<path d="M508.9 293.9l-5.8 .7 5.3 1.6 5.8-.7z" fill="#0e0302"/>
<path d="M500.6 293.4l-5.8 1 5.2 1.4 5.8-1z" fill="#0e0302"/>
<path d="M492.3 293.2l-5.8 1.3 5.2 1.2 5.8-1.3z" fill="#0e0302"/>
<path d="M484 293.4l-5.8 1.6 5.2 1 5.8-1.6z" fill="#0e0302"/>
<path d="M475.7 294l-5.8 1.8 5.2 .9 5.8-1.9z" fill="#160503"/>
<path d="M467.5 294.9l-5.8 2.1 5.1 .7 5.8-2.2z" fill="#200704"/>
<path d="M611.8 329.9l-5.2-2.6 5.2 3.8 5.1 2.6z" fill="#0f0d04"/>
<path d="M603.7 325.1l-5.2-2.4 5.2 3.6 5.2 2.3z" fill="#0f0c04"/>
<path d="M595.6 320.7l-5.3-2.1 5.3 3.4 5.3 2.1z" fill="#0f0a03"/>
<path d="M587.4 316.5l-5.4-1.8 5.3 3.3 5.4 1.8z" fill="#0f0803"/>
<path d="M579.3 312.7l-5.4-1.6 5.3 3.1 5.4 1.5z" fill="#0f0703"/>
<path d="M571 309.3l-5.5-1.3 5.3 2.9 5.5 1.3z" fill="#0f0502"/>
<path d="M562.8 306.1l-5.5-1 5.3 2.8 5.5 1z" fill="#0f0502"/>
<path d="M554.5 303.4l-5.6-.8 5.3 2.6 5.6 .7z" fill="#0f0402"/>
<path d="M546.2 301l-5.6-.5 5.3 2.4 5.6 .4z" fill="#0f0402"/>
<path d="M537.9 298.9l-5.7-.2 5.3 2.3 5.7 .2z" fill="#0f0302"/>
<path d="M529.6 297.2l-5.7 .1 5.3 2.1 5.7-.1z" fill="#0f0302"/>
<path d="M521.2 295.8l-5.7 .4 5.3 1.9 5.7-.4z" fill="#0e0302"/>
<path d="M512.9 294.9l-5.8 .7 5.3 1.7 5.8-.7z" fill="#0e0302"/>
<path d="M504.5 294.2l-5.8 1 5.3 1.6 5.8-1z" fill="#0e0302"/>
<path d="M496.2 293.9l-5.8 1.3 5.3 1.4 5.8-1.3z" fill="#160503"/>
<path d="M487.9 294l-5.8 1.6 5.2 1.2 5.8-1.6z" fill="#220704"/>
<path d="M479.5 294.5l-5.8 1.9 5.2 1 5.8-1.9z" fill="#2c0905"/>
<path d="M471.2 295.3l-5.8 2.1 5.2 .9 5.8-2.2z" fill="#350b06"/>
<path d="M463 296.4l-5.8 2.4 5.1 .7 5.8-2.5z" fill="#3d0d07"/>
<path d="M616.1 332.6l-5.1-2.6 5.2 3.9 5.1 2.6z" fill="#0f0e04"/>
<path d="M608 327.6l-5.2-2.3 5.3 3.8 5.2 2.3z" fill="#0f0c04"/>
<path d="M599.9 323l-5.3-2.1 5.3 3.6 5.3 2.1z" fill="#0f0a03"/>
<path d="M591.7 318.8l-5.3-1.8 5.3 3.4 5.3 1.8z" fill="#0f0903"/>
<path d="M583.5 314.9l-5.4-1.6 5.3 3.3 5.4 1.5z" fill="#0f0703"/>
<path d="M575.2 311.3l-5.5-1.3 5.3 3.1 5.5 1.3z" fill="#0f0502"/>
<path d="M567 308l-5.5-1 5.3 2.9 5.5 1z" fill="#0f0502"/>
<path d="M558.7 305.1l-5.6-.7 5.3 2.8 5.6 .7z" fill="#0f0402"/>
<path d="M550.3 302.6l-5.6-.5 5.3 2.6 5.6 .4z" fill="#0f0402"/>
<path d="M542 300.4l-5.7-.2 5.3 2.4 5.7 .1z" fill="#0f0402"/>
<path d="M533.6 298.6l-5.7 .1 5.3 2.2 5.7-.1z" fill="#0f0302"/>
<path d="M525.3 297.1l-5.7 .4 5.3 2.1 5.7-.4z" fill="#0e0302"/>
<path d="M516.9 296l-5.8 .7 5.3 1.9 5.8-.7z" fill="#130402"/>
<path d="M508.5 295.2l-5.8 1 5.3 1.7 5.8-1z" fill="#210704"/>
<path d="M500.1 294.8l-5.8 1.3 5.3 1.6 5.8-1.3z" fill="#2c0905"/>
<path d="M491.8 294.8l-5.8 1.6 5.3 1.4 5.8-1.6z" fill="#360b06"/>
<path d="M483.4 295.1l-5.8 1.9 5.2 1.2 5.8-1.9z" fill="#3f0d07"/>
<path d="M475 295.8l-5.8 2.2 5.2 1 5.8-2.2z" fill="#470f08"/>
<path d="M466.7 296.8l-5.8 2.5 5.2 .9 5.8-2.5z" fill="#4e1109"/>
<path d="M458.4 298.2l-5.8 2.7 5.1 .7 5.8-2.8z" fill="#53130a"/>
<path d="M620.4 335.4l-5.1-2.6 5.3 4.1 5.1 2.5z" fill="#0f0e04"/>
<path d="M612.3 330.3l-5.2-2.3 5.3 3.9 5.2 2.3z" fill="#0f0d04"/>
<path d="M604.2 325.6l-5.3-2.1 5.3 3.8 5.3 2z" fill="#0f0b04"/>
<path d="M596 321.2l-5.3-1.8 5.3 3.6 5.3 1.8z" fill="#0f0903"/>
<path d="M587.7 317.1l-5.4-1.5 5.3 3.4 5.4 1.5z" fill="#0f0803"/>
<path d="M579.5 313.4l-5.5-1.3 5.3 3.3 5.5 1.2z" fill="#0f0603"/>
<path d="M571.2 310.1l-5.5-1 5.4 3.1 5.5 1z" fill="#0f0502"/>
<path d="M562.9 307l-5.6-.7 5.4 2.9 5.6 .7z" fill="#0f0402"/>
<path d="M554.5 304.4l-5.6-.4 5.4 2.8 5.6 .4z" fill="#0f0402"/>
<path d="M546.1 302l-5.7-.2 5.4 2.6 5.7 .1z" fill="#0f0402"/>
<path d="M537.7 300.1l-5.7 .1 5.4 2.4 5.7-.2z" fill="#0f0302"/>
<path d="M529.3 298.5l-5.7 .4 5.4 2.2 5.7-.5z" fill="#1b0603"/>
<path d="M520.9 297.2l-5.8 .7 5.3 2.1 5.8-.7z" fill="#290905"/>
<path d="M512.5 296.4l-5.8 1 5.3 1.9 5.8-1z" fill="#350b06"/>
<path d="M504.1 295.8l-5.8 1.3 5.3 1.7 5.8-1.3z" fill="#3f0d07"/>
<path d="M495.7 295.7l-5.8 1.6 5.3 1.6 5.8-1.6z" fill="#470f08"/>
<path d="M487.3 295.9l-5.8 1.9 5.3 1.4 5.8-1.9z" fill="#4f1009"/>
<path d="M478.9 296.4l-5.8 2.2 5.2 1.2 5.8-2.2z" fill="#55120a"/>
<path d="M470.5 297.4l-5.8 2.5 5.2 1.1 5.8-2.5z" fill="#5c140b"/>
<path d="M462.2 298.7l-5.8 2.8 5.2 .9 5.8-2.8z" fill="#61160c"/>
<path d="M453.9 300.3l-5.8 3 5.1 .7 5.8-3.1z" fill="#65180d"/>
<path d="M624.7 338.3l-5.1-2.6 5.3 4.3 5.1 2.5z" fill="#0f0e04"/>
<path d="M616.6 333.2l-5.2-2.3 5.3 4.1 5.2 2.3z" fill="#0f0d04"/>
<path d="M608.5 328.3l-5.3-2.1 5.3 3.9 5.3 2z" fill="#0f0b04"/>
<path d="M600.3 323.8l-5.3-1.8 5.3 3.8 5.3 1.8z" fill="#0f0a03"/>
<path d="M592 319.6l-5.4-1.5 5.3 3.6 5.4 1.5z" fill="#0f0803"/>
<path d="M583.7 315.7l-5.5-1.3 5.4 3.4 5.5 1.2z" fill="#0f0603"/>
<path d="M575.4 312.2l-5.5-1 5.4 3.3 5.5 1z" fill="#0f0502"/>
<path d="M567.1 309.1l-5.6-.7 5.4 3.1 5.6 .7z" fill="#0f0502"/>
<path d="M558.7 306.3l-5.6-.4 5.4 2.9 5.6 .4z" fill="#0f0402"/>
<path d="M550.3 303.8l-5.7-.1 5.4 2.8 5.7 .1z" fill="#0f0402"/>
<path d="M541.9 301.7l-5.7 .1 5.4 2.6 5.7-.2z" fill="#210804"/>
<path d="M533.4 300l-5.7 .4 5.4 2.4 5.7-.5z" fill="#300a06"/>
<path d="M525 298.7l-5.8 .7 5.4 2.2 5.8-.8z" fill="#3c0d07"/>
<path d="M516.5 297.6l-5.8 1 5.4 2.1 5.8-1.1z" fill="#460e08"/>
<path d="M508.1 297l-5.8 1.3 5.3 1.9 5.8-1.3z" fill="#4e1009"/>
<path d="M499.6 296.7l-5.8 1.6 5.3 1.7 5.8-1.6z" fill="#55110a"/>
<path d="M491.2 296.8l-5.8 1.9 5.3 1.6 5.8-1.9z" fill="#5c130a"/>
<path d="M482.8 297.3l-5.9 2.2 5.3 1.4 5.9-2.2z" fill="#62140b"/>
<path d="M474.4 298.1l-5.9 2.5 5.2 1.2 5.9-2.5z" fill="#67160c"/>
<path d="M466 299.2l-5.9 2.8 5.2 1.1 5.9-2.8z" fill="#6d180d"/>
<path d="M457.6 300.8l-5.8 3.1 5.2 .9 5.9-3.1z" fill="#701a0e"/>
<path d="M449.3 302.7l-5.8 3.4 5.1 .7 5.8-3.4z" fill="#731e0f"/>
<path d="M629.1 341.4l-5.1-2.5 5.3 4.4 5.1 2.5z" fill="#0e0e04"/>
<path d="M621 336.1l-5.2-2.3 5.3 4.3 5.2 2.2z" fill="#0f0e04"/>
<path d="M612.8 331.2l-5.2-2 5.3 4.1 5.2 2z" fill="#0f0c04"/>
<path d="M604.6 326.5l-5.3-1.8 5.3 3.9 5.3 1.7z" fill="#0f0a03"/>
<path d="M596.3 322.2l-5.4-1.5 5.4 3.8 5.4 1.5z" fill="#0f0903"/>
<path d="M588 318.2l-5.4-1.2 5.4 3.6 5.4 1.2z" fill="#0f0703"/>
<path d="M579.7 314.6l-5.5-1 5.4 3.4 5.5 .9z" fill="#0f0502"/>
<path d="M571.3 311.3l-5.6-.7 5.4 3.3 5.6 .7z" fill="#0f0502"/>
<path d="M562.9 308.4l-5.6-.4 5.4 3.1 5.6 .4z" fill="#130603"/>
<path d="M554.5 305.8l-5.7-.1 5.4 2.9 5.7 .1z" fill="#260a05"/>
<path d="M546 303.6l-5.7 .2 5.4 2.8 5.7-.2z" fill="#350d07"/>
<path d="M537.6 301.7l-5.7 .4 5.4 2.6 5.7-.5z" fill="#420f08"/>
<path d="M529.1 300.2l-5.8 .7 5.4 2.4 5.8-.8z" fill="#4c1009"/>
<path d="M520.6 299.1l-5.8 1 5.4 2.2 5.8-1.1z" fill="#54120a"/>
<path d="M512.1 298.3l-5.8 1.3 5.4 2.1 5.8-1.4z" fill="#5b130a"/>
<path d="M503.6 297.9l-5.8 1.6 5.4 1.9 5.8-1.7z" fill="#62140b"/>
<path d="M495.1 297.9l-5.9 1.9 5.3 1.7 5.9-2z" fill="#67150c"/>
<path d="M486.7 298.2l-5.9 2.2 5.3 1.6 5.9-2.2z" fill="#6d160c"/>
<path d="M478.2 298.9l-5.9 2.5 5.3 1.4 5.9-2.5z" fill="#72180d"/>
<path d="M469.8 300l-5.9 2.8 5.3 1.2 5.9-2.8z" fill="#761a0e"/>
<path d="M461.4 301.4l-5.8 3.1 5.2 1.1 5.9-3.1z" fill="#7a1c0f"/>
<path d="M453 303.2l-5.8 3.4 5.1 .9 5.8-3.4z" fill="#7c1f10"/>
<path d="M444.7 305.3l-5.8 3.6 5.1 .8 5.8-3.7z" fill="#7e2312"/>
<path d="M633.5 344.7l-5.1-2.5 5.3 4.6 5.1 2.5z" fill="#0e0e03"/>
<path d="M625.4 339.3l-5.2-2.3 5.3 4.4 5.1 2.2z" fill="#0f0e04"/>
<path d="M617.2 334.2l-5.2-2 5.3 4.3 5.2 2z" fill="#0f0d04"/>
<path d="M609 329.4l-5.3-1.8 5.4 4.1 5.3 1.7z" fill="#0f0b04"/>
<path d="M600.7 324.9l-5.4-1.5 5.4 4 5.4 1.5z" fill="#0f0903"/>
<path d="M592.4 320.8l-5.4-1.2 5.4 3.8 5.4 1.2z" fill="#0f0803"/>
<path d="M584 317.1l-5.5-1 5.4 3.6 5.5 .9z" fill="#0f0603"/>
<path d="M575.6 313.7l-5.6-.7 5.4 3.4 5.6 .6z" fill="#150703"/>
<path d="M567.2 310.6l-5.6-.4 5.4 3.3 5.6 .4z" fill="#280c06"/>
<path d="M558.7 307.9l-5.7-.1 5.4 3.1 5.7 .1z" fill="#380f08"/>
<path d="M550.2 305.6l-5.7 .2 5.4 2.9 5.7-.2z" fill="#451109"/>
<path d="M541.7 303.6l-5.7 .5 5.4 2.8 5.7-.5z" fill="#51130a"/>
<path d="M533.2 302l-5.8 .8 5.4 2.6 5.8-.8z" fill="#5a130b"/>
<path d="M524.7 300.7l-5.8 1 5.4 2.4 5.8-1.1z" fill="#61140b"/>
<path d="M516.2 299.8l-5.8 1.3 5.4 2.2 5.8-1.4z" fill="#67150c"/>
<path d="M507.7 299.3l-5.8 1.6 5.4 2.1 5.8-1.7z" fill="#6c160c"/>
<path d="M499.1 299.1l-5.9 1.9 5.4 1.9 5.9-2z" fill="#71170d"/>
<path d="M490.6 299.3l-5.9 2.2 5.3 1.7 5.9-2.3z" fill="#76180d"/>
<path d="M482.1 299.9l-5.8 2.5 5.3 1.6 5.9-2.6z" fill="#7a1a0e"/>
<path d="M473.7 300.8l-5.8 2.8 5.2 1.4 5.8-2.8z" fill="#7f1b0f"/>
<path d="M465.2 302.1l-5.8 3.1 5.2 1.3 5.8-3.1z" fill="#831d10"/>
<path d="M456.8 303.8l-5.8 3.4 5.1 1.1 5.8-3.4z" fill="#852111"/>
<path d="M448.4 305.8l-5.7 3.7 5 1 5.8-3.7z" fill="#862412"/>
<path d="M440 308.2l-5.7 3.9 5 .8 5.7-4z" fill="#882814"/>
<path d="M637.9 348.1l-5.1-2.5 5.3 4.8 5.1 2.4z" fill="#0d0e03"/>
<path d="M629.8 342.6l-5.1-2.2 5.3 4.6 5.1 2.2z" fill="#0e0e04"/>
<path d="M621.6 337.3l-5.2-2 5.4 4.4 5.2 2z" fill="#0f0d04"/>
<path d="M613.3 332.4l-5.3-1.7 5.4 4.3 5.3 1.7z" fill="#0f0c04"/>
<path d="M605 327.9l-5.4-1.5 5.4 4.1 5.4 1.4z" fill="#0f0a03"/>
<path d="M596.7 323.6l-5.4-1.2 5.4 4 5.4 1.2z" fill="#0f0803"/>
<path d="M588.3 319.7l-5.5-.9 5.4 3.8 5.5 .9z" fill="#160a04"/>
<path d="M579.9 316.2l-5.6-.7 5.4 3.6 5.5 .6z" fill="#2a0f07"/>
<path d="M571.5 313l-5.6-.4 5.5 3.5 5.6 .3z" fill="#3a1209"/>
<path d="M563 310.2l-5.7-.1 5.5 3.3 5.7 .1z" fill="#48150a"/>
<path d="M554.5 307.7l-5.7 .2 5.5 3.1 5.7-.2z" fill="#53160b"/>
<path d="M545.9 305.6l-5.7 .5 5.5 2.9 5.7-.5z" fill="#5d160c"/>
<path d="M537.4 303.8l-5.8 .8 5.5 2.8 5.8-.8z" fill="#66170c"/>
<path d="M528.8 302.5l-5.8 1.1 5.4 2.6 5.8-1.1z" fill="#6c170d"/>
<path d="M520.3 301.4l-5.8 1.4 5.4 2.4 5.8-1.4z" fill="#71180d"/>
<path d="M511.7 300.8l-5.9 1.7 5.4 2.3 5.9-1.7z" fill="#76180d"/>
<path d="M503.2 300.5l-5.8 1.9 5.4 2.1 5.9-2z" fill="#7a190e"/>
<path d="M494.6 300.6l-5.8 2.2 5.3 1.9 5.8-2.3z" fill="#7e1a0e"/>
<path d="M486.1 301l-5.8 2.5 5.3 1.8 5.8-2.6z" fill="#831b0f"/>
<path d="M477.6 301.8l-5.8 2.8 5.2 1.6 5.8-2.9z" fill="#871d10"/>
<path d="M469.1 303l-5.7 3.1 5.1 1.4 5.8-3.1z" fill="#8a1f11"/>
<path d="M460.6 304.6l-5.7 3.4 5.1 1.3 5.7-3.4z" fill="#8c2212"/>
<path d="M452.1 306.5l-5.7 3.7 5 1.1 5.7-3.7z" fill="#8e2513"/>
<path d="M443.7 308.8l-5.7 3.9 5 1 5.7-4z" fill="#8f2915"/>
<path d="M435.4 311.4l-5.6 4.2 4.9 .9 5.7-4.3z" fill="#902e16"/>
<path d="M642.3 351.7l-5-2.5 5.3 4.9 5 2.4z" fill="#0c0e03"/>
<path d="M634.2 346l-5.1-2.2 5.3 4.8 5.1 2.2z" fill="#0e0e03"/>
<path d="M626 340.7l-5.2-2 5.4 4.6 5.2 1.9z" fill="#0f0e04"/>
<path d="M617.7 335.6l-5.3-1.7 5.4 4.5 5.3 1.7z" fill="#0f0c04"/>
<path d="M609.4 330.9l-5.4-1.5 5.4 4.3 5.3 1.4z" fill="#0f0b03"/>
<path d="M601.1 326.6l-5.4-1.2 5.4 4.1 5.4 1.1z" fill="#160d05"/>
<path d="M592.7 322.6l-5.5-.9 5.5 4 5.5 .9z" fill="#2a1508"/>
<path d="M584.2 318.9l-5.5-.6 5.5 3.8 5.5 .6z" fill="#3b170a"/>
<path d="M575.8 315.6l-5.6-.4 5.5 3.6 5.6 .3z" fill="#49180c"/>
<path d="M567.3 312.6l-5.7-.1 5.5 3.5 5.6 0z" fill="#551a0d"/>
<path d="M558.7 310l-5.7 .2 5.5 3.3 5.7-.3z" fill="#5f1a0d"/>
<path d="M550.2 307.8l-5.7 .5 5.5 3.1 5.7-.5z" fill="#681a0e"/>
<path d="M541.6 305.9l-5.8 .8 5.5 2.9 5.8-.8z" fill="#701a0e"/>
<path d="M533 304.4l-5.8 1.1 5.5 2.8 5.8-1.1z" fill="#761a0e"/>
<path d="M524.4 303.2l-5.8 1.4 5.5 2.6 5.8-1.4z" fill="#7b1a0e"/>
<path d="M515.8 302.4l-5.8 1.7 5.4 2.4 5.8-1.7z" fill="#7f1b0f"/>
<path d="M507.2 302l-5.8 2 5.3 2.3 5.8-2z" fill="#831b0f"/>
<path d="M498.7 302l-5.8 2.3 5.3 2.1 5.8-2.3z" fill="#861c0f"/>
<path d="M490.1 302.3l-5.7 2.6 5.2 1.9 5.8-2.6z" fill="#8a1d10"/>
<path d="M481.5 303l-5.7 2.8 5.2 1.8 5.7-2.9z" fill="#8d1e11"/>
<path d="M473 304.1l-5.7 3.1 5.1 1.6 5.7-3.2z" fill="#912012"/>
<path d="M464.5 305.5l-5.7 3.4 5.1 1.5 5.7-3.4z" fill="#932313"/>
<path d="M456 307.3l-5.7 3.7 5 1.3 5.7-3.7z" fill="#942714"/>
<path d="M447.5 309.5l-5.6 4 5 1.2 5.7-4z" fill="#952b15"/>
<path d="M439.1 312l-5.6 4.2 4.9 1 5.6-4.3z" fill="#962f17"/>
<path d="M430.7 314.9l-5.6 4.5 4.9 .9 5.6-4.6z" fill="#973419"/>
<path d="M646.8 355.5l-5-2.4 5.3 5.1 5 2.4z" fill="#0b0e03"/>
<path d="M638.7 349.7l-5.1-2.2 5.4 4.9 5.1 2.1z" fill="#0e0e03"/>
<path d="M630.4 344.2l-5.2-1.9 5.4 4.8 5.2 1.9z" fill="#0f0e04"/>
<path d="M622.2 339l-5.3-1.7 5.4 4.6 5.3 1.6z" fill="#0f0d04"/>
<path d="M613.9 334.2l-5.3-1.4 5.4 4.5 5.3 1.4z" fill="#140f05"/>
<path d="M605.5 329.7l-5.4-1.2 5.5 4.3 5.4 1.1z" fill="#291b09"/>
<path d="M597.1 325.5l-5.5-.9 5.5 4.1 5.5 .8z" fill="#3b200c"/>
<path d="M588.6 321.7l-5.5-.6 5.5 4 5.5 .6z" fill="#49210d"/>
<path d="M580.1 318.3l-5.6-.3 5.5 3.8 5.6 .3z" fill="#561e0e"/>
<path d="M571.6 315.2l-5.6-0 5.5 3.6 5.6 0z" fill="#601f0f"/>
<path d="M563 312.5l-5.7 .2 5.5 3.5 5.7-.3z" fill="#6a1f0f"/>
<path d="M554.4 310.1l-5.7 .5 5.5 3.3 5.7-.6z" fill="#721e0f"/>
<path d="M545.8 308.1l-5.8 .8 5.5 3.1 5.8-.9z" fill="#791d10"/>
<path d="M537.2 306.4l-5.8 1.1 5.5 2.9 5.8-1.2z" fill="#7f1d10"/>
<path d="M528.6 305.2l-5.8 1.4 5.4 2.8 5.8-1.5z" fill="#831d10"/>
<path d="M520 304.3l-5.8 1.7 5.4 2.6 5.8-1.8z" fill="#871d10"/>
<path d="M511.3 303.7l-5.7 2 5.3 2.4 5.7-2z" fill="#8a1d10"/>
<path d="M502.7 303.6l-5.7 2.3 5.3 2.3 5.7-2.3z" fill="#8d1e10"/>
<path d="M494.1 303.8l-5.7 2.6 5.2 2.1 5.7-2.6z" fill="#911f11"/>
<path d="M485.5 304.3l-5.7 2.9 5.2 2 5.7-2.9z" fill="#942012"/>
<path d="M476.9 305.3l-5.7 3.1 5.1 1.8 5.7-3.2z" fill="#972212"/>
<path d="M468.3 306.6l-5.6 3.4 5.1 1.7 5.7-3.5z" fill="#992413"/>
<path d="M459.8 308.3l-5.6 3.7 5 1.5 5.6-3.8z" fill="#9a2815"/>
<path d="M451.3 310.3l-5.6 4 5 1.4 5.6-4z" fill="#9b2c16"/>
<path d="M442.8 312.7l-5.6 4.3 4.9 1.2 5.6-4.3z" fill="#9c3017"/>
<path d="M434.4 315.5l-5.6 4.5 4.9 1.1 5.6-4.6z" fill="#9c3519"/>
<path d="M426 318.6l-5.5 4.8 4.8 .9 5.6-4.8z" fill="#9d421c"/>
<path d="M651.3 359.4l-5-2.4 5.3 5.3 5 2.4z" fill="#0a0e03"/>
<path d="M643.1 353.5l-5.1-2.2 5.4 5.1 5.1 2.1z" fill="#0d0e03"/>
<path d="M634.9 347.8l-5.2-1.9 5.4 5 5.2 1.9z" fill="#0e0e04"/>
<path d="M626.6 342.5l-5.3-1.7 5.4 4.8 5.2 1.6z" fill="#100e04"/>
<path d="M618.3 337.6l-5.3-1.4 5.5 4.6 5.3 1.4z" fill="#271f09"/>
<path d="M609.9 333l-5.4-1.1 5.5 4.5 5.4 1.1z" fill="#3a290d"/>
<path d="M601.5 328.7l-5.5-.9 5.5 4.3 5.5 .8z" fill="#492c10"/>
<path d="M593 324.7l-5.5-.6 5.5 4.1 5.5 .5z" fill="#562b11"/>
<path d="M584.5 321.2l-5.6-.3 5.5 4 5.6 .3z" fill="#612711"/>
<path d="M575.9 317.9l-5.6-0 5.5 3.8 5.6-0z" fill="#6b2411"/>
<path d="M567.3 315.1l-5.7 .3 5.5 3.6 5.7-.3z" fill="#732311"/>
<path d="M558.7 312.6l-5.7 .6 5.5 3.5 5.7-.6z" fill="#7a2211"/>
<path d="M550.1 310.4l-5.8 .8 5.5 3.3 5.8-.9z" fill="#812111"/>
<path d="M541.5 308.7l-5.7 1.1 5.5 3.1 5.7-1.2z" fill="#862011"/>
<path d="M532.8 307.3l-5.7 1.4 5.4 2.9 5.7-1.5z" fill="#8b1f11"/>
<path d="M524.1 306.2l-5.7 1.7 5.3 2.8 5.7-1.8z" fill="#8e1f11"/>
<path d="M515.5 305.6l-5.7 2 5.3 2.6 5.7-2.1z" fill="#911f11"/>
<path d="M506.8 305.3l-5.7 2.3 5.2 2.4 5.7-2.4z" fill="#942011"/>
<path d="M498.2 305.4l-5.7 2.6 5.2 2.3 5.7-2.6z" fill="#972012"/>
<path d="M489.5 305.8l-5.7 2.9 5.1 2.1 5.7-2.9z" fill="#9a2112"/>
<path d="M480.9 306.7l-5.6 3.2 5.1 2 5.6-3.2z" fill="#9c2313"/>
<path d="M472.3 307.9l-5.6 3.4 5 1.8 5.6-3.5z" fill="#9d2614"/>
<path d="M463.7 309.4l-5.6 3.7 5 1.7 5.6-3.8z" fill="#9d2815"/>
<path d="M455.1 311.3l-5.6 4 4.9 1.5 5.6-4.1z" fill="#9d2c16"/>
<path d="M446.6 313.6l-5.6 4.3 4.9 1.4 5.6-4.3z" fill="#9d3018"/>
<path d="M438.2 316.3l-5.6 4.5 4.8 1.3 5.6-4.6z" fill="#9d3519"/>
<path d="M429.7 319.3l-5.5 4.8 4.8 1.1 5.5-4.9z" fill="#9d401c"/>
<path d="M421.3 322.7l-5.5 5.1 4.7 1 5.5-5.1z" fill="#9f501f"/>
<path d="M655.8 363.5l-5-2.4 5.4 5.4 5 2.3z" fill="#090e03"/>
<path d="M647.6 357.4l-5.1-2.1 5.4 5.3 5.1 2.1z" fill="#0c0e03"/>
<path d="M639.4 351.7l-5.2-1.9 5.4 5.1 5.2 1.8z" fill="#0e0e03"/>
<path d="M631.1 346.2l-5.2-1.6 5.4 5 5.2 1.6z" fill="#222008"/>
<path d="M622.8 341.1l-5.3-1.4 5.5 4.8 5.3 1.3z" fill="#38300e"/>
<path d="M614.4 336.4l-5.4-1.1 5.5 4.6 5.4 1.1z" fill="#493711"/>
<path d="M605.9 332l-5.5-.8 5.5 4.5 5.5 .8z" fill="#563913"/>
<path d="M597.4 327.9l-5.5-.6 5.5 4.3 5.5 .5z" fill="#613614"/>
<path d="M588.9 324.2l-5.6-.3 5.5 4.2 5.6 .2z" fill="#6b3014"/>
<path d="M580.3 320.9l-5.6 0 5.6 4 5.6-0z" fill="#732913"/>
<path d="M571.7 317.9l-5.7 .3 5.6 3.8 5.7-.3z" fill="#7b2813"/>
<path d="M563.1 315.2l-5.7 .6 5.6 3.6 5.7-.6z" fill="#822613"/>
<path d="M554.4 313l-5.7 .9 5.5 3.5 5.7-.9z" fill="#882513"/>
<path d="M545.7 311.1l-5.7 1.2 5.4 3.3 5.7-1.2z" fill="#8d2313"/>
<path d="M537.1 309.5l-5.7 1.5 5.4 3.1 5.7-1.5z" fill="#912212"/>
<path d="M528.4 308.4l-5.7 1.8 5.3 2.9 5.7-1.8z" fill="#952112"/>
<path d="M519.7 307.6l-5.7 2.1 5.3 2.8 5.7-2.1z" fill="#982112"/>
<path d="M511 307.2l-5.6 2.3 5.2 2.6 5.6-2.4z" fill="#9a2212"/>
<path d="M502.3 307.1l-5.6 2.6 5.2 2.5 5.6-2.7z" fill="#9c2213"/>
<path d="M493.6 307.5l-5.6 2.9 5.1 2.3 5.6-3z" fill="#9d2313"/>
<path d="M484.9 308.2l-5.6 3.2 5.1 2.2 5.6-3.2z" fill="#9d2413"/>
<path d="M476.3 309.2l-5.6 3.5 5 2 5.6-3.5z" fill="#9d2614"/>
<path d="M467.6 310.7l-5.6 3.8 5 1.9 5.6-3.8z" fill="#9d2915"/>
<path d="M459 312.5l-5.6 4 4.9 1.7 5.6-4.1z" fill="#9d2c16"/>
<path d="M450.5 314.7l-5.6 4.3 4.9 1.6 5.6-4.4z" fill="#9d3017"/>
<path d="M441.9 317.2l-5.5 4.6 4.9 1.4 5.5-4.6z" fill="#9d3419"/>
<path d="M433.5 320.1l-5.5 4.8 4.8 1.3 5.5-4.9z" fill="#9d3e1b"/>
<path d="M425 323.4l-5.5 5.1 4.8 1.2 5.5-5.2z" fill="#9e4e1f"/>
<path d="M416.6 327l-5.5 5.4 4.7 1 5.5-5.4z" fill="#a05f22"/>
<path d="M660.3 367.7l-5-2.3 5.4 5.6 5 2.3z" fill="#090e03"/>
<path d="M652.1 361.5l-5.1-2.1 5.4 5.5 5.1 2.1z" fill="#0b0e03"/>
<path d="M643.9 355.6l-5.2-1.9 5.4 5.3 5.1 1.8z" fill="#191c06"/>
<path d="M635.6 350.1l-5.2-1.6 5.5 5.1 5.2 1.6z" fill="#30300c"/>
<path d="M627.2 344.9l-5.3-1.3 5.5 5 5.3 1.3z" fill="#463e11"/>
<path d="M618.8 340l-5.4-1.1 5.5 4.8 5.4 1z" fill="#564415"/>
<path d="M610.4 335.5l-5.5-.8 5.5 4.7 5.4 .8z" fill="#614517"/>
<path d="M601.9 331.3l-5.5-.5 5.5 4.5 5.5 .5z" fill="#6c4217"/>
<path d="M593.3 327.4l-5.6-.3 5.6 4.3 5.6 .2z" fill="#743b17"/>
<path d="M584.7 323.9l-5.6 0 5.6 4.2 5.6-.1z" fill="#7c3316"/>
<path d="M576.1 320.8l-5.7 .3 5.6 4 5.7-.4z" fill="#822c15"/>
<path d="M567.4 318.1l-5.7 .6 5.5 3.8 5.7-.7z" fill="#882b15"/>
<path d="M558.7 315.7l-5.7 .9 5.5 3.6 5.7-1z" fill="#8e2914"/>
<path d="M550 313.6l-5.6 1.2 5.4 3.5 5.6-1.3z" fill="#922714"/>
<path d="M541.3 312l-5.6 1.5 5.4 3.3 5.6-1.6z" fill="#972614"/>
<path d="M532.6 310.7l-5.6 1.8 5.3 3.1 5.6-1.8z" fill="#9a2514"/>
<path d="M523.9 309.8l-5.6 2.1 5.3 3 5.6-2.1z" fill="#9d2413"/>
<path d="M515.1 309.2l-5.6 2.4 5.2 2.8 5.6-2.4z" fill="#9d2313"/>
<path d="M506.4 309.1l-5.6 2.7 5.2 2.6 5.6-2.7z" fill="#9d2313"/>
<path d="M497.7 309.3l-5.6 2.9 5.1 2.5 5.6-3z" fill="#9d2413"/>
<path d="M489 309.9l-5.6 3.2 5.1 2.3 5.6-3.3z" fill="#9d2514"/>
<path d="M480.3 310.8l-5.6 3.5 5 2.2 5.6-3.6z" fill="#9d2714"/>
<path d="M471.6 312.1l-5.6 3.8 5 2.1 5.6-3.8z" fill="#9d2915"/>
<path d="M463 313.8l-5.5 4.1 4.9 1.9 5.6-4.1z" fill="#9d2c16"/>
<path d="M454.3 315.9l-5.5 4.3 4.9 1.8 5.5-4.4z" fill="#9d3017"/>
<path d="M445.8 318.3l-5.5 4.6 4.9 1.6 5.5-4.7z" fill="#9d3419"/>
<path d="M437.2 321.1l-5.5 4.9 4.8 1.5 5.5-4.9z" fill="#9d3d1b"/>
<path d="M428.7 324.2l-5.5 5.1 4.8 1.4 5.5-5.2z" fill="#9e4c1e"/>
<path d="M420.3 327.8l-5.5 5.4 4.7 1.2 5.5-5.5z" fill="#9f5d22"/>
<path d="M411.9 331.6l-5.4 5.7 4.7 1.1 5.5-5.7z" fill="#a16e25"/>
<path d="M656.7 365.8l-5.1-2.1 5.4 5.6 5 2z" fill="#0f1504"/>
<path d="M648.4 359.8l-5.1-1.8 5.4 5.5 5.1 1.8z" fill="#242b09"/>
<path d="M640.1 354.1l-5.2-1.6 5.5 5.3 5.2 1.5z" fill="#3c3e0f"/>
<path d="M631.8 348.8l-5.3-1.3 5.5 5.2 5.3 1.3z" fill="#504b14"/>
<path d="M623.3 343.8l-5.4-1 5.5 5 5.4 1z" fill="#615318"/>
<path d="M614.9 339.1l-5.4-.8 5.5 4.8 5.4 .7z" fill="#6c521a"/>
<path d="M606.3 334.8l-5.5-.5 5.6 4.7 5.5 .5z" fill="#754e1b"/>
<path d="M597.8 330.8l-5.6-.2 5.6 4.5 5.6 .2z" fill="#7c471a"/>
<path d="M589.1 327.2l-5.6 .1 5.6 4.3 5.6-.1z" fill="#833d19"/>
<path d="M580.5 323.9l-5.6 .4 5.6 4.2 5.6-.4z" fill="#893417"/>
<path d="M571.8 321l-5.6 .7 5.5 4 5.6-.7z" fill="#8e2f17"/>
<path d="M563.1 318.5l-5.6 1 5.4 3.8 5.6-1z" fill="#932d16"/>
<path d="M554.4 316.4l-5.6 1.3 5.4 3.6 5.6-1.3z" fill="#982b16"/>
<path d="M545.6 314.6l-5.6 1.5 5.4 3.5 5.6-1.6z" fill="#9b2915"/>
<path d="M536.9 313.2l-5.6 1.8 5.3 3.3 5.6-1.9z" fill="#9d2715"/>
<path d="M528.1 312.1l-5.6 2.1 5.3 3.1 5.6-2.2z" fill="#9d2614"/>
<path d="M519.3 311.4l-5.6 2.4 5.2 3 5.6-2.5z" fill="#9d2514"/>
<path d="M510.6 311.2l-5.6 2.7 5.2 2.8 5.6-2.7z" fill="#9d2514"/>
<path d="M501.8 311.2l-5.6 3 5.1 2.7 5.6-3z" fill="#9d2514"/>
<path d="M493.1 311.7l-5.6 3.3 5.1 2.5 5.6-3.3z" fill="#9d2614"/>
<path d="M484.3 312.5l-5.6 3.5 5 2.4 5.6-3.6z" fill="#9d2715"/>
<path d="M475.6 313.7l-5.5 3.8 5 2.2 5.6-3.9z" fill="#9d2a15"/>
<path d="M466.9 315.3l-5.5 4.1 5 2.1 5.5-4.1z" fill="#9d2d16"/>
<path d="M458.3 317.2l-5.5 4.4 4.9 1.9 5.5-4.4z" fill="#9d3018"/>
<path d="M449.6 319.6l-5.5 4.6 4.9 1.8 5.5-4.7z" fill="#9d3419"/>
<path d="M441.1 322.2l-5.5 4.9 4.8 1.7 5.5-5z" fill="#9d3c1b"/>
<path d="M432.5 325.3l-5.5 5.2 4.8 1.5 5.5-5.2z" fill="#9e4b1e"/>
<path d="M424 328.7l-5.5 5.4 4.7 1.4 5.5-5.5z" fill="#9f5b21"/>
<path d="M415.6 332.4l-5.4 5.7 4.7 1.3 5.4-5.7z" fill="#a16c25"/>
<path d="M653 364.1l-5.1-1.8 5.5 5.6 5.1 1.7z" fill="#2b380b"/>
<path d="M644.7 358.3l-5.2-1.5 5.5 5.5 5.2 1.5z" fill="#424911"/>
<path d="M636.3 352.8l-5.3-1.3 5.5 5.3 5.3 1.2z" fill="#575616"/>
<path d="M627.9 347.7l-5.4-1 5.5 5.2 5.4 1z" fill="#6a5f1a"/>
<path d="M619.4 342.9l-5.4-.7 5.6 5 5.4 .7z" fill="#755f1c"/>
<path d="M610.8 338.4l-5.5-.5 5.6 4.8 5.5 .4z" fill="#7d5a1d"/>
<path d="M602.2 334.4l-5.6-.2 5.6 4.7 5.6 .1z" fill="#84531d"/>
<path d="M593.6 330.6l-5.6 .1 5.6 4.5 5.6-.2z" fill="#8a491c"/>
<path d="M584.9 327.2l-5.6 .4 5.5 4.3 5.6-.5z" fill="#8f3f1a"/>
<path d="M576.2 324.2l-5.6 .7 5.5 4.1 5.6-.8z" fill="#943418"/>
<path d="M567.5 321.5l-5.6 1 5.4 4 5.6-1.1z" fill="#983118"/>
<path d="M558.7 319.3l-5.6 1.3 5.4 3.8 5.6-1.3z" fill="#9c2f17"/>
<path d="M550 317.3l-5.6 1.6 5.3 3.6 5.6-1.6z" fill="#9d2c16"/>
<path d="M541.2 315.8l-5.6 1.9 5.3 3.5 5.6-1.9z" fill="#9d2a15"/>
<path d="M532.4 314.6l-5.6 2.2 5.3 3.3 5.6-2.2z" fill="#9d2815"/>
<path d="M523.6 313.8l-5.6 2.4 5.2 3.2 5.6-2.5z" fill="#9d2714"/>
<path d="M514.8 313.4l-5.6 2.7 5.2 3 5.6-2.8z" fill="#9d2614"/>
<path d="M506 313.4l-5.5 3 5.1 2.9 5.6-3.1z" fill="#9d2614"/>
<path d="M497.2 313.7l-5.5 3.3 5.1 2.7 5.5-3.3z" fill="#9d2715"/>
<path d="M488.4 314.4l-5.5 3.6 5 2.6 5.5-3.6z" fill="#9d2915"/>
<path d="M479.7 315.5l-5.5 3.8 5 2.4 5.5-3.9z" fill="#9d2b16"/>
<path d="M470.9 316.9l-5.5 4.1 5 2.3 5.5-4.2z" fill="#9d2d17"/>
<path d="M462.2 318.8l-5.5 4.4 4.9 2.1 5.5-4.4z" fill="#9d3118"/>
<path d="M453.5 321l-5.5 4.7 4.9 2 5.5-4.7z" fill="#9d3519"/>
<path d="M444.9 323.5l-5.5 4.9 4.8 1.9 5.5-5z" fill="#9d3d1b"/>
<path d="M436.3 326.4l-5.5 5.2 4.8 1.7 5.5-5.3z" fill="#9e4b1e"/>
<path d="M427.8 329.7l-5.4 5.5 4.7 1.6 5.5-5.5z" fill="#9f5a21"/>
<path d="M419.3 333.4l-5.4 5.7 4.7 1.5 5.4-5.8z" fill="#a16b24"/>
<path d="M649.2 362.7l-5.2-1.5 5.5 5.7 5.2 1.4z" fill="#445312"/>
<path d="M640.8 357.1l-5.3-1.2 5.5 5.5 5.3 1.2z" fill="#5c6017"/>
<path d="M632.4 351.8l-5.3-1 5.6 5.3 5.3 .9z" fill="#6e681b"/>
<path d="M623.9 346.9l-5.4-.7 5.6 5.2 5.4 .7z" fill="#7e6c1f"/>
<path d="M615.3 342.3l-5.5-.4 5.6 5 5.5 .4z" fill="#856720"/>
<path d="M606.7 338.1l-5.5-.1 5.6 4.9 5.5 .1z" fill="#8b5f20"/>
<path d="M598.1 334.2l-5.5 .2 5.6 4.7 5.5-.2z" fill="#90561f"/>
<path d="M589.4 330.7l-5.5 .5 5.5 4.5 5.5-.5z" fill="#954a1d"/>
<path d="M580.7 327.5l-5.5 .8 5.5 4.3 5.5-.8z" fill="#993f1b"/>
<path d="M571.9 324.7l-5.5 1 5.4 4.1 5.5-1.1z" fill="#9d361a"/>
<path d="M563.1 322.3l-5.5 1.3 5.4 4 5.5-1.4z" fill="#9d3218"/>
<path d="M554.3 320.3l-5.5 1.6 5.3 3.8 5.5-1.7z" fill="#9d2f17"/>
<path d="M545.5 318.6l-5.5 1.9 5.3 3.6 5.5-2z" fill="#9d2c16"/>
<path d="M536.7 317.3l-5.5 2.2 5.3 3.5 5.5-2.2z" fill="#9d2a16"/>
<path d="M527.9 316.4l-5.5 2.5 5.2 3.3 5.5-2.5z" fill="#9d2915"/>
<path d="M519 315.8l-5.5 2.8 5.2 3.2 5.5-2.8z" fill="#9d2815"/>
<path d="M510.2 315.6l-5.5 3 5.1 3 5.5-3.1z" fill="#9d2815"/>
<path d="M501.4 315.9l-5.5 3.3 5.1 2.9 5.5-3.4z" fill="#9d2915"/>
<path d="M492.5 316.4l-5.5 3.6 5.1 2.7 5.5-3.7z" fill="#9d2a15"/>
<path d="M483.7 317.4l-5.5 3.9 5 2.6 5.5-3.9z" fill="#9d2c16"/>
<path d="M475 318.7l-5.5 4.2 5 2.5 5.5-4.2z" fill="#9d2e17"/>
<path d="M466.2 320.4l-5.5 4.4 4.9 2.3 5.5-4.5z" fill="#9d3118"/>
<path d="M457.5 322.5l-5.5 4.7 4.9 2.2 5.5-4.8z" fill="#9d3519"/>
<path d="M448.8 325l-5.5 5 4.8 2 5.5-5z" fill="#9d3d1b"/>
<path d="M440.2 327.8l-5.5 5.2 4.8 1.9 5.5-5.3z" fill="#9e4b1e"/>
<path d="M431.6 330.9l-5.4 5.5 4.8 1.8 5.5-5.6z" fill="#9f5a21"/>
<path d="M423 334.5l-5.4 5.8 4.7 1.6 5.4-5.8z" fill="#a16b24"/>
<path d="M645.4 361.4l-5.3-1.2 5.5 5.7 5.2 1.1z" fill="#5c6817"/>
<path d="M637 356.1l-5.3-.9 5.6 5.5 5.3 .9z" fill="#71711c"/>
<path d="M628.4 351l-5.4-.7 5.6 5.4 5.4 .6z" fill="#827620"/>
<path d="M619.9 346.3l-5.5-.4 5.6 5.2 5.5 .3z" fill="#8c7422"/>
<path d="M611.3 341.9l-5.5-.1 5.6 5 5.5 0z" fill="#926c22"/>
<path d="M602.6 337.9l-5.5 .2 5.5 4.8 5.5-.3z" fill="#966322"/>
<path d="M593.9 334.3l-5.5 .5 5.5 4.7 5.5-.6z" fill="#9a5720"/>
<path d="M585.2 331l-5.5 .8 5.4 4.5 5.5-.9z" fill="#9e4b1e"/>
<path d="M576.4 328.1l-5.5 1.1 5.4 4.3 5.5-1.1z" fill="#9d3e1b"/>
<path d="M567.6 325.5l-5.5 1.4 5.4 4.1 5.5-1.4z" fill="#9d3619"/>
<path d="M558.7 323.4l-5.5 1.7 5.3 4 5.5-1.7z" fill="#9d3218"/>
<path d="M549.9 321.6l-5.5 2 5.3 3.8 5.5-2z" fill="#9d2f17"/>
<path d="M541 320.1l-5.5 2.2 5.3 3.7 5.5-2.3z" fill="#9d2d17"/>
<path d="M532.2 319.1l-5.5 2.5 5.2 3.5 5.5-2.6z" fill="#9d2c16"/>
<path d="M523.3 318.4l-5.5 2.8 5.2 3.4 5.5-2.9z" fill="#9d2b16"/>
<path d="M514.4 318.1l-5.5 3.1 5.1 3.2 5.5-3.1z" fill="#9d2a16"/>
<path d="M505.6 318.2l-5.5 3.4 5.1 3.1 5.5-3.4z" fill="#9d2b16"/>
<path d="M496.7 318.6l-5.5 3.6 5.1 2.9 5.5-3.7z" fill="#9d2c16"/>
<path d="M487.9 319.5l-5.5 3.9 5 2.8 5.5-4z" fill="#9d2d17"/>
<path d="M479 320.7l-5.5 4.2 5 2.6 5.5-4.2z" fill="#9d3017"/>
<path d="M470.2 322.3l-5.5 4.5 4.9 2.5 5.5-4.5z" fill="#9d3218"/>
<path d="M461.5 324.2l-5.5 4.7 4.9 2.4 5.5-4.8z" fill="#9d3619"/>
<path d="M452.8 326.6l-5.5 5 4.9 2.2 5.5-5.1z" fill="#9d3f1b"/>
<path d="M444.1 329.3l-5.5 5.3 4.8 2.1 5.5-5.3z" fill="#9e4c1e"/>
<path d="M435.4 332.3l-5.4 5.5 4.8 2 5.5-5.6z" fill="#9f5a21"/>
<path d="M426.8 335.7l-5.4 5.8 4.7 1.8 5.4-5.9z" fill="#a06a24"/>
<path d="M641.5 360.5l-5.3-.9 5.6 5.7 5.3 .8z" fill="#72791c"/>
<path d="M633 355.3l-5.4-.6 5.6 5.5 5.4 .6z" fill="#837e21"/>
<path d="M624.4 350.5l-5.4-.3 5.6 5.4 5.4 .3z" fill="#938125"/>
<path d="M615.8 346l-5.4-0 5.6 5.2 5.4-0z" fill="#987925"/>
<path d="M607.1 341.9l-5.4 .3 5.5 5 5.4-.3z" fill="#9c6f24"/>
<path d="M598.4 338.1l-5.4 .6 5.5 4.8 5.4-.6z" fill="#a06523"/>
<path d="M589.7 334.7l-5.4 .8 5.4 4.6 5.4-.9z" fill="#9f5620"/>
<path d="M580.9 331.6l-5.5 1.1 5.4 4.5 5.4-1.2z" fill="#9e491d"/>
<path d="M572 328.9l-5.5 1.4 5.4 4.3 5.5-1.5z" fill="#9d3d1b"/>
<path d="M563.2 326.6l-5.5 1.7 5.3 4.2 5.5-1.8z" fill="#9d3619"/>
<path d="M554.3 324.7l-5.5 2 5.3 4 5.5-2z" fill="#9d3318"/>
<path d="M545.4 323.1l-5.5 2.3 5.3 3.8 5.5-2.3z" fill="#9d3018"/>
<path d="M536.5 322l-5.5 2.6 5.2 3.7 5.5-2.6z" fill="#9d2e17"/>
<path d="M527.6 321.2l-5.5 2.8 5.2 3.5 5.5-2.9z" fill="#9d2d17"/>
<path d="M518.7 320.7l-5.5 3.1 5.1 3.4 5.5-3.2z" fill="#9d2d16"/>
<path d="M509.8 320.7l-5.5 3.4 5.1 3.2 5.5-3.5z" fill="#9d2d16"/>
<path d="M500.9 321l-5.5 3.7 5.1 3.1 5.5-3.7z" fill="#9d2e17"/>
<path d="M492 321.7l-5.5 4 5 3 5.5-4z" fill="#9d2f17"/>
<path d="M483.2 322.8l-5.5 4.2 5 2.8 5.5-4.3z" fill="#9d3118"/>
<path d="M474.3 324.3l-5.5 4.5 5 2.7 5.5-4.6z" fill="#9d3419"/>
<path d="M465.5 326.1l-5.5 4.8 4.9 2.5 5.5-4.8z" fill="#9d371a"/>
<path d="M456.7 328.3l-5.5 5 4.9 2.4 5.5-5.1z" fill="#9e411c"/>
<path d="M448 330.9l-5.5 5.3 4.8 2.3 5.5-5.4z" fill="#9e4d1e"/>
<path d="M439.3 333.8l-5.4 5.6 4.8 2.1 5.5-5.6z" fill="#9f5b21"/>
<path d="M430.6 337.2l-5.4 5.8 4.7 2 5.4-5.9z" fill="#a16b24"/>
<path d="M637.6 359.8l-5.4-.6 5.6 5.7 5.4 .5z" fill="#838520"/>
<path d="M629 354.8l-5.4-.3 5.6 5.5 5.4 .2z" fill="#928824"/>
<path d="M620.4 350.2l-5.4 0 5.5 5.3 5.4-.1z" fill="#9e8627"/>
<path d="M611.7 346l-5.4 .3 5.5 5.2 5.4-.4z" fill="#a27c26"/>
<path d="M603 342.1l-5.4 .6 5.5 5 5.4-.7z" fill="#a16f25"/>
<path d="M594.2 338.5l-5.4 .9 5.4 4.8 5.4-.9z" fill="#a06123"/>
<path d="M585.4 335.3l-5.4 1.2 5.4 4.7 5.4-1.2z" fill="#9f5420"/>
<path d="M576.5 332.5l-5.4 1.5 5.4 4.5 5.4-1.5z" fill="#9e471d"/>
<path d="M567.6 330.1l-5.4 1.8 5.3 4.3 5.4-1.8z" fill="#9d3d1b"/>
<path d="M558.7 328l-5.5 2 5.3 4.2 5.4-2.1z" fill="#9d3619"/>
<path d="M549.8 326.3l-5.5 2.3 5.3 4 5.5-2.4z" fill="#9d3319"/>
<path d="M540.9 325l-5.5 2.6 5.2 3.9 5.5-2.7z" fill="#9d3118"/>
<path d="M532 324.1l-5.5 2.9 5.2 3.7 5.5-2.9z" fill="#9d3017"/>
<path d="M523 323.5l-5.5 3.2 5.2 3.6 5.5-3.2z" fill="#9d2f17"/>
<path d="M514.1 323.3l-5.5 3.4 5.1 3.4 5.5-3.5z" fill="#9d2f17"/>
<path d="M505.1 323.5l-5.5 3.7 5.1 3.3 5.5-3.8z" fill="#9d3017"/>
<path d="M496.2 324.1l-5.5 4 5 3.1 5.5-4z" fill="#9d3118"/>
<path d="M487.3 325.1l-5.5 4.3 5 3 5.5-4.3z" fill="#9d3318"/>
<path d="M478.4 326.4l-5.5 4.5 5 2.9 5.5-4.6z" fill="#9d3519"/>
<path d="M469.6 328.2l-5.5 4.8 4.9 2.7 5.5-4.9z" fill="#9d3a1a"/>
<path d="M460.8 330.2l-5.5 5.1 4.9 2.6 5.5-5.1z" fill="#9e441d"/>
<path d="M452 332.7l-5.5 5.4 4.8 2.5 5.5-5.4z" fill="#9f501f"/>
<path d="M443.2 335.5l-5.4 5.6 4.8 2.3 5.4-5.7z" fill="#a05d22"/>
<path d="M434.5 338.7l-5.4 5.9 4.8 2.2 5.4-5.9z" fill="#a16c25"/>
<path d="M633.6 359.4l-5.3-.2 5.6 5.7 5.3 .2z" fill="#918f24"/>
<path d="M625 354.6l-5.3 .1 5.5 5.5 5.3-.1z" fill="#9f9028"/>
<path d="M616.3 350.2l-5.4 .4 5.5 5.3 5.3-.4z" fill="#a48828"/>
<path d="M607.5 346.2l-5.4 .7 5.4 5.2 5.4-.7z" fill="#a27a26"/>
<path d="M598.7 342.5l-5.4 .9 5.4 5 5.4-1z" fill="#a16d25"/>
<path d="M589.9 339.2l-5.4 1.2 5.4 4.8 5.4-1.3z" fill="#a05f22"/>
<path d="M581 336.3l-5.4 1.5 5.4 4.7 5.4-1.6z" fill="#9f521f"/>
<path d="M572.1 333.7l-5.4 1.8 5.3 4.5 5.4-1.9z" fill="#9e471d"/>
<path d="M563.2 331.5l-5.4 2.1 5.3 4.4 5.4-2.1z" fill="#9d3e1b"/>
<path d="M554.3 329.7l-5.4 2.4 5.3 4.2 5.4-2.4z" fill="#9d371a"/>
<path d="M545.3 328.2l-5.5 2.6 5.2 4.1 5.5-2.7z" fill="#9d3519"/>
<path d="M536.3 327.2l-5.5 2.9 5.2 3.9 5.5-3z" fill="#9d3318"/>
<path d="M527.4 326.5l-5.5 3.2 5.2 3.8 5.5-3.3z" fill="#9d3218"/>
<path d="M518.4 326.2l-5.5 3.5 5.1 3.6 5.5-3.5z" fill="#9d3218"/>
<path d="M509.4 326.3l-5.5 3.8 5.1 3.5 5.5-3.8z" fill="#9d3218"/>
<path d="M500.4 326.7l-5.5 4 5.1 3.3 5.5-4.1z" fill="#9d3318"/>
<path d="M491.5 327.6l-5.5 4.3 5 3.2 5.5-4.4z" fill="#9d3519"/>
<path d="M482.6 328.8l-5.5 4.6 5 3 5.5-4.6z" fill="#9d371a"/>
<path d="M473.7 330.4l-5.5 4.9 4.9 2.9 5.5-4.9z" fill="#9d3e1b"/>
<path d="M464.8 332.3l-5.5 5.1 4.9 2.8 5.5-5.2z" fill="#9e481d"/>
<path d="M456 334.7l-5.4 5.4 4.9 2.6 5.5-5.5z" fill="#9f5320"/>
<path d="M447.2 337.4l-5.4 5.7 4.8 2.5 5.4-5.7z" fill="#a06022"/>
<path d="M438.4 340.5l-5.4 5.9 4.8 2.4 5.4-6z" fill="#a16d25"/>
<path d="M629.6 359.2l-5.3 .1 5.5 5.7 5.3-.2z" fill="#9c9527"/>
<path d="M620.9 354.7l-5.3 .4 5.5 5.5 5.3-.5z" fill="#a49129"/>
<path d="M612.1 350.5l-5.3 .7 5.4 5.3 5.3-.8z" fill="#a48428"/>
<path d="M603.3 346.7l-5.3 1 5.4 5.2 5.3-1.1z" fill="#a27726"/>
<path d="M594.5 343.2l-5.4 1.3 5.4 5 5.4-1.3z" fill="#a16b24"/>
<path d="M585.6 340.2l-5.4 1.6 5.4 4.8 5.4-1.6z" fill="#a05e22"/>
<path d="M576.6 337.5l-5.4 1.8 5.3 4.7 5.4-1.9z" fill="#9f521f"/>
<path d="M567.7 335.1l-5.4 2.1 5.3 4.5 5.4-2.2z" fill="#9e481d"/>
<path d="M558.7 333.2l-5.4 2.4 5.3 4.4 5.4-2.5z" fill="#9d401c"/>
<path d="M549.7 331.6l-5.4 2.7 5.2 4.2 5.4-2.7z" fill="#9d3a1a"/>
<path d="M540.7 330.4l-5.4 3 5.2 4.1 5.4-3z" fill="#9d361a"/>
<path d="M531.7 329.6l-5.5 3.2 5.2 3.9 5.5-3.3z" fill="#9d3519"/>
<path d="M522.7 329.2l-5.5 3.5 5.1 3.8 5.5-3.6z" fill="#9d3519"/>
<path d="M513.7 329.1l-5.5 3.8 5.1 3.7 5.5-3.9z" fill="#9d3519"/>
<path d="M504.7 329.5l-5.5 4.1 5.1 3.5 5.5-4.1z" fill="#9d3519"/>
<path d="M495.7 330.2l-5.5 4.4 5 3.4 5.5-4.4z" fill="#9d371a"/>
<path d="M486.8 331.3l-5.5 4.6 5 3.2 5.5-4.7z" fill="#9d3c1b"/>
<path d="M477.8 332.7l-5.5 4.9 5 3.1 5.5-5z" fill="#9e431c"/>
<path d="M468.9 334.6l-5.5 5.2 4.9 3 5.5-5.2z" fill="#9e4c1e"/>
<path d="M460 336.8l-5.4 5.4 4.9 2.8 5.5-5.5z" fill="#9f5620"/>
<path d="M451.2 339.4l-5.4 5.7 4.8 2.7 5.4-5.8z" fill="#a06323"/>
<path d="M442.4 342.4l-5.4 6 4.8 2.6 5.4-6z" fill="#a16f25"/>
<path d="M625.5 359.3l-5.3 .5 5.5 5.7 5.3-.5z" fill="#9e9427"/>
<path d="M616.7 355l-5.3 .8 5.4 5.5 5.3-.8z" fill="#a58f29"/>
<path d="M607.9 351l-5.3 1 5.4 5.3 5.3-1.1z" fill="#a48127"/>
<path d="M599 347.5l-5.3 1.3 5.4 5.2 5.3-1.4z" fill="#a27526"/>
<path d="M590.1 344.3l-5.4 1.6 5.4 5 5.3-1.7z" fill="#a06a24"/>
<path d="M581.2 341.4l-5.4 1.9 5.3 4.9 5.4-1.9z" fill="#a05e22"/>
<path d="M572.2 339l-5.4 2.2 5.3 4.7 5.4-2.2z" fill="#9f5320"/>
<path d="M563.2 336.9l-5.4 2.5 5.3 4.6 5.4-2.5z" fill="#9e4b1e"/>
<path d="M554.2 335.2l-5.4 2.7 5.2 4.4 5.4-2.8z" fill="#9e441c"/>
<path d="M545.2 333.9l-5.4 3 5.2 4.3 5.4-3.1z" fill="#9d3e1b"/>
<path d="M536.1 332.9l-5.4 3.3 5.2 4.1 5.4-3.3z" fill="#9d3b1b"/>
<path d="M527.1 332.4l-5.5 3.6 5.2 4 5.5-3.6z" fill="#9d391a"/>
<path d="M518.1 332.2l-5.5 3.8 5.1 3.8 5.5-3.9z" fill="#9d381a"/>
<path d="M509 332.4l-5.5 4.1 5.1 3.7 5.5-4.2z" fill="#9d3a1a"/>
<path d="M500 333l-5.5 4.4 5.1 3.6 5.5-4.5z" fill="#9d3d1b"/>
<path d="M491 333.9l-5.5 4.7 5 3.4 5.5-4.7z" fill="#9e421c"/>
<path d="M482 335.3l-5.5 4.9 5 3.3 5.5-5z" fill="#9e481d"/>
<path d="M473.1 337l-5.5 5.2 4.9 3.1 5.5-5.3z" fill="#9f511f"/>
<path d="M464.1 339.1l-5.4 5.5 4.9 3 5.5-5.5z" fill="#9f5b21"/>
<path d="M455.2 341.6l-5.4 5.8 4.9 2.9 5.5-5.8z" fill="#a06624"/>
<path d="M446.4 344.4l-5.4 6 4.8 2.7 5.4-6.1z" fill="#a17225"/>
<path d="M621.4 359.6l-5.3 .8 5.4 5.7 5.2-.9z" fill="#a09328"/>
<path d="M612.5 355.6l-5.3 1.1 5.4 5.5 5.3-1.2z" fill="#a58d29"/>
<path d="M603.7 351.9l-5.3 1.4 5.4 5.4 5.3-1.4z" fill="#a38027"/>
<path d="M594.7 348.5l-5.3 1.7 5.4 5.2 5.3-1.7z" fill="#a27426"/>
<path d="M585.8 345.6l-5.4 1.9 5.3 5.1 5.3-2z" fill="#a06a24"/>
<path d="M576.8 343l-5.4 2.2 5.3 4.9 5.4-2.3z" fill="#a05f22"/>
<path d="M567.7 340.8l-5.4 2.5 5.3 4.8 5.4-2.6z" fill="#9f5620"/>
<path d="M558.7 338.9l-5.4 2.8 5.3 4.6 5.4-2.8z" fill="#9e4e1f"/>
<path d="M549.6 337.5l-5.4 3.1 5.2 4.5 5.4-3.1z" fill="#9e481d"/>
<path d="M540.6 336.4l-5.4 3.3 5.2 4.3 5.4-3.4z" fill="#9e441d"/>
<path d="M531.5 335.7l-5.4 3.6 5.2 4.2 5.4-3.7z" fill="#9e421c"/>
<path d="M522.4 335.4l-5.4 3.9 5.1 4 5.5-3.9z" fill="#9e411c"/>
<path d="M513.4 335.5l-5.5 4.2 5.1 3.9 5.5-4.2z" fill="#9e421c"/>
<path d="M504.3 335.9l-5.5 4.4 5.1 3.7 5.5-4.5z" fill="#9e441d"/>
<path d="M495.3 336.8l-5.5 4.7 5 3.6 5.5-4.8z" fill="#9e491d"/>
<path d="M486.2 338l-5.5 5 5 3.5 5.5-5z" fill="#9e4f1f"/>
<path d="M477.2 339.6l-5.5 5.3 5 3.3 5.5-5.3z" fill="#9f5620"/>
<path d="M468.3 341.6l-5.4 5.5 4.9 3.2 5.5-5.6z" fill="#a06022"/>
<path d="M459.3 343.9l-5.4 5.8 4.9 3.1 5.5-5.9z" fill="#a16b24"/>
<path d="M450.4 346.7l-5.4 6.1 4.8 2.9 5.4-6.1z" fill="#a27526"/>
<path d="M617.2 360.3l-5.3 1.2 5.4 5.7 5.2-1.2z" fill="#a19328"/>
<path d="M608.3 356.4l-5.3 1.4 5.4 5.5 5.3-1.5z" fill="#a58b29"/>
<path d="M599.3 353l-5.3 1.7 5.4 5.4 5.3-1.8z" fill="#a37f27"/>
<path d="M590.4 349.9l-5.3 2 5.3 5.2 5.3-2z" fill="#a27526"/>
<path d="M581.3 347.2l-5.4 2.3 5.3 5.1 5.3-2.3z" fill="#a16b24"/>
<path d="M572.3 344.8l-5.4 2.6 5.3 4.9 5.4-2.6z" fill="#a06223"/>
<path d="M563.2 342.8l-5.4 2.8 5.3 4.8 5.4-2.9z" fill="#9f5a21"/>
<path d="M554.2 341.3l-5.4 3.1 5.2 4.6 5.4-3.2z" fill="#9f5320"/>
<path d="M545.1 340.1l-5.4 3.4 5.2 4.5 5.4-3.4z" fill="#9e4e1f"/>
<path d="M535.9 339.2l-5.4 3.7 5.2 4.4 5.4-3.7z" fill="#9e4b1e"/>
<path d="M526.8 338.8l-5.4 3.9 5.2 4.2 5.4-4z" fill="#9e4a1e"/>
<path d="M517.7 338.7l-5.4 4.2 5.1 4.1 5.5-4.3z" fill="#9e4a1e"/>
<path d="M508.6 339.1l-5.5 4.5 5.1 3.9 5.5-4.5z" fill="#9e4c1e"/>
<path d="M499.6 339.8l-5.5 4.8 5.1 3.8 5.5-4.8z" fill="#9f501f"/>
<path d="M490.5 340.9l-5.5 5 5 3.7 5.5-5.1z" fill="#9f5520"/>
<path d="M481.4 342.4l-5.5 5.3 5 3.5 5.5-5.4z" fill="#9f5c22"/>
<path d="M472.4 344.2l-5.5 5.6 5 3.4 5.5-5.6z" fill="#a06523"/>
<path d="M463.4 346.5l-5.4 5.8 4.9 3.2 5.5-5.9z" fill="#a16f25"/>
<path d="M454.5 349.1l-5.4 6.1 4.9 3.1 5.4-6.2z" fill="#a27826"/>
<path d="M612.9 361.2l-5.3 1.5 5.4 5.7 5.2-1.5z" fill="#a29228"/>
<path d="M604 357.6l-5.3 1.8 5.4 5.6 5.3-1.8z" fill="#a58a29"/>
<path d="M595 354.4l-5.3 2 5.3 5.4 5.3-2.1z" fill="#a37f27"/>
<path d="M586 351.5l-5.3 2.3 5.3 5.3 5.3-2.4z" fill="#a27626"/>
<path d="M576.9 349l-5.4 2.6 5.3 5.1 5.3-2.7z" fill="#a16d25"/>
<path d="M567.8 346.9l-5.4 2.9 5.3 5 5.4-2.9z" fill="#a06623"/>
<path d="M558.7 345.2l-5.4 3.2 5.3 4.8 5.4-3.2z" fill="#a05f22"/>
<path d="M549.6 343.9l-5.4 3.4 5.2 4.7 5.4-3.5z" fill="#9f5921"/>
<path d="M540.4 342.9l-5.4 3.7 5.2 4.5 5.4-3.8z" fill="#9f5620"/>
<path d="M531.3 342.4l-5.4 4 5.2 4.4 5.4-4z" fill="#9f5420"/>
<path d="M522.1 342.2l-5.4 4.3 5.1 4.3 5.4-4.3z" fill="#9f5320"/>
<path d="M513 342.4l-5.5 4.5 5.1 4.1 5.5-4.6z" fill="#9f5520"/>
<path d="M503.9 343l-5.5 4.8 5.1 4 5.5-4.9z" fill="#9f5821"/>
<path d="M494.8 343.9l-5.5 5.1 5 3.8 5.5-5.1z" fill="#9f5d22"/>
<path d="M485.7 345.3l-5.5 5.4 5 3.7 5.5-5.4z" fill="#a06323"/>
<path d="M476.6 347l-5.5 5.6 5 3.6 5.5-5.7z" fill="#a16b24"/>
<path d="M467.6 349.1l-5.4 5.9 4.9 3.4 5.5-6z" fill="#a27325"/>
<path d="M458.6 351.6l-5.4 6.2 4.9 3.3 5.4-6.2z" fill="#a37c27"/>
<path d="M608.6 362.4l-5.3 1.8 5.4 5.7 5.3-1.9z" fill="#a39229"/>
<path d="M599.6 359l-5.3 2.1 5.3 5.6 5.3-2.2z" fill="#a58b29"/>
<path d="M590.6 356l-5.3 2.4 5.3 5.5 5.3-2.4z" fill="#a38127"/>
<path d="M581.5 353.4l-5.3 2.7 5.3 5.3 5.3-2.7z" fill="#a27826"/>
<path d="M572.4 351.2l-5.4 2.9 5.3 5.2 5.4-3z" fill="#a17025"/>
<path d="M563.2 349.4l-5.4 3.2 5.3 5 5.4-3.3z" fill="#a06a24"/>
<path d="M554.1 347.9l-5.4 3.5 5.2 4.9 5.4-3.5z" fill="#a06523"/>
<path d="M544.9 346.8l-5.4 3.8 5.2 4.7 5.4-3.8z" fill="#a06022"/>
<path d="M535.8 346.1l-5.4 4 5.2 4.6 5.4-4.1z" fill="#a05e22"/>
<path d="M526.6 345.8l-5.4 4.3 5.2 4.4 5.4-4.4z" fill="#a05d22"/>
<path d="M517.4 345.9l-5.4 4.6 5.1 4.3 5.4-4.6z" fill="#a05e22"/>
<path d="M508.3 346.3l-5.5 4.9 5.1 4.2 5.5-4.9z" fill="#a06122"/>
<path d="M499.1 347.2l-5.5 5.1 5.1 4 5.5-5.2z" fill="#a06523"/>
<path d="M490 348.4l-5.5 5.4 5 3.9 5.5-5.5z" fill="#a16b24"/>
<path d="M480.9 350l-5.5 5.7 5 3.8 5.5-5.7z" fill="#a17125"/>
<path d="M471.8 352l-5.4 5.9 5 3.6 5.5-6z" fill="#a27826"/>
<path d="M462.8 354.4l-5.4 6.2 4.9 3.5 5.5-6.3z" fill="#a38127"/>
<path d="M604.3 363.9l-5.3 2.2 5.4 5.8 5.3-2.2z" fill="#a29228"/>
<path d="M595.2 360.7l-5.3 2.4 5.3 5.6 5.3-2.5z" fill="#a58c29"/>
<path d="M586.1 358l-5.3 2.7 5.3 5.5 5.3-2.8z" fill="#a48328"/>
<path d="M577 355.6l-5.3 3 5.3 5.3 5.3-3z" fill="#a37b27"/>
<path d="M567.8 353.7l-5.4 3.3 5.3 5.2 5.4-3.3z" fill="#a27526"/>
<path d="M558.7 352.1l-5.4 3.5 5.3 5.1 5.4-3.6z" fill="#a16f25"/>
<path d="M549.5 350.9l-5.4 3.8 5.2 4.9 5.4-3.9z" fill="#a16c25"/>
<path d="M540.3 350l-5.4 4.1 5.2 4.8 5.4-4.1z" fill="#a06924"/>
<path d="M531.1 349.6l-5.4 4.4 5.2 4.6 5.4-4.4z" fill="#a06824"/>
<path d="M521.9 349.5l-5.4 4.6 5.2 4.5 5.4-4.7z" fill="#a06824"/>
<path d="M512.7 349.9l-5.4 4.9 5.1 4.4 5.5-5z" fill="#a06a24"/>
<path d="M503.5 350.6l-5.5 5.2 5.1 4.2 5.5-5.2z" fill="#a16d25"/>
<path d="M494.3 351.7l-5.5 5.5 5.1 4.1 5.5-5.5z" fill="#a17125"/>
<path d="M485.2 353.2l-5.5 5.7 5 3.9 5.5-5.8z" fill="#a27726"/>
<path d="M476 355l-5.5 6 5 3.8 5.5-6.1z" fill="#a37e27"/>
<path d="M467 357.3l-5.4 6.3 4.9 3.7 5.5-6.3z" fill="#a48628"/>
<path d="M599.9 365.6l-5.3 2.5 5.3 5.8 5.3-2.5z" fill="#a29328"/>
<path d="M590.8 362.8l-5.3 2.8 5.3 5.7 5.3-2.8z" fill="#a58f29"/>
<path d="M581.6 360.3l-5.3 3 5.3 5.5 5.3-3.1z" fill="#a48628"/>
<path d="M572.5 358.2l-5.4 3.3 5.3 5.4 5.4-3.4z" fill="#a37f27"/>
<path d="M563.2 356.4l-5.4 3.6 5.3 5.2 5.4-3.6z" fill="#a27a26"/>
<path d="M554 355.1l-5.4 3.9 5.2 5.1 5.4-3.9z" fill="#a27526"/>
<path d="M544.8 354.1l-5.4 4.1 5.2 5 5.4-4.2z" fill="#a27225"/>
<path d="M535.6 353.6l-5.4 4.4 5.2 4.8 5.4-4.5z" fill="#a17125"/>
<path d="M526.3 353.4l-5.4 4.7 5.2 4.7 5.4-4.7z" fill="#a17125"/>
<path d="M517.1 353.6l-5.4 5 5.1 4.5 5.5-5z" fill="#a17225"/>
<path d="M507.9 354.2l-5.5 5.2 5.1 4.4 5.5-5.3z" fill="#a27426"/>
<path d="M498.7 355.1l-5.5 5.5 5.1 4.3 5.5-5.6z" fill="#a27826"/>
<path d="M489.5 356.5l-5.5 5.8 5 4.1 5.5-5.8z" fill="#a37d27"/>
<path d="M480.3 358.2l-5.5 6.1 5 4 5.5-6.1z" fill="#a48428"/>
<path d="M471.2 360.3l-5.4 6.3 5 3.9 5.5-6.4z" fill="#a58c29"/>
<path d="M595.5 367.7l-5.3 2.8 5.3 5.9 5.3-2.9z" fill="#a09328"/>
<path d="M586.3 365.1l-5.3 3.1 5.3 5.7 5.3-3.1z" fill="#a59129"/>
<path d="M577.1 362.8l-5.3 3.4 5.3 5.6 5.3-3.4z" fill="#a58a29"/>
<path d="M567.9 361l-5.4 3.6 5.3 5.4 5.4-3.7z" fill="#a48428"/>
<path d="M558.6 359.5l-5.4 3.9 5.3 5.3 5.4-4z" fill="#a38027"/>
<path d="M549.4 358.4l-5.4 4.2 5.2 5.2 5.4-4.2z" fill="#a37c27"/>
<path d="M540.1 357.7l-5.4 4.5 5.2 5 5.4-4.5z" fill="#a37a26"/>
<path d="M530.8 357.4l-5.4 4.7 5.2 4.9 5.4-4.8z" fill="#a27a26"/>
<path d="M521.6 357.5l-5.4 5 5.2 4.7 5.4-5.1z" fill="#a37a26"/>
<path d="M512.3 357.9l-5.5 5.3 5.1 4.6 5.5-5.3z" fill="#a37c27"/>
<path d="M503.1 358.8l-5.5 5.6 5.1 4.5 5.5-5.6z" fill="#a38027"/>
<path d="M493.8 360l-5.5 5.8 5.1 4.3 5.5-5.9z" fill="#a48428"/>
<path d="M484.6 361.6l-5.5 6.1 5 4.2 5.5-6.2z" fill="#a58b29"/>
<path d="M475.5 363.6l-5.5 6.4 5 4.1 5.5-6.4z" fill="#a59129"/>
<path d="M591 370.1l-5.3 3.1 5.3 5.9 5.3-3.2z" fill="#9e9427"/>
<path d="M581.8 367.7l-5.3 3.4 5.3 5.8 5.3-3.5z" fill="#a39229"/>
<path d="M572.5 365.7l-5.4 3.7 5.3 5.6 5.4-3.8z" fill="#a59029"/>
<path d="M563.2 364.1l-5.4 4 5.3 5.5 5.4-4z" fill="#a58a29"/>
<path d="M554 362.9l-5.4 4.2 5.3 5.3 5.4-4.3z" fill="#a48728"/>
<path d="M544.7 362l-5.4 4.5 5.2 5.2 5.4-4.6z" fill="#a48428"/>
<path d="M535.4 361.6l-5.4 4.8 5.2 5.1 5.4-4.9z" fill="#a48328"/>
<path d="M526.1 361.5l-5.4 5.1 5.2 4.9 5.4-5.1z" fill="#a48328"/>
<path d="M516.8 361.9l-5.5 5.3 5.2 4.8 5.5-5.4z" fill="#a48528"/>
<path d="M507.5 362.6l-5.5 5.6 5.1 4.7 5.5-5.7z" fill="#a48828"/>
<path d="M498.2 363.7l-5.5 5.9 5.1 4.5 5.5-5.9z" fill="#a58c29"/>
<path d="M489 365.2l-5.5 6.2 5.1 4.4 5.5-6.2z" fill="#a59129"/>
<path d="M479.8 367l-5.5 6.4 5 4.2 5.5-6.5z" fill="#a19328"/>
<path d="M586.5 372.7l-5.3 3.5 5.3 6 5.3-3.5z" fill="#9c9527"/>
<path d="M577.2 370.6l-5.4 3.7 5.3 5.8 5.3-3.8z" fill="#a09328"/>
<path d="M567.9 368.9l-5.4 4 5.3 5.7 5.4-4.1z" fill="#a39229"/>
<path d="M558.6 367.5l-5.4 4.3 5.3 5.5 5.4-4.4z" fill="#a59129"/>
<path d="M549.3 366.5l-5.4 4.6 5.3 5.4 5.4-4.6z" fill="#a58f29"/>
<path d="M539.9 366l-5.4 4.8 5.2 5.3 5.4-4.9z" fill="#a58d29"/>
<path d="M530.6 365.8l-5.4 5.1 5.2 5.1 5.4-5.2z" fill="#a58d29"/>
<path d="M521.3 366l-5.5 5.4 5.2 5 5.5-5.5z" fill="#a58e29"/>
<path d="M512 366.6l-5.5 5.7 5.1 4.8 5.5-5.7z" fill="#a59029"/>
<path d="M502.6 367.5l-5.5 5.9 5.1 4.7 5.5-6z" fill="#a49229"/>
<path d="M493.4 368.9l-5.5 6.2 5.1 4.6 5.5-6.3z" fill="#a19328"/>
<path d="M484.1 370.6l-5.5 6.5 5 4.4 5.5-6.5z" fill="#9d9527"/>
<path d="M581.9 375.7l-5.3 3.8 5.3 6 5.3-3.9z" fill="#999626"/>
<path d="M572.6 373.8l-5.4 4.1 5.3 5.9 5.4-4.1z" fill="#9c9527"/>
<path d="M563.2 372.3l-5.4 4.4 5.3 5.7 5.4-4.4z" fill="#9f9428"/>
<path d="M553.9 371.2l-5.4 4.6 5.3 5.6 5.4-4.7z" fill="#a19328"/>
<path d="M544.5 370.5l-5.4 4.9 5.2 5.5 5.4-5z" fill="#a29228"/>
<path d="M535.2 370.2l-5.4 5.2 5.2 5.3 5.4-5.2z" fill="#a29228"/>
<path d="M525.8 370.3l-5.5 5.5 5.2 5.2 5.5-5.5z" fill="#a29228"/>
<path d="M516.4 370.7l-5.5 5.7 5.2 5 5.5-5.8z" fill="#a19328"/>
<path d="M507.1 371.6l-5.5 6 5.1 4.9 5.5-6.1z" fill="#9f9428"/>
<path d="M497.8 372.8l-5.5 6.3 5.1 4.8 5.5-6.3z" fill="#9c9527"/>
<path d="M488.5 374.4l-5.5 6.5 5.1 4.6 5.5-6.6z" fill="#999626"/>
<path d="M577.3 379l-5.4 4.1 5.3 6.1 5.4-4.2z" fill="#969825"/>
<path d="M567.9 377.3l-5.4 4.4 5.3 5.9 5.4-4.5z" fill="#999726"/>
<path d="M558.5 376.1l-5.4 4.7 5.3 5.8 5.4-4.7z" fill="#9b9626"/>
<path d="M549.2 375.3l-5.4 5 5.3 5.6 5.4-5z" fill="#9c9527"/>
<path d="M539.8 374.8l-5.4 5.2 5.2 5.5 5.4-5.3z" fill="#9d9527"/>
<path d="M530.4 374.8l-5.4 5.5 5.2 5.4 5.5-5.6z" fill="#9c9527"/>
<path d="M521 375.1l-5.5 5.8 5.2 5.2 5.5-5.8z" fill="#9c9527"/>
<path d="M511.6 375.8l-5.5 6.1 5.2 5.1 5.5-6.1z" fill="#9a9626"/>
<path d="M502.2 376.9l-5.5 6.3 5.1 5 5.5-6.4z" fill="#989726"/>
<path d="M492.9 378.4l-5.5 6.6 5.1 4.8 5.5-6.7z" fill="#959925"/>
<path d="M572.6 382.5l-5.4 4.5 5.3 6.1 5.4-4.5z" fill="#919924"/>
<path d="M563.2 381.2l-5.4 4.7 5.3 6 5.4-4.8z" fill="#949925"/>
<path d="M553.8 380.2l-5.4 5 5.3 5.8 5.4-5.1z" fill="#969825"/>
<path d="M544.4 379.6l-5.4 5.3 5.3 5.7 5.4-5.4z" fill="#979825"/>
<path d="M535 379.4l-5.4 5.6 5.2 5.6 5.5-5.6z" fill="#979825"/>
<path d="M525.5 379.6l-5.5 5.8 5.2 5.4 5.5-5.9z" fill="#969825"/>
<path d="M516.1 380.2l-5.5 6.1 5.2 5.3 5.5-6.2z" fill="#959825"/>
<path d="M506.7 381.2l-5.5 6.4 5.2 5.2 5.5-6.4z" fill="#939924"/>
<path d="M497.4 382.5l-5.5 6.6 5.1 5 5.5-6.7z" fill="#8d9923"/>
<path d="M567.9 386.4l-5.4 4.8 5.3 6.2 5.4-4.9z" fill="#889822"/>
<path d="M558.5 385.3l-5.4 5.1 5.3 6 5.4-5.1z" fill="#8c9923"/>
<path d="M549 384.6l-5.4 5.3 5.3 5.9 5.4-5.4z" fill="#8e9923"/>
<path d="M539.6 384.3l-5.4 5.6 5.3 5.8 5.4-5.7z" fill="#8f9924"/>
<path d="M530.1 384.3l-5.5 5.9 5.2 5.6 5.5-6z" fill="#8e9923"/>
<path d="M520.7 384.8l-5.5 6.2 5.2 5.5 5.5-6.2z" fill="#8c9923"/>
<path d="M511.3 385.6l-5.5 6.4 5.2 5.4 5.5-6.5z" fill="#889822"/>
<path d="M501.8 386.9l-5.5 6.7 5.1 5.2 5.5-6.8z" fill="#839821"/>
<path d="M563.2 390.6l-5.4 5.1 5.3 6.2 5.4-5.2z" fill="#7e9721"/>
<path d="M553.7 389.8l-5.4 5.4 5.3 6.1 5.4-5.5z" fill="#819821"/>
<path d="M544.2 389.3l-5.4 5.7 5.3 6 5.4-5.7z" fill="#829821"/>
<path d="M534.8 389.2l-5.5 6 5.3 5.8 5.5-6z" fill="#829821"/>
<path d="M525.3 389.6l-5.5 6.2 5.2 5.7 5.5-6.3z" fill="#809721"/>
<path d="M515.8 390.3l-5.5 6.5 5.2 5.5 5.5-6.6z" fill="#7d9720"/>
<path d="M506.4 391.4l-5.5 6.8 5.2 5.4 5.5-6.8z" fill="#78971f"/>
<path d="M558.4 395.1l-5.4 5.5 5.3 6.3 5.4-5.5z" fill="#73961e"/>
<path d="M548.9 394.5l-5.4 5.7 5.3 6.1 5.4-5.8z" fill="#75961f"/>
<path d="M539.4 394.3l-5.5 6 5.3 6 5.5-6.1z" fill="#75961f"/>
<path d="M529.9 394.5l-5.5 6.3 5.3 5.9 5.5-6.3z" fill="#74961f"/>
<path d="M520.4 395.1l-5.5 6.6 5.2 5.7 5.5-6.6z" fill="#71961e"/>
<path d="M510.9 396.1l-5.5 6.8 5.2 5.6 5.5-6.9z" fill="#6d951d"/>
<path d="M553.6 399.9l-5.4 5.8 5.3 6.3 5.4-5.9z" fill="#67951c"/>
<path d="M544.1 399.6l-5.5 6.1 5.3 6.2 5.5-6.1z" fill="#68951c"/>
<path d="M534.5 399.6l-5.5 6.3 5.3 6.1 5.5-6.4z" fill="#67951c"/>
<path d="M525 400.1l-5.5 6.6 5.2 5.9 5.5-6.7z" fill="#65941c"/>
<path d="M515.5 400.9l-5.5 6.9 5.2 5.8 5.5-6.9z" fill="#62941b"/>
<path d="M548.8 405l-5.5 6.1 5.3 6.4 5.5-6.2z" fill="#5e931b"/>
<path d="M539.2 405l-5.5 6.4 5.3 6.3 5.5-6.5z" fill="#5d931b"/>
<path d="M529.7 405.3l-5.5 6.7 5.3 6.1 5.5-6.7z" fill="#5c931b"/>
<path d="M520.1 406l-5.5 6.9 5.2 6 5.5-7z" fill="#5a931b"/>
<path d="M543.9 410.5l-5.5 6.5 5.3 6.5 5.5-6.5z" fill="#55921a"/>
<path d="M534.3 410.7l-5.5 6.7 5.3 6.3 5.5-6.8z" fill="#54921a"/>
<path d="M524.8 411.2l-5.5 7 5.3 6.2 5.5-7.1z" fill="#53911a"/>
<path d="M539 416.2l-5.5 6.8 5.3 6.5 5.5-6.9z" fill="#4c9019"/>
<path d="M529.4 416.7l-5.5 7.1 5.3 6.4 5.5-7.1z" fill="#4a9019"/>
<path d="M534.1 422.3l-5.5 7.1 5.3 6.6 5.5-7.2z" fill="#428e18"/>
</g>
<clipPath id="cld"><path d="M408 335.3l2-2.3 2-1.7 2-2.2 2-2.1 2-1.5 2-2 2-1.9 2-1.9 2-1.4 2-1.8 2-1.7 2-1.2 2-1.6 2-1.5 2-1.1 2-1.4 2-1.4 2-1.3 2-.9 2-1.2 2-1.2 2-1.1 2-.8 2-1 2-.9 2-.9 2-.8 2-.6 2-.7 2-.7 2-.6 2-.5 2-.5 2-.4 2-.4 2-.2 2-.3 2-.2 2-.2 2-.1 2-0 2-0 2 0 2 .1 2 .1 2 .1 2 .1 2 .2 2 .2 2 .2 2 .2 2 .3 2 .3 2 .3 2 .3 2 .3 2 .3 2 .4 2 .4 2 .4 2 .4 2 .5 2 .5 2 .5 2 .5 2 .6 2 .5 2 .5 2 .6 2 .7 2 .6 2 .6 2 .8 2 .6 2 .7 2 .7 2 .7 2 .9 2 .7 2 .7 2 .8 2 .8 2 .9 2 .8 2 .8 2 .9 2 1 2 1 2 .9 2 .9 2 1 2 1.1 2 1.1 2 1 2 1.1 2 1.1 2 1.1 2 1.1 2 1.1 2 1.2 2 1.2 2 1.2 2 1.3 2 1.2 2 1.3 2 1.3 2 1.3 2 1.4 2 1.4 2 1.4 2 1.5 2 1.5 2 1.5 2 1.6 2 1.5 2 1.7 2 1.5 2 1.5 2 1.7 2 1.8 2 1.8 2 1.8 2 1.9 2 1.7 2 1.7 2 2 2 2 2 2-1 1.5-2-1.1-2-1-2-.9-2-.7-2-.8-2-.6-2-.6-2-.4-2-.5-2-.3-2-.3-2-.2-2-.2-2-.1-2 0-2 .1-2 .2-2 .2-2 .3-2 .3-2 .5-2 .5-2 .5-2 .6-2 .6-2 .7-2 .8-2 .8-2 .9-2 1-2 .8-2 1.1-2 1.1-2 1.2-2 1.3-2 1.3-2 1-2 1.4-2 1.5-2 1.6-2 1.2-2 1.7-2 1.8-2 1.8-2 1.4-2 1.9-2 2-2 1.5-2 2.1-2 1.6-2 2.2-2 2.3-2 1.8-2 2.4-2 1.9-2 2.5-2 1.9-2 2.7-2 2.7-2 2.1-2 2.8-2 2.2-2 3-2 2.3-2 .1-2-2.1-2-2.7-2-2.7-2-2-2-2.6-2-2.6-2-1.9-2-2.5-2-2.4-2-2.4-2-1.8-2-2.3-2-2.3-2-2.3-2-2.2-2-1.6-2-2.1-2-2.1-2-2.1-2-2-2-2-2-1.5-2-1.9-2-1.9-2-1.8-2-1.8-2-1.8-2-1.7-2-1.7-2-1.7-2-1.6-2-1.6-2-1.5-2-1.5-2-1.5-2-1.4-2-1.7-2-1.3-2-1.3-2-1.3-2-1.2-2-1.2-2-1.4-2-1.1-2-1.1-2-1.3-2-1-2-1-2-1.2-2-.9-2-.8-2-1-2-.8-2-.9-2-.7-2-.8-2-.6-2-.7-2-.7-2-.5-2-.6-2-.5z"/></clipPath><g clip-path="url(#cld)">
<path d="M408 340.9l2-2.3 2-1.7 2-2.2 2-2.1 2-1.5 2-2 2-1.9 2-1.9 2-1.4 2-1.8 2-1.7 2-1.2 2-1.6 2-1.5 2-1.1 2-1.4 2-1.4 2-1.3 2-.9 2-1.2 2-1.2 2-1.1 2-.8 2-1 2-.9 2-.9 2-.8 2-.6 2-.7 2-.7 2-.6 2-.5 2-.5 2-.4 2-.4 2-.2 2-.3 2-.2 2-.2 2-.1 2-0 2-0 2 0 2 .1 2 .1 2 .1 2 .1 2 .2 2 .2 2 .2 2 .2 2 .3 2 .3 2 .3 2 .3 2 .3 2 .3 2 .4 2 .4 2 .4 2 .4 2 .5 2 .5 2 .5 2 .5 2 .6 2 .5 2 .5 2 .6 2 .7 2 .6 2 .6 2 .8 2 .6 2 .7 2 .7 2 .7 2 .9 2 .7 2 .7 2 .8 2 .8 2 .9 2 .8 2 .8 2 .9 2 1 2 1 2 .9 2 .9 2 1 2 1.1 2 1.1 2 1 2 1.1 2 1.1 2 1.1 2 1.1 2 1.1 2 1.2 2 1.2 2 1.2 2 1.3 2 1.2 2 1.3 2 1.3 2 1.3 2 1.4 2 1.4 2 1.4 2 1.5 2 1.5 2 1.5 2 1.6 2 1.5 2 1.7 2 1.5 2 1.5 2 1.7 2 1.8 2 1.8 2 1.8 2 1.9 2 1.7 2 1.7 2 2 2 2 2 2" fill="none" stroke="#0a0602" stroke-opacity="0.22" stroke-width="6" stroke-linejoin="round"/>
<path d="M408 339l2-2.3 2-1.7 2-2.2 2-2.1 2-1.5 2-2 2-1.9 2-1.9 2-1.4 2-1.8 2-1.7 2-1.2 2-1.6 2-1.5 2-1.1 2-1.4 2-1.4 2-1.3 2-.9 2-1.2 2-1.2 2-1.1 2-.8 2-1 2-.9 2-.9 2-.8 2-.6 2-.7 2-.7 2-.6 2-.5 2-.5 2-.4 2-.4 2-.2 2-.3 2-.2 2-.2 2-.1 2-0 2-0 2 0 2 .1 2 .1 2 .1 2 .1 2 .2 2 .2 2 .2 2 .2 2 .3 2 .3 2 .3 2 .3 2 .3 2 .3 2 .4 2 .4 2 .4 2 .4 2 .5 2 .5 2 .5 2 .5 2 .6 2 .5 2 .5 2 .6 2 .7 2 .6 2 .6 2 .8 2 .6 2 .7 2 .7 2 .7 2 .9 2 .7 2 .7 2 .8 2 .8 2 .9 2 .8 2 .8 2 .9 2 1 2 1 2 .9 2 .9 2 1 2 1.1 2 1.1 2 1 2 1.1 2 1.1 2 1.1 2 1.1 2 1.1 2 1.2 2 1.2 2 1.2 2 1.3 2 1.2 2 1.3 2 1.3 2 1.3 2 1.4 2 1.4 2 1.4 2 1.5 2 1.5 2 1.5 2 1.6 2 1.5 2 1.7 2 1.5 2 1.5 2 1.7 2 1.8 2 1.8 2 1.8 2 1.9 2 1.7 2 1.7 2 2 2 2 2 2" fill="none" stroke="#0a0602" stroke-opacity="0.35" stroke-width="3.8" stroke-linejoin="round"/>
<path d="M408 337.4l2-2.3 2-1.7 2-2.2 2-2.1 2-1.5 2-2 2-1.9 2-1.9 2-1.4 2-1.8 2-1.7 2-1.2 2-1.6 2-1.5 2-1.1 2-1.4 2-1.4 2-1.3 2-.9 2-1.2 2-1.2 2-1.1 2-.8 2-1 2-.9 2-.9 2-.8 2-.6 2-.7 2-.7 2-.6 2-.5 2-.5 2-.4 2-.4 2-.2 2-.3 2-.2 2-.2 2-.1 2-0 2-0 2 0 2 .1 2 .1 2 .1 2 .1 2 .2 2 .2 2 .2 2 .2 2 .3 2 .3 2 .3 2 .3 2 .3 2 .3 2 .4 2 .4 2 .4 2 .4 2 .5 2 .5 2 .5 2 .5 2 .6 2 .5 2 .5 2 .6 2 .7 2 .6 2 .6 2 .8 2 .6 2 .7 2 .7 2 .7 2 .9 2 .7 2 .7 2 .8 2 .8 2 .9 2 .8 2 .8 2 .9 2 1 2 1 2 .9 2 .9 2 1 2 1.1 2 1.1 2 1 2 1.1 2 1.1 2 1.1 2 1.1 2 1.1 2 1.2 2 1.2 2 1.2 2 1.3 2 1.2 2 1.3 2 1.3 2 1.3 2 1.4 2 1.4 2 1.4 2 1.5 2 1.5 2 1.5 2 1.6 2 1.5 2 1.7 2 1.5 2 1.5 2 1.7 2 1.8 2 1.8 2 1.8 2 1.9 2 1.7 2 1.7 2 2 2 2 2 2" fill="none" stroke="#0a0602" stroke-opacity="0.7" stroke-width="3.1" stroke-linejoin="round"/>
</g>
<circle cx="411.2" cy="397.8" r="1" fill="#222"/>
<text x="406.6" y="397.2" class="t" text-anchor="end" textLength="17.8" lengthAdjust="spacingAndGlyphs">3000</text>
<circle cx="409.7" cy="374.2" r="1" fill="#222"/>
<text x="405.1" y="373.6" class="t" text-anchor="end" textLength="17.8" lengthAdjust="spacingAndGlyphs">4000</text>
<circle cx="408.3" cy="350.5" r="1" fill="#222"/>
<text x="403.7" y="349.9" class="t" text-anchor="end" textLength="17.8" lengthAdjust="spacingAndGlyphs">5000</text>
<circle cx="406.8" cy="326.9" r="1" fill="#222"/>
<text x="402.2" y="326.3" class="t" text-anchor="end" textLength="17.8" lengthAdjust="spacingAndGlyphs">6000</text>
<circle cx="405.3" cy="303.3" r="1" fill="#222"/>
<text x="400.7" y="302.7" class="t" text-anchor="end" textLength="17.8" lengthAdjust="spacingAndGlyphs">7000</text>
<circle cx="403.8" cy="279.4" r="1" fill="#222"/>
<text x="399.2" y="278.8" class="t" text-anchor="end" textLength="17.8" lengthAdjust="spacingAndGlyphs">8000</text>
<line x1="168.2" y1="636.7" x2="166.5" y2="500.5" stroke="#6e6e6e" stroke-width="0.9"/>
<line x1="139.9" y1="619.2" x2="136.8" y2="512.6" stroke="#6e6e6e" stroke-width="0.9"/>
<line x1="112" y1="633.7" x2="107" y2="524.8" stroke="#6e6e6e" stroke-width="0.9"/>
<line x1="84.1" y1="648.3" x2="77.2" y2="536.9" stroke="#6e6e6e" stroke-width="0.9"/>
<line x1="58.9" y1="697.8" x2="47.5" y2="549" stroke="#6e6e6e" stroke-width="0.9"/>
<line x1="202.2" y1="615.5" x2="203.4" y2="509.5" stroke="#6e6e6e" stroke-width="0.9"/>
<line x1="236.7" y1="626.2" x2="240.3" y2="518.5" stroke="#6e6e6e" stroke-width="0.9"/>
<line x1="271.1" y1="637" x2="277.3" y2="527.5" stroke="#6e6e6e" stroke-width="0.9"/>
<line x1="302.9" y1="682" x2="314.2" y2="536.5" stroke="#6e6e6e" stroke-width="0.9"/>
<line x1="56.2" y1="662.8" x2="167.8" y2="604.7" stroke="#6e6e6e" stroke-width="0.9"/>
<line x1="167.8" y1="604.7" x2="305.6" y2="647.8" stroke="#6e6e6e" stroke-width="0.9"/>
<line x1="54.8" y1="643.8" x2="167.6" y2="587.3" stroke="#6e6e6e" stroke-width="0.9"/>
<line x1="167.6" y1="587.3" x2="307" y2="629.2" stroke="#6e6e6e" stroke-width="0.9"/>
<line x1="53.3" y1="624.8" x2="167.4" y2="569.9" stroke="#6e6e6e" stroke-width="0.9"/>
<line x1="167.4" y1="569.9" x2="308.4" y2="610.6" stroke="#6e6e6e" stroke-width="0.9"/>
<line x1="51.8" y1="605.7" x2="167.1" y2="552.4" stroke="#6e6e6e" stroke-width="0.9"/>
<line x1="167.1" y1="552.4" x2="309.9" y2="592" stroke="#6e6e6e" stroke-width="0.9"/>
<line x1="50.4" y1="586.7" x2="166.9" y2="535" stroke="#6e6e6e" stroke-width="0.9"/>
<line x1="166.9" y1="535" x2="311.3" y2="573.4" stroke="#6e6e6e" stroke-width="0.9"/>
<line x1="48.9" y1="567.7" x2="166.7" y2="517.6" stroke="#6e6e6e" stroke-width="0.9"/>
<line x1="166.7" y1="517.6" x2="312.8" y2="554.8" stroke="#6e6e6e" stroke-width="0.9"/>
<line x1="47.5" y1="549" x2="166.5" y2="500.5" stroke="#6e6e6e" stroke-width="0.9"/>
<line x1="166.5" y1="500.5" x2="314.2" y2="536.5" stroke="#6e6e6e" stroke-width="0.9"/>
<path d="M168.2 636.7 L58.9 697.8 L200.5 757.2 L302.9 682 Z" fill="#ffff00" stroke="#3c3c1e" stroke-width="1"/>
<path d="M147.6 647.9l2.9-.2 2.8-.2 2.7-.1 2.7-.1 2.6-0 2.5 0 3.1 .1 3.7 .1 2.8 .2 2.3 .2 3.3 .3 3.3 .3 2.1 .3 4.2 .6 2 .3 4 .7 2 .4 3.8 .8 3.7 .9 1.9 .5 3.6 1 3.5 1 3.4 1.1 3.3 1.2 3.3 1.2 3.2 1.3 2.1 .9 2.5 1.1 3 1.4 2.9 1.5 1.5 .8 2.8 1.6 1.4 .8 2.7 1.7 1.3 .9 2.6 1.8 1.3 .9 2.3 1.7 1.5 1.2 1.2 1 2.2 1.9 1.3 1.2 1.1 1.1 1.5 1.5 1.7 1.8 1.1 1.3 1 1.2 1 1.3 1.1 1.5 1.2 1.7 1.1 1.7 1 1.7 .9 1.6 .8 1.5 .7 1.5 .7 1.6 .6 1.6" fill="none" stroke="#f6e400" stroke-width="0.8" stroke-linecap="round"/>
<path d="M133 656.2l3.3-.6 2.4-.4 2.4-.3 2.6-.3 3.2-.3 3-.3 2.9-.2 2.8-.1 2.7-.1 2.7-0 3.2 0 3.6 .1 3.2 .1 2.3 .1 2.6 .2 4.1 .4 2.2 .3 3.9 .5 2.4 .4 4 .7 2 .4 3.8 .8 3.7 .9 1.8 .5 3.6 1 3.5 1.1 3.4 1.2 3.3 1.3 3.2 1.3 1.6 .7 3.1 1.4 3 1.5 1.5 .8 2.9 1.6 2.3 1.4 1.9 1.2 2.1 1.4 1.8 1.3 1.4 1.1 2.3 1.9 1.2 1 1.6 1.4 1.9 1.8 1.1 1.1 1.1 1.1 1.5 1.7 1.5 1.8 1 1.3 .9 1.3 .9 1.3 .9 1.4 .9 1.6 .9 1.6 .8 1.6 .7 1.6 .6 1.6 .6 1.6 .5 1.5 .4 1.5 .4 1.5 .4 1.8M71.1 691.1l-1.4 2.2-.7 1.2-.7 1.3-1 2.2-.7 1.6-.5 1.3" fill="none" stroke="#eecc00" stroke-width="1.0" stroke-linecap="round"/>
<path d="M78.7 706.1l.3-1.4 .4-1.4 .4-1.4 .7-2 .8-1.9 .6-1.2 .7-1.3 1.4-2.3 .8-1.2 1.2-1.7 1.3-1.6 1.2-1.3 1.7-1.8 1.8-1.7 1.4-1.3 2.3-1.9 2.4-1.8 1.3-.9 2.6-1.7 2.7-1.7 2.9-1.6 3-1.5 2.5-1.1 2.3-1 3.4-1.3 2.7-1 2.7-.9 3-.9 2.8-.8 2.1-.5 4.1-.9 2.5-.5 2.3-.4 2.6-.4 3.3-.4 3.2-.3 3-.2 2.9-.2 2.8-.1 2.7-0 2.6 0 3.4 .1 4 .2 2.3 .2 2.3 .2 4.4 .5 2.1 .3 4.1 .7 2 .4 3.9 .8 3.8 .9 1.8 .5 3.6 1.1 3.5 1.2 3.4 1.2 3.3 1.3 1.7 .7 3 1.4 3 1.5 2.1 1.2 2.2 1.3 2.6 1.7 1.5 1 2.1 1.5 1.7 1.4 1.2 1 2.4 2.1 1.1 1.1 1.1 1.1 1.6 1.8 1.5 1.8 1 1.2 .9 1.3 .9 1.3 1 1.6 1 1.7 .8 1.6 .7 1.6 .6 1.6 .6 1.6 .5 1.5 .4 1.5 .3 1.5 .2 1.5 .2 1.9 .1 2-0 1.8-.1 1.4-.1 1.4-.4 2.3" fill="none" stroke="#e4b000" stroke-width="1.1" stroke-linecap="round"/>
<path d="M95.3 713.1l-.1-1.6 0-1.7 .2-1.8 .3-1.9 .4-2 .4-1.3 .5-1.3 .7-1.6 1.1-2.2 .7-1.2 1-1.6 1.4-1.9 .9-1.1 1.9-2.1 1.4-1.4 1.8-1.6 2.3-1.9 2.5-1.8 1.7-1.1 2.4-1.4 1.7-1 2.8-1.4 3.2-1.5 3.5-1.4 1.8-.6 3.8-1.2 2-.6 4.1-1 2.4-.5 2.3-.4 3-.5 3.4-.4 3.2-.3 3-.2 2.9-.1 2.7-0 2.6 0 3.3 .1 4.1 .3 2.3 .2 3 .4 3.5 .5 3.1 .6 2.9 .6 3.8 1 3.6 1.1 3.5 1.2 3.4 1.3 3.2 1.4 3.1 1.5 2 1.1 2.3 1.4 2.6 1.7 1.4 1 2 1.5 1.8 1.5 1.2 1.1 1.9 1.8 1.4 1.6 1 1.2 1 1.2 1.2 1.7 1.1 1.8 .9 1.7 .8 1.7 .7 1.6 .5 1.6 .4 1.5 .3 1.5 .2 1.5 .1 1.5 .1 1.4-0 1.9-.2 2.2-.2 1.4-.3 1.3-.7 2.3-.6 1.6-.6 1.4-1.3 2.4-.7 1.2-1.7 2.4-1.8 2.3-1.1 1.2-2.3 2.2-2.5 2.1-2.8 2.1-3 2-3.3 1.9-3.1 1.6-2.4 1.1-4 1.6-2.2 .8-4.2 1.3-2.8 .8-2.6 .6" fill="none" stroke="#d8900a" stroke-width="1.2" stroke-linecap="round"/>
<path d="M127.6 726.5l-1.7-1.5-1.4-1.4-1.8-2.2-.9-1.3-.8-1.3-.9-1.8-.7-1.9-.5-1.7-.3-1.7-.1-1.6 0-1.5 .1-1.5 .2-1.4 .6-2 .8-1.9 .6-1.2 1.1-1.8 1.2-1.6 1.5-1.7 1.4-1.4 2.3-1.9 2.6-1.8 2.9-1.7 3.2-1.5 3.5-1.4 1.9-.6 3.6-1 2.8-.6 2.4-.4 2.6-.4 3.3-.3 3-.2 3-0 3.9 .1 3.5 .3 2.3 .3 4.3 .7 2 .4 3.9 1 3.6 1.2 3.4 1.4 3.1 1.5 1.5 .8 2.8 1.8 1.3 1 2.4 2 1.1 1.1 1.3 1.4 1.6 2 1 1.5 .8 1.4 .7 1.5 .6 1.5 .5 1.6 .3 1.7 .1 1.9-.1 1.6-.2 1.4-.3 1.4-.8 2.5-.6 1.4-.9 1.7-1.3 1.9-1.9 2.3-1.1 1.1-2.4 2.1-2.8 2-3.2 1.8-2 1-3.5 1.5-3.3 1.1-3.3 .9-2.5 .6-3.3 .6-3.7 .5-3.4 .3-3.2 .1-3-0-4-.2-4.1-.5-1.4-.2" fill="none" stroke="#c86a14" stroke-width="1.3" stroke-linecap="round"/>
<circle cx="58.9" cy="697.8" r="1.1" fill="#1a1a1a"/>
<circle cx="94.3" cy="712.6" r="1.1" fill="#1a1a1a"/>
<circle cx="129.7" cy="727.5" r="1.1" fill="#1a1a1a"/>
<circle cx="165.1" cy="742.4" r="1.1" fill="#1a1a1a"/>
<circle cx="200.5" cy="757.2" r="1.1" fill="#1a1a1a"/>
<circle cx="302.9" cy="682" r="1.1" fill="#1a1a1a"/>
<circle cx="277.3" cy="700.8" r="1.1" fill="#1a1a1a"/>
<circle cx="251.7" cy="719.6" r="1.1" fill="#1a1a1a"/>
<circle cx="226.1" cy="738.4" r="1.1" fill="#1a1a1a"/>
<g shape-rendering="crispEdges">
<path d="M167.5 580l-4.6-2.3 5.6-1.3 4.6 2.4z" fill="#296110"/>
<path d="M171.7 579l-4.6-2.4 5.7-1.1 4.6 2.5z" fill="#295d10"/>
<path d="M164.1 578.3l-4.7-2.1 5.6-1.4 4.7 2.2z" fill="#2a5c10"/>
<path d="M176 578.2l-4.6-2.5 5.7-.9 4.6 2.6z" fill="#2a580f"/>
<path d="M168.3 577.3l-4.7-2.2 5.7-1.2 4.7 2.3z" fill="#2c570f"/>
<path d="M160.7 576.7l-4.8-1.9 5.6-1.5 4.8 2z" fill="#2d560f"/>
<path d="M180.3 577.7l-4.6-2.6 5.8-.6 4.6 2.6z" fill="#2a520e"/>
<path d="M172.6 576.4l-4.7-2.3 5.7-.9 4.7 2.4z" fill="#2c510e"/>
<path d="M164.9 575.7l-4.8-2 5.7-1.3 4.7 2.1z" fill="#2d500e"/>
<path d="M157.2 575.3l-4.8-1.7 5.6-1.6 4.8 1.8z" fill="#2d4e0e"/>
<path d="M184.6 577.3l-4.6-2.7 5.8-.4 4.5 2.7z" fill="#294b0d"/>
<path d="M176.9 575.8l-4.6-2.4 5.8-.7 4.6 2.4z" fill="#2b4a0d"/>
<path d="M169.2 574.8l-4.7-2.1 5.7-1 4.7 2.2z" fill="#2c480d"/>
<path d="M161.5 574.2l-4.8-1.8 5.7-1.3 4.8 1.9z" fill="#2c460d"/>
<path d="M153.7 574.1l-4.9-1.5 5.6-1.7 4.9 1.6z" fill="#2b430c"/>
<path d="M189 577.1l-4.5-2.7 5.9-.2 4.5 2.8z" fill="#27430c"/>
<path d="M181.3 575.4l-4.6-2.5 5.8-.5 4.6 2.5z" fill="#29420c"/>
<path d="M173.5 574.1l-4.7-2.2 5.8-.8 4.7 2.2z" fill="#29400c"/>
<path d="M165.8 573.3l-4.8-1.9 5.7-1.1 4.8 1.9z" fill="#293d0c"/>
<path d="M158 573l-4.9-1.6 5.7-1.4 4.9 1.6z" fill="#293a0b"/>
<path d="M150.2 573.1l-4.9-1.3 5.6-1.7 4.9 1.3z" fill="#27370b"/>
<path d="M193.4 577l-4.5-2.8 5.9 .1 4.5 2.9z" fill="#233a0b"/>
<path d="M185.6 575.1l-4.6-2.5 5.9-.2 4.6 2.6z" fill="#24380a"/>
<path d="M177.9 573.6l-4.7-2.3 5.8-.6 4.7 2.3z" fill="#25360a"/>
<path d="M170.1 572.6l-4.8-2 5.8-.9 4.7 2z" fill="#26330a"/>
<path d="M162.3 572l-4.8-1.7 5.7-1.2 4.8 1.7z" fill="#25300a"/>
<path d="M154.5 571.9l-4.9-1.4 5.7-1.5 4.9 1.4z" fill="#232c09"/>
<path d="M146.6 572.3l-5-1 5.6-1.8 5 1.1z" fill="#1f2808"/>
<path d="M197.8 577.2l-4.4-2.9 5.9 .3 4.4 3z" fill="#1e3009"/>
<path d="M190.1 575.1l-4.5-2.6 5.9-0 4.5 2.7z" fill="#1f2d08"/>
<path d="M182.3 573.3l-4.6-2.3 5.9-.3 4.6 2.4z" fill="#202b08"/>
<path d="M174.5 572.1l-4.7-2 5.8-.6 4.7 2.1z" fill="#1f2708"/>
<path d="M166.6 571.3l-4.8-1.7 5.8-1 4.8 1.8z" fill="#1e2308"/>
<path d="M158.8 570.9l-4.9-1.4 5.7-1.3 4.9 1.5z" fill="#1b1f07"/>
<path d="M150.9 571l-5-1.1 5.7-1.6 5 1.2z" fill="#171a06"/>
<path d="M143 571.6l-5-.8 5.6-1.9 5 .9z" fill="#121405"/>
<path d="M202.3 577.6l-4.4-3 6 .6 4.4 3z" fill="#172407"/>
<path d="M194.5 575.2l-4.5-2.7 5.9 .2 4.5 2.8z" fill="#172106"/>
<path d="M186.7 573.2l-4.6-2.4 5.9-.1 4.6 2.5z" fill="#171d06"/>
<path d="M178.9 571.7l-4.7-2.1 5.9-.4 4.7 2.2z" fill="#151905"/>
<path d="M171 570.7l-4.8-1.8 5.8-.7 4.8 1.9z" fill="#121505"/>
<path d="M163.1 570.1l-4.9-1.5 5.8-1.1 4.9 1.6z" fill="#0e0f04"/>
<path d="M155.2 570l-4.9-1.2 5.7-1.4 4.9 1.3z" fill="#0d0e03"/>
<path d="M147.3 570.3l-5-.9 5.7-1.7 5 1z" fill="#0d0e03"/>
<path d="M139.4 571.2l-5.1-.6 5.6-2 5.1 .6z" fill="#0d0e03"/>
<path d="M206.8 578.2l-4.4-3 6 .8 4.3 3.1z" fill="#0e1604"/>
<path d="M199 575.5l-4.5-2.8 6 .5 4.4 2.8z" fill="#0d1204"/>
<path d="M191.2 573.3l-4.6-2.5 6 .2 4.6 2.5z" fill="#0c0e03"/>
<path d="M183.3 571.6l-4.7-2.2 5.9-.2 4.7 2.3z" fill="#0d0e03"/>
<path d="M175.4 570.3l-4.8-1.9 5.9-.5 4.7 2z" fill="#0d0e03"/>
<path d="M167.5 569.5l-4.8-1.6 5.8-.8 4.8 1.7z" fill="#0e0e03"/>
<path d="M159.6 569.1l-4.9-1.3 5.8-1.1 4.9 1.4z" fill="#0e0e03"/>
<path d="M151.6 569.2l-5-1 5.7-1.5 5 1z" fill="#0e0e03"/>
<path d="M143.7 569.8l-5.1-.7 5.7-1.8 5.1 .7z" fill="#0e0e03"/>
<path d="M135.7 570.9l-5.1-.3 5.6-2.1 5.1 .4z" fill="#0e0e03"/>
<path d="M211.3 579l-4.3-3.1 6 1 4.3 3.2z" fill="#090e03"/>
<path d="M203.5 576.1l-4.4-2.8 6 .7 4.4 2.9z" fill="#0b0e03"/>
<path d="M195.7 573.6l-4.5-2.6 6 .4 4.5 2.6z" fill="#0c0e03"/>
<path d="M187.8 571.6l-4.6-2.3 6 .1 4.6 2.3z" fill="#0d0e03"/>
<path d="M179.9 570.1l-4.7-2 5.9-.3 4.7 2z" fill="#0e0e03"/>
<path d="M172 569l-4.8-1.7 5.9-.6 4.8 1.7z" fill="#0e0e04"/>
<path d="M164 568.4l-4.9-1.4 5.8-.9 4.9 1.4z" fill="#0e0e04"/>
<path d="M156 568.3l-5-1.1 5.8-1.2 5 1.1z" fill="#0f0e04"/>
<path d="M148 568.7l-5-.7 5.7-1.5 5 .8z" fill="#0f0e04"/>
<path d="M140 569.5l-5.1-.4 5.6-1.9 5.1 .5z" fill="#0f0e04"/>
<path d="M132 570.8l-5.2-.1 5.6-2.2 5.2 .2z" fill="#0e0e04"/>
<path d="M215.9 579.9l-4.3-3.2 6 1.3 4.3 3.2z" fill="#090e03"/>
<path d="M208.1 576.8l-4.4-2.9 6 1 4.4 3z" fill="#0b0e03"/>
<path d="M200.2 574.1l-4.5-2.6 6 .6 4.5 2.7z" fill="#0c0e03"/>
<path d="M192.3 571.9l-4.6-2.4 6 .3 4.6 2.4z" fill="#0e0e03"/>
<path d="M184.4 570.1l-4.7-2.1 6-0 4.7 2.1z" fill="#0e0e04"/>
<path d="M176.4 568.8l-4.8-1.8 5.9-.3 4.8 1.8z" fill="#0f0e04"/>
<path d="M168.4 568l-4.9-1.5 5.9-.7 4.9 1.5z" fill="#0f0e04"/>
<path d="M160.4 567.6l-5-1.1 5.8-1 4.9 1.2z" fill="#0f0e04"/>
<path d="M152.4 567.7l-5-.8 5.8-1.3 5 .9z" fill="#0f0e04"/>
<path d="M144.4 568.3l-5.1-.5 5.7-1.6 5.1 .6z" fill="#0f0e04"/>
<path d="M136.3 569.3l-5.1-.2 5.6-1.9 5.1 .2z" fill="#0f0e04"/>
<path d="M128.3 570.9l-5.2 .1 5.5-2.3 5.2-.1z" fill="#0f0e04"/>
<path d="M220.5 581.1l-4.2-3.2 6.1 1.5 4.2 3.3z" fill="#090e03"/>
<path d="M212.7 577.7l-4.3-3 6.1 1.2 4.3 3z" fill="#0b0e03"/>
<path d="M204.8 574.8l-4.5-2.7 6.1 .9 4.4 2.8z" fill="#0d0e03"/>
<path d="M196.9 572.3l-4.6-2.4 6 .6 4.5 2.5z" fill="#0e0e03"/>
<path d="M188.9 570.3l-4.7-2.1 6 .2 4.6 2.2z" fill="#0e0e04"/>
<path d="M180.9 568.8l-4.8-1.8 6-.1 4.7 1.9z" fill="#0f0e04"/>
<path d="M172.9 567.7l-4.9-1.5 5.9-.4 4.8 1.6z" fill="#0f0d04"/>
<path d="M164.9 567.1l-4.9-1.2 5.9-.7 4.9 1.3z" fill="#0f0d04"/>
<path d="M156.8 566.9l-5-.9 5.8-1.1 5 1z" fill="#0f0d04"/>
<path d="M148.7 567.3l-5.1-.6 5.8-1.4 5.1 .6z" fill="#0f0d04"/>
<path d="M140.7 568.1l-5.1-.3 5.7-1.7 5.1 .3z" fill="#0f0d04"/>
<path d="M132.6 569.4l-5.2 .1 5.6-2 5.2-0z" fill="#0f0d04"/>
<path d="M124.6 571.2l-5.2 .4 5.5-2.3 5.2-.3z" fill="#0f0e04"/>
<path d="M225.1 582.5l-4.2-3.3 6.1 1.8 4.2 3.3z" fill="#090e03"/>
<path d="M217.3 578.9l-4.3-3 6.1 1.5 4.3 3.1z" fill="#0b0e03"/>
<path d="M209.4 575.7l-4.4-2.8 6.1 1.1 4.4 2.8z" fill="#0d0e03"/>
<path d="M201.5 573l-4.5-2.5 6.1 .8 4.5 2.6z" fill="#0e0e03"/>
<path d="M193.5 570.7l-4.6-2.2 6.1 .5 4.6 2.3z" fill="#0f0e04"/>
<path d="M185.5 568.9l-4.7-1.9 6 .2 4.7 2z" fill="#0f0e04"/>
<path d="M177.4 567.6l-4.8-1.6 6-.2 4.8 1.7z" fill="#0f0d04"/>
<path d="M169.4 566.7l-4.9-1.3 5.9-.5 4.9 1.4z" fill="#0f0c04"/>
<path d="M161.3 566.4l-5-1 5.9-.8 5 1.1z" fill="#0f0c04"/>
<path d="M153.2 566.5l-5.1-.7 5.8-1.2 5 .7z" fill="#0f0c04"/>
<path d="M145.1 567.1l-5.1-.3 5.8-1.5 5.1 .4z" fill="#0f0c04"/>
<path d="M137 568.1l-5.2-0 5.7-1.8 5.2 .1z" fill="#0f0c04"/>
<path d="M128.9 569.7l-5.2 .3 5.6-2.1 5.2-.3z" fill="#0f0d04"/>
<path d="M120.8 571.7l-5.3 .6 5.5-2.4 5.3-.6z" fill="#0f0d04"/>
<path d="M229.7 584.1l-4.1-3.4 6.1 2 4.1 3.4z" fill="#090e03"/>
<path d="M221.9 580.2l-4.3-3.1 6.1 1.7 4.2 3.2z" fill="#0b0e03"/>
<path d="M214 576.8l-4.4-2.8 6.1 1.4 4.3 2.9z" fill="#0d0e03"/>
<path d="M206.1 573.8l-4.5-2.6 6.1 1.1 4.5 2.6z" fill="#0e0e03"/>
<path d="M198.1 571.3l-4.6-2.3 6.1 .7 4.6 2.3z" fill="#0f0e04"/>
<path d="M190.1 569.3l-4.7-2 6.1 .4 4.7 2.1z" fill="#0f0d04"/>
<path d="M182 567.7l-4.8-1.7 6 .1 4.8 1.8z" fill="#0f0c04"/>
<path d="M173.9 566.6l-4.9-1.4 6-.3 4.9 1.4z" fill="#0f0c04"/>
<path d="M165.8 566l-5-1.1 5.9-.6 5 1.1z" fill="#0f0b04"/>
<path d="M157.6 565.9l-5-.8 5.9-.9 5 .8z" fill="#0f0b04"/>
<path d="M149.5 566.2l-5.1-.4 5.8-1.2 5.1 .5z" fill="#0f0b04"/>
<path d="M141.3 567l-5.2-.1 5.7-1.6 5.2 .2z" fill="#0f0b04"/>
<path d="M133.2 568.3l-5.2 .2 5.7-1.9 5.2-.2z" fill="#0f0c04"/>
<path d="M125.1 570.1l-5.3 .6 5.6-2.2 5.3-.5z" fill="#0f0c04"/>
<path d="M116.9 572.4l-5.3 .9 5.5-2.5 5.3-.8z" fill="#0f0d04"/>
<path d="M234.4 585.9l-4.1-3.4 6.1 2.3 4.1 3.5z" fill="#090e03"/>
<path d="M226.6 581.8l-4.2-3.2 6.1 2 4.2 3.2z" fill="#0b0e03"/>
<path d="M218.7 578.1l-4.3-2.9 6.1 1.6 4.3 3z" fill="#0d0e03"/>
<path d="M210.7 574.9l-4.4-2.6 6.1 1.3 4.4 2.7z" fill="#0e0e03"/>
<path d="M202.7 572.2l-4.6-2.4 6.1 1 4.5 2.4z" fill="#0f0e04"/>
<path d="M194.7 569.9l-4.7-2.1 6.1 .7 4.6 2.1z" fill="#0f0d04"/>
<path d="M186.6 568l-4.8-1.8 6.1 .3 4.7 1.8z" fill="#0f0c04"/>
<path d="M178.5 566.7l-4.9-1.5 6-0 4.8 1.5z" fill="#0f0b04"/>
<path d="M170.3 565.8l-4.9-1.2 6-.3 4.9 1.2z" fill="#0f0b03"/>
<path d="M162.2 565.4l-5-.8 5.9-.7 5 .9z" fill="#0f0a03"/>
<path d="M154 565.5l-5.1-.5 5.9-1 5.1 .6z" fill="#0f0a03"/>
<path d="M145.8 566.1l-5.1-.2 5.8-1.3 5.1 .2z" fill="#0f0a03"/>
<path d="M137.6 567.2l-5.2 .1 5.7-1.6 5.2-.1z" fill="#0f0b03"/>
<path d="M129.4 568.8l-5.2 .5 5.6-2 5.2-.4z" fill="#0f0b04"/>
<path d="M121.2 570.8l-5.3 .8 5.5-2.3 5.3-.8z" fill="#0f0c04"/>
<path d="M113.1 573.3l-5.3 1.1 5.4-2.6 5.3-1.1z" fill="#0f0d04"/>
<path d="M239.1 587.9l-4-3.5 6.1 2.5 4 3.5z" fill="#090e02"/>
<path d="M231.2 583.6l-4.2-3.2 6.1 2.2 4.1 3.3z" fill="#0b0e03"/>
<path d="M223.3 579.7l-4.3-3 6.1 1.9 4.3 3z" fill="#0d0e03"/>
<path d="M215.4 576.2l-4.4-2.7 6.2 1.6 4.4 2.7z" fill="#0e0e03"/>
<path d="M207.4 573.2l-4.5-2.4 6.1 1.2 4.5 2.5z" fill="#0f0e04"/>
<path d="M199.3 570.6l-4.6-2.1 6.1 .9 4.6 2.2z" fill="#0f0d04"/>
<path d="M191.2 568.6l-4.7-1.8 6.1 .6 4.7 1.9z" fill="#0f0c04"/>
<path d="M183.1 567l-4.8-1.5 6.1 .2 4.8 1.6z" fill="#0f0b04"/>
<path d="M174.9 565.9l-4.9-1.2 6-.1 4.9 1.3z" fill="#0f0a03"/>
<path d="M166.7 565.2l-5-.9 6-.4 5 1z" fill="#0f0a03"/>
<path d="M158.5 565.1l-5.1-.6 5.9-.8 5.1 .7z" fill="#0f0903"/>
<path d="M150.3 565.4l-5.1-.3 5.9-1.1 5.1 .3z" fill="#0f0903"/>
<path d="M142 566.3l-5.2 .1 5.8-1.4 5.2-0z" fill="#0f0a03"/>
<path d="M133.8 567.6l-5.2 .4 5.7-1.7 5.2-.3z" fill="#0f0a03"/>
<path d="M125.6 569.4l-5.3 .7 5.6-2 5.3-.7z" fill="#0f0b03"/>
<path d="M117.4 571.7l-5.3 1.1 5.5-2.3 5.3-1z" fill="#0f0b04"/>
<path d="M109.2 574.5l-5.3 1.4 5.4-2.6 5.3-1.3z" fill="#0f0d04"/>
<path d="M243.8 590.2l-4-3.5 6.1 2.8 4 3.6z" fill="#080e02"/>
<path d="M235.9 585.6l-4.1-3.3 6.2 2.5 4.1 3.3z" fill="#0a0e03"/>
<path d="M228 581.4l-4.2-3 6.2 2.1 4.2 3.1z" fill="#0c0e03"/>
<path d="M220.1 577.7l-4.4-2.8 6.2 1.8 4.3 2.8z" fill="#0e0e03"/>
<path d="M212.1 574.4l-4.5-2.5 6.2 1.5 4.5 2.5z" fill="#0f0e04"/>
<path d="M204 571.6l-4.6-2.2 6.2 1.2 4.6 2.3z" fill="#0f0d04"/>
<path d="M195.9 569.3l-4.7-1.9 6.1 .8 4.7 2z" fill="#0f0c04"/>
<path d="M187.7 567.5l-4.8-1.6 6.1 .5 4.8 1.7z" fill="#0f0b03"/>
<path d="M179.5 566.1l-4.9-1.3 6.1 .2 4.9 1.4z" fill="#0f0a03"/>
<path d="M171.3 565.2l-5-1 6-.2 5 1.1z" fill="#0f0903"/>
<path d="M163 564.8l-5-.7 6-.5 5 .7z" fill="#0f0903"/>
<path d="M154.8 564.9l-5.1-.3 5.9-.8 5.1 .4z" fill="#0f0803"/>
<path d="M146.5 565.5l-5.2-0 5.8-1.2 5.2 .1z" fill="#0f0803"/>
<path d="M138.2 566.6l-5.2 .3 5.8-1.5 5.2-.3z" fill="#0f0903"/>
<path d="M130 568.2l-5.3 .6 5.7-1.8 5.3-.6z" fill="#0f0903"/>
<path d="M121.7 570.2l-5.3 1 5.6-2.1 5.3-.9z" fill="#0f0a03"/>
<path d="M113.5 572.8l-5.3 1.3 5.5-2.4 5.3-1.3z" fill="#0f0b04"/>
<path d="M105.3 575.8l-5.4 1.6 5.4-2.7 5.4-1.6z" fill="#0f0c04"/>
<path d="M248.5 592.6l-4-3.6 6.1 3 3.9 3.6z" fill="#080e02"/>
<path d="M240.7 587.8l-4.1-3.3 6.2 2.7 4 3.4z" fill="#0a0e03"/>
<path d="M232.8 583.4l-4.2-3.1 6.2 2.4 4.2 3.1z" fill="#0c0e03"/>
<path d="M224.8 579.4l-4.3-2.8 6.2 2.1 4.3 2.9z" fill="#0e0e03"/>
<path d="M216.8 575.9l-4.4-2.6 6.2 1.7 4.4 2.6z" fill="#0f0e04"/>
<path d="M208.7 572.9l-4.5-2.3 6.2 1.4 4.5 2.3z" fill="#0f0d04"/>
<path d="M200.6 570.3l-4.7-2 6.2 1.1 4.6 2z" fill="#0f0b04"/>
<path d="M192.4 568.2l-4.8-1.7 6.2 .7 4.7 1.7z" fill="#0f0a03"/>
<path d="M184.2 566.6l-4.9-1.4 6.1 .4 4.8 1.4z" fill="#0f0903"/>
<path d="M175.9 565.4l-4.9-1.1 6.1 .1 4.9 1.1z" fill="#0f0803"/>
<path d="M167.6 564.8l-5-.8 6-.3 5 .8z" fill="#0f0803"/>
<path d="M159.4 564.6l-5.1-.4 6-.6 5.1 .5z" fill="#0f0803"/>
<path d="M151 565l-5.2-.1 5.9-.9 5.2 .2z" fill="#0f0703"/>
<path d="M142.7 565.8l-5.2 .2 5.8-1.3 5.2-.2z" fill="#0f0803"/>
<path d="M134.3 566.2l-3.9 .8 4.5-.9 4.4-.4z" fill="#0f0803"/>
<path d="M125.9 568.1l-5.1 1.8 5.9-1 5.1-1.7z" fill="#0f0903"/>
<path d="M117.6 570.4l-5.1 2.1 5.8-1.3 5.1-2z" fill="#0f0a03"/>
<path d="M109.3 573.2l-5.1 2.4 5.8-1.6 5.1-2.4z" fill="#0f0b04"/>
<path d="M101 576.5l-5 2.7 5.7-1.9 5-2.7z" fill="#0f0c04"/>
<path d="M253.2 595.3l-3.9-3.6 6.2 3.3 3.9 3.6z" fill="#080d02"/>
<path d="M245.4 590.2l-4-3.4 6.2 2.9 4 3.4z" fill="#090e03"/>
<path d="M237.5 585.5l-4.2-3.1 6.2 2.6 4.1 3.2z" fill="#0c0e03"/>
<path d="M229.6 581.3l-4.3-2.9 6.2 2.3 4.2 2.9z" fill="#0e0e03"/>
<path d="M221.5 577.6l-4.4-2.6 6.2 2 4.4 2.7z" fill="#0f0e04"/>
<path d="M213.4 574.3l-4.5-2.3 6.2 1.7 4.5 2.4z" fill="#0f0d04"/>
<path d="M205.3 571.4l-4.6-2.1 6.2 1.3 4.6 2.1z" fill="#0f0b04"/>
<path d="M197.1 569.1l-4.7-1.8 6.2 1 4.7 1.8z" fill="#0f0a03"/>
<path d="M188.9 567.2l-4.8-1.5 6.2 .7 4.8 1.5z" fill="#0f0903"/>
<path d="M180.6 565.8l-4.9-1.1 6.1 .3 4.9 1.2z" fill="#0f0803"/>
<path d="M172.3 564.9l-5-.8 6.1-0 5 .9z" fill="#0f0703"/>
<path d="M164 563.6l-5.1 .4 6 .6 5.1-.3z" fill="#0f0703"/>
<path d="M155.6 563.7l-5.1 .7 6 .2 5.1-.7z" fill="#0f0703"/>
<path d="M147.2 564.3l-5.1 1 6-.1 5.1-1z" fill="#0f0703"/>
<path d="M138.8 565.4l-5.1 1.4 6-.4 5.1-1.3z" fill="#0f0703"/>
<path d="M130.4 567l-5.1 1.7 5.9-.8 5.1-1.6z" fill="#0f0803"/>
<path d="M122 569.1l-5.1 2 5.9-1.1 5.1-2z" fill="#0f0903"/>
<path d="M113.7 571.7l-5.1 2.3 5.8-1.4 5.1-2.3z" fill="#0f0a03"/>
<path d="M105.3 574.7l-5.1 2.7 5.8-1.7 5.1-2.6z" fill="#0f0b04"/>
<path d="M97 578.3l-5 3 5.7-2 5-2.9z" fill="#0f0c04"/>
<path d="M258 598.1l-3.9-3.6 6.2 3.5 3.8 3.7z" fill="#070d02"/>
<path d="M250.2 592.8l-4-3.4 6.2 3.2 3.9 3.5z" fill="#090e03"/>
<path d="M242.3 587.9l-4.1-3.2 6.2 2.9 4.1 3.2z" fill="#0b0e03"/>
<path d="M234.3 583.5l-4.2-2.9 6.2 2.6 4.2 3z" fill="#0e0e03"/>
<path d="M226.3 579.5l-4.3-2.7 6.2 2.2 4.3 2.7z" fill="#0f0e04"/>
<path d="M218.2 575.9l-4.5-2.4 6.2 1.9 4.4 2.4z" fill="#0f0d04"/>
<path d="M210.1 572.8l-4.6-2.1 6.2 1.6 4.6 2.2z" fill="#0f0b04"/>
<path d="M201.8 570.2l-4.7-1.8 6.2 1.3 4.7 1.9z" fill="#0f0a03"/>
<path d="M193.8 567.2l-3.6-.8 4.8 1.1 3.6 .8z" fill="#0f0903"/>
<path d="M185.4 565.6l-5-.3 6 1.5 5 .4z" fill="#0f0803"/>
<path d="M177.1 564.4l-5.1-0 6 1.1 5.1 .1z" fill="#0f0703"/>
<path d="M168.7 563.8l-5.1 .3 6 .8 5.1-.3z" fill="#0f0603"/>
<path d="M160.2 563.6l-5.1 .6 6 .5 5.1-.6z" fill="#0f0603"/>
<path d="M151.8 563.9l-5.1 1 6 .1 5.1-.9z" fill="#0f0603"/>
<path d="M143.3 564.8l-5.1 1.3 6-.2 5.1-1.2z" fill="#0f0603"/>
<path d="M134.9 566.1l-5.1 1.6 6-.5 5.1-1.6z" fill="#0f0603"/>
<path d="M126.5 568l-5.1 2 5.9-.8 5.1-1.9z" fill="#0f0703"/>
<path d="M118.1 570.3l-5.1 2.3 5.9-1.2 5.1-2.2z" fill="#0f0803"/>
<path d="M109.7 573.1l-5.1 2.6 5.8-1.5 5.1-2.5z" fill="#0f0a03"/>
<path d="M101.3 576.5l-5.1 2.9 5.8-1.8 5.1-2.9z" fill="#0f0b04"/>
<path d="M93 580.3l-5 3.2 5.7-2.1 5-3.2z" fill="#0f0c04"/>
<path d="M262.7 601.2l-3.8-3.7 6.2 3.7 3.8 3.7z" fill="#070d02"/>
<path d="M254.9 595.6l-3.9-3.5 6.2 3.4 3.9 3.5z" fill="#080e02"/>
<path d="M247.1 590.5l-4.1-3.2 6.2 3.1 4 3.3z" fill="#0b0e03"/>
<path d="M239.1 585.8l-4.2-3 6.2 2.8 4.1 3z" fill="#0d0e03"/>
<path d="M231.1 581.6l-4.3-2.7 6.3 2.5 4.3 2.8z" fill="#0e0e04"/>
<path d="M223 577.8l-4.4-2.5 6.3 2.2 4.4 2.5z" fill="#0f0d04"/>
<path d="M214.8 574.4l-4.5-2.2 6.3 1.8 4.5 2.2z" fill="#0f0c04"/>
<path d="M206.9 570.7l-4.9-1 6 2.4 4.9 1.1z" fill="#0f0a03"/>
<path d="M198.6 568.3l-5-.7 6 2 5 .8z" fill="#0f0903"/>
<path d="M190.2 566.4l-5-.4 6 1.7 5 .5z" fill="#0f0703"/>
<path d="M181.8 565l-5.1-.1 6.1 1.4 5 .1z" fill="#0f0603"/>
<path d="M173.4 564.1l-5.1 .2 6.1 1.1 5.1-.2z" fill="#0f0603"/>
<path d="M164.9 563.7l-5.1 .6 6.1 .7 5.1-.5z" fill="#0f0502"/>
<path d="M156.4 563.8l-5.1 .9 6.1 .4 5.1-.8z" fill="#0f0502"/>
<path d="M148 564.4l-5.1 1.2 6 .1 5.1-1.2z" fill="#0f0502"/>
<path d="M139.5 565.5l-5.1 1.6 6-.3 5.1-1.5z" fill="#0f0502"/>
<path d="M131 567.1l-5.1 1.9 6-.6 5.1-1.8z" fill="#0f0603"/>
<path d="M122.5 569.2l-5.1 2.2 5.9-.9 5.1-2.2z" fill="#0f0703"/>
<path d="M114.1 571.8l-5.1 2.5 5.9-1.2 5.1-2.5z" fill="#0f0803"/>
<path d="M105.7 574.9l-5.1 2.8 5.8-1.6 5.1-2.8z" fill="#0f0a03"/>
<path d="M97.3 578.4l-5.1 3.2 5.8-1.9 5.1-3.1z" fill="#0f0b04"/>
<path d="M89 582.5l-5 3.5 5.7-2.2 5-3.4z" fill="#0f0d04"/>
<path d="M267.5 604.5l-3.8-3.7 6.2 4 3.7 3.8z" fill="#060d02"/>
<path d="M259.7 598.7l-3.9-3.5 6.2 3.7 3.8 3.5z" fill="#080e02"/>
<path d="M251.9 593.3l-4-3.3 6.2 3.4 4 3.3z" fill="#0a0e03"/>
<path d="M243.9 588.4l-4.1-3 6.3 3.1 4.1 3.1z" fill="#0c0e03"/>
<path d="M235.9 583.9l-4.3-2.8 6.3 2.8 4.2 2.8z" fill="#0e0e04"/>
<path d="M228.2 579l-3.3-1.5 4.9 2.3 3.5 2.2z" fill="#0f0d04"/>
<path d="M220 575.4l-4.8-1.4 5.9 2.9 4.8 1.5z" fill="#0f0c04"/>
<path d="M211.7 572.3l-4.9-1.1 6 2.6 4.9 1.2z" fill="#0f0a03"/>
<path d="M203.4 569.7l-5-.8 6 2.3 4.9 .8z" fill="#0f0903"/>
<path d="M195 567.5l-5-.5 6.1 2 5 .5z" fill="#0f0703"/>
<path d="M186.6 565.8l-5.1-.2 6.1 1.6 5 .2z" fill="#0f0603"/>
<path d="M178.1 564.7l-5.1 .2 6.1 1.3 5.1-.1z" fill="#0f0502"/>
<path d="M169.6 564l-5.1 .5 6.1 1 5.1-.4z" fill="#0f0502"/>
<path d="M161.1 563.8l-5.1 .8 6.1 .6 5.1-.8z" fill="#0f0502"/>
<path d="M152.6 564.2l-5.2 1.1 6.1 .3 5.2-1.1z" fill="#0f0502"/>
<path d="M144.1 565l-5.2 1.5 6.1-0 5.2-1.4z" fill="#0f0502"/>
<path d="M135.6 566.3l-5.2 1.8 6-.4 5.2-1.8z" fill="#0f0502"/>
<path d="M127.1 568.2l-5.1 2.1 6-.7 5.2-2.1z" fill="#0f0603"/>
<path d="M118.6 570.6l-5.1 2.5 5.9-1 5.1-2.4z" fill="#0f0703"/>
<path d="M110.1 573.4l-5.1 2.8 5.9-1.3 5.1-2.7z" fill="#0f0803"/>
<path d="M101.7 576.8l-5.1 3.1 5.8-1.6 5.1-3z" fill="#0f0a03"/>
<path d="M93.3 580.6l-5.1 3.4 5.7-1.9 5.1-3.4z" fill="#0f0b04"/>
<path d="M85 585l-5 3.7 5.7-2.2 5-3.7z" fill="#0f0d04"/>
<path d="M272.3 608l-3.7-3.8 6.2 4.2 3.7 3.8z" fill="#060d02"/>
<path d="M264.5 602l-3.8-3.5 6.2 3.9 3.8 3.6z" fill="#070d02"/>
<path d="M256.7 596.4l-4-3.3 6.2 3.6 3.9 3.3z" fill="#090e03"/>
<path d="M248.8 591.2l-4.1-3.1 6.3 3.3 4.1 3.1z" fill="#0c0e03"/>
<path d="M241.2 585.6l-4.6-2 6.5 3.6 4 2.2z" fill="#0e0e03"/>
<path d="M233.1 581.3l-4.7-1.8 5.9 3.5 4.7 1.8z" fill="#0f0e04"/>
<path d="M224.8 577.5l-4.8-1.5 6 3.2 4.8 1.5z" fill="#0f0c04"/>
<path d="M216.6 574.1l-4.9-1.2 6 2.9 4.9 1.2z" fill="#0f0a03"/>
<path d="M208.2 571.2l-4.9-.9 6 2.6 4.9 .9z" fill="#0f0903"/>
<path d="M199.8 568.8l-5-.6 6.1 2.2 5 .6z" fill="#0f0703"/>
<path d="M191.4 566.9l-5-.2 6.1 1.9 5 .3z" fill="#0f0603"/>
<path d="M182.9 565.4l-5.1 .1 6.1 1.6 5.1-0z" fill="#0f0502"/>
<path d="M174.4 564.5l-5.1 .4 6.1 1.2 5.1-.4z" fill="#0f0502"/>
<path d="M165.9 564.1l-5.1 .7 6.1 .9 5.1-.7z" fill="#0f0502"/>
<path d="M157.3 564.2l-5.2 1.1 6.1 .6 5.2-1z" fill="#0f0502"/>
<path d="M148.8 564.7l-5.2 1.4 6.1 .2 5.2-1.4z" fill="#0f0502"/>
<path d="M140.2 565.8l-5.2 1.7 6.1-.1 5.2-1.7z" fill="#0f0502"/>
<path d="M131.6 567.4l-5.2 2.1 6-.4 5.2-2z" fill="#0f0502"/>
<path d="M123.1 569.6l-5.2 2.4 6-.8 5.2-2.3z" fill="#0f0602"/>
<path d="M114.6 572.2l-5.1 2.7 5.9-1.1 5.1-2.7z" fill="#0f0703"/>
<path d="M106.1 575.3l-5.1 3 5.9-1.4 5.1-3z" fill="#0f0803"/>
<path d="M97.7 578.9l-5.1 3.3 5.8-1.7 5.1-3.3z" fill="#0f0a03"/>
<path d="M89.3 583l-5.1 3.7 5.7-2 5.1-3.6z" fill="#0f0b04"/>
<path d="M80.9 587.6l-5 4 5.7-2.3 5-3.9z" fill="#0f0d04"/>
<path d="M277.1 611.8l-3.7-3.8 6.2 4.5 3.6 3.8z" fill="#050d02"/>
<path d="M269.4 605.5l-3.8-3.6 6.2 4.2 3.7 3.6z" fill="#070d02"/>
<path d="M261.4 599l-3.8-2.7 6.2 3.9 3.9 3.4z" fill="#090e02"/>
<path d="M254.1 593.4l-4.5-2.4 5.8 4.3 4.5 2.4z" fill="#0b0e03"/>
<path d="M246.1 588.4l-4.6-2.1 5.8 4 4.6 2.1z" fill="#0e0e03"/>
<path d="M237.9 583.9l-4.7-1.8 5.9 3.7 4.7 1.9z" fill="#0f0e04"/>
<path d="M229.7 579.8l-4.8-1.5 6 3.4 4.8 1.6z" fill="#0f0d04"/>
<path d="M221.4 576.1l-4.9-1.2 6 3.1 4.8 1.3z" fill="#0f0b03"/>
<path d="M213.1 573l-4.9-.9 6 2.8 4.9 1z" fill="#0f0903"/>
<path d="M204.7 570.3l-5-.6 6.1 2.5 5 .7z" fill="#0f0703"/>
<path d="M196.2 568.1l-5-.3 6.1 2.2 5 .4z" fill="#0f0603"/>
<path d="M187.7 566.4l-5.1 0 6.1 1.8 5.1 0z" fill="#0f0502"/>
<path d="M179.2 565.2l-5.1 .3 6.1 1.5 5.1-.3z" fill="#0f0502"/>
<path d="M170.6 564.5l-5.1 .7 6.1 1.2 5.1-.6z" fill="#0f0402"/>
<path d="M162.1 564.4l-5.2 1 6.1 .8 5.2-1z" fill="#0f0402"/>
<path d="M153.5 564.7l-5.2 1.3 6.1 .5 5.2-1.3z" fill="#0f0402"/>
<path d="M144.9 565.6l-5.2 1.7 6.1 .1 5.2-1.6z" fill="#0f0402"/>
<path d="M136.3 566.9l-5.2 2 6.1-.2 5.2-1.9z" fill="#0f0502"/>
<path d="M127.7 568.8l-5.2 2.3 6-.5 5.2-2.3z" fill="#0f0502"/>
<path d="M119.1 571.1l-5.2 2.6 6-.8 5.2-2.6z" fill="#0f0502"/>
<path d="M110.6 574l-5.1 3 5.9-1.1 5.1-2.9z" fill="#0f0703"/>
<path d="M102.1 577.4l-5.1 3.3 5.9-1.5 5.1-3.2z" fill="#0f0803"/>
<path d="M93.6 581.3l-5.1 3.6 5.8-1.8 5.1-3.6z" fill="#0f0a03"/>
<path d="M85.2 585.7l-5 3.9 5.7-2.1 5.1-3.9z" fill="#0f0c04"/>
<path d="M76.8 590.5l-5 4.2 5.6-2.3 5-4.2z" fill="#0f0e04"/>
<path d="M281.9 615.7l-3.6-3.8 6.2 4.7 3.6 3.8z" fill="#050d02"/>
<path d="M274.2 609.2l-3.7-3.6 6.2 4.4 3.7 3.6z" fill="#060d02"/>
<path d="M266.9 602.4l-4.4-2.7 5.7 4.8 4.4 2.7z" fill="#080e02"/>
<path d="M259 596.7l-4.5-2.4 5.8 4.6 4.5 2.4z" fill="#0a0e03"/>
<path d="M250.9 591.4l-4.6-2.2 5.8 4.3 4.6 2.2z" fill="#0d0e03"/>
<path d="M242.8 586.6l-4.7-1.9 5.9 4 4.6 1.9z" fill="#0e0e04"/>
<path d="M234.6 582.2l-4.8-1.6 6 3.7 4.7 1.6z" fill="#0f0d04"/>
<path d="M226.3 578.4l-4.8-1.3 6 3.4 4.8 1.3z" fill="#0f0b04"/>
<path d="M218 574.9l-4.9-1 6 3.1 4.9 1z" fill="#0f0903"/>
<path d="M209.6 572l-5-.7 6.1 2.7 4.9 .7z" fill="#0f0803"/>
<path d="M201.1 569.6l-5-.4 6.1 2.4 5 .4z" fill="#0f0603"/>
<path d="M192.6 567.6l-5.1-.1 6.1 2.1 5.1 .1z" fill="#0f0502"/>
<path d="M184 566.2l-5.1 .3 6.2 1.7 5.1-.2z" fill="#0f0502"/>
<path d="M175.5 565.2l-5.1 .6 6.2 1.4 5.1-.5z" fill="#0f0402"/>
<path d="M166.8 564.8l-5.2 .9 6.2 1.1 5.2-.9z" fill="#0f0402"/>
<path d="M158.2 564.9l-5.2 1.3 6.2 .7 5.2-1.2z" fill="#0f0402"/>
<path d="M149.6 565.5l-5.2 1.6 6.1 .4 5.2-1.5z" fill="#0f0402"/>
<path d="M140.9 566.6l-5.2 1.9 6.1 .1 5.2-1.9z" fill="#0f0402"/>
<path d="M132.3 568.2l-5.2 2.3 6.1-.3 5.2-2.2z" fill="#0f0402"/>
<path d="M123.7 570.3l-5.2 2.6 6-.6 5.2-2.5z" fill="#0f0502"/>
<path d="M115.1 573l-5.2 2.9 6-.9 5.2-2.9z" fill="#0f0502"/>
<path d="M106.5 576.1l-5.1 3.2 5.9-1.2 5.1-3.2z" fill="#0f0703"/>
<path d="M98 579.8l-5.1 3.5 5.9-1.5 5.1-3.5z" fill="#0f0903"/>
<path d="M89.5 583.9l-5.1 3.9 5.8-1.8 5.1-3.8z" fill="#0f0a03"/>
<path d="M81.1 588.5l-5 4.2 5.7-2.1 5.1-4.1z" fill="#0f0c04"/>
<path d="M72.7 593.7l-5 4.5 5.6-2.4 5-4.4z" fill="#0f0e04"/>
<path d="M286.7 619.8l-3.5-3.8 6.2 4.9 3.5 3.9z" fill="#050c02"/>
<path d="M279.6 612.4l-4.3-3 5.6 5.3 4.2 3z" fill="#060d02"/>
<path d="M271.8 606.1l-4.4-2.7 5.7 5.1 4.3 2.7z" fill="#070d02"/>
<path d="M263.9 600.1l-4.5-2.5 5.8 4.8 4.4 2.5z" fill="#090e03"/>
<path d="M255.8 594.6l-4.6-2.2 5.8 4.5 4.5 2.2z" fill="#0c0e03"/>
<path d="M247.7 589.6l-4.6-1.9 5.9 4.2 4.6 2z" fill="#0e0e03"/>
<path d="M239.5 585l-4.7-1.7 5.9 3.9 4.7 1.7z" fill="#0f0d04"/>
<path d="M231.3 580.8l-4.8-1.4 6 3.6 4.8 1.4z" fill="#0f0c04"/>
<path d="M222.9 577.2l-4.9-1.1 6.1 3.3 4.9 1.1z" fill="#0f0a03"/>
<path d="M214.5 574l-5-.8 6.1 3 4.9 .8z" fill="#0f0803"/>
<path d="M206 571.3l-5-.4 6.1 2.7 5 .5z" fill="#0f0603"/>
<path d="M197.5 569.1l-5.1-.1 6.2 2.3 5 .2z" fill="#0f0502"/>
<path d="M188.9 567.4l-5.1 .2 6.2 2 5.1-.2z" fill="#0f0502"/>
<path d="M180.3 566.2l-5.1 .5 6.2 1.7 5.1-.5z" fill="#0f0402"/>
<path d="M171.7 565.5l-5.2 .9 6.2 1.3 5.2-.8z" fill="#0f0402"/>
<path d="M163 565.3l-5.2 1.2 6.2 1 5.2-1.1z" fill="#0f0402"/>
<path d="M154.3 565.6l-5.2 1.5 6.2 .7 5.2-1.5z" fill="#0f0402"/>
<path d="M145.7 566.5l-5.2 1.9 6.2 .3 5.2-1.8z" fill="#0f0402"/>
<path d="M137 567.8l-5.2 2.2 6.1-0 5.2-2.1z" fill="#0f0402"/>
<path d="M128.3 569.7l-5.2 2.5 6.1-.3 5.2-2.5z" fill="#0f0402"/>
<path d="M119.7 572.1l-5.2 2.8 6-.7 5.2-2.8z" fill="#0f0502"/>
<path d="M111 575l-5.2 3.2 6-1 5.2-3.1z" fill="#0f0602"/>
<path d="M102.5 578.4l-5.1 3.5 5.9-1.3 5.2-3.4z" fill="#0f0703"/>
<path d="M93.9 582.3l-5.1 3.8 5.8-1.6 5.1-3.8z" fill="#0f0903"/>
<path d="M85.4 586.7l-5.1 4.1 5.8-1.9 5.1-4.1z" fill="#0f0b04"/>
<path d="M77 591.6l-5 4.4 5.7-2.2 5.1-4.4z" fill="#0f0d04"/>
<path d="M68.6 597l-5 4.7 5.6-2.4 5-4.7z" fill="#0f0e04"/>
<path d="M292.1 623.6l-4.1-3.2 6.2 5.8 3.4 3.2z" fill="#040c02"/>
<path d="M284.4 616.6l-4.2-3 5.6 5.6 4.2 3z" fill="#050d02"/>
<path d="M276.7 610l-4.3-2.8 5.7 5.3 4.3 2.8z" fill="#060d02"/>
<path d="M268.8 603.8l-4.4-2.5 5.7 5 4.4 2.5z" fill="#080e02"/>
<path d="M260.8 598.1l-4.5-2.3 5.8 4.8 4.5 2.3z" fill="#0b0e03"/>
<path d="M252.7 592.8l-4.6-2 5.9 4.5 4.6 2z" fill="#0e0e03"/>
<path d="M244.5 587.9l-4.7-1.7 5.9 4.2 4.7 1.7z" fill="#0f0e04"/>
<path d="M236.2 583.5l-4.8-1.4 6 3.9 4.8 1.5z" fill="#0f0c04"/>
<path d="M227.9 579.6l-4.9-1.1 6.1 3.6 4.8 1.2z" fill="#0f0a03"/>
<path d="M219.4 576.1l-4.9-.8 6.1 3.2 4.9 .9z" fill="#0f0803"/>
<path d="M211 573.2l-5-.5 6.1 2.9 5 .6z" fill="#0f0703"/>
<path d="M202.4 570.7l-5.1-.2 6.2 2.6 5 .2z" fill="#0f0502"/>
<path d="M193.8 568.8l-5.1 .1 6.2 2.3 5.1-.1z" fill="#0f0502"/>
<path d="M185.2 567.3l-5.1 .5 6.2 1.9 5.1-.4z" fill="#0f0402"/>
<path d="M176.5 566.3l-5.2 .8 6.2 1.6 5.2-.7z" fill="#0f0402"/>
<path d="M167.8 565.9l-5.2 1.1 6.2 1.3 5.2-1.1z" fill="#0f0402"/>
<path d="M159.1 566l-5.2 1.4 6.2 .9 5.2-1.4z" fill="#0f0402"/>
<path d="M150.4 566.6l-5.2 1.8 6.2 .6 5.2-1.7z" fill="#0f0402"/>
<path d="M141.7 567.7l-5.2 2.1 6.2 .3 5.2-2.1z" fill="#0f0402"/>
<path d="M133 569.3l-5.2 2.4 6.1-.1 5.2-2.4z" fill="#0f0402"/>
<path d="M124.3 571.4l-5.2 2.8 6.1-.4 5.2-2.7z" fill="#0f0402"/>
<path d="M115.6 574.1l-5.2 3.1 6-.7 5.2-3.1z" fill="#0f0502"/>
<path d="M107 577.3l-5.2 3.4 6-1 5.2-3.4z" fill="#0f0603"/>
<path d="M98.4 580.9l-5.1 3.7 5.9-1.3 5.2-3.7z" fill="#0f0803"/>
<path d="M89.8 585.1l-5.1 4 5.8-1.6 5.1-4z" fill="#0f0a03"/>
<path d="M81.3 589.8l-5.1 4.4 5.8-1.9 5.1-4.3z" fill="#0f0b04"/>
<path d="M72.9 594.9l-5 4.7 5.7-2.2 5-4.6z" fill="#0f0d04"/>
<path d="M64.5 600.6l-5 5 5.6-2.5 5-4.9z" fill="#0e0e04"/>
<path d="M296.9 628.2l-4.1-3.2 5.5 6.1 4 3.3z" fill="#040c02"/>
<path d="M289.3 620.9l-4.2-3 5.6 5.8 4.1 3z" fill="#050d02"/>
<path d="M281.5 614.1l-4.3-2.8 5.7 5.5 4.2 2.8z" fill="#060d02"/>
<path d="M273.7 607.7l-4.4-2.5 5.7 5.3 4.4 2.6z" fill="#080d02"/>
<path d="M265.7 601.7l-4.5-2.3 5.8 5 4.5 2.3z" fill="#0a0e03"/>
<path d="M257.6 596.2l-4.6-2 5.9 4.7 4.5 2.1z" fill="#0d0e03"/>
<path d="M249.4 591.1l-4.7-1.8 5.9 4.4 4.6 1.8z" fill="#0e0e04"/>
<path d="M241.2 586.4l-4.8-1.5 6 4.1 4.7 1.5z" fill="#0f0d04"/>
<path d="M232.8 582.3l-4.8-1.2 6.1 3.8 4.8 1.2z" fill="#0f0b04"/>
<path d="M224.4 578.6l-4.9-.9 6.1 3.5 4.9 .9z" fill="#0f0903"/>
<path d="M215.9 575.3l-5-.6 6.1 3.2 5 .6z" fill="#0f0703"/>
<path d="M207.4 572.6l-5-.3 6.2 2.9 5 .3z" fill="#0f0502"/>
<path d="M198.8 570.4l-5.1 .1 6.2 2.5 5.1-0z" fill="#0f0502"/>
<path d="M190.1 568.7l-5.1 .4 6.2 2.2 5.1-.3z" fill="#0f0402"/>
<path d="M181.4 567.4l-5.2 .7 6.2 1.9 5.2-.7z" fill="#0f0402"/>
<path d="M172.7 566.7l-5.2 1 6.2 1.5 5.2-1z" fill="#0f0402"/>
<path d="M164 566.6l-5.2 1.4 6.2 1.2 5.2-1.3z" fill="#0f0402"/>
<path d="M155.2 566.9l-5.2 1.7 6.2 .8 5.2-1.7z" fill="#130502"/>
<path d="M146.5 567.7l-5.2 2 6.2 .5 5.2-2z" fill="#180603"/>
<path d="M137.7 569.1l-5.2 2.4 6.2 .2 5.2-2.3z" fill="#1c0704"/>
<path d="M129 571l-5.2 2.7 6.1-.1 5.2-2.7z" fill="#1e0804"/>
<path d="M120.2 573.4l-5.2 3 6.1-.5 5.2-3z" fill="#1f0905"/>
<path d="M111.5 576.3l-5.2 3.4 6-.8 5.2-3.3z" fill="#1e0a05"/>
<path d="M102.9 579.8l-5.2 3.7 6-1.1 5.2-3.6z" fill="#1c0c05"/>
<path d="M94.3 583.7l-5.1 4 5.9-1.4 5.2-4z" fill="#190e05"/>
<path d="M85.7 588.1l-5.1 4.3 5.8-1.7 5.1-4.3z" fill="#150e05"/>
<path d="M77.2 593.1l-5.1 4.6 5.7-2 5.1-4.6z" fill="#0f0c04"/>
<path d="M68.7 598.5l-5 4.9 5.7-2.3 5-4.9z" fill="#0f0e04"/>
<path d="M60.3 604.4l-5 5.2 5.6-2.5 5-5.2z" fill="#0e0e03"/>
<path d="M301.8 633l-4-3.3 5.5 6.3 4 3.3z" fill="#040c02"/>
<path d="M294.2 625.5l-4.1-3.1 5.6 6 4.1 3.1z" fill="#040c02"/>
<path d="M286.4 618.5l-4.2-2.8 5.6 5.8 4.2 2.8z" fill="#050d02"/>
<path d="M278.6 611.8l-4.3-2.6 5.7 5.5 4.3 2.6z" fill="#070d02"/>
<path d="M270.6 605.6l-4.5-2.3 5.8 5.2 4.4 2.4z" fill="#090e03"/>
<path d="M262.6 599.8l-4.5-2.1 5.9 5 4.5 2.1z" fill="#0c0e03"/>
<path d="M254.4 594.5l-4.6-1.8 5.9 4.7 4.6 1.8z" fill="#0e0e03"/>
<path d="M246.1 589.6l-4.7-1.5 6 4.4 4.7 1.6z" fill="#0f0d04"/>
<path d="M237.8 585.1l-4.8-1.2 6.1 4.1 4.8 1.3z" fill="#0f0c04"/>
<path d="M229.4 581.2l-4.9-.9 6.1 3.8 4.9 1z" fill="#0f0a03"/>
<path d="M220.9 577.7l-5-.6 6.2 3.4 4.9 .7z" fill="#0f0803"/>
<path d="M212.3 574.7l-5-.3 6.2 3.1 5 .4z" fill="#0f0603"/>
<path d="M203.7 572.2l-5.1-0 6.2 2.8 5.1 0z" fill="#0f0502"/>
<path d="M195.1 570.2l-5.1 .3 6.2 2.5 5.1-.3z" fill="#0f0402"/>
<path d="M186.4 568.8l-5.2 .6 6.3 2.1 5.2-.6z" fill="#0f0402"/>
<path d="M177.6 567.8l-5.2 1 6.3 1.8 5.2-.9z" fill="#190603"/>
<path d="M168.9 567.4l-5.2 1.3 6.3 1.4 5.2-1.3z" fill="#220804"/>
<path d="M160.1 567.4l-5.2 1.6 6.3 1.1 5.2-1.6z" fill="#290905"/>
<path d="M151.3 568l-5.3 2 6.2 .8 5.2-1.9z" fill="#2e0b06"/>
<path d="M142.5 569.1l-5.3 2.3 6.2 .4 5.3-2.3z" fill="#310c06"/>
<path d="M133.7 570.8l-5.3 2.6 6.2 .1 5.3-2.6z" fill="#330d07"/>
<path d="M124.9 572.9l-5.2 3 6.1-.2 5.2-2.9z" fill="#340f07"/>
<path d="M116.2 575.6l-5.2 3.3 6.1-.5 5.2-3.3z" fill="#341008"/>
<path d="M107.5 578.8l-5.2 3.6 6-.9 5.2-3.6z" fill="#331208"/>
<path d="M98.8 582.5l-5.2 3.9 6-1.2 5.2-3.9z" fill="#311609"/>
<path d="M90.1 586.7l-5.1 4.2 5.9-1.5 5.2-4.2z" fill="#2d1b0a"/>
<path d="M81.5 591.4l-5.1 4.6 5.8-1.8 5.1-4.5z" fill="#291d0a"/>
<path d="M73 596.6l-5.1 4.9 5.7-2 5.1-4.8z" fill="#241e09"/>
<path d="M64.6 602.3l-5 5.2 5.6-2.3 5-5.1z" fill="#1c1a07"/>
<path d="M56.2 608.4l-5 5.4 5.5-2.6 5-5.4z" fill="#111304"/>
<path d="M299 630.3l-4.1-3.1 5.5 6.3 4.1 3.1z" fill="#040c02"/>
<path d="M291.3 623l-4.2-2.9 5.6 6 4.2 2.9z" fill="#050d02"/>
<path d="M283.5 616.2l-4.3-2.6 5.7 5.7 4.3 2.6z" fill="#060d02"/>
<path d="M275.6 609.7l-4.4-2.4 5.8 5.5 4.4 2.4z" fill="#080e02"/>
<path d="M267.5 603.7l-4.5-2.1 5.9 5.2 4.5 2.1z" fill="#0a0e03"/>
<path d="M259.4 598.1l-4.6-1.9 5.9 4.9 4.6 1.9z" fill="#0d0e03"/>
<path d="M251.1 592.9l-4.7-1.6 6 4.6 4.7 1.6z" fill="#0f0e04"/>
<path d="M242.8 588.3l-4.8-1.3 6.1 4.3 4.8 1.3z" fill="#0f0c04"/>
<path d="M234.4 584.1l-4.9-1 6.1 4 4.8 1z" fill="#0f0a03"/>
<path d="M225.9 580.3l-4.9-.7 6.2 3.7 4.9 .7z" fill="#0f0803"/>
<path d="M217.4 577.1l-5-.4 6.2 3.4 5 .4z" fill="#0f0603"/>
<path d="M208.7 574.3l-5.1-.1 6.2 3 5 .1z" fill="#0f0502"/>
<path d="M200.1 572.1l-5.1 .3 6.3 2.7 5.1-.2z" fill="#160703"/>
<path d="M191.3 570.3l-5.2 .6 6.3 2.4 5.1-.5z" fill="#220905"/>
<path d="M182.6 569.1l-5.2 .9 6.3 2.1 5.2-.9z" fill="#2c0b06"/>
<path d="M173.8 568.4l-5.2 1.2 6.3 1.7 5.2-1.2z" fill="#340c07"/>
<path d="M165 568.2l-5.2 1.6 6.3 1.4 5.2-1.5z" fill="#3b0d07"/>
<path d="M156.1 568.5l-5.3 1.9 6.3 1 5.3-1.9z" fill="#400e08"/>
<path d="M147.3 569.4l-5.3 2.2 6.3 .7 5.3-2.2z" fill="#430f08"/>
<path d="M138.5 570.8l-5.3 2.6 6.2 .4 5.3-2.5z" fill="#451109"/>
<path d="M129.7 572.7l-5.3 2.9 6.2 0 5.3-2.9z" fill="#471209"/>
<path d="M120.9 575.1l-5.2 3.2 6.1-.3 5.3-3.2z" fill="#47140a"/>
<path d="M112.1 578l-5.2 3.6 6.1-.6 5.2-3.5z" fill="#46160b"/>
<path d="M103.3 581.5l-5.2 3.9 6-.9 5.2-3.8z" fill="#44190b"/>
<path d="M94.6 585.5l-5.2 4.2 6-1.2 5.2-4.2z" fill="#42200d"/>
<path d="M86 589.9l-5.1 4.5 5.9-1.5 5.2-4.5z" fill="#3e280e"/>
<path d="M77.4 594.9l-5.1 4.8 5.8-1.8 5.1-4.8z" fill="#3b2c0e"/>
<path d="M68.9 600.4l-5.1 5.1 5.7-2.1 5.1-5.1z" fill="#362f0d"/>
<path d="M60.4 606.3l-5 5.4 5.6-2.4 5-5.4z" fill="#2b2b0b"/>
<path d="M296.2 627.8l-4.2-2.9 5.6 6.2 4.1 2.9z" fill="#050c02"/>
<path d="M288.4 620.7l-4.3-2.7 5.7 6 4.2 2.7z" fill="#060d02"/>
<path d="M280.5 614l-4.4-2.4 5.8 5.7 4.3 2.4z" fill="#070d02"/>
<path d="M272.5 607.8l-4.5-2.2 5.8 5.4 4.4 2.2z" fill="#090e03"/>
<path d="M264.4 601.9l-4.6-1.9 5.9 5.2 4.5 1.9z" fill="#0c0e03"/>
<path d="M256.1 596.5l-4.7-1.6 6 4.9 4.6 1.7z" fill="#0e0e04"/>
<path d="M247.8 591.6l-4.8-1.3 6 4.6 4.7 1.4z" fill="#0f0d04"/>
<path d="M239.4 587.1l-4.8-1 6.1 4.3 4.8 1.1z" fill="#0f0b04"/>
<path d="M230.9 583.2l-4.9-.7 6.2 4 4.9 .8z" fill="#0f0903"/>
<path d="M222.4 579.6l-5-.4 6.2 3.6 5 .5z" fill="#0f0703"/>
<path d="M213.8 576.6l-5.1-.1 6.2 3.3 5 .2z" fill="#1a0904"/>
<path d="M205.1 574.1l-5.1 .2 6.3 3 5.1-.2z" fill="#270c06"/>
<path d="M196.3 572.1l-5.2 .5 6.3 2.7 5.1-.5z" fill="#330e07"/>
<path d="M187.6 570.6l-5.2 .8 6.3 2.3 5.2-.8z" fill="#3c0f08"/>
<path d="M178.7 569.6l-5.2 1.2 6.3 2 5.2-1.1z" fill="#441008"/>
<path d="M169.9 569.2l-5.3 1.5 6.3 1.6 5.2-1.5z" fill="#4a1009"/>
<path d="M161 569.3l-5.3 1.8 6.3 1.3 5.3-1.8z" fill="#4e1109"/>
<path d="M152.2 569.9l-5.3 2.2 6.3 1 5.3-2.1z" fill="#52120a"/>
<path d="M143.3 571l-5.3 2.5 6.3 .6 5.3-2.5z" fill="#54130a"/>
<path d="M134.4 572.6l-5.3 2.8 6.2 .3 5.3-2.8z" fill="#56150b"/>
<path d="M125.6 574.8l-5.3 3.2 6.2-0 5.3-3.1z" fill="#56170c"/>
<path d="M116.7 577.5l-5.3 3.5 6.1-.3 5.3-3.5z" fill="#56190c"/>
<path d="M107.9 580.7l-5.2 3.8 6.1-.7 5.2-3.8z" fill="#541c0d"/>
<path d="M99.2 584.4l-5.2 4.1 6-1 5.2-4.1z" fill="#52220f"/>
<path d="M90.5 588.7l-5.2 4.5 5.9-1.3 5.2-4.4z" fill="#502b10"/>
<path d="M81.8 593.4l-5.1 4.8 5.9-1.6 5.1-4.7z" fill="#4d3412"/>
<path d="M73.2 598.6l-5.1 5.1 5.8-1.9 5.1-5z" fill="#493b12"/>
<path d="M64.7 604.4l-5.1 5.4 5.7-2.1 5.1-5.3z" fill="#423d10"/>
<path d="M293.3 625.5l-4.2-2.7 5.7 6.2 4.2 2.7z" fill="#050d02"/>
<path d="M285.4 618.6l-4.3-2.4 5.8 5.9 4.3 2.5z" fill="#060d02"/>
<path d="M277.5 612.1l-4.4-2.2 5.8 5.7 4.4 2.2z" fill="#080e02"/>
<path d="M269.4 606l-4.5-1.9 5.9 5.4 4.5 2z" fill="#0b0e03"/>
<path d="M261.2 600.4l-4.6-1.7 6 5.1 4.6 1.7z" fill="#0e0e03"/>
<path d="M252.9 595.2l-4.7-1.4 6 4.8 4.7 1.4z" fill="#0f0e04"/>
<path d="M244.5 590.5l-4.8-1.1 6.1 4.5 4.8 1.1z" fill="#0f0c04"/>
<path d="M236 586.2l-4.9-.8 6.2 4.2 4.9 .8z" fill="#0f0a03"/>
<path d="M227.4 582.5l-5-.5 6.2 3.9 4.9 .5z" fill="#1a0e05"/>
<path d="M218.8 579.2l-5-.2 6.3 3.6 5 .2z" fill="#291007"/>
<path d="M210.1 576.4l-5.1 .1 6.3 3.2 5.1-.1z" fill="#361108"/>
<path d="M201.4 574.1l-5.1 .5 6.3 2.9 5.1-.4z" fill="#411209"/>
<path d="M192.6 572.4l-5.2 .8 6.3 2.6 5.2-.7z" fill="#4a130a"/>
<path d="M183.7 571.1l-5.2 1.1 6.3 2.2 5.2-1.1z" fill="#51130a"/>
<path d="M174.9 570.4l-5.3 1.4 6.3 1.9 5.2-1.4z" fill="#56130a"/>
<path d="M166 570.2l-5.3 1.8 6.3 1.6 5.3-1.7z" fill="#5a130b"/>
<path d="M157.1 570.6l-5.3 2.1 6.3 1.2 5.3-2.1z" fill="#5e140b"/>
<path d="M148.2 571.4l-5.3 2.4 6.3 .9 5.3-2.4z" fill="#61150b"/>
<path d="M139.3 572.8l-5.3 2.8 6.3 .6 5.3-2.7z" fill="#63160c"/>
<path d="M130.4 574.7l-5.3 3.1 6.2 .2 5.3-3.1z" fill="#63180d"/>
<path d="M121.5 577.2l-5.3 3.4 6.2-.1 5.3-3.4z" fill="#631b0e"/>
<path d="M112.6 580.1l-5.3 3.8 6.1-.4 5.3-3.7z" fill="#621e0f"/>
<path d="M103.8 583.6l-5.2 4.1 6.1-.7 5.2-4z" fill="#612110"/>
<path d="M95 587.6l-5.2 4.4 6-1 5.2-4.4z" fill="#5f2b12"/>
<path d="M86.3 592.1l-5.2 4.7 5.9-1.3 5.2-4.7z" fill="#5c3714"/>
<path d="M77.6 597.1l-5.1 5 5.9-1.6 5.1-5z" fill="#5a4115"/>
<path d="M69 602.6l-5.1 5.3 5.8-1.9 5.1-5.3z" fill="#564a15"/>
<path d="M290.4 623.4l-4.3-2.5 5.7 6.2 4.3 2.5z" fill="#060d02"/>
<path d="M282.4 616.6l-4.4-2.2 5.8 5.9 4.4 2.3z" fill="#070d02"/>
<path d="M274.4 610.3l-4.5-2 5.9 5.6 4.5 2z" fill="#0a0e03"/>
<path d="M266.2 604.4l-4.6-1.7 6 5.4 4.6 1.7z" fill="#0d0e03"/>
<path d="M257.9 599l-4.7-1.4 6 5.1 4.7 1.5z" fill="#0e0e04"/>
<path d="M249.5 594l-4.8-1.1 6.1 4.8 4.8 1.2z" fill="#0f0d04"/>
<path d="M241.1 589.5l-4.9-.9 6.2 4.5 4.8 .9z" fill="#181106"/>
<path d="M232.5 585.5l-4.9-.5 6.2 4.1 4.9 .6z" fill="#291809"/>
<path d="M223.9 582l-5-.2 6.3 3.8 5 .3z" fill="#37180a"/>
<path d="M215.2 578.9l-5.1 .1 6.3 3.5 5.1-0z" fill="#43160b"/>
<path d="M206.4 576.4l-5.1 .4 6.3 3.2 5.1-.4z" fill="#4d170b"/>
<path d="M197.6 574.4l-5.2 .7 6.4 2.8 5.2-.7z" fill="#55160c"/>
<path d="M188.8 572.9l-5.2 1.1 6.4 2.5 5.2-1z" fill="#5c160c"/>
<path d="M179.9 571.9l-5.3 1.4 6.4 2.2 5.2-1.3z" fill="#61150c"/>
<path d="M171 571.4l-5.3 1.7 6.4 1.8 5.3-1.7z" fill="#65160c"/>
<path d="M162 571.5l-5.3 2.1 6.4 1.5 5.3-2z" fill="#68160c"/>
<path d="M153.1 572.1l-5.3 2.4 6.3 1.2 5.3-2.3z" fill="#6a170c"/>
<path d="M144.1 573.2l-5.3 2.7 6.3 .8 5.3-2.7z" fill="#6d180d"/>
<path d="M135.2 574.9l-5.3 3.1 6.3 .5 5.3-3z" fill="#6f190e"/>
<path d="M126.3 577l-5.3 3.4 6.2 .2 5.3-3.3z" fill="#6f1c0f"/>
<path d="M117.3 579.8l-5.3 3.7 6.2-.1 5.3-3.7z" fill="#6e1f10"/>
<path d="M108.5 583l-5.3 4 6.1-.5 5.3-4z" fill="#6d2211"/>
<path d="M99.6 586.7l-5.2 4.3 6.1-.8 5.2-4.3z" fill="#6b2812"/>
<path d="M90.8 591l-5.2 4.7 6-1.1 5.2-4.6z" fill="#6a3515"/>
<path d="M82.1 595.8l-5.2 5 5.9-1.4 5.2-4.9z" fill="#674317"/>
<path d="M73.4 601l-5.1 5.3 5.8-1.7 5.1-5.2z" fill="#654e18"/>
<path d="M287.4 621.4l-4.4-2.3 5.8 6.1 4.3 2.3z" fill="#070d02"/>
<path d="M279.4 614.8l-4.5-2 5.9 5.9 4.4 2z" fill="#090e02"/>
<path d="M271.2 608.7l-4.6-1.7 6 5.6 4.5 1.8z" fill="#0b0e03"/>
<path d="M263 603l-4.7-1.5 6 5.3 4.6 1.5z" fill="#0e0e03"/>
<path d="M254.6 597.8l-4.8-1.2 6.1 5 4.7 1.2z" fill="#131105"/>
<path d="M246.1 593.1l-4.8-.9 6.2 4.7 4.8 .9z" fill="#261d09"/>
<path d="M237.6 588.8l-4.9-.6 6.2 4.4 4.9 .6z" fill="#36220c"/>
<path d="M229 585l-5-.3 6.3 4.1 5 .3z" fill="#43210d"/>
<path d="M220.3 581.7l-5.1 0 6.3 3.8 5 0z" fill="#4d1c0d"/>
<path d="M211.5 578.9l-5.1 .3 6.3 3.4 5.1-.3z" fill="#571b0d"/>
<path d="M202.7 576.6l-5.2 .7 6.4 3.1 5.2-.6z" fill="#5f1a0d"/>
<path d="M193.8 574.8l-5.2 1 6.4 2.8 5.2-1z" fill="#66190d"/>
<path d="M184.9 573.6l-5.2 1.3 6.4 2.4 5.2-1.3z" fill="#6b180d"/>
<path d="M176 572.8l-5.3 1.7 6.4 2.1 5.3-1.6z" fill="#6e180d"/>
<path d="M167 572.6l-5.3 2 6.4 1.8 5.3-2z" fill="#71180d"/>
<path d="M158 573l-5.3 2.3 6.4 1.4 5.3-2.3z" fill="#73180d"/>
<path d="M149.1 573.8l-5.3 2.7 6.4 1.1 5.3-2.6z" fill="#75190e"/>
<path d="M140.1 575.2l-5.3 3 6.3 .8 5.3-2.9z" fill="#781a0e"/>
<path d="M131.1 577.2l-5.3 3.3 6.3 .4 5.3-3.3z" fill="#791c0f"/>
<path d="M122.1 579.6l-5.3 3.6 6.2 .1 5.3-3.6z" fill="#791f10"/>
<path d="M113.2 582.6l-5.3 4 6.2-.2 5.3-3.9z" fill="#782311"/>
<path d="M104.3 586.1l-5.3 4.3 6.1-.5 5.3-4.3z" fill="#762713"/>
<path d="M95.4 590.1l-5.2 4.6 6.1-.8 5.2-4.6z" fill="#753215"/>
<path d="M86.6 594.7l-5.2 4.9 6-1.1 5.2-4.9z" fill="#734118"/>
<path d="M77.9 599.7l-5.2 5.2 5.9-1.4 5.2-5.2z" fill="#71501a"/>
<path d="M284.4 619.6l-4.4-2 5.9 6.1 4.4 2.1z" fill="#080d02"/>
<path d="M276.3 613.2l-4.5-1.8 5.9 5.8 4.5 1.8z" fill="#0a0e03"/>
<path d="M268 607.3l-4.6-1.5 6 5.6 4.6 1.5z" fill="#0d0e03"/>
<path d="M259.7 601.8l-4.7-1.2 6.1 5.3 4.7 1.3z" fill="#1f1d08"/>
<path d="M251.2 596.8l-4.8-.9 6.2 5 4.8 1z" fill="#322a0c"/>
<path d="M242.7 592.3l-4.9-.6 6.2 4.7 4.9 .7z" fill="#412d0f"/>
<path d="M234.1 588.2l-5-.3 6.3 4.4 4.9 .4z" fill="#4d2b10"/>
<path d="M225.4 584.7l-5-0 6.3 4 5 .1z" fill="#57240f"/>
<path d="M216.6 581.6l-5.1 .3 6.3 3.7 5.1-.3z" fill="#60200f"/>
<path d="M207.8 579.1l-5.2 .6 6.4 3.4 5.1-.6z" fill="#671e0f"/>
<path d="M198.9 577l-5.2 .9 6.4 3.1 5.2-.9z" fill="#6e1c0f"/>
<path d="M190 575.5l-5.2 1.3 6.4 2.7 5.2-1.2z" fill="#731a0e"/>
<path d="M181 574.5l-5.3 1.6 6.4 2.4 5.3-1.6z" fill="#771a0e"/>
<path d="M172.1 574l-5.3 1.9 6.4 2 5.3-1.9z" fill="#79190e"/>
<path d="M163 574.1l-5.3 2.3 6.4 1.7 5.3-2.2z" fill="#7b1a0e"/>
<path d="M154 574.7l-5.3 2.6 6.4 1.4 5.3-2.6z" fill="#7d1a0e"/>
<path d="M145 575.8l-5.3 2.9 6.4 1 5.3-2.9z" fill="#7f1b0f"/>
<path d="M136 577.5l-5.3 3.3 6.3 .7 5.3-3.2z" fill="#811c10"/>
<path d="M127 579.7l-5.3 3.6 6.3 .4 5.3-3.6z" fill="#821f11"/>
<path d="M118 582.4l-5.3 3.9 6.2 .1 5.3-3.9z" fill="#812312"/>
<path d="M109 585.7l-5.3 4.2 6.2-.3 5.3-4.2z" fill="#802713"/>
<path d="M100.1 589.4l-5.3 4.6 6.1-.6 5.3-4.5z" fill="#7e2c15"/>
<path d="M91.2 593.7l-5.2 4.9 6.1-.9 5.2-4.8z" fill="#7d3c18"/>
<path d="M82.4 598.5l-5.2 5.2 6-1.2 5.2-5.1z" fill="#7b4e1b"/>
<path d="M281.3 617.9l-4.5-1.8 5.9 6.1 4.5 1.8z" fill="#090e03"/>
<path d="M273.1 611.8l-4.6-1.5 6 5.8 4.6 1.6z" fill="#111504"/>
<path d="M264.8 606.1l-4.7-1.3 6.1 5.5 4.7 1.3z" fill="#28280a"/>
<path d="M256.4 600.8l-4.8-1 6.1 5.2 4.8 1z" fill="#3d360f"/>
<path d="M247.8 596l-4.9-.7 6.2 4.9 4.8 .7z" fill="#4b3912"/>
<path d="M239.2 591.7l-4.9-.4 6.3 4.6 4.9 .4z" fill="#563613"/>
<path d="M230.5 587.9l-5-.1 6.3 4.3 5 .1z" fill="#602e12"/>
<path d="M221.8 584.6l-5.1 .2 6.4 4 5.1-.2z" fill="#672411"/>
<path d="M212.9 581.8l-5.1 .6 6.4 3.6 5.1-.5z" fill="#6f2211"/>
<path d="M204.1 579.5l-5.2 .9 6.4 3.3 5.2-.8z" fill="#752010"/>
<path d="M195.1 577.7l-5.2 1.2 6.4 3 5.2-1.2z" fill="#7a1d10"/>
<path d="M186.1 576.4l-5.3 1.5 6.4 2.7 5.3-1.5z" fill="#7e1c0f"/>
<path d="M177.1 575.7l-5.3 1.9 6.4 2.3 5.3-1.8z" fill="#801b0f"/>
<path d="M168.1 575.5l-5.3 2.2 6.4 2 5.3-2.2z" fill="#821b0f"/>
<path d="M159 575.8l-5.3 2.5 6.4 1.7 5.3-2.5z" fill="#841b0f"/>
<path d="M150 576.7l-5.3 2.9 6.4 1.3 5.3-2.8z" fill="#861c0f"/>
<path d="M140.9 578.1l-5.3 3.2 6.4 1 5.3-3.2z" fill="#881d10"/>
<path d="M131.8 580l-5.3 3.5 6.3 .7 5.3-3.5z" fill="#891f11"/>
<path d="M122.8 582.5l-5.3 3.9 6.3 .3 5.3-3.8z" fill="#892312"/>
<path d="M113.8 585.5l-5.3 4.2 6.2 0 5.3-4.1z" fill="#882713"/>
<path d="M104.8 589l-5.3 4.5 6.2-.3 5.3-4.5z" fill="#872c15"/>
<path d="M95.9 593l-5.3 4.8 6.1-.6 5.3-4.8z" fill="#863718"/>
<path d="M87 597.6l-5.2 5.1 6-.9 5.2-5.1z" fill="#84491b"/>
<path d="M278.2 616.5l-4.6-1.6 6 6 4.5 1.6z" fill="#161f06"/>
<path d="M269.9 610.6l-4.7-1.3 6.1 5.8 4.6 1.3z" fill="#2d320b"/>
<path d="M261.5 605l-4.8-1 6.1 5.5 4.7 1z" fill="#433f11"/>
<path d="M253 600l-4.8-.7 6.2 5.2 4.8 .8z" fill="#544515"/>
<path d="M244.4 595.4l-4.9-.4 6.3 4.9 4.9 .5z" fill="#5f4116"/>
<path d="M235.7 591.4l-5-.1 6.3 4.6 5 .2z" fill="#673915"/>
<path d="M226.9 587.8l-5.1 .2 6.4 4.2 5-.2z" fill="#6f2d14"/>
<path d="M218.1 584.7l-5.1 .5 6.4 3.9 5.1-.5z" fill="#762612"/>
<path d="M209.2 582.1l-5.2 .8 6.4 3.6 5.2-.8z" fill="#7c2312"/>
<path d="M200.3 580.1l-5.2 1.2 6.4 3.3 5.2-1.1z" fill="#812111"/>
<path d="M191.3 578.5l-5.2 1.5 6.4 2.9 5.2-1.5z" fill="#851e10"/>
<path d="M182.2 577.5l-5.2 1.8 6.4 2.6 5.2-1.8z" fill="#871d10"/>
<path d="M173.2 577.1l-5.2 2.1 6.4 2.3 5.2-2.1z" fill="#881c10"/>
<path d="M164.1 577.1l-5.2 2.5 6.4 1.9 5.2-2.4z" fill="#8a1c10"/>
<path d="M155 577.7l-5.3 2.8 6.3 1.6 5.3-2.8z" fill="#8b1d10"/>
<path d="M145.9 578.9l-5.3 3.1 6.3 1.3 5.3-3.1z" fill="#8d1e10"/>
<path d="M136.8 580.5l-5.3 3.5 6.3 .9 5.3-3.4z" fill="#901f11"/>
<path d="M127.7 582.7l-5.3 3.8 6.3 .6 5.3-3.7z" fill="#902212"/>
<path d="M118.6 585.5l-5.3 4.1 6.3 .3 5.3-4.1z" fill="#902614"/>
<path d="M109.6 588.8l-5.3 4.4 6.2-0 5.3-4.4z" fill="#8f2b15"/>
<path d="M100.6 592.6l-5.3 4.8 6.2-.4 5.3-4.7z" fill="#8d3117"/>
<path d="M91.6 596.9l-5.3 5.1 6.1-.7 5.3-5.1z" fill="#8c421b"/>
<path d="M275 615.3l-4.6-1.3 6.1 6 4.6 1.4z" fill="#2f390c"/>
<path d="M266.6 609.5l-4.7-1.1 6.1 5.7 4.7 1.1z" fill="#484812"/>
<path d="M258.1 604.2l-4.8-.8 6.2 5.4 4.8 .8z" fill="#5c5117"/>
<path d="M249.5 599.4l-4.9-.5 6.3 5.1 4.9 .5z" fill="#664d18"/>
<path d="M240.9 595.1l-5-.2 6.3 4.8 4.9 .2z" fill="#6e4518"/>
<path d="M232.1 591.2l-5 .1 6.4 4.5 5-.1z" fill="#753816"/>
<path d="M223.3 587.9l-5.1 .5 6.4 4.2 5.1-.4z" fill="#7b2b14"/>
<path d="M214.4 585l-5.1 .8 6.4 3.9 5.1-.7z" fill="#812813"/>
<path d="M205.4 582.7l-5.2 1.1 6.4 3.5 5.1-1.1z" fill="#862412"/>
<path d="M196.4 580.9l-5.2 1.4 6.4 3.2 5.1-1.4z" fill="#8b2112"/>
<path d="M187.4 579.6l-5.2 1.8 6.4 2.9 5.2-1.7z" fill="#8e1f11"/>
<path d="M178.3 578.9l-5.2 2.1 6.4 2.5 5.2-2.1z" fill="#8e1e10"/>
<path d="M169.2 578.7l-5.2 2.4 6.3 2.2 5.2-2.4z" fill="#8f1e10"/>
<path d="M160 579l-5.2 2.7 6.3 1.9 5.2-2.7z" fill="#911e10"/>
<path d="M150.9 579.9l-5.2 3.1 6.3 1.6 5.2-3z" fill="#921f11"/>
<path d="M141.7 581.3l-5.2 3.4 6.3 1.2 5.2-3.4z" fill="#952011"/>
<path d="M132.6 583.3l-5.2 3.7 6.3 .9 5.2-3.7z" fill="#972212"/>
<path d="M123.5 585.7l-5.2 4 6.2 .6 5.2-4z" fill="#962614"/>
<path d="M114.4 588.8l-5.3 4.4 6.2 .3 5.3-4.3z" fill="#952b15"/>
<path d="M105.4 592.3l-5.3 4.7 6.2-.1 5.3-4.7z" fill="#943017"/>
<path d="M96.3 596.4l-5.3 5 6.1-.4 5.3-5z" fill="#933c1a"/>
<path d="M271.7 614.2l-4.7-1.1 6.1 6 4.7 1.1z" fill="#484f12"/>
<path d="M263.3 608.7l-4.8-.8 6.2 5.7 4.8 .8z" fill="#5e5917"/>
<path d="M254.7 603.6l-4.9-.5 6.3 5.4 4.8 .5z" fill="#6d5a1b"/>
<path d="M246.1 599l-5-.2 6.3 5.1 4.9 .2z" fill="#75511b"/>
<path d="M237.3 594.9l-5 .1 6.4 4.8 5-.1z" fill="#7b4419"/>
<path d="M228.5 591.3l-5.1 .4 6.4 4.4 5.1-.4z" fill="#813617"/>
<path d="M219.6 588.2l-5.1 .7 6.4 4.1 5.1-.7z" fill="#862c15"/>
<path d="M210.6 585.6l-5.1 1.1 6.4 3.8 5.1-1z" fill="#8b2814"/>
<path d="M201.6 583.5l-5.1 1.4 6.4 3.5 5.1-1.4z" fill="#8f2413"/>
<path d="M192.5 582l-5.1 1.7 6.3 3.1 5.1-1.7z" fill="#932112"/>
<path d="M183.4 581l-5.1 2 6.3 2.8 5.1-2z" fill="#942011"/>
<path d="M174.3 580.5l-5.2 2.4 6.3 2.5 5.1-2.3z" fill="#951f11"/>
<path d="M165.1 580.6l-5.2 2.7 6.3 2.2 5.2-2.7z" fill="#961f11"/>
<path d="M155.9 581.2l-5.2 3 6.3 1.8 5.2-3z" fill="#971f11"/>
<path d="M146.8 582.3l-5.2 3.3 6.3 1.5 5.2-3.3z" fill="#992012"/>
<path d="M137.6 584l-5.2 3.7 6.3 1.2 5.2-3.6z" fill="#9c2213"/>
<path d="M128.4 586.2l-5.2 4 6.2 .9 5.2-3.9z" fill="#9c2514"/>
<path d="M119.3 589l-5.2 4.3 6.2 .5 5.2-4.3z" fill="#9b2a15"/>
<path d="M110.2 592.3l-5.2 4.6 6.2 .2 5.2-4.6z" fill="#9b2f17"/>
<path d="M101.1 596.1l-5.2 4.9 6.1-.1 5.2-4.9z" fill="#993519"/>
<path d="M268.4 613.3l-4.8-.8 6.2 5.9 4.7 .9z" fill="#5f6017"/>
<path d="M259.9 608l-4.8-.6 6.2 5.6 4.8 .6z" fill="#72661d"/>
<path d="M251.3 603.2l-4.9-.3 6.3 5.3 4.9 .3z" fill="#7b5e1d"/>
<path d="M242.5 598.8l-5 .1 6.4 5 5-0z" fill="#81521d"/>
<path d="M233.7 594.9l-5 .4 6.4 4.7 5-.4z" fill="#86421a"/>
<path d="M224.8 591.6l-5 .7 6.4 4.4 5-.7z" fill="#8b3217"/>
<path d="M215.8 588.7l-5 1 6.3 4 5-1z" fill="#902d16"/>
<path d="M206.8 586.4l-5.1 1.4 6.3 3.7 5-1.3z" fill="#942814"/>
<path d="M197.7 584.6l-5.1 1.7 6.3 3.4 5.1-1.6z" fill="#972513"/>
<path d="M188.6 583.3l-5.1 2 6.3 3.1 5.1-2z" fill="#9a2213"/>
<path d="M179.4 582.5l-5.1 2.3 6.3 2.8 5.1-2.3z" fill="#9a2112"/>
<path d="M170.3 582.3l-5.1 2.6 6.3 2.4 5.1-2.6z" fill="#992012"/>
<path d="M161 582.7l-5.1 3 6.3 2.1 5.1-2.9z" fill="#992011"/>
<path d="M151.8 583.5l-5.2 3.3 6.3 1.8 5.1-3.2z" fill="#9a2012"/>
<path d="M142.6 585l-5.2 3.6 6.2 1.5 5.2-3.6z" fill="#9c2212"/>
<path d="M133.4 586.9l-5.2 3.9 6.2 1.1 5.2-3.9z" fill="#9d2413"/>
<path d="M124.2 589.4l-5.2 4.2 6.2 .8 5.2-4.2z" fill="#9d2815"/>
<path d="M115.1 592.5l-5.2 4.6 6.2 .5 5.2-4.5z" fill="#9d2d17"/>
<path d="M105.9 596l-5.2 4.9 6.1 .2 5.2-4.8z" fill="#9d3419"/>
<path d="M265.1 612.7l-4.8-.6 6.2 5.9 4.8 .6z" fill="#726d1c"/>
<path d="M256.5 607.6l-4.9-.3 6.3 5.6 4.9 .3z" fill="#816c20"/>
<path d="M247.7 603l-4.9 0 6.3 5.3 4.9-0z" fill="#865f1f"/>
<path d="M238.9 598.8l-5 .4 6.3 4.9 4.9-.3z" fill="#8b501d"/>
<path d="M230 595.2l-5 .7 6.3 4.6 5-.6z" fill="#903e1a"/>
<path d="M221.1 592.1l-5 1 6.3 4.3 5-1z" fill="#943117"/>
<path d="M212 589.5l-5 1.3 6.3 4 5-1.3z" fill="#982d16"/>
<path d="M203 587.4l-5 1.6 6.3 3.7 5-1.6z" fill="#9b2815"/>
<path d="M193.8 585.9l-5.1 2 6.3 3.3 5-1.9z" fill="#9d2514"/>
<path d="M184.6 584.8l-5.1 2.3 6.3 3 5.1-2.2z" fill="#9c2213"/>
<path d="M175.4 584.4l-5.1 2.6 6.3 2.7 5.1-2.6z" fill="#9a2112"/>
<path d="M166.2 584.4l-5.1 2.9 6.3 2.4 5.1-2.9z" fill="#9a2012"/>
<path d="M156.9 585l-5.1 3.2 6.3 2.1 5.1-3.2z" fill="#9a2012"/>
<path d="M147.7 586.2l-5.1 3.5 6.2 1.7 5.1-3.5z" fill="#9b2112"/>
<path d="M138.4 587.9l-5.1 3.9 6.2 1.4 5.1-3.8z" fill="#9d2313"/>
<path d="M129.2 590.1l-5.1 4.2 6.2 1.1 5.1-4.1z" fill="#9d2614"/>
<path d="M120 592.9l-5.2 4.5 6.2 .8 5.2-4.5z" fill="#9d2b16"/>
<path d="M110.8 596.2l-5.2 4.8 6.1 .5 5.2-4.8z" fill="#9d3118"/>
<path d="M261.7 612.2l-4.9-.3 6.3 5.8 4.8 .3z" fill="#837721"/>
<path d="M253 607.4l-4.9 0 6.3 5.5 4.9 0z" fill="#8c6d22"/>
<path d="M244.2 603l-4.9 .3 6.3 5.2 4.9-.3z" fill="#905f21"/>
<path d="M235.3 599.1l-4.9 .6 6.3 4.9 4.9-.6z" fill="#944c1d"/>
<path d="M226.3 595.7l-4.9 1 6.3 4.6 4.9-.9z" fill="#973a1a"/>
<path d="M217.3 592.8l-5 1.3 6.3 4.2 4.9-1.3z" fill="#9b3118"/>
<path d="M208.2 590.5l-5 1.6 6.3 3.9 5-1.6z" fill="#9d2c16"/>
<path d="M199.1 588.7l-5 1.9 6.3 3.6 5-1.9z" fill="#9d2715"/>
<path d="M189.9 587.4l-5 2.2 6.3 3.3 5-2.2z" fill="#9d2413"/>
<path d="M180.6 586.6l-5 2.5 6.3 3 5-2.5z" fill="#9c2213"/>
<path d="M171.4 586.4l-5.1 2.9 6.3 2.7 5.1-2.8z" fill="#9b2112"/>
<path d="M162.1 586.7l-5.1 3.2 6.2 2.3 5.1-3.1z" fill="#9a2112"/>
<path d="M152.8 587.6l-5.1 3.5 6.2 2 5.1-3.5z" fill="#9b2112"/>
<path d="M143.5 589l-5.1 3.8 6.2 1.7 5.1-3.8z" fill="#9d2213"/>
<path d="M134.2 591l-5.1 4.1 6.2 1.4 5.1-4.1z" fill="#9d2514"/>
<path d="M125 593.5l-5.1 4.4 6.2 1.1 5.1-4.4z" fill="#9d2915"/>
<path d="M115.7 596.6l-5.1 4.8 6.1 .8 5.1-4.7z" fill="#9d2e17"/>
<path d="M258.2 612l-4.8-0 6.3 5.8 4.8 0z" fill="#917c24"/>
<path d="M249.5 607.4l-4.9 .3 6.3 5.4 4.8-.3z" fill="#956d23"/>
<path d="M240.6 603.2l-4.9 .6 6.3 5.1 4.9-.6z" fill="#985b21"/>
<path d="M231.6 599.6l-4.9 .9 6.3 4.8 4.9-.9z" fill="#9b481d"/>
<path d="M222.6 596.4l-4.9 1.2 6.3 4.5 4.9-1.2z" fill="#9d361a"/>
<path d="M213.5 593.8l-4.9 1.6 6.3 4.2 4.9-1.5z" fill="#9d3017"/>
<path d="M204.3 591.7l-5 1.9 6.3 3.9 5-1.8z" fill="#9d2b16"/>
<path d="M195.1 590.2l-5 2.2 6.3 3.6 5-2.2z" fill="#9d2614"/>
<path d="M185.9 589.1l-5 2.5 6.3 3.2 5-2.5z" fill="#9d2313"/>
<path d="M176.6 588.6l-5 2.8 6.3 2.9 5-2.8z" fill="#9c2213"/>
<path d="M167.3 588.7l-5.1 3.1 6.2 2.6 5-3.1z" fill="#9b2112"/>
<path d="M158 589.3l-5.1 3.4 6.2 2.3 5.1-3.4z" fill="#9b2112"/>
<path d="M148.6 590.5l-5.1 3.8 6.2 2 5.1-3.7z" fill="#9d2213"/>
<path d="M139.3 592.2l-5.1 4.1 6.2 1.7 5.1-4z" fill="#9d2514"/>
<path d="M130 594.4l-5.1 4.4 6.2 1.4 5.1-4.4z" fill="#9d2815"/>
<path d="M120.7 597.2l-5.1 4.7 6.1 1 5.1-4.7z" fill="#9d2d16"/>
<path d="M254.7 612l-4.8 .3 6.2 5.7 4.8-.3z" fill="#997c25"/>
<path d="M245.9 607.6l-4.8 .6 6.2 5.4 4.8-.6z" fill="#9c6b24"/>
<path d="M236.9 603.7l-4.9 .9 6.2 5.1 4.8-.9z" fill="#9f5720"/>
<path d="M227.9 600.3l-4.9 1.2 6.3 4.8 4.9-1.2z" fill="#9e421c"/>
<path d="M218.8 597.4l-4.9 1.5 6.3 4.4 4.9-1.5z" fill="#9d3419"/>
<path d="M209.6 595l-4.9 1.8 6.3 4.1 4.9-1.8z" fill="#9d2e17"/>
<path d="M200.4 593.2l-5 2.1 6.3 3.8 4.9-2.1z" fill="#9d2a15"/>
<path d="M191.1 591.9l-5 2.5 6.3 3.5 5-2.4z" fill="#9d2614"/>
<path d="M181.8 591.1l-5 2.8 6.3 3.2 5-2.7z" fill="#9d2313"/>
<path d="M172.5 590.9l-5 3.1 6.2 2.9 5-3.1z" fill="#9c2213"/>
<path d="M163.2 591.3l-5 3.4 6.2 2.6 5-3.4z" fill="#9c2213"/>
<path d="M153.8 592.1l-5.1 3.7 6.2 2.3 5.1-3.7z" fill="#9d2213"/>
<path d="M144.4 593.6l-5.1 4 6.2 1.9 5.1-4z" fill="#9d2414"/>
<path d="M135.1 595.5l-5.1 4.3 6.2 1.6 5.1-4.3z" fill="#9d2715"/>
<path d="M125.7 598.1l-5.1 4.7 6.2 1.3 5.1-4.6z" fill="#9d2b16"/>
<path d="M251.2 612.2l-4.8 .6 6.2 5.6 4.8-.5z" fill="#a17a26"/>
<path d="M242.2 608l-4.8 .9 6.2 5.3 4.8-.9z" fill="#a06724"/>
<path d="M233.2 604.3l-4.8 1.2 6.2 5 4.8-1.2z" fill="#9f501f"/>
<path d="M224.1 601.2l-4.9 1.5 6.2 4.7 4.8-1.5z" fill="#9d3c1b"/>
<path d="M215 598.6l-4.9 1.8 6.2 4.4 4.9-1.8z" fill="#9d3218"/>
<path d="M205.7 596.4l-4.9 2.1 6.3 4.1 4.9-2.1z" fill="#9d2d17"/>
<path d="M196.5 594.9l-5 2.4 6.3 3.8 4.9-2.4z" fill="#9d2915"/>
<path d="M187.1 593.9l-5 2.7 6.2 3.5 5-2.7z" fill="#9d2614"/>
<path d="M177.8 593.4l-5 3 6.2 3.2 5-3z" fill="#9d2413"/>
<path d="M168.4 593.4l-5 3.4 6.2 2.8 5-3.3z" fill="#9d2313"/>
<path d="M159 594l-5 3.7 6.2 2.5 5-3.6z" fill="#9d2313"/>
<path d="M149.6 595.2l-5.1 4 6.2 2.2 5-4z" fill="#9d2514"/>
<path d="M140.2 596.9l-5.1 4.3 6.2 1.9 5.1-4.3z" fill="#9d2714"/>
<path d="M130.8 599.2l-5.1 4.6 6.2 1.6 5.1-4.6z" fill="#9d2a16"/>
<path d="M247.6 612.6l-4.8 .9 6.2 5.6 4.7-.8z" fill="#a27526"/>
<path d="M238.6 608.7l-4.8 1.2 6.2 5.3 4.8-1.1z" fill="#a05f22"/>
<path d="M229.5 605.2l-4.8 1.5 6.2 5 4.8-1.4z" fill="#9e491e"/>
<path d="M220.3 602.3l-4.9 1.8 6.2 4.7 4.8-1.7z" fill="#9d371a"/>
<path d="M211.1 600l-4.9 2.1 6.2 4.4 4.9-2.1z" fill="#9d3118"/>
<path d="M201.8 598.1l-4.9 2.4 6.2 4.1 4.9-2.4z" fill="#9d2c16"/>
<path d="M192.4 596.8l-4.9 2.7 6.2 3.7 4.9-2.7z" fill="#9d2915"/>
<path d="M183.1 596.1l-5 3 6.2 3.4 5-3z" fill="#9d2614"/>
<path d="M173.7 595.9l-5 3.3 6.2 3.1 5-3.3z" fill="#9d2514"/>
<path d="M164.2 596.2l-5 3.6 6.2 2.8 5-3.6z" fill="#9d2414"/>
<path d="M154.8 597.1l-5 3.9 6.2 2.5 5-3.9z" fill="#9d2514"/>
<path d="M145.4 598.5l-5 4.3 6.2 2.2 5-4.2z" fill="#9d2714"/>
<path d="M135.9 600.5l-5.1 4.6 6.2 1.9 5.1-4.5z" fill="#9d2a15"/>
<path d="M243.9 613.2l-4.8 1.1 6.2 5.5 4.7-1.1z" fill="#a16e25"/>
<path d="M234.8 609.5l-4.8 1.4 6.2 5.2 4.8-1.4z" fill="#9f5821"/>
<path d="M225.7 606.4l-4.8 1.7 6.2 4.9 4.8-1.7z" fill="#9e441d"/>
<path d="M216.4 603.7l-4.9 2.1 6.2 4.6 4.8-2z" fill="#9d3619"/>
<path d="M207.1 601.6l-4.9 2.4 6.2 4.3 4.9-2.3z" fill="#9d3018"/>
<path d="M197.8 600.1l-4.9 2.7 6.2 4 4.9-2.6z" fill="#9d2c16"/>
<path d="M188.4 599l-4.9 3 6.2 3.7 4.9-2.9z" fill="#9d2915"/>
<path d="M179 598.5l-5 3.3 6.2 3.4 5-3.3z" fill="#9d2714"/>
<path d="M169.5 598.6l-5 3.6 6.2 3.1 5-3.6z" fill="#9d2614"/>
<path d="M160.1 599.2l-5 3.9 6.2 2.8 5-3.9z" fill="#9d2614"/>
<path d="M150.6 600.4l-5 4.2 6.2 2.5 5-4.2z" fill="#9d2815"/>
<path d="M141.1 602.1l-5 4.5 6.2 2.2 5-4.5z" fill="#9d2a15"/>
<path d="M240.2 614.1l-4.8 1.4 6.2 5.5 4.7-1.4z" fill="#a06924"/>
<path d="M231 610.7l-4.8 1.7 6.2 5.2 4.8-1.7z" fill="#9f5320"/>
<path d="M221.8 607.8l-4.8 2 6.2 4.9 4.8-2z" fill="#9e401c"/>
<path d="M212.5 605.4l-4.9 2.3 6.2 4.6 4.8-2.3z" fill="#9d3519"/>
<path d="M203.2 603.5l-4.9 2.6 6.2 4.3 4.9-2.6z" fill="#9d3017"/>
<path d="M193.8 602.2l-4.9 2.9 6.2 4 4.9-2.9z" fill="#9d2c16"/>
<path d="M184.3 601.5l-4.9 3.2 6.2 3.7 4.9-3.2z" fill="#9d2a15"/>
<path d="M174.9 601.3l-5 3.6 6.2 3.4 5-3.5z" fill="#9d2815"/>
<path d="M165.4 601.6l-5 3.9 6.2 3.1 5-3.8z" fill="#9d2815"/>
<path d="M155.9 602.5l-5 4.2 6.2 2.7 5-4.1z" fill="#9d2915"/>
<path d="M146.3 603.9l-5 4.5 6.2 2.4 5-4.5z" fill="#9d2b16"/>
<path d="M236.4 615.2l-4.8 1.7 6.2 5.4 4.7-1.7z" fill="#a06323"/>
<path d="M227.2 612l-4.8 2 6.2 5.1 4.8-2z" fill="#9f4f1f"/>
<path d="M217.9 609.4l-4.8 2.3 6.2 4.8 4.8-2.3z" fill="#9d3e1b"/>
<path d="M208.6 607.3l-4.9 2.6 6.2 4.5 4.8-2.6z" fill="#9d3419"/>
<path d="M199.2 605.7l-4.9 2.9 6.2 4.2 4.9-2.9z" fill="#9d3018"/>
<path d="M189.7 604.6l-4.9 3.2 6.2 3.9 4.9-3.2z" fill="#9d2d16"/>
<path d="M180.2 604.2l-4.9 3.5 6.2 3.6 4.9-3.5z" fill="#9d2b16"/>
<path d="M170.7 604.2l-5 3.8 6.2 3.3 5-3.8z" fill="#9d2a15"/>
<path d="M161.2 604.8l-5 4.1 6.2 3 5-4.1z" fill="#9d2a16"/>
<path d="M151.6 606l-5 4.4 6.2 2.7 5-4.4z" fill="#9d2c16"/>
<path d="M232.6 616.5l-4.8 2 6.2 5.4 4.7-2z" fill="#a05f22"/>
<path d="M223.3 613.6l-4.8 2.3 6.2 5.1 4.8-2.3z" fill="#9e4c1e"/>
<path d="M214 611.2l-4.8 2.6 6.2 4.8 4.8-2.6z" fill="#9d3c1b"/>
<path d="M204.6 609.4l-4.9 2.9 6.2 4.5 4.9-2.9z" fill="#9d3419"/>
<path d="M195.1 608.1l-4.9 3.2 6.2 4.2 4.9-3.2z" fill="#9d3118"/>
<path d="M185.6 607.3l-4.9 3.5 6.2 3.9 4.9-3.5z" fill="#9d2e17"/>
<path d="M176.1 607.1l-5 3.8 6.2 3.6 4.9-3.8z" fill="#9d2d16"/>
<path d="M166.5 607.4l-5 4.1 6.2 3.3 5-4.1z" fill="#9d2c16"/>
<path d="M156.9 608.3l-5 4.4 6.2 3 5-4.4z" fill="#9d2d16"/>
<path d="M228.8 618.1l-4.8 2.3 6.2 5.4 4.8-2.2z" fill="#9f5c21"/>
<path d="M219.4 615.5l-4.8 2.6 6.2 5.1 4.8-2.5z" fill="#9e4a1e"/>
<path d="M210 613.3l-4.8 2.9 6.2 4.8 4.8-2.8z" fill="#9d3c1b"/>
<path d="M200.5 611.8l-4.9 3.2 6.2 4.5 4.9-3.1z" fill="#9d3519"/>
<path d="M191 610.7l-4.9 3.5 6.3 4.2 4.9-3.4z" fill="#9d3218"/>
<path d="M181.4 610.2l-4.9 3.8 6.3 3.9 4.9-3.7z" fill="#9d3017"/>
<path d="M171.9 610.3l-5 4.1 6.2 3.6 4.9-4z" fill="#9d2f17"/>
<path d="M162.3 610.9l-5 4.4 6.2 3.3 5-4.4z" fill="#9d2f17"/>
<path d="M224.9 619.9l-4.8 2.5 6.2 5.3 4.8-2.5z" fill="#9f5a21"/>
<path d="M215.5 617.5l-4.8 2.8 6.2 5.1 4.8-2.8z" fill="#9e4a1e"/>
<path d="M206 615.7l-4.9 3.1 6.2 4.8 4.8-3.1z" fill="#9d3d1b"/>
<path d="M196.5 614.4l-4.9 3.4 6.3 4.5 4.9-3.4z" fill="#9d3619"/>
<path d="M186.9 613.6l-4.9 3.7 6.3 4.2 4.9-3.7z" fill="#9d3319"/>
<path d="M177.3 613.4l-4.9 4 6.3 3.8 4.9-4z" fill="#9d3218"/>
<path d="M167.6 613.8l-5 4.3 6.2 3.5 5-4.3z" fill="#9d3118"/>
<path d="M221 622l-4.8 2.8 6.2 5.3 4.8-2.8z" fill="#9f5921"/>
<path d="M211.5 619.9l-4.8 3.1 6.2 5 4.8-3.1z" fill="#9e4b1e"/>
<path d="M201.9 618.3l-4.9 3.4 6.3 4.7 4.8-3.4z" fill="#9d3f1c"/>
<path d="M192.3 617.3l-4.9 3.7 6.3 4.4 4.9-3.7z" fill="#9d371a"/>
<path d="M182.7 616.8l-4.9 4 6.3 4.1 4.9-4z" fill="#9d3519"/>
<path d="M173.1 616.8l-4.9 4.3 6.3 3.8 4.9-4.3z" fill="#9d3419"/>
<path d="M217 624.3l-4.8 3.1 6.2 5.3 4.8-3.1z" fill="#9f5a21"/>
<path d="M207.4 622.5l-4.8 3.4 6.3 5 4.8-3.4z" fill="#9e4d1e"/>
<path d="M197.8 621.2l-4.9 3.7 6.3 4.7 4.9-3.7z" fill="#9e431c"/>
<path d="M188.2 620.4l-4.9 4 6.3 4.4 4.9-4z" fill="#9d3c1b"/>
<path d="M178.5 620.2l-4.9 4.3 6.3 4.1 4.9-4.3z" fill="#9d381a"/>
<path d="M212.9 626.9l-4.8 3.4 6.3 5.3 4.8-3.3z" fill="#9f5b21"/>
<path d="M203.3 625.3l-4.9 3.7 6.3 5 4.8-3.6z" fill="#9f501f"/>
<path d="M193.7 624.3l-4.9 4 6.3 4.7 4.9-3.9z" fill="#9e481d"/>
<path d="M184 623.8l-4.9 4.3 6.3 4.4 4.9-4.2z" fill="#9e421c"/>
<path d="M208.9 629.7l-4.8 3.6 6.3 5.2 4.8-3.6z" fill="#a05e22"/>
<path d="M199.2 628.4l-4.9 3.9 6.3 4.9 4.9-3.9z" fill="#9f5420"/>
<path d="M189.5 627.6l-4.9 4.2 6.3 4.6 4.9-4.2z" fill="#9e4d1e"/>
<path d="M204.8 632.8l-4.9 3.9 6.3 5.2 4.8-3.9z" fill="#a06323"/>
<path d="M195 631.7l-4.9 4.2 6.3 4.9 4.9-4.2z" fill="#9f5a21"/>
<path d="M200.6 636.1l-4.9 4.2 6.3 5.2 4.9-4.2z" fill="#a06824"/>
</g>
<clipPath id="cle"><path d="M53 611l2-2 2-1.9 2-1.9 2-1.8 2-1.8 2-2.1 2-1.7 2-1.6 2-1.6 2-1.5 2-1.8 2-1.4 2-1.4 2-1.3 2-1.6 2-1.2 2-1.1 2-1.1 2-1.3 2-1 2-.9 2-1.1 2-.9 2-.8 2-.9 2-.8 2-.8 2-.7 2-.7 2-.7 2-.7 2-.6 2-.6 2-.6 2-.5 2-.5 2-.5 2-.5 2-.4 2-.4 2-.4 2-.3 2-.3 2-.3 2-.3 2-.2 2-.2 2-.2 2-.2 2-.1 2-.1 2-.1 2-0 2-0 2 0 2 0 2 .1 2 .1 2 .1 2 .1 2 .2 2 .2 2 .2 2 .2 2 .3 2 .3 2 .3 2 .4 2 .4 2 .4 2 .4 2 .5 2 .5 2 .5 2 .5 2 .6 2 .6 2 .6 2 .7 2 .7 2 .7 2 .7 2 .8 2 .8 2 .8 2 .9 2 .9 2 1 2 .9 2 1 2 1 2 1 2 1.1 2 1 2 1.2 2 1.2 2 1.1 2 1.2 2 1.3 2 1.2 2 1.3 2 1.4 2 1.3 2 1.4 2 1.4 2 1.4 2 1.5 2 1.5 2 1.5 2 1.6 2 1.5 2 1.6 2 1.7 2 1.7 2 1.7 2 1.7 2 1.8 2 1.8 2 1.8 2 1.9 2 1.9 2 1.9 2 2 2 2 2 2 2 2.1 1 3-2-1.5-2-1.8-2-2-2-1.6-2-1.5-2-1.5-2-1.4-2-1.3-2-1-2-1.1-2-1-2-.8-2-.9-2-.7-2-.6-2-.6-2-.4-2-.4-2-.3-2-.3-2-.2-2-.1-2 0-2 .1-2 .2-2 .2-2 .3-2 .4-2 .4-2 .5-2 .6-2 .5-2 .7-2 .8-2 .7-2 1-2 .8-2 1.1-2 1-2 1-2 1.3-2 1.1-2 1.2-2 1.6-2 1.3-2 1.4-2 1.4-2 1.8-2 1.5-2 1.6-2 1.7-2 1.3-2-1.1-2-1.6-2-2.1-2-1.5-2-1.5-2-1.5-2-1.4-2-1.4-2-1.4-2-1.4-2-1.3-2-1.7-2-1.2-2-1.2-2-1.2-2-1.2-2-1.1-2-1.5-2-1.1-2-1-2-1-2-1-2-1.2-2-.9-2-.9-2-.8-2-1.1-2-.8-2-.7-2-.7-2-.9-2-.6-2-.6-2-.8-2-.5-2-.5-2-.6-2-.4-2-.5-2-.4-2-.3-2-.4-2-.3-2-.3-2-.2-2-.2-2-.1-2-.1-2-.1-2-.1-2 0-2 .1-2 .1-2 .1-2 .2-2 .2-2 .3-2 .3-2 .4-2 .3-2 .4-2 .5-2 .5-2 .6-2 .6-2 .5-2 .7-2 .7-2 .8-2 .8-2 .9-2 .9-2 1.2-2 1z"/></clipPath><g clip-path="url(#cle)">
<path d="M53 617.9l2-2 2-1.9 2-1.9 2-1.8 2-1.8 2-2.1 2-1.7 2-1.6 2-1.6 2-1.5 2-1.8 2-1.4 2-1.4 2-1.3 2-1.6 2-1.2 2-1.1 2-1.1 2-1.3 2-1 2-.9 2-1.1 2-.9 2-.8 2-.9 2-.8 2-.8 2-.7 2-.7 2-.7 2-.7 2-.6 2-.6 2-.6 2-.5 2-.5 2-.5 2-.5 2-.4 2-.4 2-.4 2-.3 2-.3 2-.3 2-.3 2-.2 2-.2 2-.2 2-.2 2-.1 2-.1 2-.1 2-0 2-0 2 0 2 0 2 .1 2 .1 2 .1 2 .1 2 .2 2 .2 2 .2 2 .2 2 .3 2 .3 2 .3 2 .4 2 .4 2 .4 2 .4 2 .5 2 .5 2 .5 2 .5 2 .6 2 .6 2 .6 2 .7 2 .7 2 .7 2 .7 2 .8 2 .8 2 .8 2 .9 2 .9 2 1 2 .9 2 1 2 1 2 1 2 1.1 2 1 2 1.2 2 1.2 2 1.1 2 1.2 2 1.3 2 1.2 2 1.3 2 1.4 2 1.3 2 1.4 2 1.4 2 1.4 2 1.5 2 1.5 2 1.5 2 1.6 2 1.5 2 1.6 2 1.7 2 1.7 2 1.7 2 1.7 2 1.8 2 1.8 2 1.8 2 1.9 2 1.9 2 1.9 2 2 2 2 2 2 2 2.1" fill="none" stroke="#0a0602" stroke-opacity="0.22" stroke-width="7.5" stroke-linejoin="round"/>
<path d="M53 615.5l2-2 2-1.9 2-1.9 2-1.8 2-1.8 2-2.1 2-1.7 2-1.6 2-1.6 2-1.5 2-1.8 2-1.4 2-1.4 2-1.3 2-1.6 2-1.2 2-1.1 2-1.1 2-1.3 2-1 2-.9 2-1.1 2-.9 2-.8 2-.9 2-.8 2-.8 2-.7 2-.7 2-.7 2-.7 2-.6 2-.6 2-.6 2-.5 2-.5 2-.5 2-.5 2-.4 2-.4 2-.4 2-.3 2-.3 2-.3 2-.3 2-.2 2-.2 2-.2 2-.2 2-.1 2-.1 2-.1 2-0 2-0 2 0 2 0 2 .1 2 .1 2 .1 2 .1 2 .2 2 .2 2 .2 2 .2 2 .3 2 .3 2 .3 2 .4 2 .4 2 .4 2 .4 2 .5 2 .5 2 .5 2 .5 2 .6 2 .6 2 .6 2 .7 2 .7 2 .7 2 .7 2 .8 2 .8 2 .8 2 .9 2 .9 2 1 2 .9 2 1 2 1 2 1 2 1.1 2 1 2 1.2 2 1.2 2 1.1 2 1.2 2 1.3 2 1.2 2 1.3 2 1.4 2 1.3 2 1.4 2 1.4 2 1.4 2 1.5 2 1.5 2 1.5 2 1.6 2 1.5 2 1.6 2 1.7 2 1.7 2 1.7 2 1.7 2 1.8 2 1.8 2 1.8 2 1.9 2 1.9 2 1.9 2 2 2 2 2 2 2 2.1" fill="none" stroke="#0a0602" stroke-opacity="0.35" stroke-width="4.8" stroke-linejoin="round"/>
<path d="M53 613.5l2-2 2-1.9 2-1.9 2-1.8 2-1.8 2-2.1 2-1.7 2-1.6 2-1.6 2-1.5 2-1.8 2-1.4 2-1.4 2-1.3 2-1.6 2-1.2 2-1.1 2-1.1 2-1.3 2-1 2-.9 2-1.1 2-.9 2-.8 2-.9 2-.8 2-.8 2-.7 2-.7 2-.7 2-.7 2-.6 2-.6 2-.6 2-.5 2-.5 2-.5 2-.5 2-.4 2-.4 2-.4 2-.3 2-.3 2-.3 2-.3 2-.2 2-.2 2-.2 2-.2 2-.1 2-.1 2-.1 2-0 2-0 2 0 2 0 2 .1 2 .1 2 .1 2 .1 2 .2 2 .2 2 .2 2 .2 2 .3 2 .3 2 .3 2 .4 2 .4 2 .4 2 .4 2 .5 2 .5 2 .5 2 .5 2 .6 2 .6 2 .6 2 .7 2 .7 2 .7 2 .7 2 .8 2 .8 2 .8 2 .9 2 .9 2 1 2 .9 2 1 2 1 2 1 2 1.1 2 1 2 1.2 2 1.2 2 1.1 2 1.2 2 1.3 2 1.2 2 1.3 2 1.4 2 1.3 2 1.4 2 1.4 2 1.4 2 1.5 2 1.5 2 1.5 2 1.6 2 1.5 2 1.6 2 1.7 2 1.7 2 1.7 2 1.7 2 1.8 2 1.8 2 1.8 2 1.9 2 1.9 2 1.9 2 2 2 2 2 2 2 2.1" fill="none" stroke="#0a0602" stroke-opacity="0.7" stroke-width="3.9" stroke-linejoin="round"/>
</g>
<circle cx="56.2" cy="662.8" r="1" fill="#222"/>
<text x="51.6" y="662.2" class="t" text-anchor="end" textLength="17.8" lengthAdjust="spacingAndGlyphs">2000</text>
<circle cx="54.8" cy="643.8" r="1" fill="#222"/>
<text x="50.2" y="643.2" class="t" text-anchor="end" textLength="17.8" lengthAdjust="spacingAndGlyphs">3000</text>
<circle cx="53.3" cy="624.8" r="1" fill="#222"/>
<text x="48.7" y="624.2" class="t" text-anchor="end" textLength="17.8" lengthAdjust="spacingAndGlyphs">4000</text>
<circle cx="51.8" cy="605.7" r="1" fill="#222"/>
<text x="47.2" y="605.1" class="t" text-anchor="end" textLength="17.8" lengthAdjust="spacingAndGlyphs">5000</text>
<circle cx="50.4" cy="586.7" r="1" fill="#222"/>
<text x="45.8" y="586.1" class="t" text-anchor="end" textLength="17.8" lengthAdjust="spacingAndGlyphs">6000</text>
<circle cx="48.9" cy="567.7" r="1" fill="#222"/>
<text x="44.3" y="567.1" class="t" text-anchor="end" textLength="17.8" lengthAdjust="spacingAndGlyphs">7000</text>
<circle cx="47.5" cy="549" r="1" fill="#222"/>
<text x="42.9" y="548.4" class="t" text-anchor="end" textLength="17.8" lengthAdjust="spacingAndGlyphs">8000</text>
<text x="45" y="190.2" class="t" text-anchor="middle" textLength="15.6" lengthAdjust="spacingAndGlyphs">0.05</text>
<text x="75.4" y="202.8" class="t" text-anchor="middle" textLength="15.6" lengthAdjust="spacingAndGlyphs">0.16</text>
<text x="104.8" y="215.4" class="t" text-anchor="middle" textLength="15.6" lengthAdjust="spacingAndGlyphs">0.28</text>
<text x="134" y="227.8" class="t" text-anchor="middle" textLength="15.6" lengthAdjust="spacingAndGlyphs">0.39</text>
<text x="163.2" y="240.2" class="t" text-anchor="middle" textLength="15.6" lengthAdjust="spacingAndGlyphs">0.50</text>
<text x="187.9" y="240.5" class="t" text-anchor="middle" textLength="15.6" lengthAdjust="spacingAndGlyphs">0.10</text>
<text x="207" y="233.2" class="t" text-anchor="middle" textLength="15.6" lengthAdjust="spacingAndGlyphs">0.20</text>
<text x="225.8" y="226.5" class="t" text-anchor="middle" textLength="15.6" lengthAdjust="spacingAndGlyphs">0.30</text>
<text x="244.5" y="220.5" class="t" text-anchor="middle" textLength="15.6" lengthAdjust="spacingAndGlyphs">0.40</text>
<text x="262.5" y="214" class="t" text-anchor="middle" textLength="15.6" lengthAdjust="spacingAndGlyphs">0.50</text>
<text x="281.2" y="207.2" class="t" text-anchor="middle" textLength="15.6" lengthAdjust="spacingAndGlyphs">0.60</text>
<text x="300.4" y="200.7" class="t" text-anchor="middle" textLength="15.6" lengthAdjust="spacingAndGlyphs">0.70</text>
<text x="319" y="194.2" class="t" text-anchor="middle" textLength="15.6" lengthAdjust="spacingAndGlyphs">0.80</text>
<text x="400.8" y="190.1" class="t" text-anchor="middle" textLength="15.6" lengthAdjust="spacingAndGlyphs">5.00</text>
<text x="429" y="203.8" class="t" text-anchor="middle" textLength="15.6" lengthAdjust="spacingAndGlyphs">4.00</text>
<text x="456.8" y="218" class="t" text-anchor="middle" textLength="15.6" lengthAdjust="spacingAndGlyphs">3.00</text>
<text x="484" y="231.9" class="t" text-anchor="middle" textLength="15.6" lengthAdjust="spacingAndGlyphs">2.00</text>
<text x="513.5" y="245" class="t" text-anchor="middle" textLength="15.6" lengthAdjust="spacingAndGlyphs">1.00</text>
<text x="538.8" y="244.5" class="t" text-anchor="middle" textLength="15.6" lengthAdjust="spacingAndGlyphs">0.05</text>
<text x="572" y="232.2" class="t" text-anchor="middle" textLength="15.6" lengthAdjust="spacingAndGlyphs">0.16</text>
<text x="605.5" y="221.2" class="t" text-anchor="middle" textLength="15.6" lengthAdjust="spacingAndGlyphs">0.28</text>
<text x="640" y="209.2" class="t" text-anchor="middle" textLength="15.6" lengthAdjust="spacingAndGlyphs">0.39</text>
<text x="674.5" y="197.2" class="t" text-anchor="middle" textLength="15.6" lengthAdjust="spacingAndGlyphs">0.50</text>
<text x="45.2" y="446.7" class="t" text-anchor="middle" textLength="15.6" lengthAdjust="spacingAndGlyphs">5.00</text>
<text x="82.8" y="458" class="t" text-anchor="middle" textLength="15.6" lengthAdjust="spacingAndGlyphs">4.00</text>
<text x="120" y="469.1" class="t" text-anchor="middle" textLength="15.6" lengthAdjust="spacingAndGlyphs">3.00</text>
<text x="157" y="479.6" class="t" text-anchor="middle" textLength="15.6" lengthAdjust="spacingAndGlyphs">2.00</text>
<text x="199.2" y="490.1" class="t" text-anchor="middle" textLength="15.6" lengthAdjust="spacingAndGlyphs">1.00</text>
<text x="218.9" y="490.1" class="t" text-anchor="middle" textLength="15.6" lengthAdjust="spacingAndGlyphs">0.10</text>
<text x="232" y="482.2" class="t" text-anchor="middle" textLength="15.6" lengthAdjust="spacingAndGlyphs">0.20</text>
<text x="246.5" y="474.2" class="t" text-anchor="middle" textLength="15.6" lengthAdjust="spacingAndGlyphs">0.30</text>
<text x="261" y="465.7" class="t" text-anchor="middle" textLength="15.6" lengthAdjust="spacingAndGlyphs">0.40</text>
<text x="274" y="457.2" class="t" text-anchor="middle" textLength="15.6" lengthAdjust="spacingAndGlyphs">0.50</text>
<text x="288.5" y="448.6" class="t" text-anchor="middle" textLength="15.6" lengthAdjust="spacingAndGlyphs">0.60</text>
<text x="303" y="440.2" class="t" text-anchor="middle" textLength="15.6" lengthAdjust="spacingAndGlyphs">0.70</text>
<text x="316" y="431" class="t" text-anchor="middle" textLength="15.6" lengthAdjust="spacingAndGlyphs">0.80</text>
<text x="400.2" y="442.2" class="t" text-anchor="middle" textLength="15.6" lengthAdjust="spacingAndGlyphs">0.80</text>
<text x="418.9" y="451.2" class="t" text-anchor="middle" textLength="15.6" lengthAdjust="spacingAndGlyphs">0.70</text>
<text x="435.5" y="459.9" class="t" text-anchor="middle" textLength="15.6" lengthAdjust="spacingAndGlyphs">0.60</text>
<text x="453" y="467.8" class="t" text-anchor="middle" textLength="15.6" lengthAdjust="spacingAndGlyphs">0.50</text>
<text x="469.7" y="476.2" class="t" text-anchor="middle" textLength="15.6" lengthAdjust="spacingAndGlyphs">0.40</text>
<text x="487" y="484.8" class="t" text-anchor="middle" textLength="15.6" lengthAdjust="spacingAndGlyphs">0.30</text>
<text x="504.5" y="493.2" class="t" text-anchor="middle" textLength="15.6" lengthAdjust="spacingAndGlyphs">0.20</text>
<text x="522" y="501.2" class="t" text-anchor="middle" textLength="15.6" lengthAdjust="spacingAndGlyphs">0.10</text>
<text x="546.5" y="501.2" class="t" text-anchor="middle" textLength="15.6" lengthAdjust="spacingAndGlyphs">0.50</text>
<text x="578" y="486.7" class="t" text-anchor="middle" textLength="15.6" lengthAdjust="spacingAndGlyphs">0.39</text>
<text x="609.6" y="473" class="t" text-anchor="middle" textLength="15.6" lengthAdjust="spacingAndGlyphs">0.28</text>
<text x="641.3" y="458.6" class="t" text-anchor="middle" textLength="15.6" lengthAdjust="spacingAndGlyphs">0.16</text>
<text x="673" y="444.1" class="t" text-anchor="middle" textLength="15.6" lengthAdjust="spacingAndGlyphs">0.05</text>
<text x="46" y="706" class="t" text-anchor="middle" textLength="15.6" lengthAdjust="spacingAndGlyphs">0.50</text>
<text x="81.2" y="721" class="t" text-anchor="middle" textLength="15.6" lengthAdjust="spacingAndGlyphs">0.39</text>
<text x="117.3" y="735.7" class="t" text-anchor="middle" textLength="15.6" lengthAdjust="spacingAndGlyphs">0.28</text>
<text x="152.6" y="750.7" class="t" text-anchor="middle" textLength="15.6" lengthAdjust="spacingAndGlyphs">0.16</text>
<text x="188.6" y="764.2" class="t" text-anchor="middle" textLength="15.6" lengthAdjust="spacingAndGlyphs">0.05</text>
<text x="212.3" y="764.2" class="t" text-anchor="middle" textLength="15.6" lengthAdjust="spacingAndGlyphs">5.00</text>
<text x="237.7" y="746.5" class="t" text-anchor="middle" textLength="15.6" lengthAdjust="spacingAndGlyphs">4.00</text>
<text x="263.5" y="728.1" class="t" text-anchor="middle" textLength="15.6" lengthAdjust="spacingAndGlyphs">3.00</text>
<text x="288.5" y="709.7" class="t" text-anchor="middle" textLength="15.6" lengthAdjust="spacingAndGlyphs">2.00</text>
<text x="314.8" y="690" class="t" text-anchor="middle" textLength="15.6" lengthAdjust="spacingAndGlyphs">1.00</text>
<text x="36.8" y="231.3" class="at" textLength="60.4" lengthAdjust="spacingAndGlyphs">A: Peptone</text>
<text x="246" y="235.3" class="at" textLength="84.5" lengthAdjust="spacingAndGlyphs">B: Yeast extract</text>
<text x="379" y="233.3" class="at" textLength="78" lengthAdjust="spacingAndGlyphs">D: Wheat bran</text>
<text x="608.8" y="240.3" class="at" textLength="60.4" lengthAdjust="spacingAndGlyphs">A: Peptone</text>
<text x="52.5" y="490.8" class="at" textLength="76.2" lengthAdjust="spacingAndGlyphs">D: Wheat bran</text>
<text x="266" y="475.6" class="at" textLength="85.4" lengthAdjust="spacingAndGlyphs">B: Yeast extract</text>
<text x="383.4" y="490.3" class="at" textLength="85.3" lengthAdjust="spacingAndGlyphs">B: Yeast extract</text>
<text x="620.6" y="494.3" class="at" textLength="48.6" lengthAdjust="spacingAndGlyphs">C: KNO3</text>
<text x="63" y="762.3" class="at" textLength="50" lengthAdjust="spacingAndGlyphs">C: KNO3</text>
<text x="263.5" y="746.3" class="at" textLength="76.2" lengthAdjust="spacingAndGlyphs">D: Wheat bran</text>
<text transform="translate(16 171.3) rotate(-90)" x="0" y="0" class="yt" textLength="131.9" lengthAdjust="spacingAndGlyphs">Xylanase activity (IU/ml)</text>
<text transform="translate(370.4 171.7) rotate(-90)" x="0" y="0" class="yt" textLength="131.5" lengthAdjust="spacingAndGlyphs">Xylanase activity (IU/ml)</text>
<text transform="translate(12.2 429.5) rotate(-90)" x="0" y="0" class="yt" textLength="133.3" lengthAdjust="spacingAndGlyphs">Xylanase activity (IU/ml)</text>
<text transform="translate(368.4 425.7) rotate(-90)" x="0" y="0" class="yt" textLength="131.6" lengthAdjust="spacingAndGlyphs">Xylanase activity (IU/ml)</text>
<text transform="translate(13.4 691.8) rotate(-90)" x="0" y="0" class="yt" textLength="132.7" lengthAdjust="spacingAndGlyphs">Xylanase activity (IU/ml)</text>
<text x="8.8" y="21.2" class="pl">a</text>
<text x="362" y="25" class="pl">b</text>
<text x="6.6" y="277.6" class="pl">c</text>
<text x="357.8" y="280.1" class="pl">d</text>
<text x="5.8" y="542.8" class="pl">e</text>
<text x="363.6" y="537.3" class="pl">f</text>
<rect x="414.5" y="526.5" width="252.0" height="204.70000000000005" fill="none" stroke="#666" stroke-width="1"/>
<line x1="408" x2="414.5" y1="719.7" y2="719.7" stroke="#555" stroke-width="0.8"/>
<text x="404.5" y="722.1" class="tf" text-anchor="end">2000</text>
<line x1="408" x2="414.5" y1="689.3" y2="689.3" stroke="#555" stroke-width="0.8"/>
<text x="404.5" y="691.7" class="tf" text-anchor="end">3000</text>
<line x1="408" x2="414.5" y1="658.9" y2="658.9" stroke="#555" stroke-width="0.8"/>
<text x="404.5" y="661.3" class="tf" text-anchor="end">4000</text>
<line x1="408" x2="414.5" y1="628.5" y2="628.5" stroke="#555" stroke-width="0.8"/>
<text x="404.5" y="630.9" class="tf" text-anchor="end">5000</text>
<line x1="408" x2="414.5" y1="598.1" y2="598.1" stroke="#555" stroke-width="0.8"/>
<text x="404.5" y="600.5" class="tf" text-anchor="end">6000</text>
<line x1="408" x2="414.5" y1="567.7" y2="567.7" stroke="#555" stroke-width="0.8"/>
<text x="404.5" y="570.1" class="tf" text-anchor="end">7000</text>
<line x1="408" x2="414.5" y1="537.3" y2="537.3" stroke="#555" stroke-width="0.8"/>
<text x="404.5" y="539.7" class="tf" text-anchor="end">8000</text>
<line x1="428.7" x2="428.7" y1="731.2" y2="735.4" stroke="#555" stroke-width="0.8"/>
<text x="428.7" y="744.9" class="tf" text-anchor="middle">-1.000</text>
<line x1="484.5" x2="484.5" y1="731.2" y2="735.4" stroke="#555" stroke-width="0.8"/>
<text x="484.5" y="744.9" class="tf" text-anchor="middle">-0.500</text>
<line x1="540.2" x2="540.2" y1="731.2" y2="735.4" stroke="#555" stroke-width="0.8"/>
<text x="540.2" y="744.9" class="tf" text-anchor="middle">0.000</text>
<line x1="596" x2="596" y1="731.2" y2="735.4" stroke="#555" stroke-width="0.8"/>
<text x="596" y="744.9" class="tf" text-anchor="middle">0.500</text>
<line x1="651.7" x2="651.7" y1="731.2" y2="735.4" stroke="#555" stroke-width="0.8"/>
<text x="651.7" y="744.9" class="tf" text-anchor="middle">1.000</text>
<path d="M428.7 595.2 L434.3 593.2 L439.9 591.3 L445.4 589.6 L451 587.9 L456.6 586.4 L462.2 585 L467.7 583.7 L473.3 582.5 L478.9 581.5 L484.5 580.6 L490 579.7 L495.6 579 L501.2 578.5 L506.8 578 L512.3 577.7 L517.9 577.4 L523.5 577.3 L529.1 577.3 L534.6 577.5 L540.2 577.7 L545.8 578.1 L551.4 578.5 L556.9 579.1 L562.5 579.9 L568.1 580.7 L573.7 581.7 L579.2 582.7 L584.8 583.9 L590.4 585.2 L596 586.6 L601.5 588.2 L607.1 589.9 L612.7 591.6 L618.3 593.5 L623.8 595.6 L629.4 597.7 L635 599.9 L640.6 602.3 L646.1 604.8 L651.7 607.4" fill="none" stroke="#444" stroke-width="0.8"/>
<path d="M428.7 621.5 L434.3 618.3 L439.9 615.3 L445.4 612.3 L451 609.4 L456.6 606.7 L462.2 604 L467.7 601.5 L473.3 599 L478.9 596.7 L484.5 594.5 L490 592.3 L495.6 590.3 L501.2 588.3 L506.8 586.5 L512.3 584.8 L517.9 583.2 L523.5 581.6 L529.1 580.2 L534.6 578.9 L540.2 577.7 L545.8 576.6 L551.4 575.6 L556.9 574.7 L562.5 573.9 L568.1 573.2 L573.7 572.6 L579.2 572.1 L584.8 571.7 L590.4 571.4 L596 571.2 L601.5 571.2 L607.1 571.2 L612.7 571.3 L618.3 571.6 L623.8 571.9 L629.4 572.3 L635 572.9 L640.6 573.5 L646.1 574.3 L651.7 575.1" fill="none" stroke="#444" stroke-width="0.8"/>
<path d="M428.7 613.4 L434.3 609.8 L439.9 606.5 L445.4 603.3 L451 600.3 L456.6 597.5 L462.2 594.8 L467.7 592.4 L473.3 590.1 L478.9 588.1 L484.5 586.2 L490 584.5 L495.6 583 L501.2 581.7 L506.8 580.5 L512.3 579.6 L517.9 578.8 L523.5 578.3 L529.1 577.9 L534.6 577.7 L540.2 577.7 L545.8 577.9 L551.4 578.2 L556.9 578.8 L562.5 579.5 L568.1 580.5 L573.7 581.6 L579.2 582.9 L584.8 584.4 L590.4 586.1 L596 587.9 L601.5 590 L607.1 592.2 L612.7 594.7 L618.3 597.3 L623.8 600.1 L629.4 603.1 L635 606.2 L640.6 609.6 L646.1 613.2 L651.7 616.9" fill="none" stroke="#444" stroke-width="0.8"/>
<path d="M428.7 649.5 L434.3 644.1 L439.9 638.9 L445.4 633.8 L451 629 L456.6 624.4 L462.2 619.9 L467.7 615.7 L473.3 611.6 L478.9 607.7 L484.5 604 L490 600.5 L495.6 597.2 L501.2 594.1 L506.8 591.2 L512.3 588.5 L517.9 585.9 L523.5 583.6 L529.1 581.4 L534.6 579.5 L540.2 577.7 L545.8 576.1 L551.4 574.7 L556.9 573.5 L562.5 572.5 L568.1 571.7 L573.7 571.1 L579.2 570.7 L584.8 570.4 L590.4 570.4 L596 570.5 L601.5 570.9 L607.1 571.4 L612.7 572.1 L618.3 573 L623.8 574.1 L629.4 575.4 L635 576.9 L640.6 578.6 L646.1 580.4 L651.7 582.5" fill="none" stroke="#444" stroke-width="0.8"/>
<path d="M537 577.7 L540.2 575 L543.4 577.7 L540.2 580.4Z" fill="#111"/>
<text x="431.5" y="594.9" class="tl" text-anchor="middle">A</text>
<text x="431.8" y="614" class="tl" text-anchor="middle">C</text>
<text x="431.8" y="620" class="tl" text-anchor="middle">B</text>
<text x="432.2" y="647.5" class="tl" text-anchor="middle">D</text>
<text x="648.2" y="574.1" class="tl" text-anchor="middle">B</text>
<text x="648.2" y="582.1" class="tl" text-anchor="middle">D</text>
<text x="648.2" y="606.1" class="tl" text-anchor="middle">A</text>
<text x="648.2" y="616.3" class="tl" text-anchor="middle">C</text>
<text x="501.9" y="523.5" class="ti" textLength="74.5" lengthAdjust="spacingAndGlyphs">Perturbation</text>
<text x="429.4" y="766.5" class="at" textLength="219.3" lengthAdjust="spacingAndGlyphs">Deviation from Reference Point (Coded Units)</text>
<text transform="translate(369.9 685.7) rotate(-90)" class="yt" textLength="129.1" lengthAdjust="spacingAndGlyphs">Xylanase activity (IU/ml)</text>
</svg></body></html>
